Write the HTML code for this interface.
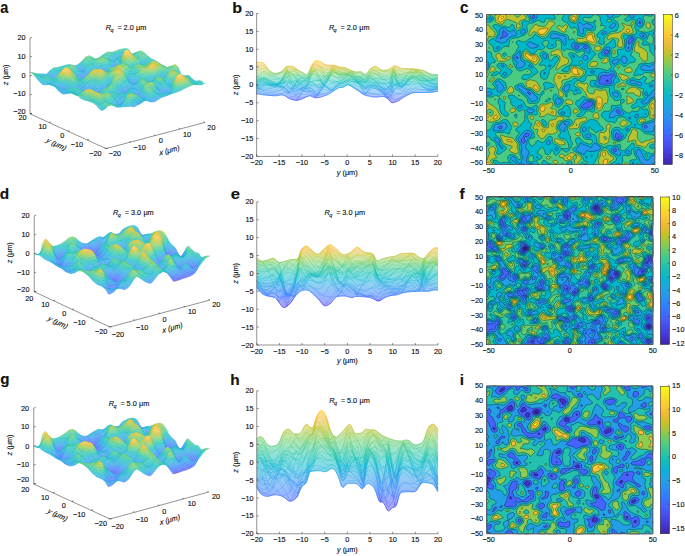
<!DOCTYPE html><html><head><meta charset="utf-8"><style>html,body{margin:0;padding:0;background:#fff;overflow:hidden}svg{display:block;font-family:"Liberation Sans",sans-serif}text{fill:#111;stroke:#111;stroke-width:.14px}</style></head><body><svg width="685" height="556" viewBox="0 0 685 556" font-family="Liberation Sans, sans-serif" fill="#000"><defs><linearGradient id="parv" x1="0" y1="0" x2="0" y2="1"><stop offset="0.0000" stop-color="#f9fb15"/><stop offset="0.0625" stop-color="#f5e327"/><stop offset="0.1250" stop-color="#feca33"/><stop offset="0.1875" stop-color="#f1ba37"/><stop offset="0.2500" stop-color="#c8c129"/><stop offset="0.3125" stop-color="#94ca4a"/><stop offset="0.3750" stop-color="#5ccc76"/><stop offset="0.4375" stop-color="#34c79c"/><stop offset="0.5000" stop-color="#12beb9"/><stop offset="0.5625" stop-color="#0cb3d3"/><stop offset="0.6250" stop-color="#21a3e3"/><stop offset="0.6875" stop-color="#2c90f0"/><stop offset="0.7500" stop-color="#347afd"/><stop offset="0.8125" stop-color="#4562fc"/><stop offset="0.8750" stop-color="#484cef"/><stop offset="0.9375" stop-color="#4536d5"/><stop offset="1.0000" stop-color="#3e26a8"/></linearGradient><linearGradient id="Af"><stop offset="0" stop-color="#7463c1"/><stop offset="0.0833" stop-color="#7a73e9"/><stop offset="0.167" stop-color="#7a89fb"/><stop offset="0.25" stop-color="#6d9ffd"/><stop offset="0.333" stop-color="#64b4f1"/><stop offset="0.417" stop-color="#58c5e4"/><stop offset="0.5" stop-color="#54d0cd"/><stop offset="0.583" stop-color="#73d8af"/><stop offset="0.667" stop-color="#a4da87"/><stop offset="0.75" stop-color="#d8d265"/><stop offset="0.833" stop-color="#fccf73"/><stop offset="0.917" stop-color="#fae566"/><stop offset="1" stop-color="#fbfc56"/></linearGradient><linearGradient id="As"><stop offset="0" stop-color="#3e26a8"/><stop offset="0.0833" stop-color="#463de0"/><stop offset="0.167" stop-color="#475bf9"/><stop offset="0.25" stop-color="#347afd"/><stop offset="0.333" stop-color="#2797eb"/><stop offset="0.417" stop-color="#17aeda"/><stop offset="0.5" stop-color="#12beb9"/><stop offset="0.583" stop-color="#3dc990"/><stop offset="0.667" stop-color="#81cc59"/><stop offset="0.75" stop-color="#c8c129"/><stop offset="0.833" stop-color="#fbbc3d"/><stop offset="0.917" stop-color="#f7db2b"/><stop offset="1" stop-color="#f9fb15"/></linearGradient><linearGradient id="Af79" href="#Af" gradientUnits="userSpaceOnUse" x1="320" y1="305" x2="292" y2="199"/><linearGradient id="As79" href="#As" gradientUnits="userSpaceOnUse" x1="320" y1="305" x2="292" y2="199"/><linearGradient id="Af78" href="#Af" gradientUnits="userSpaceOnUse" x1="324" y1="307" x2="296" y2="201"/><linearGradient id="As78" href="#As" gradientUnits="userSpaceOnUse" x1="324" y1="307" x2="296" y2="201"/><linearGradient id="Af77" href="#Af" gradientUnits="userSpaceOnUse" x1="328" y1="309" x2="299" y2="202"/><linearGradient id="As77" href="#As" gradientUnits="userSpaceOnUse" x1="328" y1="309" x2="299" y2="202"/><linearGradient id="Af76" href="#Af" gradientUnits="userSpaceOnUse" x1="331" y1="310" x2="303" y2="204"/><linearGradient id="As76" href="#As" gradientUnits="userSpaceOnUse" x1="331" y1="310" x2="303" y2="204"/><linearGradient id="Af75" href="#Af" gradientUnits="userSpaceOnUse" x1="335" y1="312" x2="307" y2="206"/><linearGradient id="As75" href="#As" gradientUnits="userSpaceOnUse" x1="335" y1="312" x2="307" y2="206"/><linearGradient id="Af74" href="#Af" gradientUnits="userSpaceOnUse" x1="339" y1="314" x2="311" y2="208"/><linearGradient id="As74" href="#As" gradientUnits="userSpaceOnUse" x1="339" y1="314" x2="311" y2="208"/><linearGradient id="Af73" href="#Af" gradientUnits="userSpaceOnUse" x1="343" y1="316" x2="315" y2="209"/><linearGradient id="As73" href="#As" gradientUnits="userSpaceOnUse" x1="343" y1="316" x2="315" y2="209"/><linearGradient id="Af72" href="#Af" gradientUnits="userSpaceOnUse" x1="346" y1="317" x2="318" y2="211"/><linearGradient id="As72" href="#As" gradientUnits="userSpaceOnUse" x1="346" y1="317" x2="318" y2="211"/><linearGradient id="Af71" href="#Af" gradientUnits="userSpaceOnUse" x1="350" y1="319" x2="322" y2="213"/><linearGradient id="As71" href="#As" gradientUnits="userSpaceOnUse" x1="350" y1="319" x2="322" y2="213"/><linearGradient id="Af70" href="#Af" gradientUnits="userSpaceOnUse" x1="354" y1="321" x2="326" y2="215"/><linearGradient id="As70" href="#As" gradientUnits="userSpaceOnUse" x1="354" y1="321" x2="326" y2="215"/><linearGradient id="Af69" href="#Af" gradientUnits="userSpaceOnUse" x1="358" y1="323" x2="330" y2="216"/><linearGradient id="As69" href="#As" gradientUnits="userSpaceOnUse" x1="358" y1="323" x2="330" y2="216"/><linearGradient id="Af68" href="#Af" gradientUnits="userSpaceOnUse" x1="362" y1="324" x2="334" y2="218"/><linearGradient id="As68" href="#As" gradientUnits="userSpaceOnUse" x1="362" y1="324" x2="334" y2="218"/><linearGradient id="Af67" href="#Af" gradientUnits="userSpaceOnUse" x1="366" y1="326" x2="337" y2="220"/><linearGradient id="As67" href="#As" gradientUnits="userSpaceOnUse" x1="366" y1="326" x2="337" y2="220"/><linearGradient id="Af66" href="#Af" gradientUnits="userSpaceOnUse" x1="369" y1="328" x2="341" y2="221"/><linearGradient id="As66" href="#As" gradientUnits="userSpaceOnUse" x1="369" y1="328" x2="341" y2="221"/><linearGradient id="Af65" href="#Af" gradientUnits="userSpaceOnUse" x1="373" y1="329" x2="345" y2="223"/><linearGradient id="As65" href="#As" gradientUnits="userSpaceOnUse" x1="373" y1="329" x2="345" y2="223"/><linearGradient id="Af64" href="#Af" gradientUnits="userSpaceOnUse" x1="377" y1="331" x2="349" y2="225"/><linearGradient id="As64" href="#As" gradientUnits="userSpaceOnUse" x1="377" y1="331" x2="349" y2="225"/><linearGradient id="Af63" href="#Af" gradientUnits="userSpaceOnUse" x1="381" y1="333" x2="353" y2="227"/><linearGradient id="As63" href="#As" gradientUnits="userSpaceOnUse" x1="381" y1="333" x2="353" y2="227"/><linearGradient id="Af62" href="#Af" gradientUnits="userSpaceOnUse" x1="384" y1="335" x2="356" y2="228"/><linearGradient id="As62" href="#As" gradientUnits="userSpaceOnUse" x1="384" y1="335" x2="356" y2="228"/><linearGradient id="Af61" href="#Af" gradientUnits="userSpaceOnUse" x1="388" y1="336" x2="360" y2="230"/><linearGradient id="As61" href="#As" gradientUnits="userSpaceOnUse" x1="388" y1="336" x2="360" y2="230"/><linearGradient id="Af60" href="#Af" gradientUnits="userSpaceOnUse" x1="392" y1="338" x2="364" y2="232"/><linearGradient id="As60" href="#As" gradientUnits="userSpaceOnUse" x1="392" y1="338" x2="364" y2="232"/><linearGradient id="Af59" href="#Af" gradientUnits="userSpaceOnUse" x1="396" y1="340" x2="368" y2="234"/><linearGradient id="As59" href="#As" gradientUnits="userSpaceOnUse" x1="396" y1="340" x2="368" y2="234"/><linearGradient id="Af58" href="#Af" gradientUnits="userSpaceOnUse" x1="400" y1="342" x2="372" y2="235"/><linearGradient id="As58" href="#As" gradientUnits="userSpaceOnUse" x1="400" y1="342" x2="372" y2="235"/><linearGradient id="Af57" href="#Af" gradientUnits="userSpaceOnUse" x1="404" y1="343" x2="375" y2="237"/><linearGradient id="As57" href="#As" gradientUnits="userSpaceOnUse" x1="404" y1="343" x2="375" y2="237"/><linearGradient id="Af56" href="#Af" gradientUnits="userSpaceOnUse" x1="407" y1="345" x2="379" y2="239"/><linearGradient id="As56" href="#As" gradientUnits="userSpaceOnUse" x1="407" y1="345" x2="379" y2="239"/><linearGradient id="Af55" href="#Af" gradientUnits="userSpaceOnUse" x1="411" y1="347" x2="383" y2="241"/><linearGradient id="As55" href="#As" gradientUnits="userSpaceOnUse" x1="411" y1="347" x2="383" y2="241"/><linearGradient id="Af54" href="#Af" gradientUnits="userSpaceOnUse" x1="415" y1="349" x2="387" y2="242"/><linearGradient id="As54" href="#As" gradientUnits="userSpaceOnUse" x1="415" y1="349" x2="387" y2="242"/><linearGradient id="Af53" href="#Af" gradientUnits="userSpaceOnUse" x1="419" y1="350" x2="391" y2="244"/><linearGradient id="As53" href="#As" gradientUnits="userSpaceOnUse" x1="419" y1="350" x2="391" y2="244"/><linearGradient id="Af52" href="#Af" gradientUnits="userSpaceOnUse" x1="422" y1="352" x2="394" y2="246"/><linearGradient id="As52" href="#As" gradientUnits="userSpaceOnUse" x1="422" y1="352" x2="394" y2="246"/><linearGradient id="Af51" href="#Af" gradientUnits="userSpaceOnUse" x1="426" y1="354" x2="398" y2="248"/><linearGradient id="As51" href="#As" gradientUnits="userSpaceOnUse" x1="426" y1="354" x2="398" y2="248"/><linearGradient id="Af50" href="#Af" gradientUnits="userSpaceOnUse" x1="430" y1="356" x2="402" y2="249"/><linearGradient id="As50" href="#As" gradientUnits="userSpaceOnUse" x1="430" y1="356" x2="402" y2="249"/><linearGradient id="Af49" href="#Af" gradientUnits="userSpaceOnUse" x1="434" y1="357" x2="406" y2="251"/><linearGradient id="As49" href="#As" gradientUnits="userSpaceOnUse" x1="434" y1="357" x2="406" y2="251"/><linearGradient id="Af48" href="#Af" gradientUnits="userSpaceOnUse" x1="438" y1="359" x2="410" y2="253"/><linearGradient id="As48" href="#As" gradientUnits="userSpaceOnUse" x1="438" y1="359" x2="410" y2="253"/><linearGradient id="Af47" href="#Af" gradientUnits="userSpaceOnUse" x1="442" y1="361" x2="413" y2="255"/><linearGradient id="As47" href="#As" gradientUnits="userSpaceOnUse" x1="442" y1="361" x2="413" y2="255"/><linearGradient id="Af46" href="#Af" gradientUnits="userSpaceOnUse" x1="445" y1="363" x2="417" y2="256"/><linearGradient id="As46" href="#As" gradientUnits="userSpaceOnUse" x1="445" y1="363" x2="417" y2="256"/><linearGradient id="Af45" href="#Af" gradientUnits="userSpaceOnUse" x1="449" y1="364" x2="421" y2="258"/><linearGradient id="As45" href="#As" gradientUnits="userSpaceOnUse" x1="449" y1="364" x2="421" y2="258"/><linearGradient id="Af44" href="#Af" gradientUnits="userSpaceOnUse" x1="453" y1="366" x2="425" y2="260"/><linearGradient id="As44" href="#As" gradientUnits="userSpaceOnUse" x1="453" y1="366" x2="425" y2="260"/><linearGradient id="Af43" href="#Af" gradientUnits="userSpaceOnUse" x1="457" y1="368" x2="429" y2="262"/><linearGradient id="As43" href="#As" gradientUnits="userSpaceOnUse" x1="457" y1="368" x2="429" y2="262"/><linearGradient id="Af42" href="#Af" gradientUnits="userSpaceOnUse" x1="460" y1="370" x2="432" y2="263"/><linearGradient id="As42" href="#As" gradientUnits="userSpaceOnUse" x1="460" y1="370" x2="432" y2="263"/><linearGradient id="Af41" href="#Af" gradientUnits="userSpaceOnUse" x1="464" y1="371" x2="436" y2="265"/><linearGradient id="As41" href="#As" gradientUnits="userSpaceOnUse" x1="464" y1="371" x2="436" y2="265"/><linearGradient id="Af40" href="#Af" gradientUnits="userSpaceOnUse" x1="468" y1="373" x2="440" y2="267"/><linearGradient id="As40" href="#As" gradientUnits="userSpaceOnUse" x1="468" y1="373" x2="440" y2="267"/><linearGradient id="Af39" href="#Af" gradientUnits="userSpaceOnUse" x1="472" y1="375" x2="444" y2="268"/><linearGradient id="As39" href="#As" gradientUnits="userSpaceOnUse" x1="472" y1="375" x2="444" y2="268"/><linearGradient id="Af38" href="#Af" gradientUnits="userSpaceOnUse" x1="476" y1="376" x2="448" y2="270"/><linearGradient id="As38" href="#As" gradientUnits="userSpaceOnUse" x1="476" y1="376" x2="448" y2="270"/><linearGradient id="Af37" href="#Af" gradientUnits="userSpaceOnUse" x1="480" y1="378" x2="451" y2="272"/><linearGradient id="As37" href="#As" gradientUnits="userSpaceOnUse" x1="480" y1="378" x2="451" y2="272"/><linearGradient id="Af36" href="#Af" gradientUnits="userSpaceOnUse" x1="483" y1="380" x2="455" y2="274"/><linearGradient id="As36" href="#As" gradientUnits="userSpaceOnUse" x1="483" y1="380" x2="455" y2="274"/><linearGradient id="Af35" href="#Af" gradientUnits="userSpaceOnUse" x1="487" y1="382" x2="459" y2="275"/><linearGradient id="As35" href="#As" gradientUnits="userSpaceOnUse" x1="487" y1="382" x2="459" y2="275"/><linearGradient id="Af34" href="#Af" gradientUnits="userSpaceOnUse" x1="491" y1="383" x2="463" y2="277"/><linearGradient id="As34" href="#As" gradientUnits="userSpaceOnUse" x1="491" y1="383" x2="463" y2="277"/><linearGradient id="Af33" href="#Af" gradientUnits="userSpaceOnUse" x1="495" y1="385" x2="467" y2="279"/><linearGradient id="As33" href="#As" gradientUnits="userSpaceOnUse" x1="495" y1="385" x2="467" y2="279"/><linearGradient id="Af32" href="#Af" gradientUnits="userSpaceOnUse" x1="498" y1="387" x2="470" y2="281"/><linearGradient id="As32" href="#As" gradientUnits="userSpaceOnUse" x1="498" y1="387" x2="470" y2="281"/><linearGradient id="Af31" href="#Af" gradientUnits="userSpaceOnUse" x1="502" y1="389" x2="474" y2="282"/><linearGradient id="As31" href="#As" gradientUnits="userSpaceOnUse" x1="502" y1="389" x2="474" y2="282"/><linearGradient id="Af30" href="#Af" gradientUnits="userSpaceOnUse" x1="506" y1="390" x2="478" y2="284"/><linearGradient id="As30" href="#As" gradientUnits="userSpaceOnUse" x1="506" y1="390" x2="478" y2="284"/><linearGradient id="Af29" href="#Af" gradientUnits="userSpaceOnUse" x1="510" y1="392" x2="482" y2="286"/><linearGradient id="As29" href="#As" gradientUnits="userSpaceOnUse" x1="510" y1="392" x2="482" y2="286"/><linearGradient id="Af28" href="#Af" gradientUnits="userSpaceOnUse" x1="514" y1="394" x2="486" y2="288"/><linearGradient id="As28" href="#As" gradientUnits="userSpaceOnUse" x1="514" y1="394" x2="486" y2="288"/><linearGradient id="Af27" href="#Af" gradientUnits="userSpaceOnUse" x1="518" y1="396" x2="489" y2="289"/><linearGradient id="As27" href="#As" gradientUnits="userSpaceOnUse" x1="518" y1="396" x2="489" y2="289"/><linearGradient id="Af26" href="#Af" gradientUnits="userSpaceOnUse" x1="521" y1="397" x2="493" y2="291"/><linearGradient id="As26" href="#As" gradientUnits="userSpaceOnUse" x1="521" y1="397" x2="493" y2="291"/><linearGradient id="Af25" href="#Af" gradientUnits="userSpaceOnUse" x1="525" y1="399" x2="497" y2="293"/><linearGradient id="As25" href="#As" gradientUnits="userSpaceOnUse" x1="525" y1="399" x2="497" y2="293"/><linearGradient id="Af24" href="#Af" gradientUnits="userSpaceOnUse" x1="529" y1="401" x2="501" y2="295"/><linearGradient id="As24" href="#As" gradientUnits="userSpaceOnUse" x1="529" y1="401" x2="501" y2="295"/><linearGradient id="Af23" href="#Af" gradientUnits="userSpaceOnUse" x1="533" y1="403" x2="505" y2="296"/><linearGradient id="As23" href="#As" gradientUnits="userSpaceOnUse" x1="533" y1="403" x2="505" y2="296"/><linearGradient id="Af22" href="#Af" gradientUnits="userSpaceOnUse" x1="536" y1="404" x2="508" y2="298"/><linearGradient id="As22" href="#As" gradientUnits="userSpaceOnUse" x1="536" y1="404" x2="508" y2="298"/><linearGradient id="Af21" href="#Af" gradientUnits="userSpaceOnUse" x1="540" y1="406" x2="512" y2="300"/><linearGradient id="As21" href="#As" gradientUnits="userSpaceOnUse" x1="540" y1="406" x2="512" y2="300"/><linearGradient id="Af20" href="#Af" gradientUnits="userSpaceOnUse" x1="544" y1="408" x2="516" y2="302"/><linearGradient id="As20" href="#As" gradientUnits="userSpaceOnUse" x1="544" y1="408" x2="516" y2="302"/><linearGradient id="Af19" href="#Af" gradientUnits="userSpaceOnUse" x1="548" y1="410" x2="520" y2="303"/><linearGradient id="As19" href="#As" gradientUnits="userSpaceOnUse" x1="548" y1="410" x2="520" y2="303"/><linearGradient id="Af18" href="#Af" gradientUnits="userSpaceOnUse" x1="552" y1="411" x2="524" y2="305"/><linearGradient id="As18" href="#As" gradientUnits="userSpaceOnUse" x1="552" y1="411" x2="524" y2="305"/><linearGradient id="Af17" href="#Af" gradientUnits="userSpaceOnUse" x1="556" y1="413" x2="527" y2="307"/><linearGradient id="As17" href="#As" gradientUnits="userSpaceOnUse" x1="556" y1="413" x2="527" y2="307"/><linearGradient id="Af16" href="#Af" gradientUnits="userSpaceOnUse" x1="559" y1="415" x2="531" y2="308"/><linearGradient id="As16" href="#As" gradientUnits="userSpaceOnUse" x1="559" y1="415" x2="531" y2="308"/><linearGradient id="Af15" href="#Af" gradientUnits="userSpaceOnUse" x1="563" y1="416" x2="535" y2="310"/><linearGradient id="As15" href="#As" gradientUnits="userSpaceOnUse" x1="563" y1="416" x2="535" y2="310"/><linearGradient id="Af14" href="#Af" gradientUnits="userSpaceOnUse" x1="567" y1="418" x2="539" y2="312"/><linearGradient id="As14" href="#As" gradientUnits="userSpaceOnUse" x1="567" y1="418" x2="539" y2="312"/><linearGradient id="Af13" href="#Af" gradientUnits="userSpaceOnUse" x1="571" y1="420" x2="543" y2="314"/><linearGradient id="As13" href="#As" gradientUnits="userSpaceOnUse" x1="571" y1="420" x2="543" y2="314"/><linearGradient id="Af12" href="#Af" gradientUnits="userSpaceOnUse" x1="574" y1="422" x2="546" y2="315"/><linearGradient id="As12" href="#As" gradientUnits="userSpaceOnUse" x1="574" y1="422" x2="546" y2="315"/><linearGradient id="Af11" href="#Af" gradientUnits="userSpaceOnUse" x1="578" y1="423" x2="550" y2="317"/><linearGradient id="As11" href="#As" gradientUnits="userSpaceOnUse" x1="578" y1="423" x2="550" y2="317"/><linearGradient id="Af10" href="#Af" gradientUnits="userSpaceOnUse" x1="582" y1="425" x2="554" y2="319"/><linearGradient id="As10" href="#As" gradientUnits="userSpaceOnUse" x1="582" y1="425" x2="554" y2="319"/><linearGradient id="Af9" href="#Af" gradientUnits="userSpaceOnUse" x1="586" y1="427" x2="558" y2="321"/><linearGradient id="As9" href="#As" gradientUnits="userSpaceOnUse" x1="586" y1="427" x2="558" y2="321"/><linearGradient id="Af8" href="#Af" gradientUnits="userSpaceOnUse" x1="590" y1="429" x2="562" y2="322"/><linearGradient id="As8" href="#As" gradientUnits="userSpaceOnUse" x1="590" y1="429" x2="562" y2="322"/><linearGradient id="Af7" href="#Af" gradientUnits="userSpaceOnUse" x1="594" y1="430" x2="565" y2="324"/><linearGradient id="As7" href="#As" gradientUnits="userSpaceOnUse" x1="594" y1="430" x2="565" y2="324"/><linearGradient id="Af6" href="#Af" gradientUnits="userSpaceOnUse" x1="597" y1="432" x2="569" y2="326"/><linearGradient id="As6" href="#As" gradientUnits="userSpaceOnUse" x1="597" y1="432" x2="569" y2="326"/><linearGradient id="Af5" href="#Af" gradientUnits="userSpaceOnUse" x1="601" y1="434" x2="573" y2="328"/><linearGradient id="As5" href="#As" gradientUnits="userSpaceOnUse" x1="601" y1="434" x2="573" y2="328"/><linearGradient id="Af4" href="#Af" gradientUnits="userSpaceOnUse" x1="605" y1="436" x2="577" y2="329"/><linearGradient id="As4" href="#As" gradientUnits="userSpaceOnUse" x1="605" y1="436" x2="577" y2="329"/><linearGradient id="Af3" href="#Af" gradientUnits="userSpaceOnUse" x1="609" y1="437" x2="581" y2="331"/><linearGradient id="As3" href="#As" gradientUnits="userSpaceOnUse" x1="609" y1="437" x2="581" y2="331"/><linearGradient id="Af2" href="#Af" gradientUnits="userSpaceOnUse" x1="612" y1="439" x2="584" y2="333"/><linearGradient id="As2" href="#As" gradientUnits="userSpaceOnUse" x1="612" y1="439" x2="584" y2="333"/><linearGradient id="Af1" href="#Af" gradientUnits="userSpaceOnUse" x1="616" y1="441" x2="588" y2="335"/><linearGradient id="As1" href="#As" gradientUnits="userSpaceOnUse" x1="616" y1="441" x2="588" y2="335"/><linearGradient id="Af0" href="#Af" gradientUnits="userSpaceOnUse" x1="620" y1="443" x2="592" y2="336"/><linearGradient id="As0" href="#As" gradientUnits="userSpaceOnUse" x1="620" y1="443" x2="592" y2="336"/><linearGradient id="Df"><stop offset="0" stop-color="#7463c1"/><stop offset="0.0833" stop-color="#7a73e9"/><stop offset="0.167" stop-color="#7a89fb"/><stop offset="0.25" stop-color="#6d9ffd"/><stop offset="0.333" stop-color="#64b4f1"/><stop offset="0.417" stop-color="#58c5e4"/><stop offset="0.5" stop-color="#54d0cd"/><stop offset="0.583" stop-color="#73d8af"/><stop offset="0.667" stop-color="#a4da87"/><stop offset="0.75" stop-color="#d8d265"/><stop offset="0.833" stop-color="#fccf73"/><stop offset="0.917" stop-color="#fae566"/><stop offset="1" stop-color="#fbfc56"/></linearGradient><linearGradient id="Ds"><stop offset="0" stop-color="#3e26a8"/><stop offset="0.0833" stop-color="#463de0"/><stop offset="0.167" stop-color="#475bf9"/><stop offset="0.25" stop-color="#347afd"/><stop offset="0.333" stop-color="#2797eb"/><stop offset="0.417" stop-color="#17aeda"/><stop offset="0.5" stop-color="#12beb9"/><stop offset="0.583" stop-color="#3dc990"/><stop offset="0.667" stop-color="#81cc59"/><stop offset="0.75" stop-color="#c8c129"/><stop offset="0.833" stop-color="#fbbc3d"/><stop offset="0.917" stop-color="#f7db2b"/><stop offset="1" stop-color="#f9fb15"/></linearGradient><linearGradient id="Df79" href="#Df" gradientUnits="userSpaceOnUse" x1="339" y1="1015" x2="308" y2="902"/><linearGradient id="Ds79" href="#Ds" gradientUnits="userSpaceOnUse" x1="339" y1="1015" x2="308" y2="902"/><linearGradient id="Df78" href="#Df" gradientUnits="userSpaceOnUse" x1="343" y1="1017" x2="312" y2="904"/><linearGradient id="Ds78" href="#Ds" gradientUnits="userSpaceOnUse" x1="343" y1="1017" x2="312" y2="904"/><linearGradient id="Df77" href="#Df" gradientUnits="userSpaceOnUse" x1="346" y1="1019" x2="316" y2="905"/><linearGradient id="Ds77" href="#Ds" gradientUnits="userSpaceOnUse" x1="346" y1="1019" x2="316" y2="905"/><linearGradient id="Df76" href="#Df" gradientUnits="userSpaceOnUse" x1="350" y1="1020" x2="320" y2="907"/><linearGradient id="Ds76" href="#Ds" gradientUnits="userSpaceOnUse" x1="350" y1="1020" x2="320" y2="907"/><linearGradient id="Df75" href="#Df" gradientUnits="userSpaceOnUse" x1="354" y1="1022" x2="323" y2="909"/><linearGradient id="Ds75" href="#Ds" gradientUnits="userSpaceOnUse" x1="354" y1="1022" x2="323" y2="909"/><linearGradient id="Df74" href="#Df" gradientUnits="userSpaceOnUse" x1="358" y1="1024" x2="327" y2="911"/><linearGradient id="Ds74" href="#Ds" gradientUnits="userSpaceOnUse" x1="358" y1="1024" x2="327" y2="911"/><linearGradient id="Df73" href="#Df" gradientUnits="userSpaceOnUse" x1="362" y1="1026" x2="331" y2="912"/><linearGradient id="Ds73" href="#Ds" gradientUnits="userSpaceOnUse" x1="362" y1="1026" x2="331" y2="912"/><linearGradient id="Df72" href="#Df" gradientUnits="userSpaceOnUse" x1="365" y1="1027" x2="335" y2="914"/><linearGradient id="Ds72" href="#Ds" gradientUnits="userSpaceOnUse" x1="365" y1="1027" x2="335" y2="914"/><linearGradient id="Df71" href="#Df" gradientUnits="userSpaceOnUse" x1="369" y1="1029" x2="339" y2="916"/><linearGradient id="Ds71" href="#Ds" gradientUnits="userSpaceOnUse" x1="369" y1="1029" x2="339" y2="916"/><linearGradient id="Df70" href="#Df" gradientUnits="userSpaceOnUse" x1="373" y1="1031" x2="342" y2="918"/><linearGradient id="Ds70" href="#Ds" gradientUnits="userSpaceOnUse" x1="373" y1="1031" x2="342" y2="918"/><linearGradient id="Df69" href="#Df" gradientUnits="userSpaceOnUse" x1="377" y1="1033" x2="346" y2="919"/><linearGradient id="Ds69" href="#Ds" gradientUnits="userSpaceOnUse" x1="377" y1="1033" x2="346" y2="919"/><linearGradient id="Df68" href="#Df" gradientUnits="userSpaceOnUse" x1="381" y1="1034" x2="350" y2="921"/><linearGradient id="Ds68" href="#Ds" gradientUnits="userSpaceOnUse" x1="381" y1="1034" x2="350" y2="921"/><linearGradient id="Df67" href="#Df" gradientUnits="userSpaceOnUse" x1="384" y1="1036" x2="354" y2="923"/><linearGradient id="Ds67" href="#Ds" gradientUnits="userSpaceOnUse" x1="384" y1="1036" x2="354" y2="923"/><linearGradient id="Df66" href="#Df" gradientUnits="userSpaceOnUse" x1="388" y1="1038" x2="358" y2="925"/><linearGradient id="Ds66" href="#Ds" gradientUnits="userSpaceOnUse" x1="388" y1="1038" x2="358" y2="925"/><linearGradient id="Df65" href="#Df" gradientUnits="userSpaceOnUse" x1="392" y1="1040" x2="361" y2="926"/><linearGradient id="Ds65" href="#Ds" gradientUnits="userSpaceOnUse" x1="392" y1="1040" x2="361" y2="926"/><linearGradient id="Df64" href="#Df" gradientUnits="userSpaceOnUse" x1="396" y1="1042" x2="365" y2="928"/><linearGradient id="Ds64" href="#Ds" gradientUnits="userSpaceOnUse" x1="396" y1="1042" x2="365" y2="928"/><linearGradient id="Df63" href="#Df" gradientUnits="userSpaceOnUse" x1="399" y1="1043" x2="369" y2="930"/><linearGradient id="Ds63" href="#Ds" gradientUnits="userSpaceOnUse" x1="399" y1="1043" x2="369" y2="930"/><linearGradient id="Df62" href="#Df" gradientUnits="userSpaceOnUse" x1="403" y1="1045" x2="373" y2="932"/><linearGradient id="Ds62" href="#Ds" gradientUnits="userSpaceOnUse" x1="403" y1="1045" x2="373" y2="932"/><linearGradient id="Df61" href="#Df" gradientUnits="userSpaceOnUse" x1="407" y1="1047" x2="376" y2="933"/><linearGradient id="Ds61" href="#Ds" gradientUnits="userSpaceOnUse" x1="407" y1="1047" x2="376" y2="933"/><linearGradient id="Df60" href="#Df" gradientUnits="userSpaceOnUse" x1="411" y1="1049" x2="380" y2="935"/><linearGradient id="Ds60" href="#Ds" gradientUnits="userSpaceOnUse" x1="411" y1="1049" x2="380" y2="935"/><linearGradient id="Df59" href="#Df" gradientUnits="userSpaceOnUse" x1="415" y1="1050" x2="384" y2="937"/><linearGradient id="Ds59" href="#Ds" gradientUnits="userSpaceOnUse" x1="415" y1="1050" x2="384" y2="937"/><linearGradient id="Df58" href="#Df" gradientUnits="userSpaceOnUse" x1="418" y1="1052" x2="388" y2="939"/><linearGradient id="Ds58" href="#Ds" gradientUnits="userSpaceOnUse" x1="418" y1="1052" x2="388" y2="939"/><linearGradient id="Df57" href="#Df" gradientUnits="userSpaceOnUse" x1="422" y1="1054" x2="392" y2="941"/><linearGradient id="Ds57" href="#Ds" gradientUnits="userSpaceOnUse" x1="422" y1="1054" x2="392" y2="941"/><linearGradient id="Df56" href="#Df" gradientUnits="userSpaceOnUse" x1="426" y1="1056" x2="395" y2="942"/><linearGradient id="Ds56" href="#Ds" gradientUnits="userSpaceOnUse" x1="426" y1="1056" x2="395" y2="942"/><linearGradient id="Df55" href="#Df" gradientUnits="userSpaceOnUse" x1="430" y1="1057" x2="399" y2="944"/><linearGradient id="Ds55" href="#Ds" gradientUnits="userSpaceOnUse" x1="430" y1="1057" x2="399" y2="944"/><linearGradient id="Df54" href="#Df" gradientUnits="userSpaceOnUse" x1="434" y1="1059" x2="403" y2="946"/><linearGradient id="Ds54" href="#Ds" gradientUnits="userSpaceOnUse" x1="434" y1="1059" x2="403" y2="946"/><linearGradient id="Df53" href="#Df" gradientUnits="userSpaceOnUse" x1="437" y1="1061" x2="407" y2="948"/><linearGradient id="Ds53" href="#Ds" gradientUnits="userSpaceOnUse" x1="437" y1="1061" x2="407" y2="948"/><linearGradient id="Df52" href="#Df" gradientUnits="userSpaceOnUse" x1="441" y1="1063" x2="411" y2="949"/><linearGradient id="Ds52" href="#Ds" gradientUnits="userSpaceOnUse" x1="441" y1="1063" x2="411" y2="949"/><linearGradient id="Df51" href="#Df" gradientUnits="userSpaceOnUse" x1="445" y1="1064" x2="414" y2="951"/><linearGradient id="Ds51" href="#Ds" gradientUnits="userSpaceOnUse" x1="445" y1="1064" x2="414" y2="951"/><linearGradient id="Df50" href="#Df" gradientUnits="userSpaceOnUse" x1="449" y1="1066" x2="418" y2="953"/><linearGradient id="Ds50" href="#Ds" gradientUnits="userSpaceOnUse" x1="449" y1="1066" x2="418" y2="953"/><linearGradient id="Df49" href="#Df" gradientUnits="userSpaceOnUse" x1="453" y1="1068" x2="422" y2="955"/><linearGradient id="Ds49" href="#Ds" gradientUnits="userSpaceOnUse" x1="453" y1="1068" x2="422" y2="955"/><linearGradient id="Df48" href="#Df" gradientUnits="userSpaceOnUse" x1="456" y1="1070" x2="426" y2="956"/><linearGradient id="Ds48" href="#Ds" gradientUnits="userSpaceOnUse" x1="456" y1="1070" x2="426" y2="956"/><linearGradient id="Df47" href="#Df" gradientUnits="userSpaceOnUse" x1="460" y1="1071" x2="429" y2="958"/><linearGradient id="Ds47" href="#Ds" gradientUnits="userSpaceOnUse" x1="460" y1="1071" x2="429" y2="958"/><linearGradient id="Df46" href="#Df" gradientUnits="userSpaceOnUse" x1="464" y1="1073" x2="433" y2="960"/><linearGradient id="Ds46" href="#Ds" gradientUnits="userSpaceOnUse" x1="464" y1="1073" x2="433" y2="960"/><linearGradient id="Df45" href="#Df" gradientUnits="userSpaceOnUse" x1="468" y1="1075" x2="437" y2="962"/><linearGradient id="Ds45" href="#Ds" gradientUnits="userSpaceOnUse" x1="468" y1="1075" x2="437" y2="962"/><linearGradient id="Df44" href="#Df" gradientUnits="userSpaceOnUse" x1="471" y1="1077" x2="441" y2="963"/><linearGradient id="Ds44" href="#Ds" gradientUnits="userSpaceOnUse" x1="471" y1="1077" x2="441" y2="963"/><linearGradient id="Df43" href="#Df" gradientUnits="userSpaceOnUse" x1="475" y1="1079" x2="445" y2="965"/><linearGradient id="Ds43" href="#Ds" gradientUnits="userSpaceOnUse" x1="475" y1="1079" x2="445" y2="965"/><linearGradient id="Df42" href="#Df" gradientUnits="userSpaceOnUse" x1="479" y1="1080" x2="448" y2="967"/><linearGradient id="Ds42" href="#Ds" gradientUnits="userSpaceOnUse" x1="479" y1="1080" x2="448" y2="967"/><linearGradient id="Df41" href="#Df" gradientUnits="userSpaceOnUse" x1="483" y1="1082" x2="452" y2="969"/><linearGradient id="Ds41" href="#Ds" gradientUnits="userSpaceOnUse" x1="483" y1="1082" x2="452" y2="969"/><linearGradient id="Df40" href="#Df" gradientUnits="userSpaceOnUse" x1="487" y1="1084" x2="456" y2="970"/><linearGradient id="Ds40" href="#Ds" gradientUnits="userSpaceOnUse" x1="487" y1="1084" x2="456" y2="970"/><linearGradient id="Df39" href="#Df" gradientUnits="userSpaceOnUse" x1="490" y1="1086" x2="460" y2="972"/><linearGradient id="Ds39" href="#Ds" gradientUnits="userSpaceOnUse" x1="490" y1="1086" x2="460" y2="972"/><linearGradient id="Df38" href="#Df" gradientUnits="userSpaceOnUse" x1="494" y1="1087" x2="464" y2="974"/><linearGradient id="Ds38" href="#Ds" gradientUnits="userSpaceOnUse" x1="494" y1="1087" x2="464" y2="974"/><linearGradient id="Df37" href="#Df" gradientUnits="userSpaceOnUse" x1="498" y1="1089" x2="467" y2="976"/><linearGradient id="Ds37" href="#Ds" gradientUnits="userSpaceOnUse" x1="498" y1="1089" x2="467" y2="976"/><linearGradient id="Df36" href="#Df" gradientUnits="userSpaceOnUse" x1="502" y1="1091" x2="471" y2="978"/><linearGradient id="Ds36" href="#Ds" gradientUnits="userSpaceOnUse" x1="502" y1="1091" x2="471" y2="978"/><linearGradient id="Df35" href="#Df" gradientUnits="userSpaceOnUse" x1="506" y1="1093" x2="475" y2="979"/><linearGradient id="Ds35" href="#Ds" gradientUnits="userSpaceOnUse" x1="506" y1="1093" x2="475" y2="979"/><linearGradient id="Df34" href="#Df" gradientUnits="userSpaceOnUse" x1="509" y1="1094" x2="479" y2="981"/><linearGradient id="Ds34" href="#Ds" gradientUnits="userSpaceOnUse" x1="509" y1="1094" x2="479" y2="981"/><linearGradient id="Df33" href="#Df" gradientUnits="userSpaceOnUse" x1="513" y1="1096" x2="483" y2="983"/><linearGradient id="Ds33" href="#Ds" gradientUnits="userSpaceOnUse" x1="513" y1="1096" x2="483" y2="983"/><linearGradient id="Df32" href="#Df" gradientUnits="userSpaceOnUse" x1="517" y1="1098" x2="486" y2="985"/><linearGradient id="Ds32" href="#Ds" gradientUnits="userSpaceOnUse" x1="517" y1="1098" x2="486" y2="985"/><linearGradient id="Df31" href="#Df" gradientUnits="userSpaceOnUse" x1="521" y1="1100" x2="490" y2="986"/><linearGradient id="Ds31" href="#Ds" gradientUnits="userSpaceOnUse" x1="521" y1="1100" x2="490" y2="986"/><linearGradient id="Df30" href="#Df" gradientUnits="userSpaceOnUse" x1="524" y1="1101" x2="494" y2="988"/><linearGradient id="Ds30" href="#Ds" gradientUnits="userSpaceOnUse" x1="524" y1="1101" x2="494" y2="988"/><linearGradient id="Df29" href="#Df" gradientUnits="userSpaceOnUse" x1="528" y1="1103" x2="498" y2="990"/><linearGradient id="Ds29" href="#Ds" gradientUnits="userSpaceOnUse" x1="528" y1="1103" x2="498" y2="990"/><linearGradient id="Df28" href="#Df" gradientUnits="userSpaceOnUse" x1="532" y1="1105" x2="501" y2="992"/><linearGradient id="Ds28" href="#Ds" gradientUnits="userSpaceOnUse" x1="532" y1="1105" x2="501" y2="992"/><linearGradient id="Df27" href="#Df" gradientUnits="userSpaceOnUse" x1="536" y1="1107" x2="505" y2="993"/><linearGradient id="Ds27" href="#Ds" gradientUnits="userSpaceOnUse" x1="536" y1="1107" x2="505" y2="993"/><linearGradient id="Df26" href="#Df" gradientUnits="userSpaceOnUse" x1="540" y1="1108" x2="509" y2="995"/><linearGradient id="Ds26" href="#Ds" gradientUnits="userSpaceOnUse" x1="540" y1="1108" x2="509" y2="995"/><linearGradient id="Df25" href="#Df" gradientUnits="userSpaceOnUse" x1="543" y1="1110" x2="513" y2="997"/><linearGradient id="Ds25" href="#Ds" gradientUnits="userSpaceOnUse" x1="543" y1="1110" x2="513" y2="997"/><linearGradient id="Df24" href="#Df" gradientUnits="userSpaceOnUse" x1="547" y1="1112" x2="517" y2="999"/><linearGradient id="Ds24" href="#Ds" gradientUnits="userSpaceOnUse" x1="547" y1="1112" x2="517" y2="999"/><linearGradient id="Df23" href="#Df" gradientUnits="userSpaceOnUse" x1="551" y1="1114" x2="520" y2="1000"/><linearGradient id="Ds23" href="#Ds" gradientUnits="userSpaceOnUse" x1="551" y1="1114" x2="520" y2="1000"/><linearGradient id="Df22" href="#Df" gradientUnits="userSpaceOnUse" x1="555" y1="1116" x2="524" y2="1002"/><linearGradient id="Ds22" href="#Ds" gradientUnits="userSpaceOnUse" x1="555" y1="1116" x2="524" y2="1002"/><linearGradient id="Df21" href="#Df" gradientUnits="userSpaceOnUse" x1="559" y1="1117" x2="528" y2="1004"/><linearGradient id="Ds21" href="#Ds" gradientUnits="userSpaceOnUse" x1="559" y1="1117" x2="528" y2="1004"/><linearGradient id="Df20" href="#Df" gradientUnits="userSpaceOnUse" x1="562" y1="1119" x2="532" y2="1006"/><linearGradient id="Ds20" href="#Ds" gradientUnits="userSpaceOnUse" x1="562" y1="1119" x2="532" y2="1006"/><linearGradient id="Df19" href="#Df" gradientUnits="userSpaceOnUse" x1="566" y1="1121" x2="536" y2="1007"/><linearGradient id="Ds19" href="#Ds" gradientUnits="userSpaceOnUse" x1="566" y1="1121" x2="536" y2="1007"/><linearGradient id="Df18" href="#Df" gradientUnits="userSpaceOnUse" x1="570" y1="1123" x2="539" y2="1009"/><linearGradient id="Ds18" href="#Ds" gradientUnits="userSpaceOnUse" x1="570" y1="1123" x2="539" y2="1009"/><linearGradient id="Df17" href="#Df" gradientUnits="userSpaceOnUse" x1="574" y1="1124" x2="543" y2="1011"/><linearGradient id="Ds17" href="#Ds" gradientUnits="userSpaceOnUse" x1="574" y1="1124" x2="543" y2="1011"/><linearGradient id="Df16" href="#Df" gradientUnits="userSpaceOnUse" x1="578" y1="1126" x2="547" y2="1013"/><linearGradient id="Ds16" href="#Ds" gradientUnits="userSpaceOnUse" x1="578" y1="1126" x2="547" y2="1013"/><linearGradient id="Df15" href="#Df" gradientUnits="userSpaceOnUse" x1="581" y1="1128" x2="551" y2="1015"/><linearGradient id="Ds15" href="#Ds" gradientUnits="userSpaceOnUse" x1="581" y1="1128" x2="551" y2="1015"/><linearGradient id="Df14" href="#Df" gradientUnits="userSpaceOnUse" x1="585" y1="1130" x2="554" y2="1016"/><linearGradient id="Ds14" href="#Ds" gradientUnits="userSpaceOnUse" x1="585" y1="1130" x2="554" y2="1016"/><linearGradient id="Df13" href="#Df" gradientUnits="userSpaceOnUse" x1="589" y1="1131" x2="558" y2="1018"/><linearGradient id="Ds13" href="#Ds" gradientUnits="userSpaceOnUse" x1="589" y1="1131" x2="558" y2="1018"/><linearGradient id="Df12" href="#Df" gradientUnits="userSpaceOnUse" x1="593" y1="1133" x2="562" y2="1020"/><linearGradient id="Ds12" href="#Ds" gradientUnits="userSpaceOnUse" x1="593" y1="1133" x2="562" y2="1020"/><linearGradient id="Df11" href="#Df" gradientUnits="userSpaceOnUse" x1="596" y1="1135" x2="566" y2="1022"/><linearGradient id="Ds11" href="#Ds" gradientUnits="userSpaceOnUse" x1="596" y1="1135" x2="566" y2="1022"/><linearGradient id="Df10" href="#Df" gradientUnits="userSpaceOnUse" x1="600" y1="1137" x2="570" y2="1023"/><linearGradient id="Ds10" href="#Ds" gradientUnits="userSpaceOnUse" x1="600" y1="1137" x2="570" y2="1023"/><linearGradient id="Df9" href="#Df" gradientUnits="userSpaceOnUse" x1="604" y1="1138" x2="573" y2="1025"/><linearGradient id="Ds9" href="#Ds" gradientUnits="userSpaceOnUse" x1="604" y1="1138" x2="573" y2="1025"/><linearGradient id="Df8" href="#Df" gradientUnits="userSpaceOnUse" x1="608" y1="1140" x2="577" y2="1027"/><linearGradient id="Ds8" href="#Ds" gradientUnits="userSpaceOnUse" x1="608" y1="1140" x2="577" y2="1027"/><linearGradient id="Df7" href="#Df" gradientUnits="userSpaceOnUse" x1="612" y1="1142" x2="581" y2="1029"/><linearGradient id="Ds7" href="#Ds" gradientUnits="userSpaceOnUse" x1="612" y1="1142" x2="581" y2="1029"/><linearGradient id="Df6" href="#Df" gradientUnits="userSpaceOnUse" x1="615" y1="1144" x2="585" y2="1030"/><linearGradient id="Ds6" href="#Ds" gradientUnits="userSpaceOnUse" x1="615" y1="1144" x2="585" y2="1030"/><linearGradient id="Df5" href="#Df" gradientUnits="userSpaceOnUse" x1="619" y1="1146" x2="589" y2="1032"/><linearGradient id="Ds5" href="#Ds" gradientUnits="userSpaceOnUse" x1="619" y1="1146" x2="589" y2="1032"/><linearGradient id="Df4" href="#Df" gradientUnits="userSpaceOnUse" x1="623" y1="1147" x2="592" y2="1034"/><linearGradient id="Ds4" href="#Ds" gradientUnits="userSpaceOnUse" x1="623" y1="1147" x2="592" y2="1034"/><linearGradient id="Df3" href="#Df" gradientUnits="userSpaceOnUse" x1="627" y1="1149" x2="596" y2="1036"/><linearGradient id="Ds3" href="#Ds" gradientUnits="userSpaceOnUse" x1="627" y1="1149" x2="596" y2="1036"/><linearGradient id="Df2" href="#Df" gradientUnits="userSpaceOnUse" x1="631" y1="1151" x2="600" y2="1037"/><linearGradient id="Ds2" href="#Ds" gradientUnits="userSpaceOnUse" x1="631" y1="1151" x2="600" y2="1037"/><linearGradient id="Df1" href="#Df" gradientUnits="userSpaceOnUse" x1="634" y1="1153" x2="604" y2="1039"/><linearGradient id="Ds1" href="#Ds" gradientUnits="userSpaceOnUse" x1="634" y1="1153" x2="604" y2="1039"/><linearGradient id="Df0" href="#Df" gradientUnits="userSpaceOnUse" x1="638" y1="1154" x2="608" y2="1041"/><linearGradient id="Ds0" href="#Ds" gradientUnits="userSpaceOnUse" x1="638" y1="1154" x2="608" y2="1041"/><linearGradient id="Gbs" gradientUnits="userSpaceOnUse" x1="0" y1="219" x2="0" y2="433"><stop offset="0" stop-color="#f9fb15"/><stop offset="0.0625" stop-color="#f5e327"/><stop offset="0.125" stop-color="#feca33"/><stop offset="0.1875" stop-color="#f1ba37"/><stop offset="0.25" stop-color="#c8c129"/><stop offset="0.3125" stop-color="#94ca4a"/><stop offset="0.375" stop-color="#5ccc76"/><stop offset="0.4375" stop-color="#34c79c"/><stop offset="0.5" stop-color="#12beb9"/><stop offset="0.5625" stop-color="#0cb3d3"/><stop offset="0.625" stop-color="#21a3e3"/><stop offset="0.6875" stop-color="#2c90f0"/><stop offset="0.75" stop-color="#347afd"/><stop offset="0.8125" stop-color="#4562fc"/><stop offset="0.875" stop-color="#484cef"/><stop offset="0.9375" stop-color="#4536d5"/><stop offset="1" stop-color="#3e26a8"/></linearGradient><linearGradient id="Gbf" gradientUnits="userSpaceOnUse" x1="0" y1="219" x2="0" y2="433"><stop offset="0" stop-color="#fdfda1"/><stop offset="0.0625" stop-color="#fbf4a9"/><stop offset="0.125" stop-color="#feeaae"/><stop offset="0.1875" stop-color="#f9e3af"/><stop offset="0.25" stop-color="#e9e6aa"/><stop offset="0.3125" stop-color="#d4eab7"/><stop offset="0.375" stop-color="#beebc8"/><stop offset="0.4375" stop-color="#aee9d7"/><stop offset="0.5" stop-color="#a0e5e3"/><stop offset="0.5625" stop-color="#9ee1ed"/><stop offset="0.625" stop-color="#a6daf4"/><stop offset="0.6875" stop-color="#aad3f9"/><stop offset="0.75" stop-color="#aecafe"/><stop offset="0.8125" stop-color="#b5c0fe"/><stop offset="0.875" stop-color="#b6b7f9"/><stop offset="0.9375" stop-color="#b5afee"/><stop offset="1" stop-color="#b2a8dc"/></linearGradient><linearGradient id="Ges" gradientUnits="userSpaceOnUse" x1="0" y1="937" x2="0" y2="1258"><stop offset="0" stop-color="#f9fb15"/><stop offset="0.0625" stop-color="#f5e327"/><stop offset="0.125" stop-color="#feca33"/><stop offset="0.1875" stop-color="#f1ba37"/><stop offset="0.25" stop-color="#c8c129"/><stop offset="0.3125" stop-color="#94ca4a"/><stop offset="0.375" stop-color="#5ccc76"/><stop offset="0.4375" stop-color="#34c79c"/><stop offset="0.5" stop-color="#12beb9"/><stop offset="0.5625" stop-color="#0cb3d3"/><stop offset="0.625" stop-color="#21a3e3"/><stop offset="0.6875" stop-color="#2c90f0"/><stop offset="0.75" stop-color="#347afd"/><stop offset="0.8125" stop-color="#4562fc"/><stop offset="0.875" stop-color="#484cef"/><stop offset="0.9375" stop-color="#4536d5"/><stop offset="1" stop-color="#3e26a8"/></linearGradient><linearGradient id="Gef" gradientUnits="userSpaceOnUse" x1="0" y1="937" x2="0" y2="1258"><stop offset="0" stop-color="#fcfd8a"/><stop offset="0.0625" stop-color="#faf193"/><stop offset="0.125" stop-color="#fee599"/><stop offset="0.1875" stop-color="#f8dc9b"/><stop offset="0.25" stop-color="#e4e094"/><stop offset="0.3125" stop-color="#c9e4a5"/><stop offset="0.375" stop-color="#ade6ba"/><stop offset="0.4375" stop-color="#99e3cd"/><stop offset="0.5" stop-color="#88dfdc"/><stop offset="0.5625" stop-color="#85d9e9"/><stop offset="0.625" stop-color="#90d1f1"/><stop offset="0.6875" stop-color="#95c7f7"/><stop offset="0.75" stop-color="#99bdfe"/><stop offset="0.8125" stop-color="#a2b1fe"/><stop offset="0.875" stop-color="#a3a5f7"/><stop offset="0.9375" stop-color="#a29bea"/><stop offset="1" stop-color="#9e93d4"/></linearGradient><linearGradient id="Ghs" gradientUnits="userSpaceOnUse" x1="0" y1="1579" x2="0" y2="2093"><stop offset="0" stop-color="#f9fb15"/><stop offset="0.0625" stop-color="#f5e327"/><stop offset="0.125" stop-color="#feca33"/><stop offset="0.1875" stop-color="#f1ba37"/><stop offset="0.25" stop-color="#c8c129"/><stop offset="0.3125" stop-color="#94ca4a"/><stop offset="0.375" stop-color="#5ccc76"/><stop offset="0.4375" stop-color="#34c79c"/><stop offset="0.5" stop-color="#12beb9"/><stop offset="0.5625" stop-color="#0cb3d3"/><stop offset="0.625" stop-color="#21a3e3"/><stop offset="0.6875" stop-color="#2c90f0"/><stop offset="0.75" stop-color="#347afd"/><stop offset="0.8125" stop-color="#4562fc"/><stop offset="0.875" stop-color="#484cef"/><stop offset="0.9375" stop-color="#4536d5"/><stop offset="1" stop-color="#3e26a8"/></linearGradient><linearGradient id="Ghf" gradientUnits="userSpaceOnUse" x1="0" y1="1579" x2="0" y2="2093"><stop offset="0" stop-color="#fcfd8a"/><stop offset="0.0625" stop-color="#faf193"/><stop offset="0.125" stop-color="#fee599"/><stop offset="0.1875" stop-color="#f8dc9b"/><stop offset="0.25" stop-color="#e4e094"/><stop offset="0.3125" stop-color="#c9e4a5"/><stop offset="0.375" stop-color="#ade6ba"/><stop offset="0.4375" stop-color="#99e3cd"/><stop offset="0.5" stop-color="#88dfdc"/><stop offset="0.5625" stop-color="#85d9e9"/><stop offset="0.625" stop-color="#90d1f1"/><stop offset="0.6875" stop-color="#95c7f7"/><stop offset="0.75" stop-color="#99bdfe"/><stop offset="0.8125" stop-color="#a2b1fe"/><stop offset="0.875" stop-color="#a3a5f7"/><stop offset="0.9375" stop-color="#a29bea"/><stop offset="1" stop-color="#9e93d4"/></linearGradient></defs><g transform="scale(0.25)" stroke-width="1.2" stroke-linejoin="round"><path fill="url(#Af79)" stroke="url(#As79)" d="M124 290l6 2 7 2 7 1 6 2 7 1 6 0 7 0 7 0 6 1 7-2 6-6 7-6 7-5 6-4 7-1 6-1 7-1 7-2 6-3 7-2 6-3 7-1 7-1 6 0 7 2 6 1 7 0 7-2 6-4 7-5 6-6 7-6 7-5 6-5 7-2 6 1 7 4 7 5 6 2 7-1 6-4 7-5 7-5 6-5 7-4 6-3 7-3 7-1 6 1 7 0 6-1 7-2 7-2 6-2 7-2 6-1 7 0 7 0 6 1 7 4-4-6-7-6-6 0-7 0-6 1-7 2-7 1-6 3-7 3-6 2-7 2-7 0-6-1-7 1-6 3-7 4-7 5-6 5-7 5-6 4-7 2-7-2-6-5-7-4-6-3-7 2-7 2-6 7-7 7-6 7-7 6-7 5-6 3-7 3-6-3-7-2-7-1-6 0-7 1-6 2-7 2-7 2-6 2-7 2-6 1-7 0-7 2-6 5-7 5-6 7-7 8-7-1-6-1-7 0-6 0-7 0-7-1-6-2-7-1-6-1-7 0z"/><path fill="url(#Af78)" stroke="url(#As78)" d="M128 292l6 3 7 1 6 2 7 2 7 1 6 0 7 0 6 0 7 0 7-3 6-4 7-6 6-4 7-3 7-2 6 0 7-1 6-2 7-3 7-4 6-3 7-1 6 0 7 1 7 0 6 1 7-1 6-3 7-5 7-6 6-6 7-6 6-4 7-3 7-1 6 1 7 3 6 2 7 0 7-2 6-4 7-4 6-4 7-3 7-3 6-2 7-2 6-1 7 2 7 1 6 1 7 0 6-2 7-2 7-1 6-1 7-1 6-1 7 0 7 3-4-6-7-4-6-1-7 0-7 0-6 1-7 2-6 2-7 2-7 2-6 1-7 0-6-1-7 1-7 3-6 3-7 4-6 5-7 5-7 5-6 4-7 1-6-2-7-5-7-4-6-1-7 2-6 5-7 5-7 6-6 6-7 5-6 4-7 2-7 0-6-1-7-2-6 0-7 1-7 1-6 3-7 2-6 3-7 2-7 1-6 1-7 1-6 4-7 5-7 6-6 6-7 2-6-1-7 0-7 0-6 0-7-1-6-2-7-1-7-2-6-2z"/><path fill="url(#Af77)" stroke="url(#As77)" d="M131 296l7 1 7 2 6 2 7 3 6 2 7-1 7-1 6 1 7 0 6-2 7-5 7-6 6-5 7-3 6-2 7 0 7 0 6-2 7-3 6-4 7-2 7-1 6 2 7 2 6 1 7-1 7-2 6-4 7-7 6-9 7-7 7-6 6-3 7-1 6 0 7 0 7 2 6 0 7-1 6-2 7-4 7-4 6-3 7-1 6-1 7-2 7-1 6 0 7 3 6 4 7 3 7 2 6-1 7-2 6-2 7-2 7-3 6-5 7-1 6 3-3-5-7-3-7 0-6 1-7 1-6 1-7 1-7 2-6 2-7 0-6-1-7-1-7-2-6 1-7 2-6 2-7 3-7 3-6 4-7 4-6 4-7 2-7 0-6-2-7-3-6-1-7 1-7 3-6 4-7 6-6 6-7 6-7 5-6 3-7 1-6-1-7 0-7-1-6 0-7 1-6 3-7 4-7 3-6 2-7 1-6 0-7 2-7 3-6 4-7 6-6 4-7 3-7 0-6 0-7 0-6 0-7-1-7-2-6-2-7-1-6-3z"/><path fill="url(#Af76)" stroke="url(#As76)" d="M135 299l7 1 6 1 7 3 7 4 6 2 7-1 6 0 7 0 7 1 6-2 7-5 6-6 7-6 7-4 6-3 7-1 6-1 7-1 7-3 6-2 7-2 6 2 7 4 7 4 6 3 7-1 6-3 7-7 7-10 6-12 7-9 6-5 7-2 7 0 6 0 7-1 6 0 7 0 7-1 6-2 7-3 6-4 7-2 7 0 6 1 7 0 6-1 7 1 7 3 6 5 7 5 6 4 7 0 7-2 6-4 7-4 6-5 7-10 7-1 6-1-4 1-6-3-7 1-6 5-7 3-7 2-6 2-7 2-6 1-7-2-7-3-6-4-7-3-6 0-7 1-7 2-6 1-7 1-6 3-7 4-7 4-6 2-7 1-6 0-7-2-7 0-6 0-7 1-6 3-7 6-7 7-6 9-7 7-6 4-7 2-7 1-6-1-7-2-6-2-7 1-7 2-6 4-7 3-6 2-7 0-7 0-6 2-7 3-6 5-7 6-7 5-6 2-7 0-6-1-7 1-7 1-6-2-7-3-6-2-7-2-7-1z"/><path fill="url(#Af75)" stroke="url(#As75)" d="M139 304l7 0 6 0 7 1 6 5 7 3 7 0 6 0 7 2 6 1 7-1 7-6 6-8 7-7 6-4 7-4 7-4 6-3 7-3 6-1 7-2 7 1 6 4 7 8 6 8 7 5 7 0 6-5 7-10 6-13 7-13 7-10 6-4 7 0 6 0 7-3 7-2 6-2 7 0 6 0 7-1 7-2 6-2 7-2 6 1 7 3 7 1 6 0 7-1 6 1 7 4 7 6 6 6 7 1 6-2 7-5 7-6 6-10 7-9 6-1 7-5-4 2-6 1-7 1-7 10-6 5-7 4-6 4-7 2-7 0-6-4-7-5-6-5-7-3-7-1-6 1-7 0-6-1-7 0-7 2-6 4-7 3-6 2-7 1-7 0-6 0-7 1-6 0-7 0-7 2-6 5-7 9-6 12-7 10-7 7-6 3-7 1-6-3-7-4-7-4-6-2-7 2-6 2-7 3-7 1-6 1-7 1-6 3-7 4-7 6-6 6-7 5-6 2-7-1-7 0-6 0-7 1-6-2-7-4-7-3-6-1-7-1z"/><path fill="url(#Af74)" stroke="url(#As74)" d="M143 308l6 0 7-2 7 1 6 3 7 3 6 2 7 1 7 4 6 2 7-2 6-7 7-9 7-6 6-5 7-6 6-6 7-6 7-4 6-2 7 0 6 2 7 6 7 10 6 11 7 8 6 1 7-6 7-12 6-15 7-13 6-9 7-3 7 1 6-1 7-4 6-6 7-3 7 0 6 1 7 1 6 0 7-2 7-1 6 2 7 4 6 2 7-2 7-3 6-1 7 2 6 5 7 6 7 3 6-2 7-5 6-8 7-10 7-8 6-1 7-7-4 2-7 5-6 1-7 9-6 10-7 6-7 5-6 2-7-1-6-6-7-6-7-4-6-1-7 1-6 0-7-1-7-3-6-1-7 2-6 2-7 2-7 1-6 0-7 0-6 2-7 2-7 3-6 0-7 0-6 4-7 10-7 13-6 13-7 10-6 5-7 0-7-5-6-8-7-8-6-4-7-1-7 2-6 1-7 3-6 3-7 4-7 4-6 4-7 7-6 8-7 6-7 1-6-1-7-2-6 0-7 0-7-3-6-5-7-1-6 0-7 0z"/><path fill="url(#Af73)" stroke="url(#As73)" d="M147 313l6-2 7-2 6-1 7 1 7 3 6 3 7 4 6 5 7 2 7-3 6-8 7-8 6-7 7-4 7-5 6-8 7-8 6-6 7-3 7-1 6 1 7 7 6 10 7 13 7 9 6 2 7-6 6-13 7-15 7-11 6-7 7-1 6 0 7-2 7-6 6-6 7-5 6 0 7 2 7 1 6 1 7-1 6 1 7 2 7 4 6 1 7-3 6-4 7-4 7 0 6 3 7 5 6 3 7-1 7-4 6-7 7-9 6-6 7-2 7-7-4 2-7 7-6 1-7 8-7 10-6 8-7 5-6 2-7-3-7-6-6-5-7-2-6 1-7 3-7 2-6-2-7-4-6-2-7 1-7 2-6 0-7-1-6-1-7 0-7 3-6 6-7 4-6 1-7-1-7 3-6 9-7 13-6 15-7 12-7 6-6-1-7-8-6-11-7-10-7-6-6-2-7 0-6 2-7 4-7 6-6 6-7 6-6 5-7 6-7 9-6 7-7 2-6-2-7-4-7-1-6-2-7-3-6-3-7-1-7 2-6 0z"/><path fill="url(#Af72)" stroke="url(#As72)" d="M150 318l7-3 7-4 6-3 7-1 6 3 7 5 7 7 6 6 7 2 6-4 7-9 7-9 6-5 7-3 6-4 7-7 7-9 6-8 7-6 6-3 7 0 7 5 6 11 7 12 6 10 7 3 7-7 6-13 7-14 6-9 7-4 7-1 6 0 7-2 6-7 7-8 7-5 6-1 7 2 6 2 7 2 7 0 6 1 7 3 6 3 7 0 7-4 6-5 7-5 6-2 7 2 7 4 6 3 7-1 6-3 7-6 7-7 6-5 7-2 6-6-3 1-7 7-7 2-6 6-7 9-6 7-7 4-7 1-6-3-7-5-6-3-7 0-7 4-6 4-7 3-6-1-7-4-7-2-6-1-7 1-6-1-7-1-7-2-6 0-7 5-6 6-7 6-7 2-6 0-7 1-6 7-7 11-7 15-6 13-7 6-6-2-7-9-7-13-6-10-7-7-6-1-7 1-7 3-6 6-7 8-6 8-7 5-7 4-6 7-7 8-6 8-7 3-7-2-6-5-7-4-6-3-7-3-7-1-6 1-7 2-6 2z"/><path fill="url(#Af71)" stroke="url(#As71)" d="M154 322l7-3 6-6 7-5 7-3 6 2 7 7 6 9 7 7 7 2 6-5 7-10 6-8 7-4 7 0 6-2 7-5 6-9 7-9 7-9 6-6 7-2 6 3 7 9 7 11 6 9 7 2 6-6 7-12 7-11 6-7 7-3 6 0 7 0 7-3 6-7 7-8 6-6 7-2 7 2 6 2 7 2 6 1 7 2 7 3 6 2 7-1 6-5 7-6 7-5 6-2 7 0 6 3 7 3 7-1 6-3 7-5 6-6 7-3 7-2 6-5-4 1-6 6-7 2-6 5-7 7-7 6-6 3-7 1-6-3-7-4-7-2-6 2-7 5-6 5-7 4-7 0-6-3-7-3-6-1-7 0-7-2-6-2-7-2-6 1-7 5-7 8-6 7-7 2-6 0-7 1-7 4-6 9-7 14-6 13-7 7-7-3-6-10-7-12-6-11-7-5-7 0-6 3-7 6-6 8-7 9-7 7-6 4-7 3-6 5-7 9-7 9-6 4-7-2-6-6-7-7-7-5-6-3-7 1-6 3-7 4-7 3z"/><path fill="url(#Af70)" stroke="url(#As70)" d="M158 327l7-5 6-7 7-7 6-5 7 2 7 8 6 10 7 8 6 1 7-5 7-10 6-8 7-2 6 2 7 2 7-3 6-7 7-11 6-10 7-9 7-4 6 1 7 6 6 9 7 7 7 1 6-6 7-9 6-9 7-5 7-2 6 1 7-1 6-3 7-6 7-9 6-7 7-3 6 1 7 2 7 3 6 3 7 3 6 2 7 1 7-3 6-5 7-6 6-5 7-3 7-1 6 2 7 2 6 0 7-4 7-4 6-4 7-3 6-2 7-5-4 2-6 5-7 2-7 3-6 6-7 5-6 3-7 1-7-3-6-3-7 0-6 2-7 5-7 6-6 5-7 1-6-2-7-3-7-2-6-1-7-2-6-2-7-2-7 2-6 6-7 8-6 7-7 3-7 0-6 0-7 3-6 7-7 11-7 12-6 6-7-2-6-9-7-11-7-9-6-3-7 2-6 6-7 9-7 9-6 9-7 5-6 2-7 0-7 4-6 8-7 10-6 5-7-2-7-7-6-9-7-7-6-2-7 3-7 5-6 6-7 3z"/><path fill="url(#Af69)" stroke="url(#As69)" d="M162 331l6-6 7-7 7-8 6-5 7 0 6 7 7 10 7 7 6 1 7-5 6-9 7-7 7-1 6 5 7 4 6 1 7-5 7-10 6-11 7-10 6-6 7-1 7 3 6 5 7 5 6 0 7-4 7-8 6-6 7-3 6-1 7 0 7 0 6-3 7-6 6-9 7-9 7-5 6 0 7 2 6 4 7 5 7 4 6 3 7-1 6-4 7-7 7-7 6-5 7-3 6-1 7 1 7 2 6 0 7-3 6-6 7-3 7-2 6-3 7-5-4 1-7 5-6 2-7 3-6 4-7 4-7 4-6 0-7-2-6-2-7 1-7 3-6 5-7 6-6 5-7 3-7-1-6-2-7-3-6-3-7-3-7-2-6-1-7 3-6 7-7 9-7 6-6 3-7 1-6-1-7 2-7 5-6 9-7 9-6 6-7-1-7-7-6-9-7-6-6-1-7 4-7 9-6 10-7 11-6 7-7 3-7-2-6-2-7 2-6 8-7 10-7 5-6-1-7-8-6-10-7-8-7-2-6 5-7 7-6 7-7 5z"/><path fill="url(#Af68)" stroke="url(#As68)" d="M166 335l6-7 7-7 6-7 7-5 7-1 6 5 7 8 6 6 7 0 7-6 6-8 7-6 6 1 7 6 7 7 6 4 7-3 6-7 7-10 7-10 6-6 7-3 6 0 7 2 7 2 6-1 7-4 6-5 7-4 7-2 6 0 7 1 6 0 7-3 7-7 6-9 7-10 6-7 7-3 7 3 6 6 7 7 6 5 7 3 7-2 6-7 7-9 6-9 7-6 7-3 6 0 7 2 6 2 7 1 7-3 6-6 7-5 6-3 7-3 7-5-4 1-7 5-6 3-7 2-7 3-6 6-7 3-6 0-7-2-7-1-6 1-7 3-6 5-7 7-7 7-6 4-7 1-6-3-7-4-7-5-6-4-7-2-6 0-7 5-7 9-6 9-7 6-6 3-7 0-7 0-6 1-7 3-6 6-7 8-7 4-6 0-7-5-6-5-7-3-7 1-6 6-7 10-6 11-7 10-7 5-6-1-7-4-6-5-7 1-7 7-6 9-7 5-6-1-7-7-7-10-6-7-7 0-6 5-7 8-7 7-6 6z"/><path fill="url(#Af67)" stroke="url(#As67)" d="M169 337l7-6 7-6 6-5 7-5 6-3 7 2 7 5 6 4 7-1 6-5 7-8 7-5 6 1 7 7 6 9 7 6 7 1 6-4 7-6 6-8 7-6 7-4 6-2 7-2 6-1 7-2 7-3 6-3 7-3 6-1 7 1 7 1 6 0 7-2 6-6 7-10 7-12 6-9 7-4 6 2 7 8 7 9 6 6 7 2 6-5 7-10 7-12 6-10 7-7 6-3 7 1 7 4 6 5 7 1 6-3 7-6 7-7 6-4 7-4 6-6-3 1-7 5-7 3-6 3-7 5-6 6-7 3-7-1-6-2-7-2-6 0-7 3-7 6-6 9-7 9-6 7-7 2-7-3-6-5-7-7-6-6-7-3-7 3-6 7-7 10-6 9-7 7-7 3-6 0-7-1-6 0-7 2-7 4-6 5-7 4-6 1-7-2-7-2-6 0-7 3-6 6-7 10-7 10-6 7-7 3-6-4-7-7-7-6-6-1-7 6-6 8-7 6-7 0-6-6-7-8-6-5-7 1-7 5-6 7-7 7-6 7z"/><path fill="url(#Af66)" stroke="url(#As66)" d="M173 339l7-6 6-5 7-2 7-5 6-5 7-2 6 2 7 1 7-1 6-6 7-7 6-3 7 1 7 8 6 9 7 8 6 5 7 1 7-3 6-4 7-5 6-5 7-5 7-5 6-4 7-2 6-3 7-3 7-2 6 0 7 2 6 2 7 1 7-1 6-6 7-10 6-12 7-11 7-6 6 2 7 8 6 10 7 7 7-1 6-8 7-14 6-15 7-12 7-7 6-1 7 3 6 6 7 7 7 3 6-2 7-8 6-9 7-6 7-3 6-6-4-1-6 6-7 4-6 4-7 7-7 6-6 3-7-1-6-5-7-4-7-1-6 3-7 7-6 10-7 12-7 10-6 5-7-2-6-6-7-9-7-8-6-2-7 4-6 9-7 12-7 10-6 6-7 2-6 0-7-1-7-1-6 1-7 3-6 3-7 3-7 2-6 1-7 2-6 2-7 4-7 6-6 8-7 6-6 4-7-1-7-6-6-9-7-7-6-1-7 5-7 8-6 5-7 1-6-4-7-5-7-2-6 3-7 5-6 5-7 6-7 6z"/><path fill="url(#Af65)" stroke="url(#As65)" d="M177 340l7-6 6-2 7-1 6-5 7-7 7-5 6-2 7-1 6-3 7-5 7-6 6-3 7 2 6 7 7 10 7 9 6 8 7 6 6 3 7-1 7-3 6-6 7-8 6-8 7-6 7-4 6-2 7-3 6-2 7 0 7 3 6 3 7 3 6 0 7-5 7-9 6-12 7-12 6-7 7 0 7 8 6 9 7 6 6-4 7-12 7-17 6-18 7-13 6-7 7 1 7 6 6 9 7 9 6 4 7-2 7-8 6-11 7-6 6-2 7-4-4-4-6 6-7 3-7 6-6 9-7 8-6 2-7-3-7-7-6-6-7-3-6 1-7 7-7 12-6 15-7 14-6 8-7 1-7-7-6-10-7-8-6-2-7 6-7 11-6 12-7 10-6 6-7 1-7-1-6-2-7-2-6 0-7 2-7 3-6 3-7 2-6 4-7 5-7 5-6 5-7 5-6 4-7 3-7-1-6-5-7-8-6-9-7-8-7-1-6 3-7 7-6 6-7 1-7-1-6-2-7 2-6 5-7 5-7 2-6 5-7 6z"/><path fill="url(#Af64)" stroke="url(#As64)" d="M181 339l6-4 7-1 7 1 6-5 7-9 6-9 7-5 7-4 6-3 7-5 6-5 7-2 7 3 6 6 7 10 6 10 7 12 7 10 6 7 7 3 6-3 7-7 7-10 6-10 7-8 6-4 7-3 7-2 6-2 7 0 6 3 7 5 7 4 6 1 7-3 6-8 7-11 7-12 6-9 7-2 6 5 7 8 7 4 6-7 7-15 6-21 7-19 7-13 6-5 7 4 6 8 7 11 7 9 6 5 7-2 6-9 7-10 7-6 6-1 7-3-4-3-7 4-6 2-7 6-6 11-7 8-7 2-6-4-7-9-6-9-7-6-7-1-6 7-7 13-6 18-7 17-7 12-6 4-7-6-6-9-7-8-7 0-6 7-7 12-6 12-7 9-7 5-6 0-7-3-6-3-7-3-7 0-6 2-7 3-6 2-7 4-7 6-6 8-7 8-6 6-7 3-7 1-6-3-7-6-6-8-7-9-7-10-6-7-7-2-6 3-7 6-7 5-6 3-7 1-6 2-7 5-7 7-6 5-7 1-6 2-7 6z"/><path fill="url(#Af63)" stroke="url(#As63)" d="M185 339l6-4 7 1 6 1 7-4 7-11 6-11 7-8 6-7 7-5 7-5 6-3 7-1 6 4 7 6 7 9 6 12 7 13 6 14 7 10 7 4 6-2 7-7 6-11 7-11 7-9 6-5 7-2 6-2 7-1 7 0 6 3 7 4 6 4 7 1 7-2 6-6 7-10 6-11 7-10 7-4 6 2 7 6 6 0 7-8 7-18 6-21 7-20 6-11 7-1 7 5 6 10 7 10 6 9 7 4 7-2 6-8 7-9 6-4 7-1 7-2-4-3-7 3-6 1-7 6-7 10-6 9-7 2-6-5-7-9-7-11-6-8-7-4-6 5-7 13-7 19-6 21-7 15-6 7-7-4-7-8-6-5-7 2-6 9-7 12-7 11-6 8-7 3-6-1-7-4-7-5-6-3-7 0-6 2-7 2-7 3-6 4-7 8-6 10-7 10-7 7-6 3-7-3-6-7-7-10-7-12-6-10-7-10-6-6-7-3-7 2-6 5-7 5-6 3-7 4-7 5-6 9-7 9-6 5-7-1-7 1-6 4z"/><path fill="url(#Af62)" stroke="url(#As62)" d="M188 338l7-2 7 1 6 2 7-3 6-11 7-13 7-12 6-10 7-7 6-4 7-2 7 0 6 5 7 6 6 9 7 12 7 15 6 15 7 12 6 5 7-2 7-7 6-11 7-10 6-9 7-4 7-2 6-2 7-1 6 0 7 2 7 3 6 2 7 0 6-2 7-5 7-8 6-10 7-10 6-6 7 0 7 2 6-1 7-10 6-18 7-21 7-17 6-9 7 1 6 8 7 9 7 9 6 7 7 4 6-3 7-7 7-7 6-2 7 0 6-2-3-3-7 2-7 1-6 4-7 9-6 8-7 2-7-4-6-9-7-10-6-10-7-5-7 1-6 11-7 20-6 21-7 18-7 8-6 0-7-6-6-2-7 4-7 10-6 11-7 10-6 6-7 2-7-1-6-4-7-4-6-3-7 0-7 1-6 2-7 2-6 5-7 9-7 11-6 11-7 7-6 2-7-4-7-10-6-14-7-13-6-12-7-9-7-6-6-4-7 1-6 3-7 5-7 5-6 7-7 8-6 11-7 11-7 4-6-1-7-1-6 4z"/><path fill="url(#Af61)" stroke="url(#As61)" d="M192 337l7-1 6 2 7 3 7-2 6-10 7-14 6-15 7-13 7-9 6-4 7-1 6 2 7 5 7 7 6 8 7 12 6 15 7 15 7 12 6 5 7-2 6-7 7-9 7-9 6-7 7-3 6-1 7-1 7-1 6-1 7 0 6 0 7-1 7-3 6-3 7-4 6-5 7-8 7-10 6-8 7-2 6 0 7-2 7-9 6-17 7-18 6-15 7-7 7 4 6 8 7 8 6 6 7 6 7 2 6-3 7-5 6-5 7-1 7 1 6-1-4-4-6 2-7 0-6 2-7 7-7 7-6 3-7-4-6-7-7-9-7-9-6-8-7-1-6 9-7 17-7 21-6 18-7 10-6 1-7-2-7 0-6 6-7 10-6 10-7 8-7 5-6 2-7 0-6-2-7-3-7-2-6 0-7 1-6 2-7 2-7 4-6 9-7 10-6 11-7 7-7 2-6-5-7-12-6-15-7-15-7-12-6-9-7-6-6-5-7 0-7 2-6 4-7 7-6 10-7 12-7 13-6 11-7 3-6-2-7-1-7 2z"/><path fill="url(#Af60)" stroke="url(#As60)" d="M196 338l7-1 6 2 7 4 6 0 7-8 7-15 6-17 7-16 6-11 7-5 7 1 6 4 7 5 6 7 7 7 7 11 6 14 7 15 6 11 7 4 7-2 6-7 7-7 6-6 7-5 7-2 6 0 7 0 6-1 7-2 7-3 6-3 7-5 6-5 7-5 7-3 6-3 7-6 6-9 7-8 7-4 6-2 7-2 6-8 7-13 7-16 6-13 7-4 6 4 7 7 7 6 6 5 7 4 6 2 7-2 7-4 6-2 7-1 6 0 7 0-4-4-6 1-7-1-7 1-6 5-7 5-6 3-7-2-7-6-6-6-7-8-6-8-7-4-7 7-6 15-7 18-6 17-7 9-7 2-6 0-7 2-6 8-7 10-7 8-6 5-7 4-6 3-7 3-7 1-6 0-7 0-6 1-7 1-7 1-6 1-7 3-6 7-7 9-7 9-6 7-7 2-6-5-7-12-7-15-6-15-7-12-6-8-7-7-7-5-6-2-7 1-6 4-7 9-7 13-6 15-7 14-6 10-7 2-7-3-6-2-7 1z"/><path fill="url(#Af59)" stroke="url(#As59)" d="M200 339l6-1 7 3 7 4 6 2 7-6 6-14 7-18 7-18 6-13 7-5 6 2 7 5 7 6 6 5 7 7 6 9 7 12 7 13 6 10 7 3 6-4 7-6 7-6 6-4 7-2 6 0 7 2 7 1 6-1 7-4 6-6 7-6 7-8 6-8 7-6 6-2 7 0 7-4 6-7 7-9 6-5 7-3 7-2 6-5 7-10 6-12 7-10 7-5 6 3 7 5 6 4 7 5 7 4 6 3 7 0 6-3 7-3 7-1 6-1 7-1-4-3-7 0-6 0-7 1-6 2-7 4-7 2-6-2-7-4-6-5-7-6-7-7-6-4-7 4-6 13-7 16-7 13-6 8-7 2-6 2-7 4-7 8-6 9-7 6-6 3-7 3-7 5-6 5-7 5-6 3-7 3-7 2-6 1-7 0-6 0-7 2-7 5-6 6-7 7-6 7-7 2-7-4-6-11-7-15-6-14-7-11-7-7-6-7-7-5-6-4-7-1-7 5-6 11-7 16-6 17-7 15-7 8-6 0-7-4-6-2-7 1z"/><path fill="url(#Af58)" stroke="url(#As58)" d="M204 340l6 0 7 2 6 5 7 5 7-4 6-13 7-19 6-19 7-14 7-5 6 2 7 7 6 5 7 5 7 4 6 8 7 10 6 11 7 8 7 1 6-5 7-7 6-6 7-1 7 0 6 3 7 4 6 2 7-1 7-6 6-9 7-9 6-9 7-10 7-6 6-1 7 2 6-1 7-5 7-9 6-7 7-3 6-2 7-3 7-6 6-8 7-8 6-5 7 0 7 2 6 4 7 4 6 5 7 5 7 2 6-2 7-4 6-4 7-2 7-1-4-4-7 1-6 1-7 1-7 3-6 3-7 0-6-3-7-4-7-5-6-4-7-5-6-3-7 5-7 10-6 12-7 10-6 5-7 2-7 3-6 5-7 9-6 7-7 4-7 0-6 2-7 6-6 8-7 8-7 6-6 6-7 4-6 1-7-1-7-2-6 0-7 2-6 4-7 6-7 6-6 4-7-3-6-10-7-13-7-12-6-9-7-7-6-5-7-6-7-5-6-2-7 5-6 13-7 18-7 18-6 14-7 6-6-2-7-4-7-3-6 1z"/><path fill="url(#Af57)" stroke="url(#As57)" d="M207 341l7 0 7 3 6 6 7 6 6-1 7-12 7-18 6-20 7-15 6-5 7 3 7 7 6 5 7 3 6 3 7 5 7 9 6 9 7 5 6-1 7-7 7-9 6-5 7 0 6 3 7 5 7 6 6 3 7-2 6-7 7-10 7-10 6-11 7-10 6-5 7 1 7 3 6 1 7-4 6-9 7-8 7-4 6-1 7 0 6-3 7-5 7-6 6-5 7-3 6 0 7 3 7 5 6 6 7 7 6 3 7-1 7-7 6-7 7-4 6-2-3-2-7 1-7 2-6 4-7 4-6 2-7-2-7-5-6-5-7-4-6-4-7-2-7 0-6 5-7 8-6 8-7 6-7 3-6 2-7 3-6 7-7 9-7 5-6 1-7-2-6 1-7 6-7 10-6 9-7 9-6 9-7 6-7 1-6-2-7-4-6-3-7 0-7 1-6 6-7 7-6 5-7-1-7-8-6-11-7-10-6-8-7-4-7-5-6-5-7-7-6-2-7 5-7 14-6 19-7 19-6 13-7 4-7-5-6-5-7-2-6 0z"/><path fill="url(#Af56)" stroke="url(#As56)" d="M211 343l7 0 6 3 7 7 7 7 6 1 7-11 6-17 7-20 7-15 6-6 7 3 6 7 7 6 7 2 6 1 7 3 6 6 7 7 7 3 6-4 7-9 6-10 7-5 7 0 6 6 7 8 6 7 7 4 7-3 6-8 7-10 6-11 7-11 7-9 6-4 7 2 6 5 7 3 7-4 6-9 7-9 6-4 7 0 7 1 6 0 7-2 6-4 7-6 7-4 6-1 7 2 6 5 7 7 7 7 6 5 7-1 6-9 7-10 7-6 6-3-4-2-6 2-7 4-6 7-7 7-7 1-6-3-7-7-6-6-7-5-7-3-6 0-7 3-6 5-7 6-7 5-6 3-7 0-6 1-7 4-7 8-6 9-7 4-6-1-7-3-7-1-6 5-7 10-6 11-7 10-7 10-6 7-7 2-6-3-7-6-7-5-6-3-7 0-6 5-7 9-7 7-6 1-7-5-6-9-7-9-7-5-6-3-7-3-6-5-7-7-7-3-6 5-7 15-6 20-7 18-7 12-6 1-7-6-6-6-7-3-7 0z"/><path fill="url(#Af55)" stroke="url(#As55)" d="M215 345l7 1 6 3 7 7 6 8 7 1 7-10 6-16 7-19 6-15 7-6 7 2 6 7 7 5 6 2 7 0 7 1 6 3 7 4 6 1 7-6 7-10 6-10 7-5 6 1 7 6 7 10 6 8 7 4 6-3 7-8 7-10 6-10 7-9 6-8 7-4 7 2 6 6 7 4 6-4 7-9 7-8 6-5 7 1 6 2 7 2 7 0 6-3 7-4 6-4 7-3 7 1 6 4 7 6 6 8 7 5 7 0 6-10 7-12 6-8 7-4-4-1-6 3-7 6-7 10-6 9-7 1-6-5-7-7-7-7-6-5-7-2-6 1-7 4-7 6-6 4-7 2-6 0-7-1-7 0-6 4-7 9-6 9-7 4-7-3-6-5-7-2-6 4-7 9-7 11-6 11-7 10-6 8-7 3-7-4-6-7-7-8-6-6-7 0-7 5-6 10-7 9-6 4-7-3-7-7-6-6-7-3-6-1-7-2-7-6-6-7-7-3-6 6-7 15-7 20-6 17-7 11-6-1-7-7-7-7-6-3-7 0z"/><path fill="url(#Af54)" stroke="url(#As54)" d="M219 347l6 1 7 3 7 7 6 9 7 1 6-10 7-15 7-18 6-14 7-7 6 2 7 6 7 5 6 2 7-1 6-1 7 0 7 1 6-2 7-6 6-10 7-10 7-5 6 1 7 7 6 10 7 9 7 4 6-3 7-7 6-9 7-8 7-8 6-8 7-3 6 2 7 6 7 3 6-3 7-9 6-8 7-3 7 1 6 3 7 3 6 1 7-1 7-3 6-4 7-3 6-1 7 2 7 5 6 6 7 6 6 0 7-9 7-13 6-8 7-4-4-2-7 4-6 8-7 12-6 10-7 0-7-5-6-8-7-6-6-4-7-1-7 3-6 4-7 4-6 3-7 0-7-2-6-2-7-1-6 5-7 8-7 9-6 4-7-4-6-6-7-2-7 4-6 8-7 9-6 10-7 10-7 8-6 3-7-4-6-8-7-10-7-6-6-1-7 5-6 10-7 10-7 6-6-1-7-4-6-3-7-1-7 0-6-2-7-5-6-7-7-2-7 6-6 15-7 19-6 16-7 10-7-1-6-8-7-7-6-3-7-1z"/><path fill="url(#Af53)" stroke="url(#As53)" d="M223 350l6 1 7 2 6 7 7 9 7 1 6-10 7-15 6-16 7-14 7-6 6 0 7 6 6 5 7 1 7-2 6-2 7-3 6-2 7-4 7-7 6-9 7-8 6-3 7 1 7 6 6 9 7 8 6 4 7-3 7-6 6-6 7-6 6-7 7-7 7-4 6 2 7 4 6 3 7-3 7-8 6-7 7-2 6 2 7 4 7 3 6 2 7 0 6-2 7-4 7-3 6-3 7 0 6 2 7 5 7 5 6 1 7-7 6-11 7-8 7-4-4-2-7 4-6 8-7 13-7 9-6 0-7-6-6-6-7-5-7-2-6 1-7 3-6 4-7 3-7 1-6-1-7-3-6-3-7-1-7 3-6 8-7 9-6 3-7-3-7-6-6-2-7 3-6 8-7 8-7 8-6 9-7 7-6 3-7-4-7-9-6-10-7-7-6-1-7 5-7 10-6 10-7 6-6 2-7-1-7 0-6 1-7 1-6-2-7-5-7-6-6-2-7 7-6 14-7 18-7 15-6 10-7-1-6-9-7-7-7-3-6-1z"/><path fill="url(#Af52)" stroke="url(#As52)" d="M226 354l7-1 7 2 6 7 7 8 6 1 7-9 7-14 6-15 7-12 6-7 7 0 7 4 6 4 7 0 6-2 7-5 7-4 6-5 7-5 6-7 7-7 7-6 6-2 7 0 6 5 7 7 7 7 6 4 7-2 6-5 7-4 7-4 6-5 7-7 6-5 7 0 7 4 6 2 7-3 6-7 7-5 7-1 6 3 7 4 6 3 7 3 7 0 6-1 7-3 6-4 7-4 7-3 6 0 7 2 6 4 7 2 7-5 6-8 7-6 6-4-3-2-7 4-7 8-6 11-7 7-6-1-7-5-7-5-6-2-7 0-6 3-7 3-7 4-6 2-7 0-6-2-7-3-7-4-6-2-7 2-6 7-7 8-7 3-6-3-7-4-6-2-7 4-7 7-6 7-7 6-6 6-7 6-7 3-6-4-7-8-6-9-7-6-7-1-6 3-7 8-6 9-7 7-7 4-6 2-7 3-6 2-7 2-7-1-6-5-7-6-6 0-7 6-7 14-6 16-7 15-6 10-7-1-7-9-6-7-7-2-6-1z"/><path fill="url(#Af51)" stroke="url(#As51)" d="M230 359l7-2 6 0 7 6 7 7 6 2 7-8 6-11 7-13 7-12 6-7 7-1 6 3 7 2 7-1 6-4 7-6 6-6 7-5 7-6 6-7 7-5 6-4 7-2 7 0 6 2 7 5 6 6 7 4 7-1 6-3 7-3 6-2 7-5 7-7 6-6 7-2 6 3 7 2 7-2 6-5 7-3 6 0 7 4 7 3 6 2 7 2 6 1 7-1 7-2 6-3 7-5 6-5 7-3 7 0 6 3 7 2 6-2 7-5 7-4 6-3-4-3-6 4-7 6-6 8-7 5-7-2-6-4-7-2-6 0-7 3-7 4-6 4-7 3-6 1-7 0-7-3-6-3-7-4-6-3-7 1-7 5-6 7-7 3-6-2-7-4-7 0-6 5-7 7-6 5-7 4-7 4-6 5-7 2-6-4-7-7-7-7-6-5-7 0-6 2-7 6-7 7-6 7-7 5-6 5-7 4-7 5-6 2-7 0-6-4-7-4-7 0-6 7-7 12-6 15-7 14-7 9-6-1-7-8-6-7-7-2-7 1z"/><path fill="url(#Af50)" stroke="url(#As50)" d="M234 364l7-4 6-1 7 4 6 7 7 2 7-5 6-8 7-11 6-10 7-8 7-2 6 1 7 1 6-3 7-6 7-7 6-6 7-6 6-6 7-6 7-5 6-3 7-2 6-1 7 0 7 3 6 6 7 4 6 0 7-2 7-2 6-2 7-5 6-7 7-7 7-3 6 2 7 3 6-1 7-2 7-2 6 2 7 3 6 1 7 1 7 0 6 1 7 0 6-1 7-2 7-4 6-6 7-5 6-2 7 1 7 2 6 0 7-2 6-3 7-2-4-2-6 3-7 4-7 5-6 2-7-2-6-3-7 0-7 3-6 5-7 5-6 3-7 2-7 1-6-1-7-2-6-2-7-3-7-4-6 0-7 3-6 5-7 2-7-2-6-3-7 2-6 6-7 7-7 5-6 2-7 3-6 3-7 1-7-4-6-6-7-5-6-2-7 0-7 2-6 4-7 5-6 7-7 6-7 5-6 6-7 6-6 4-7 1-7-2-6-3-7 1-6 7-7 12-7 13-6 11-7 8-6-2-7-7-7-6-6 0-7 2z"/><path fill="url(#Af49)" stroke="url(#As49)" d="M238 368l6-6 7-2 7 2 6 5 7 4 6-1 7-5 7-7 6-9 7-7 6-4 7-1 7-1 6-5 7-7 6-8 7-6 7-5 6-6 7-6 6-5 7-3 7-3 6-3 7-1 6 3 7 6 7 4 6 1 7-2 6-2 7-3 7-5 6-8 7-7 6-3 7 2 7 3 6 2 7 0 6 1 7 1 7 1 6-1 7-2 6-2 7 0 7 1 6 2 7 0 6-4 7-5 7-6 6-4 7 0 6 3 7 1 7-1 6-2 7-2-4-2-7 2-6 3-7 2-6 0-7-2-7-1-6 2-7 5-6 6-7 4-7 2-6 1-7 0-6-1-7 0-7-1-6-1-7-3-6-2-7 2-7 2-6 1-7-3-6-2-7 3-7 7-6 7-7 5-6 2-7 2-7 2-6 0-7-4-6-6-7-3-7 0-6 1-7 2-6 3-7 5-7 6-6 6-7 6-6 6-7 7-7 6-6 3-7-1-6-1-7 2-7 8-6 10-7 11-6 8-7 5-7-2-6-7-7-4-6 1-7 4z"/><path fill="url(#Af48)" stroke="url(#As48)" d="M242 370l6-5 7-4 6-1 7 3 7 5 6 2 7 0 6-3 7-7 7-7 6-5 7-2 6-3 7-7 7-8 6-7 7-6 6-5 7-5 7-7 6-6 7-5 6-4 7-3 7-1 6 3 7 6 6 4 7 1 7-3 6-3 7-3 6-6 7-7 7-6 6-2 7 2 6 4 7 3 7 2 6 2 7 1 6-1 7-4 7-6 6-3 7-1 6 3 7 3 7 1 6-2 7-5 6-6 7-4 7 0 6 3 7 2 6 0 7-2 7-2-4-3-7 2-6 2-7 1-7-1-6-3-7 0-6 4-7 6-7 5-6 4-7 0-6-2-7-1-7 0-6 2-7 2-6 1-7-1-7-1-6-1-7 0-6-2-7-3-7-2-6 3-7 7-6 8-7 5-7 3-6 2-7 2-6-1-7-4-7-6-6-3-7 1-6 3-7 3-7 3-6 5-7 6-6 6-7 5-7 6-6 8-7 7-6 5-7 1-7 1-6 4-7 7-6 9-7 7-7 5-6 1-7-4-6-5-7-2-7 2-6 6z"/><path fill="url(#Af47)" stroke="url(#As47)" d="M245 373l7-6 7-5 6-4 7 1 6 4 7 6 7 5 6 0 7-5 6-7 7-4 7-3 6-4 7-7 6-8 7-7 7-6 6-5 7-6 6-8 7-8 7-6 6-4 7-4 6 0 7 5 7 5 6 4 7-1 6-5 7-4 7-4 6-4 7-6 6-5 7-1 7 3 6 5 7 4 6 3 7 2 7 1 6-3 7-8 6-8 7-5 7 0 6 3 7 4 6 2 7-2 7-5 6-6 7-3 6 1 7 4 7 3 6-1 7-3 6-2-3-2-7 2-7 2-6 0-7-2-6-3-7 0-7 4-6 6-7 5-6 2-7-1-7-3-6-3-7 1-6 3-7 6-7 4-6 1-7-1-6-2-7-2-7-3-6-4-7-2-6 2-7 6-7 7-6 6-7 3-6 3-7 3-7-1-6-4-7-6-6-3-7 1-7 3-6 4-7 5-6 6-7 7-7 5-6 5-7 6-6 7-7 8-7 7-6 3-7 2-6 5-7 7-7 7-6 3-7 0-6-2-7-5-7-3-6 1-7 4-6 5z"/><path fill="url(#Af46)" stroke="url(#As46)" d="M249 375l7-6 6-6 7-6 7-3 6 4 7 9 6 8 7 3 7-2 6-6 7-4 6-3 7-4 7-6 6-8 7-7 6-6 7-6 7-7 6-10 7-9 6-7 7-4 7-2 6 2 7 5 6 5 7 1 7-4 6-6 7-6 6-4 7-2 7-3 6-3 7 1 6 3 7 4 7 4 6 3 7 2 6 0 7-4 7-9 6-10 7-6 6-1 7 4 7 4 6 1 7-3 6-6 7-5 7-1 6 3 7 6 6 3 7-2 7-3 6-2-4-3-6 2-7 3-6 1-7-3-7-4-6-1-7 3-6 6-7 5-7 2-6-2-7-4-6-3-7 0-7 5-6 8-7 8-6 3-7-1-7-2-6-3-7-4-6-5-7-3-7 1-6 5-7 6-6 4-7 4-7 4-6 5-7 1-6-4-7-5-7-5-6 0-7 4-6 4-7 6-7 8-6 8-7 6-6 5-7 6-7 7-6 8-7 7-6 4-7 3-7 4-6 7-7 5-6 0-7-5-7-6-6-4-7-1-6 4-7 5-7 6z"/><path fill="url(#Af45)" stroke="url(#As45)" d="M253 377l7-6 6-6 7-7 6-6 7 2 7 9 6 11 7 6 6-1 7-4 7-3 6-2 7-3 6-5 7-8 7-8 6-7 7-6 6-9 7-10 7-10 6-7 7-3 6 1 7 4 7 6 6 3 7-2 6-7 7-10 7-7 6-3 7 0 6 0 7 1 7 2 6 3 7 3 6 2 7 2 7 2 6-1 7-4 6-10 7-11 7-6 6-1 7 3 6 3 7 0 7-5 6-7 7-4 6 0 7 5 7 7 6 3 7-1 6-3 7-2-4-2-6 2-7 3-7 2-6-3-7-6-6-3-7 1-7 5-6 6-7 3-6-1-7-4-7-4-6 1-7 6-6 10-7 9-7 4-6 0-7-2-6-3-7-4-7-4-6-3-7-1-6 3-7 3-7 2-6 4-7 6-6 6-7 4-7-1-6-5-7-5-6-2-7 2-7 4-6 7-7 9-6 10-7 7-7 6-6 6-7 7-6 8-7 6-7 4-6 3-7 4-6 6-7 2-7-3-6-8-7-9-6-4-7 3-7 6-6 6-7 6z"/><path fill="url(#Af44)" stroke="url(#As44)" d="M257 376l6-4 7-4 7-8 6-9 7 0 6 9 7 12 7 7 6 1 7-2 6-2 7-1 7-2 6-4 7-8 6-8 7-8 7-8 6-9 7-10 6-10 7-5 7-1 6 3 7 7 6 5 7 1 7-6 6-11 7-12 6-8 7-2 7 2 6 3 7 3 6 4 7 3 7 2 6 0 7 0 6 1 7-1 7-5 6-9 7-11 6-7 7-1 7 3 6 1 7-2 6-6 7-7 7-5 6 1 7 6 6 7 7 5 7-1 6-2 7-1-4-2-7 2-6 3-7 1-6-3-7-7-7-5-6 0-7 4-6 7-7 5-7 0-6-3-7-3-6 1-7 6-7 11-6 10-7 4-6 1-7-2-7-2-6-2-7-3-6-3-7-2-7-1-6 0-7 0-6 3-7 7-7 10-6 7-7 2-6-3-7-6-7-4-6-1-7 3-6 7-7 10-7 10-6 9-7 6-6 7-7 8-7 8-6 5-7 3-6 2-7 3-7 4-6 1-7-6-6-11-7-9-7-2-6 6-7 7-6 6-7 6z"/><path fill="url(#Af43)" stroke="url(#As43)" d="M261 376l6-4 7-3 6-7 7-9 7-2 6 7 7 10 6 8 7 3 7 0 6-1 7-1 6-2 7-4 7-8 6-8 7-8 6-8 7-8 7-9 6-7 7-4 6 1 7 6 7 7 6 4 7-2 6-10 7-14 7-14 6-9 7-1 6 4 7 6 7 5 6 5 7 3 6 0 7-1 7-2 6-1 7-1 6-5 7-9 7-10 6-7 7-1 6 1 7 0 7-3 6-7 7-7 6-4 7 1 7 6 6 7 7 5 6 1 7 0 7-1-4-2-7 1-6 2-7 1-7-5-6-7-7-6-6-1-7 5-7 7-6 6-7 2-6-1-7-3-7 1-6 7-7 11-6 9-7 5-7 1-6-1-7 0-6 0-7-2-7-3-6-4-7-3-6-3-7-2-7 2-6 8-7 12-6 11-7 6-7-1-6-5-7-7-6-3-7 1-7 5-6 10-7 10-6 9-7 8-7 8-6 8-7 8-6 4-7 2-7 1-6 2-7 2-6-1-7-7-7-12-6-9-7 0-6 9-7 8-7 4-6 4z"/><path fill="url(#Af42)" stroke="url(#As42)" d="M264 375l7-4 7-1 6-5 7-9 6-4 7 4 7 8 6 8 7 4 6 1 7 0 7-1 6-2 7-5 6-7 7-7 7-7 6-6 7-7 6-6 7-6 7-2 6 3 7 6 6 6 7 2 7-5 6-13 7-16 6-15 7-9 7-1 6 5 7 9 6 7 7 6 7 3 6-1 7-4 6-4 7-2 7-2 6-5 7-8 6-9 7-6 7-2 6 0 7-1 6-3 7-7 7-6 6-4 7 1 6 4 7 7 7 6 6 3 7 0 6 0-3-2-7 1-7 0-6-1-7-5-6-7-7-6-7-1-6 4-7 7-6 7-7 3-7 0-6-1-7 1-6 7-7 10-7 9-6 5-7 1-6 1-7 2-7 1-6 0-7-3-6-5-7-5-7-6-6-4-7 1-6 9-7 14-7 14-6 10-7 2-6-4-7-7-7-6-6-1-7 4-6 7-7 9-7 8-6 8-7 8-6 8-7 8-7 4-6 2-7 1-6 1-7 0-7-3-6-8-7-10-6-7-7 2-7 9-6 7-7 3-6 4z"/><path fill="url(#Af41)" stroke="url(#As41)" d="M268 374l7-3 6-1 7-4 7-7 6-6 7 2 6 6 7 7 7 4 6 2 7 0 6-2 7-3 7-4 6-6 7-5 6-5 7-4 7-4 6-4 7-3 6-1 7 2 7 4 6 3 7-2 6-8 7-13 7-15 6-14 7-9 6-1 7 6 7 9 6 10 7 6 6 2 7-1 7-5 6-6 7-4 6-4 7-4 7-7 6-7 7-6 6-2 7-1 7-2 6-3 7-5 6-5 7-3 7 0 6 3 7 6 6 6 7 4 7 1 6 0-4-2-6 0-7 0-6-3-7-6-7-7-6-4-7-1-6 4-7 6-7 7-6 3-7 1-6 0-7 2-7 6-6 9-7 8-6 5-7 2-7 2-6 4-7 4-6 1-7-3-7-6-6-7-7-9-6-5-7 1-7 9-6 15-7 16-6 13-7 5-7-2-6-6-7-6-6-3-7 2-7 6-6 6-7 7-6 6-7 7-7 7-6 7-7 5-6 2-7 1-7 0-6-1-7-4-6-8-7-8-7-4-6 4-7 9-6 5-7 1-7 4z"/><path fill="url(#Af40)" stroke="url(#As40)" d="M272 373l7-3 6 0 7-2 6-6 7-6 7-1 6 3 7 6 6 4 7 2 7 0 6-3 7-3 6-4 7-3 7-3 6-3 7-1 6-1 7-2 7-2 6-2 7 0 6 1 7-1 7-6 6-9 7-13 6-13 7-11 7-7 6-1 7 5 6 10 7 10 7 7 6 2 7-2 6-6 7-7 7-6 6-5 7-5 6-6 7-6 7-4 6-3 7-2 6-1 7-2 7-4 6-4 7-3 6-1 7 4 7 5 6 6 7 4 6 1 7 0-4-2-6 0-7-1-7-4-6-6-7-6-6-3-7 0-7 3-6 5-7 5-6 3-7 2-7 1-6 2-7 6-6 7-7 7-7 4-6 4-7 4-6 6-7 5-7 1-6-2-7-6-6-10-7-9-7-6-6 1-7 9-6 14-7 15-7 13-6 8-7 2-6-3-7-4-7-2-6 1-7 3-6 4-7 4-7 4-6 5-7 5-6 6-7 4-7 3-6 2-7 0-6-2-7-4-7-7-6-6-7-2-6 6-7 7-7 4-6 1-7 3z"/><path fill="url(#Af39)" stroke="url(#As39)" d="M276 373l6-3 7 1 7-1 6-5 7-5 6-3 7 1 7 4 6 4 7 2 6-1 7-2 7-4 6-3 7-1 6-1 7 0 7 1 6 0 7-1 6-3 7-4 7-3 6-4 7-5 6-8 7-10 7-9 6-9 7-8 6-5 7-1 7 6 6 9 7 11 6 6 7 2 7-3 6-6 7-8 6-7 7-7 7-6 6-5 7-5 6-4 7-3 7-3 6-2 7 0 6-2 7-3 7-4 6 0 7 4 6 5 7 6 7 3 6 1 7-3-4 1-7 0-6-1-7-4-6-6-7-5-7-4-6 1-7 3-6 4-7 4-7 2-6 1-7 2-6 3-7 4-7 6-6 6-7 5-6 5-7 6-7 7-6 6-7 2-6-2-7-7-7-10-6-10-7-5-6 1-7 7-7 11-6 13-7 13-6 9-7 6-7 1-6-1-7 0-6 2-7 2-7 2-6 1-7 1-6 3-7 3-7 3-6 4-7 3-6 3-7 0-7-2-6-4-7-6-6-3-7 1-7 6-6 6-7 2-6 0-7 3z"/><path fill="url(#Af38)" stroke="url(#As38)" d="M280 372l6-1 7 1 6 0 7-3 7-4 6-4 7 0 6 1 7 3 7 2 6-1 7-2 6-3 7-2 7 0 6 2 7 1 6 2 7 1 7-2 6-5 7-7 6-6 7-7 7-9 6-9 7-9 6-6 7-4 7-4 6-3 7 0 6 5 7 9 7 10 6 6 7 1 6-3 7-7 7-8 6-9 7-8 6-7 7-5 7-4 6-3 7-5 6-4 7-1 7 0 6 0 7-3 6-2 7 0 7 4 6 5 7 5 6 3 7-1 7-5-4 2-7 3-6-1-7-3-7-6-6-5-7-4-6 0-7 4-7 3-6 2-7 0-6 2-7 3-7 3-6 4-7 5-6 5-7 6-7 7-6 7-7 8-6 6-7 3-7-2-6-6-7-11-6-9-7-6-7 1-6 5-7 8-6 9-7 9-7 10-6 8-7 5-6 4-7 3-7 4-6 3-7 1-6 0-7-1-7 0-6 1-7 1-6 3-7 4-7 2-6 1-7-2-6-4-7-4-7-1-6 3-7 5-6 5-7 1-7-1-6 3z"/><path fill="url(#Af37)" stroke="url(#As37)" d="M283 372l7 0 7 2 6 1 7-1 6-3 7-4 7-2 6 0 7 1 6 2 7 0 7-1 6-2 7-1 6 1 7 2 7 2 6 1 7-1 6-3 7-8 7-9 6-9 7-8 6-10 7-9 7-7 6-3 7 0 6 0 7-1 7 1 6 4 7 7 6 9 7 6 7 1 6-4 7-6 6-9 7-10 7-10 6-7 7-5 6-4 7-4 7-6 6-5 7-2 6 1 7 2 7-2 6-1 7 0 6 4 7 5 7 5 6 2 7-1 6-7-3 1-7 5-7 1-6-3-7-5-6-5-7-4-7 0-6 2-7 3-6 0-7 0-7 1-6 4-7 5-6 3-7 4-7 5-6 7-7 8-6 9-7 8-7 7-6 3-7-1-6-6-7-10-7-9-6-5-7 0-6 3-7 4-7 4-6 6-7 9-6 9-7 9-7 7-6 6-7 7-6 5-7 2-7-1-6-2-7-1-6-2-7 0-7 2-6 3-7 2-6 1-7-2-7-3-6-1-7 0-6 4-7 4-7 3-6 0-7-1-6 1z"/><path fill="url(#Af36)" stroke="url(#As36)" d="M287 373l7 1 6 3 7 1 7 0 6-2 7-3 6-4 7-1 7 0 6 1 7 1 6 0 7 0 7 1 6 1 7 1 6 1 7 0 7-3 6-6 7-9 6-11 7-10 7-9 6-8 7-8 6-5 7-1 7 3 6 3 7 1 6 0 7 3 7 7 6 8 7 4 6 1 7-4 7-6 6-9 7-10 6-11 7-8 7-5 6-4 7-5 6-7 7-7 7-2 6 2 7 3 6 0 7-1 7 1 6 4 7 3 6 4 7 2 7-2 6-8-4 2-6 7-7 1-6-2-7-5-7-5-6-4-7 0-6 1-7 2-7-2-6-1-7 2-6 5-7 6-7 4-6 4-7 5-6 7-7 10-7 10-6 9-7 6-6 4-7-1-7-6-6-9-7-7-6-4-7-1-7 1-6 0-7 0-6 3-7 7-7 9-6 10-7 8-6 9-7 9-7 8-6 3-7 1-6-1-7-2-7-2-6-1-7 1-6 2-7 1-7 0-6-2-7-1-6 0-7 2-7 4-6 3-7 1-6-1-7-2-7 0z"/><path fill="url(#Af35)" stroke="url(#As35)" d="M291 375l7 1 6 2 7 2 6 1 7-1 7-3 6-4 7-2 6-1 7 1 7 2 6 1 7 1 6 1 7 1 7 1 6-1 7-3 6-4 7-8 7-10 6-11 7-9 6-8 7-6 7-6 6-3 7 0 6 4 7 3 7 2 6 1 7 2 6 6 7 6 7 4 6-1 7-4 6-6 7-8 7-10 6-11 7-8 6-6 7-4 7-6 6-8 7-7 6-2 7 3 7 5 6 2 7 0 6 0 7 1 7 2 6 3 7 1 6-2 7-8-4 1-6 8-7 2-7-2-6-4-7-3-6-4-7-1-7 1-6 0-7-3-6-2-7 2-7 7-6 7-7 5-6 4-7 5-7 8-6 11-7 10-6 9-7 6-7 4-6-1-7-4-6-8-7-7-7-3-6 0-7-1-6-3-7-3-7 1-6 5-7 8-6 8-7 9-7 10-6 11-7 9-6 6-7 3-7 0-6-1-7-1-6-1-7-1-7 0-6 0-7-1-6-1-7 0-7 1-6 4-7 3-6 2-7 0-7-1-6-3-7-1z"/><path fill="url(#Af34)" stroke="url(#As34)" d="M295 377l6 0 7 2 7 1 6 2 7 1 6-2 7-4 7-3 6-1 7 1 6 1 7 1 7 2 6 2 7 1 6-1 7-3 7-5 6-6 7-8 6-10 7-10 7-8 6-5 7-4 6-3 7-2 7 0 6 3 7 3 6 2 7 1 7 1 6 5 7 5 6 3 7-2 7-4 6-6 7-7 6-10 7-9 7-8 6-5 7-5 6-7 7-9 7-7 6-1 7 4 6 7 7 4 7-1 6-1 7-1 6-1 7 2 7 0 6-2 7-9-4 2-7 8-6 2-7-1-6-3-7-2-7-1-6 0-7 0-6-2-7-5-7-3-6 2-7 7-6 8-7 6-7 4-6 6-7 8-6 11-7 10-7 8-6 6-7 4-6 1-7-4-7-6-6-6-7-2-6-1-7-2-7-3-6-4-7 0-6 3-7 6-7 6-6 8-7 9-6 11-7 10-7 8-6 4-7 3-6 1-7-1-7-1-6-1-7-1-6-1-7-2-7-1-6 1-7 2-6 4-7 3-7 1-6-1-7-2-6-2-7-1z"/><path fill="url(#Af33)" stroke="url(#As33)" d="M299 378l6 1 7 0 6 0 7 2 7 3 6 0 7-2 6-3 7-1 7 0 6 0 7 0 6 1 7 1 7 0 6-2 7-4 6-6 7-7 7-8 6-9 7-7 6-6 7-3 7-1 6-1 7-1 6 0 7 1 7 2 6 1 7 0 6 1 7 3 7 4 6 2 7-3 6-5 7-5 7-6 6-7 7-8 6-6 7-5 7-5 6-7 7-8 6-6 7 0 7 5 6 7 7 5 6-1 7-4 7-5 6-4 7 0 6 0 7-3 7-8-4 1-7 9-6 2-7 0-7-2-6 1-7 1-6 1-7 1-7-4-6-7-7-4-6 1-7 7-7 9-6 7-7 5-6 5-7 8-7 9-6 10-7 7-6 6-7 4-7 2-6-3-7-5-6-5-7-1-7-1-6-2-7-3-6-3-7 0-7 2-6 3-7 4-6 5-7 8-7 10-6 10-7 8-6 6-7 5-7 3-6 1-7-1-6-2-7-2-7-1-6-1-7-1-6 1-7 3-7 4-6 2-7-1-6-2-7-1-7-2-6 0z"/><path fill="url(#Af32)" stroke="url(#As32)" d="M302 380l7-1 7-1 6-1 7 1 6 5 7 4 7 0 6-1 7-1 6-2 7-2 7-3 6-1 7 0 6 0 7-3 7-5 6-7 7-7 6-7 7-6 7-5 6-3 7-1 6 1 7 0 7 1 6-1 7-1 6 0 7 1 7-1 6 1 7 2 6 2 7-1 7-3 6-6 7-4 6-4 7-5 7-5 6-4 7-4 6-5 7-6 7-7 6-4 7 1 6 6 7 7 7 3 6-2 7-7 6-8 7-7 7-1 6-1 7-4 6-9-3 2-7 8-7 3-6 0-7 0-6 4-7 5-7 4-6 1-7-5-6-7-7-5-7 0-6 6-7 8-6 7-7 5-7 5-6 6-7 8-6 7-7 6-7 5-6 5-7 3-6-2-7-4-7-3-6-1-7 0-6-1-7-2-7-1-6 0-7 1-6 1-7 1-7 3-6 6-7 7-6 9-7 8-7 7-6 6-7 4-6 2-7 0-7-1-6-1-7 0-6 0-7 0-7 1-6 3-7 2-6 0-7-3-7-2-6 0-7 0-6-1z"/><path fill="url(#Af31)" stroke="url(#As31)" d="M306 381l7-1 6-3 7-4 7 1 6 7 7 8 6 3 7 1 7-1 6-2 7-5 6-6 7-5 7-3 6-1 7-2 6-5 7-7 7-7 6-5 7-3 6-2 7-1 7 1 6 2 7 2 6 1 7-1 7-2 6-2 7-1 6 0 7-1 7 0 6 0 7-2 6-5 7-5 7-4 6-1 7-2 6-2 7-2 7-3 6-5 7-4 6-4 7-1 7 2 6 4 7 5 6 1 7-4 7-9 6-11 7-9 6-3 7-1 7-4 6-10-4 0-6 9-7 4-6 1-7 1-7 7-6 8-7 7-6 2-7-3-7-7-6-6-7-1-6 4-7 7-7 6-6 5-7 4-6 4-7 5-7 5-6 4-7 4-6 6-7 3-7 1-6-2-7-2-6-1-7 1-7-1-6 0-7 1-6 1-7-1-7 0-6-1-7 1-6 3-7 5-7 6-6 7-7 7-6 7-7 5-7 3-6 0-7 0-6 1-7 3-7 2-6 2-7 1-6 1-7 0-7-4-6-5-7-1-6 1-7 1-7 1z"/><path fill="url(#Af30)" stroke="url(#As30)" d="M310 383l7-2 6-6 7-6 6 1 7 9 7 10 6 7 7 3 6 0 7-3 7-8 6-9 7-9 6-4 7-2 7-2 6-5 7-7 6-6 7-3 7 0 6 1 7 1 6 2 7 4 7 3 6 2 7-2 6-4 7-3 7-2 6-1 7-2 6-2 7-2 7-4 6-6 7-5 6-2 7 1 7 1 6 1 7-1 6-2 7-4 7-3 6 0 7 1 6 3 7 2 7 2 6-1 7-7 6-11 7-12 7-10 6-4 7-1 6-5 7-8-4-3-6 10-7 4-7 1-6 3-7 9-6 11-7 9-7 4-6-1-7-5-6-4-7-2-7 1-6 4-7 4-6 5-7 3-7 2-6 2-7 2-6 1-7 4-7 5-6 5-7 2-6 0-7 0-7 1-6 0-7 1-6 2-7 2-7 1-6-1-7-2-6-2-7-1-7 1-6 2-7 3-6 5-7 7-7 7-6 5-7 2-6 1-7 3-7 5-6 6-7 5-6 2-7 1-7-1-6-3-7-8-6-7-7-1-7 4-6 3-7 1z"/><path fill="url(#Af29)" stroke="url(#As29)" d="M314 385l6-3 7-8 7-8 6-1 7 10 6 12 7 9 7 6 6 1 7-3 6-9 7-12 7-11 6-7 7-3 6-2 7-4 7-5 6-5 7-1 6 2 7 3 7 2 6 4 7 4 6 4 7 1 7-2 6-5 7-4 6-2 7-2 7-3 6-4 7-5 6-6 7-6 7-4 6 0 7 2 6 3 7 3 7 0 6-2 7-3 6-1 7 3 7 4 6 2 7 0 6-2 7-4 7-8 6-12 7-11 6-10 7-4 7-2 6-3 7-7-4-5-7 8-6 5-7 1-6 4-7 10-7 12-6 11-7 7-6 1-7-2-7-2-6-3-7-1-6 0-7 3-7 4-6 2-7 1-6-1-7-1-7-1-6 2-7 5-6 6-7 4-7 2-6 2-7 2-6 1-7 2-7 3-6 4-7 2-6-2-7-3-7-4-6-2-7-1-6-1-7 0-7 3-6 6-7 7-6 5-7 2-7 2-6 4-7 9-6 9-7 8-7 3-6 0-7-3-6-7-7-10-7-9-6-1-7 6-6 6-7 2z"/><path fill="url(#Af28)" stroke="url(#As28)" d="M318 388l6-4 7-10 6-10 7-3 7 9 6 14 7 11 6 7 7 3 7-3 6-9 7-13 6-13 7-8 7-4 6-2 7-3 6-4 7-2 7 0 6 3 7 4 6 4 7 4 7 4 6 3 7 1 6-3 7-6 7-4 6-3 7-2 6-4 7-6 7-8 6-7 7-5 6-3 7 1 7 3 6 5 7 3 6 0 7-2 7-2 6 1 7 5 6 5 7 2 7-3 6-5 7-7 6-9 7-10 7-10 6-8 7-4 6-2 7-2 7-7-4-4-7 7-6 3-7 2-7 4-6 10-7 11-6 12-7 8-7 4-6 2-7 0-6-2-7-4-7-3-6 1-7 3-6 2-7 0-7-3-6-3-7-2-6 0-7 4-7 6-6 6-7 5-6 4-7 3-7 2-6 2-7 4-6 5-7 2-7-1-6-4-7-4-6-4-7-2-7-3-6-2-7 1-6 5-7 5-7 4-6 2-7 3-6 7-7 11-7 12-6 9-7 3-6-1-7-6-7-9-6-12-7-10-6 1-7 8-7 8-6 3z"/><path fill="url(#Af27)" stroke="url(#As27)" d="M321 392l7-6 7-11 6-12 7-5 6 7 7 14 7 13 6 10 7 5 6-2 7-10 7-13 6-13 7-9 6-4 7-2 7-2 6-2 7 0 6 2 7 4 7 4 6 3 7 3 6 3 7 2 7-2 6-4 7-6 6-4 7-2 7-2 6-5 7-7 6-10 7-8 7-4 6-1 7 2 6 4 7 4 7 1 6 0 7-3 6-2 7 2 7 6 6 6 7 1 6-4 7-8 7-8 6-8 7-8 6-8 7-5 7-4 6-1 7-1 6-3-3-9-7 7-7 2-6 2-7 4-6 8-7 10-7 10-6 9-7 7-6 5-7 3-7-2-6-5-7-5-6-1-7 2-7 2-6 0-7-3-6-5-7-3-7-1-6 3-7 5-6 7-7 8-7 6-6 4-7 2-6 3-7 4-7 6-6 3-7-1-6-3-7-4-7-4-6-4-7-4-6-3-7 0-7 2-6 4-7 3-6 2-7 4-7 8-6 13-7 13-6 9-7 3-7-3-6-7-7-11-6-14-7-9-7 3-6 10-7 10-6 4z"/><path fill="url(#Af26)" stroke="url(#As26)" d="M325 395l7-7 6-11 7-13 7-7 6 5 7 13 6 15 7 12 7 7 6-2 7-9 6-13 7-12 7-9 6-4 7-2 6-1 7 0 7 2 6 4 7 4 6 2 7 2 7 2 6 1 7-1 6-4 7-5 7-6 6-4 7 0 6-1 7-5 7-9 6-11 7-8 6-4 7 1 7 4 6 4 7 2 6 0 7-3 7-4 6-2 7 3 6 6 7 5 7 0 6-5 7-9 6-8 7-7 7-6 6-4 7-3 6-2 7 0 7 1 6-1-4-9-6 3-7 1-6 1-7 4-7 5-6 8-7 8-6 8-7 8-7 8-6 4-7-1-6-6-7-6-7-2-6 2-7 3-6 0-7-1-7-4-6-4-7-2-6 1-7 4-7 8-6 10-7 7-6 5-7 2-7 2-6 4-7 6-6 4-7 2-7-2-6-3-7-3-6-3-7-4-7-4-6-2-7 0-6 2-7 2-7 2-6 4-7 9-6 13-7 13-7 10-6 2-7-5-6-10-7-13-7-14-6-7-7 5-6 12-7 11-7 6z"/><path fill="url(#Af25)" stroke="url(#As25)" d="M329 397l7-7 6-11 7-13 6-9 7 2 7 14 6 17 7 14 6 8 7-1 7-8 6-13 7-12 6-9 7-4 7-2 6 0 7 3 6 4 7 5 7 3 6 2 7 0 6-1 7-1 7-4 6-6 7-7 6-6 7-2 7 1 6 0 7-5 6-9 7-12 7-8 6-2 7 3 6 4 7 4 7 0 6-3 7-5 6-5 7-2 7 2 6 5 7 4 6 0 7-7 7-9 6-8 7-4 6-3 7-1 7 0 6 0 7 1 6 1 7 3-4-10-6 1-7-1-7 0-6 2-7 3-6 4-7 6-7 7-6 8-7 9-6 5-7 0-7-5-6-6-7-3-6 2-7 4-7 3-6 0-7-2-6-4-7-4-7-1-6 4-7 8-6 11-7 9-7 5-6 1-7 0-6 4-7 6-7 5-6 4-7 1-6-1-7-2-7-2-6-2-7-4-6-4-7-2-7 0-6 1-7 2-6 4-7 9-7 12-6 13-7 9-6 2-7-7-7-12-6-15-7-13-6-5-7 7-7 13-6 11-7 7z"/><path fill="url(#Af24)" stroke="url(#As24)" d="M333 398l6-5 7-10 7-13 6-11 7 0 6 13 7 19 7 16 6 8 7 0 6-8 7-12 7-12 6-9 7-5 6-2 7 2 7 4 6 6 7 6 6 3 7 0 7-2 6-2 7-3 6-6 7-8 7-8 6-5 7-1 6 2 7 1 7-5 6-10 7-12 6-8 7-1 7 5 6 6 7 2 6-2 7-5 7-7 6-6 7-3 6 1 7 4 7 4 6-2 7-8 6-9 7-6 7-3 6 0 7 2 6 2 7 2 7 2 6 1 7 1-4-3-7-3-6-1-7-1-6 0-7 0-7 1-6 3-7 4-6 8-7 9-7 7-6 0-7-4-6-5-7-2-7 2-6 5-7 5-6 3-7 0-7-4-6-4-7-3-6 2-7 8-7 12-6 9-7 5-6 0-7-1-7 2-6 6-7 7-6 6-7 4-7 1-6 1-7 0-6-2-7-3-7-5-6-4-7-3-6 0-7 2-7 4-6 9-7 12-6 13-7 8-7 1-6-8-7-14-6-17-7-14-7-2-6 9-7 13-6 11-7 7z"/><path fill="url(#Af23)" stroke="url(#As23)" d="M337 400l6-5 7-8 6-12 7-13 7-2 6 13 7 18 6 17 7 9 7 0 6-7 7-12 6-12 7-9 7-6 6-1 7 2 6 5 7 7 7 6 6 3 7-1 6-2 7-3 7-5 6-7 7-8 6-8 7-4 7 0 6 2 7 0 6-5 7-10 7-12 6-7 7 1 6 6 7 6 7 2 6-4 7-7 6-9 7-7 7-3 6 1 7 4 6 2 7-4 7-8 6-9 7-6 6-1 7 2 7 3 6 4 7 4 6 3 7 0 7-1-4-1-7-1-6-1-7-2-7-2-6-2-7-2-6 0-7 3-7 6-6 9-7 8-6 2-7-4-7-4-6-1-7 3-6 6-7 7-7 5-6 2-7-2-6-6-7-5-7 1-6 8-7 12-6 10-7 5-7-1-6-2-7 1-6 5-7 8-7 8-6 6-7 3-6 2-7 2-7 0-6-3-7-6-6-6-7-4-7-2-6 2-7 5-6 9-7 12-7 12-6 8-7 0-6-8-7-16-7-19-6-13-7 0-6 11-7 13-7 10-6 5z"/><path fill="url(#Af22)" stroke="url(#As22)" d="M340 401l7-4 7-6 6-11 7-13 6-4 7 10 7 18 6 16 7 9 6 0 7-6 7-10 6-11 7-11 6-6 7-2 7 2 6 6 7 7 6 6 7 2 7 0 6-2 7-4 6-5 7-7 7-7 6-6 7-2 6-1 7 1 7-1 6-6 7-10 6-11 7-6 7 2 6 7 7 6 6 2 7-6 7-9 6-10 7-8 6-2 7 2 7 3 6 1 7-4 6-10 7-9 7-6 6 0 7 2 6 4 7 5 7 6 6 3 7 0 6-2-3-1-7 1-7 0-6-3-7-4-6-4-7-3-7-2-6 1-7 6-6 9-7 8-7 4-6-2-7-4-6-1-7 3-7 7-6 9-7 7-6 4-7-2-7-6-6-6-7-1-6 7-7 12-7 10-6 5-7 0-6-2-7 0-7 4-6 8-7 8-6 7-7 5-7 3-6 2-7 1-6-3-7-6-7-7-6-5-7-2-6 1-7 6-7 9-6 12-7 12-6 7-7 0-7-9-6-17-7-18-6-13-7 2-7 13-6 12-7 8-6 5z"/><path fill="url(#Af21)" stroke="url(#As21)" d="M344 402l7-2 6-5 7-10 7-13 6-6 7 8 6 15 7 14 7 7 6 1 7-4 6-8 7-10 7-10 6-7 7-2 6 2 7 4 7 6 6 5 7 3 6 0 7-2 7-4 6-4 7-5 6-5 7-2 7-2 6-1 7-2 6-4 7-7 7-9 6-10 7-4 6 2 7 7 7 7 6 1 7-6 6-11 7-11 7-7 6-1 7 3 6 4 7 0 7-5 6-10 7-10 6-6 7-1 7 2 6 4 7 5 6 7 7 3 7 0 6-3-4 0-6 2-7 0-6-3-7-6-7-5-6-4-7-2-6 0-7 6-7 9-6 10-7 4-6-1-7-3-7-2-6 2-7 8-6 10-7 9-7 6-6-2-7-6-6-7-7-2-7 6-6 11-7 10-6 6-7 1-7-1-6 1-7 2-6 6-7 7-7 7-6 5-7 4-6 2-7 0-7-2-6-6-7-7-6-6-7-2-7 2-6 6-7 11-6 11-7 10-7 6-6 0-7-9-6-16-7-18-7-10-6 4-7 13-6 11-7 6-7 4z"/><path fill="url(#Af20)" stroke="url(#As20)" d="M348 403l7-2 6-3 7-9 6-14 7-7 7 6 6 12 7 10 6 5 7 2 7-2 6-4 7-8 6-9 7-6 7-3 6 1 7 3 6 3 7 4 7 3 6 0 7-2 6-3 7-4 7-3 6 0 7 0 6 0 7-2 7-5 6-7 7-8 6-9 7-7 7-4 6 2 7 8 6 7 7 1 7-7 6-11 7-12 6-6 7-1 7 5 6 5 7 1 6-6 7-10 7-10 6-7 7-2 6 1 7 3 7 4 6 7 7 4 6-1 7-3-4 0-6 3-7 0-7-3-6-7-7-5-6-4-7-2-7 1-6 6-7 10-6 10-7 5-7 0-6-4-7-3-6 1-7 7-7 11-6 11-7 6-6-1-7-7-7-7-6-2-7 4-6 10-7 9-7 7-6 4-7 2-6 1-7 2-7 2-6 5-7 5-6 4-7 4-7 2-6 0-7-3-6-5-7-6-7-4-6-2-7 2-6 7-7 10-7 10-6 8-7 4-6-1-7-7-7-14-6-15-7-8-6 6-7 13-7 10-6 5-7 2z"/><path fill="url(#Af19)" stroke="url(#As19)" d="M352 404l6-1 7-3 7-9 6-14 7-7 6 4 7 7 7 7 6 3 7 1 6 1 7-1 7-4 6-6 7-4 6-3 7 0 7 0 6 1 7 2 6 2 7-1 7-2 6-4 7-3 6 0 7 3 7 4 6 2 7-4 6-8 7-9 7-9 6-8 7-6 6-3 7 2 7 8 6 7 7 2 6-6 7-11 7-12 6-7 7 1 6 6 7 6 7 2 6-5 7-10 6-11 7-7 7-3 6-1 7 1 6 4 7 7 7 3 6-2 7-4-4 1-7 3-6 1-7-4-6-7-7-4-7-3-6-1-7 2-6 7-7 10-7 10-6 6-7-1-6-5-7-5-7 1-6 6-7 12-6 11-7 7-7-1-6-7-7-8-6-2-7 4-7 7-6 9-7 8-6 7-7 5-7 2-6 0-7 0-6 0-7 3-7 4-6 3-7 2-6 0-7-3-7-4-6-3-7-3-6-1-7 3-7 6-6 9-7 8-6 4-7 2-7-2-6-5-7-10-6-12-7-6-7 7-6 14-7 9-6 3-7 2z"/><path fill="url(#Af18)" stroke="url(#As18)" d="M356 405l6-1 7-2 6-10 7-13 7-8 6 2 7 5 6 3 7 1 7 0 6 2 7 3 6 1 7-3 7-2 6-2 7-2 6-2 7-1 7-1 6 1 7-1 6-4 7-4 7-2 6 3 7 6 6 6 7 2 7-5 6-10 7-12 6-9 7-7 7-4 6-3 7 2 6 7 7 9 7 4 6-5 7-11 6-12 7-6 7 1 6 6 7 7 6 2 7-4 7-9 6-10 7-8 6-5 7-3 7 0 6 4 7 6 6 2 7-3 7-4-4 0-7 4-6 2-7-3-7-7-6-4-7-1-6 1-7 3-7 7-6 11-7 10-6 5-7-2-7-6-6-6-7-1-6 7-7 12-7 11-6 6-7-2-6-7-7-8-7-2-6 3-7 6-6 8-7 9-7 9-6 8-7 4-6-2-7-4-7-3-6 0-7 3-6 4-7 2-7 1-6-2-7-2-6-1-7 0-7 0-6 3-7 4-6 6-7 4-7 1-6-1-7-1-6-3-7-7-7-7-6-4-7 7-6 14-7 9-7 3-6 1z"/><path fill="url(#Af17)" stroke="url(#As17)" d="M359 406l7 0 7-3 6-10 7-12 6-7 7 1 7 2 6 1 7-2 6-1 7 3 7 6 6 3 7 2 6-1 7 0 7-3 6-4 7-4 6-2 7-1 7-2 6-4 7-3 6-1 7 4 7 7 6 6 7 2 6-6 7-12 7-13 6-9 7-6 6-4 7-2 7 2 6 7 7 10 6 6 7-3 7-10 6-11 7-7 6 1 7 7 7 6 6 3 7-4 6-8 7-9 7-8 6-7 7-4 6-1 7 3 7 4 6 2 7-3 6-6-3 1-7 4-7 3-6-2-7-6-6-4-7 0-7 3-6 5-7 8-6 10-7 9-7 4-6-2-7-7-6-6-7-1-7 6-6 12-7 11-6 5-7-4-7-9-6-7-7-2-6 3-7 4-7 7-6 9-7 12-6 10-7 5-7-2-6-6-7-6-6-3-7 2-7 4-6 4-7 1-6-1-7 1-7 1-6 2-7 2-6 2-7 2-7 3-6-1-7-3-6-2-7 0-7-1-6-3-7-5-6-2-7 8-7 13-6 10-7 2-6 1z"/><path fill="url(#Af16)" stroke="url(#As16)" d="M363 407l7 0 6-3 7-9 7-11 6-7 7 1 6 2 7-1 7-3 6-3 7 3 6 6 7 6 7 4 6 2 7 0 6-3 7-6 7-5 6-3 7-2 6-2 7-4 7-3 6 1 7 4 6 7 7 5 7-1 6-8 7-12 6-13 7-9 7-5 6-4 7-2 6 2 7 8 7 11 6 7 7-1 6-8 7-11 7-6 6 0 7 6 6 6 7 3 7-3 6-6 7-9 6-9 7-7 7-5 6-2 7 1 6 3 7 1 7-2 6-4-4-3-6 6-7 3-6-2-7-4-7-3-6 1-7 4-6 7-7 8-7 9-6 8-7 4-6-3-7-6-7-7-6-1-7 7-6 11-7 10-7 3-6-6-7-10-6-7-7-2-7 2-6 4-7 6-6 9-7 13-7 12-6 6-7-2-6-6-7-7-7-4-6 1-7 3-6 4-7 2-7 1-6 2-7 4-6 4-7 3-7 0-6 1-7-2-6-3-7-6-7-3-6 1-7 2-6-1-7-2-7-1-6 7-7 12-6 10-7 3-7 0z"/><path fill="url(#Af15)" stroke="url(#As15)" d="M367 409l7 0 6-3 7-8 6-10 7-5 7 1 6 1 7-1 6-3 7-4 7 1 6 6 7 7 6 5 7 3 7 0 6-4 7-6 6-5 7-3 7-1 6-2 7-3 6-1 7 2 7 4 6 4 7 2 6-5 7-10 7-12 6-12 7-7 6-6 7-4 7-1 6 3 7 8 6 11 7 8 7 0 6-7 7-10 6-7 7 0 7 4 6 6 7 3 6-2 7-5 7-8 6-8 7-8 6-6 7-3 7-1 6 3 7 1 6-1 7-1-4-5-6 4-7 2-7-1-6-3-7-1-6 2-7 5-7 7-6 9-7 9-6 6-7 3-7-3-6-6-7-6-6 0-7 6-7 11-6 8-7 1-6-7-7-11-7-8-6-2-7 2-6 4-7 5-7 9-6 13-7 12-6 8-7 1-7-5-6-7-7-4-6-1-7 3-7 4-6 2-7 2-6 3-7 5-7 6-6 3-7 0-6-2-7-4-7-6-6-6-7-3-6 3-7 3-7 1-6-2-7-1-6 7-7 11-7 9-6 3-7 0z"/><path fill="url(#Af14)" stroke="url(#As14)" d="M371 410l6 1 7-2 7-7 6-8 7-5 6 1 7 2 7 0 6-4 7-4 6 0 7 4 7 7 6 5 7 3 6 0 7-4 7-6 6-5 7-1 6-1 7-1 7 0 6 1 7 2 6 3 7 1 7-3 6-8 7-12 6-13 7-9 7-6 6-5 7-4 6-1 7 4 7 8 6 10 7 7 6 1 7-6 7-9 6-6 7-2 6 2 7 4 7 3 6-1 7-5 6-6 7-7 7-7 6-6 7-4 6-2 7 2 7 1 6 1 7 0-4-4-7 1-6 1-7-1-6-3-7 1-7 3-6 6-7 8-6 8-7 8-7 5-6 2-7-3-6-6-7-4-7 0-6 7-7 10-6 7-7 0-7-8-6-11-7-8-6-3-7 1-7 4-6 6-7 7-6 12-7 12-7 10-6 5-7-2-6-4-7-4-7-2-6 1-7 3-6 2-7 1-7 3-6 5-7 6-6 4-7 0-7-3-6-5-7-7-6-6-7-1-7 4-6 3-7 1-6-1-7-1-7 5-6 10-7 8-6 3-7 0z"/><path fill="url(#Af13)" stroke="url(#As13)" d="M375 413l6 0 7-2 6-5 7-7 7-4 6 1 7 3 6 1 7-3 7-4 6-1 7 3 6 5 7 5 7 2 6-1 7-5 6-5 7-4 7-1 6 1 7 1 6 2 7 3 7 3 6 1 7-2 6-7 7-12 7-15 6-11 7-7 6-4 7-3 7-3 6 0 7 4 6 8 7 8 7 5 6 0 7-5 6-7 7-7 7-4 6-1 7 3 6 1 7-1 7-4 6-5 7-6 6-5 7-5 7-3 6-2 7 1 6 1 7 2 7 1-4-4-7 0-6-1-7-1-7-2-6 2-7 4-6 6-7 7-7 7-6 6-7 5-6 1-7-3-7-4-6-2-7 2-6 6-7 9-7 6-6-1-7-7-6-10-7-8-7-4-6 1-7 4-6 5-7 6-7 9-6 13-7 12-6 8-7 3-7-1-6-3-7-2-6-1-7 0-7 1-6 1-7 1-6 5-7 6-7 4-6 0-7-3-6-5-7-7-7-4-6 0-7 4-6 4-7 0-7-2-6-1-7 5-6 8-7 7-7 2-6-1z"/><path fill="url(#Af12)" stroke="url(#As12)" d="M378 416l7-1 7-1 6-4 7-7 6-3 7 1 7 4 6 2 7-2 6-3 7-1 7 2 6 3 7 4 6 1 7-2 7-6 6-5 7-3 6 0 7 2 7 3 6 4 7 5 6 3 7-1 7-5 6-10 7-15 6-16 7-11 7-5 6-1 7 0 6-1 7 1 7 4 6 6 7 6 6 2 7 0 7-3 6-7 7-8 6-6 7-4 7-1 6-1 7-2 6-3 7-4 7-4 6-3 7-2 6-1 7-2 7 1 6 2 7 1 6 0-3-2-7-1-7-2-6-1-7-1-6 2-7 3-7 5-6 5-7 6-6 5-7 4-7 1-6-1-7-3-6 1-7 4-7 7-6 7-7 5-6 0-7-5-7-8-6-8-7-4-6 0-7 3-7 3-6 4-7 7-6 11-7 15-7 12-6 7-7 2-6-1-7-3-7-3-6-2-7-1-6-1-7 1-7 4-6 5-7 5-6 1-7-2-7-5-6-5-7-3-6 1-7 4-7 3-6-1-7-3-6-1-7 4-7 7-6 5-7 2-6 0z"/><path fill="url(#Af11)" stroke="url(#As11)" d="M382 418l7 0 6-1 7-4 7-6 6-3 7 1 6 4 7 2 7 0 6-2 7-1 6 2 7 2 7 2 6 0 7-4 6-6 7-5 7-3 6 0 7 1 6 4 7 6 7 7 6 3 7-2 6-6 7-12 7-16 6-17 7-10 6-3 7 1 7 3 6 1 7 3 6 4 7 5 7 2 6 1 7-1 6-2 7-5 7-9 6-10 7-8 6-5 7-3 7-3 6-3 7-3 6-2 7 0 7 1 6 1 7 0 6 1 7 1 7 1 6 0-4-3-6 0-7-1-6-2-7-1-7 2-6 1-7 2-6 3-7 4-7 4-6 3-7 2-6 1-7 1-7 4-6 6-7 8-6 7-7 3-7 0-6-2-7-6-6-6-7-4-7-1-6 1-7 0-6 1-7 5-7 11-6 16-7 15-6 10-7 5-7 1-6-3-7-5-6-4-7-3-7-2-6 0-7 3-6 5-7 6-7 2-6-1-7-4-6-3-7-2-7 1-6 3-7 2-6-2-7-4-7-1-6 3-7 7-6 4-7 1-7 1z"/><path fill="url(#Af10)" stroke="url(#As10)" d="M386 422l7-1 6-2 7-4 6-5 7-3 7 1 6 3 7 3 6 1 7 0 7-1 6 1 7 2 6 1 7-2 7-6 6-6 7-6 6-4 7-1 7 1 6 5 7 7 6 7 7 4 7-1 6-7 7-12 6-16 7-17 7-10 6-2 7 4 6 4 7 5 7 4 6 4 7 3 6 0 7-1 7-1 6-1 7-5 6-10 7-13 7-12 6-8 7-6 6-4 7-2 7-2 6 0 7 2 6 3 7 4 7 3 6 2 7 0 6 0 7-1-4-2-6 0-7-1-7-1-6-1-7 0-6-1-7-1-7 0-6 2-7 3-6 3-7 3-7 3-6 5-7 8-6 10-7 9-7 5-6 2-7 1-6-1-7-2-7-5-6-4-7-3-6-1-7-3-7-1-6 3-7 10-6 17-7 16-7 12-6 6-7 2-6-3-7-7-7-6-6-4-7-1-6 0-7 3-7 5-6 6-7 4-6 0-7-2-7-2-6-2-7 1-6 2-7 0-7-2-6-4-7-1-6 3-7 6-7 4-6 1-7 0z"/><path fill="url(#Af9)" stroke="url(#As9)" d="M390 427l6-3 7-4 7-4 6-4 7-3 6 1 7 2 7 3 6 2 7 1 6 0 7 1 7 0 6-1 7-3 6-7 7-8 7-6 6-4 7-2 6 0 7 4 7 8 6 8 7 5 6 0 7-6 7-10 6-16 7-16 6-10 7-2 7 5 6 7 7 6 6 5 7 4 7 2 6-1 7-3 6-1 7-1 7-5 6-11 7-15 6-15 7-12 7-7 6-3 7-1 6 0 7 0 7 3 6 5 7 6 6 5 7 2 7 0 6-2 7-1-4-1-7 1-6 0-7 0-6-2-7-3-7-4-6-3-7-2-6 0-7 2-7 2-6 4-7 6-6 8-7 12-7 13-6 10-7 5-6 1-7 1-7 1-6 0-7-3-6-4-7-4-7-5-6-4-7-4-6 2-7 10-7 17-6 16-7 12-6 7-7 1-7-4-6-7-7-7-6-5-7-1-7 1-6 4-7 6-6 6-7 6-7 2-6-1-7-2-6-1-7 1-7 0-6-1-7-3-6-3-7-1-7 3-6 5-7 4-6 2-7 1z"/><path fill="url(#Af8)" stroke="url(#As8)" d="M394 431l6-4 7-5 6-5 7-4 7-3 6 1 7 2 6 3 7 3 7 1 6 0 7 0 6 0 7-3 7-6 6-9 7-8 6-6 7-4 7-2 6 0 7 3 6 7 7 9 7 6 6 1 7-3 6-10 7-14 7-14 6-10 7-1 6 5 7 7 7 7 6 6 7 3 6 1 7-2 7-2 6-2 7-2 6-6 7-12 7-17 6-17 7-14 6-7 7-2 7 2 6 1 7 2 6 3 7 6 7 7 6 5 7 3 6-1 7-3 7-3-4 1-7 1-6 2-7 0-7-2-6-5-7-6-6-5-7-3-7 0-6 0-7 1-6 3-7 7-7 12-6 15-7 15-6 11-7 5-7 1-6 1-7 3-6 1-7-2-7-4-6-5-7-6-6-7-7-5-7 2-6 10-7 16-6 16-7 10-7 6-6 0-7-5-6-8-7-8-7-4-6 0-7 2-6 4-7 6-7 8-6 7-7 3-6 1-7 0-7-1-6 0-7-1-6-2-7-3-7-2-6-1-7 3-6 4-7 4-7 4-6 3z"/><path fill="url(#Af7)" stroke="url(#As7)" d="M397 436l7-7 7-6 6-5 7-4 6-3 7 1 7 2 6 4 7 3 6 2 7-1 7-1 6-3 7-5 6-8 7-10 7-9 6-5 7-3 6-1 7 0 7 3 6 7 7 7 6 7 7 3 7-2 6-9 7-12 6-12 7-7 7-1 6 3 7 6 6 7 7 5 7 3 6 1 7-1 6-3 7-3 7-4 6-7 7-13 6-17 7-18 7-14 6-7 7 0 6 4 7 4 7 3 6 3 7 5 6 7 7 6 7 2 6-2 7-4 6-4-3 1-7 3-7 3-6 1-7-3-6-5-7-7-7-6-6-3-7-2-6-1-7-2-7 2-6 7-7 14-6 17-7 17-7 12-6 6-7 2-6 2-7 2-7 2-6-1-7-3-6-6-7-7-7-7-6-5-7 1-6 10-7 14-7 14-6 10-7 3-6-1-7-6-7-9-6-7-7-3-6 0-7 2-7 4-6 6-7 8-6 9-7 6-7 3-6 0-7 0-6 0-7-1-7-3-6-3-7-2-6-1-7 3-7 4-6 5-7 5-6 4z"/><path fill="url(#Af6)" stroke="url(#As6)" d="M401 439l7-8 6-7 7-5 7-4 6-2 7 1 6 2 7 5 7 3 6 1 7-1 6-3 7-5 7-8 6-10 7-11 6-7 7-4 7 0 6 1 7 1 6 2 7 5 7 6 6 5 7 3 6-1 7-7 7-9 6-9 7-4 6-1 7 2 7 3 6 3 7 4 6 3 7 1 7 0 6-2 7-4 6-6 7-9 7-14 6-16 7-16 6-13 7-6 7 1 6 6 7 5 6 4 7 3 7 5 6 6 7 5 6 1 7-3 7-4 6-5-4 1-6 4-7 4-6 2-7-2-7-6-6-7-7-5-6-3-7-3-7-4-6-4-7 0-6 7-7 14-7 18-6 17-7 13-6 7-7 4-7 3-6 3-7 1-6-1-7-3-7-5-6-7-7-6-6-3-7 1-7 7-6 12-7 12-6 9-7 2-7-3-6-7-7-7-6-7-7-3-7 0-6 1-7 3-6 5-7 9-7 10-6 8-7 5-6 3-7 1-7 1-6-2-7-3-6-4-7-2-7-1-6 3-7 4-6 5-7 6-7 7z"/><path fill="url(#Af5)" stroke="url(#As5)" d="M405 441l7-9 6-7 7-5 6-4 7-1 7 1 6 3 7 4 6 3 7 1 7-3 6-4 7-6 6-9 7-10 7-9 6-5 7-1 6 1 7 2 7 2 6 2 7 2 6 2 7 4 7 2 6-2 7-5 6-6 7-5 7-2 6-1 7-1 6 0 7 0 7 1 6 2 7 2 6 1 7-1 7-4 6-7 7-10 6-12 7-13 7-13 6-10 7-6 6 1 7 4 7 6 6 3 7 4 6 4 7 4 7 4 6 0 7-3 6-5 7-4-4-1-6 5-7 4-7 3-6-1-7-5-6-6-7-5-7-3-6-4-7-5-6-6-7-1-7 6-6 13-7 16-6 16-7 14-7 9-6 6-7 4-6 2-7 0-7-1-6-3-7-4-6-3-7-3-7-2-6 1-7 4-6 9-7 9-7 7-6 1-7-3-6-5-7-6-7-5-6-2-7-1-6-1-7 0-7 4-6 7-7 11-6 10-7 8-7 5-6 3-7 1-6-1-7-3-7-5-6-2-7-1-6 2-7 4-7 5-6 7-7 8z"/><path fill="url(#Af4)" stroke="url(#As4)" d="M409 442l6-10 7-7 7-5 6-2 7-1 6 2 7 3 7 3 6 2 7 0 6-3 7-4 7-7 6-8 7-8 6-6 7-3 7 1 6 2 7 3 6 1 7 0 7 0 6 0 7 1 6 1 7-2 7-3 6-4 7-2 6-2 7-1 7-3 6-4 7-2 6-1 7 1 7 3 6 2 7-1 6-4 7-8 7-9 6-10 7-9 6-8 7-8 7-5 6-1 7 2 6 4 7 3 7 3 6 3 7 3 6 2 7 0 7-3 6-5 7-4-4-1-7 4-6 5-7 3-6 0-7-4-7-4-6-4-7-4-6-3-7-6-7-4-6-1-7 6-6 10-7 13-7 13-6 12-7 10-6 7-7 4-7 1-6-1-7-2-6-2-7-1-7 0-6 0-7 1-6 1-7 2-7 5-6 6-7 5-6 2-7-2-7-4-6-2-7-2-6-2-7-2-7-2-6-1-7 1-6 5-7 9-7 10-6 9-7 6-6 4-7 3-7-1-6-3-7-4-6-3-7-1-7 1-6 4-7 5-6 7-7 9z"/><path fill="url(#Af3)" stroke="url(#As3)" d="M413 440l6-9 7-7 6-3 7-2 7-1 6 2 7 3 6 2 7 2 7-1 6-2 7-4 6-5 7-6 7-5 6-3 7-1 6 1 7 2 7 1 6 0 7-1 6-2 7-2 7 0 6 0 7-1 6-2 7-3 7-2 6-1 7-3 6-4 7-4 7-4 6-2 7 0 6 2 7 2 7-1 6-4 7-6 6-7 7-7 7-6 6-5 7-6 6-4 7-2 7 0 6 1 7 1 6 2 7 1 7 1 6 2 7-1 6-2 7-4 7-4-4-2-7 4-6 5-7 3-7 0-6-2-7-3-6-3-7-3-7-3-6-4-7-2-6 1-7 5-7 8-6 8-7 9-6 10-7 9-7 8-6 4-7 1-6-2-7-3-7-1-6 1-7 2-6 4-7 3-7 1-6 2-7 2-6 4-7 3-7 2-6-1-7-1-6 0-7 0-7 0-6-1-7-3-6-2-7-1-7 3-6 6-7 8-6 8-7 7-7 4-6 3-7 0-6-2-7-3-7-3-6-2-7 1-6 2-7 5-7 7-6 10z"/><path fill="url(#Af2)" stroke="url(#As2)" d="M416 438l7-9 7-5 6-4 7-1 6 0 7 2 7 2 6 2 7 1 6-1 7-1 7-2 6-3 7-3 6-3 7-1 7 0 6 0 7 0 6-1 7-2 7-2 6-3 7-2 6-1 7 0 7 0 6-1 7-2 6-1 7-3 7-3 6-5 7-4 6-4 7-2 7-1 6 0 7 0 6-1 7-3 7-4 6-5 7-4 6-4 7-4 7-3 6-4 7-3 6-2 7-1 7 0 6-1 7 0 6 0 7 0 7 0 6-1 7-3 6 0-3-6-7 4-7 4-6 2-7 1-6-2-7-1-7-1-6-2-7-1-6-1-7 0-7 2-6 4-7 6-6 5-7 6-7 7-6 7-7 6-6 4-7 1-7-2-6-2-7 0-6 2-7 4-7 4-6 4-7 3-6 1-7 2-7 3-6 2-7 1-6 0-7 0-7 2-6 2-7 1-6 0-7-1-7-2-6-1-7 1-6 3-7 5-7 6-6 5-7 4-6 2-7 1-7-2-6-2-7-3-6-2-7 1-7 2-6 3-7 7-6 9z"/><path fill="url(#Af1)" stroke="url(#As1)" d="M420 436l7-9 6-5 7-3 7-1 6 1 7 2 6 2 7 2 7 0 6 1 7-1 6 0 7-2 7-1 6-1 7 0 6 0 7-2 7-2 6-2 7-3 6-4 7-4 7-3 6 0 7 1 6 2 7 0 7-1 6-2 7-3 6-4 7-4 7-4 6-3 7-2 6-2 7-2 7-2 6-2 7-2 6-3 7-2 7-3 6-3 7-3 6-4 7-3 7-3 6-3 7-2 6-2 7-2 7-2 6 0 7 0 6 1 7-1 7-2 6 0-4-2-6 0-7 3-6 1-7 0-7 0-6 0-7 0-6 1-7 0-7 1-6 2-7 3-6 4-7 3-7 4-6 4-7 4-6 5-7 4-7 3-6 1-7 0-6 0-7 1-7 2-6 4-7 4-6 5-7 3-7 3-6 1-7 2-6 1-7 0-7 0-6 1-7 2-6 3-7 2-7 2-6 1-7 0-6 0-7 0-7 1-6 3-7 3-6 3-7 2-7 1-6 1-7-1-6-2-7-2-7-2-6 0-7 1-6 4-7 5-7 9z"/><path fill="url(#Af0)" stroke="url(#As0)" d="M424 432l7-7 6-3 7-1 6 0 7 3 7 4 6 1 7 0 6 0 7-1 7 0 6-1 7 0 6-1 7 0 7 1 6 1 7-3 6-4 7-4 7-3 6-4 7-4 6-4 7 2 7 2 6 2 7 0 6 0 7-2 7-5 6-4 7-4 6-3 7-3 7-3 6-2 7-2 6-2 7-3 7-2 6-2 7-2 6-3 7-3 7-3 6-4 7-3 6-3 7-3 7-3 6-2 7-3 6-1 7 1 7 1 6 0 7 0 6-5 7-1-4 0-6 0-7 2-7 1-6-1-7 0-6 0-7 2-7 2-6 2-7 2-6 3-7 3-7 3-6 4-7 3-6 3-7 3-7 2-6 3-7 2-6 2-7 2-7 2-6 2-7 2-6 3-7 4-7 4-6 4-7 3-6 2-7 1-7 0-6-2-7-1-6 0-7 3-7 4-6 4-7 3-6 2-7 2-7 2-6 0-7 0-6 1-7 1-7 2-6 0-7 1-6-1-7 0-7-2-6-2-7-2-6-1-7 1-7 3-6 5-7 9z"/></g><g id="sd"><g transform="scale(0.25)" stroke-width="1.2" stroke-linejoin="round"><path fill="url(#Df79)" stroke="url(#Ds79)" d="M141 1016l6 2 7 0 7-5 6-12 7-17 7-12 6-3 7 3 7 7 6 5 7 4 7 0 6-1 7-3 7-3 6-3 7-3 7-4 6-4 7-5 7-4 6-3 7 0 7 2 6 3 7 5 7 5 6 3 7 3 7 1 6 0 7-2 7-5 6-4 7-4 7-4 6-3 7-2 7-2 6 0 7 0 7-2 6-4 7-3 7-3 6-1 7 1 7 2 6-1 7-2 7-5 6-7 7-6 7-4 6-4 7-2 7-3 6 0 7-1 7-2-4-2-7 0-6 1-7 1-7 3-6 3-7 3-7 5-6 7-7 9-7 2-6 0-7-1-7-3-6-3-7 2-7 4-6 6-7 6-7 2-6-2-7-1-7 3-6 2-7 5-7 4-6 5-7 4-7 4-6 2-7-1-7-1-6-4-7-4-7-6-6-7-7-3-7-3-6 2-7 2-7 5-6 6-7 5-7 5-6 4-7 3-7 3-6 2-7 1-7 0-6-5-7-7-7-11-6-6-7 4-7 15-6 29-7 12-7 3-6-1-7-1z"/><path fill="url(#Df78)" stroke="url(#Ds78)" d="M145 1017l6 1 7-2 7-7 6-11 7-11 7-7 6-3 7 1 7 6 6 6 7 6 7 1 6-2 7-4 7-4 6-3 7-2 7-3 6-4 7-5 7-4 6-1 7 0 7 3 6 3 7 4 7 4 6 2 7 0 7-2 6-4 7-5 7-4 6-2 7-1 7-1 6-2 7-3 7-2 6-3 7-2 7-4 6-5 7-3 7-1 6 0 7 1 7 1 6-1 7-2 7-4 6-5 7-5 7-5 6-3 7-3 7-1 6 0 7 0 7-4-4-2-7 2-7 1-6 0-7 3-7 2-6 4-7 4-7 6-6 7-7 5-7 2-6 1-7-2-7-1-6 1-7 3-7 3-6 4-7 2-7 0-6 0-7 2-7 2-6 3-7 4-7 4-6 4-7 5-7 2-6 0-7-1-7-3-6-3-7-5-7-5-6-3-7-2-7 0-6 3-7 4-7 5-6 4-7 4-7 3-6 3-7 3-7 3-6 1-7 0-7-4-6-5-7-7-7-3-6 3-7 12-7 17-6 12-7 5-7 0-6-2z"/><path fill="url(#Df77)" stroke="url(#Ds77)" d="M148 1018l7 0 7-5 6-10 7-9 7-8 6-5 7-2 7 2 6 8 7 11 7 10 6 2 7-4 7-8 6-7 7-4 7-2 6-2 7-3 7-5 6-3 7 0 7 2 6 3 7 5 7 4 6 4 7 2 7-2 6-6 7-9 7-9 6-5 7 0 7 2 6 1 7-2 7-3 6-4 7-4 7-5 6-6 7-6 7-3 6 1 7 3 7 2 6 2 7 0 7-2 6-3 7-4 7-5 6-5 7-5 7-3 6-1 7 1 7-1 6-5-3-2-7 4-7 0-6 0-7 1-7 3-6 3-7 5-7 5-6 5-7 4-7 2-6 1-7-1-7-1-6 0-7 1-7 3-6 5-7 4-7 2-6 3-7 2-7 3-6 2-7 1-7 1-6 2-7 4-7 5-6 4-7 2-7 0-6-2-7-4-7-4-6-3-7-3-7 0-6 1-7 4-7 5-6 4-7 3-7 2-6 3-7 4-7 4-6 2-7-1-7-6-6-6-7-6-7-1-6 3-7 7-7 11-6 11-7 7-7 2-6-1z"/><path fill="url(#Df76)" stroke="url(#Ds76)" d="M152 1019l7-2 6-9 7-12 7-10 6-6 7-1 7 0 6 5 7 13 7 17 6 14 7 4 7-8 6-14 7-11 7-6 6-4 7-2 7-3 6-4 7-2 7 1 6 4 7 5 7 6 6 6 7 6 7 3 6-2 7-10 7-14 6-13 7-6 7 2 6 4 7 1 7-3 6-5 7-6 7-5 6-7 7-6 7-6 6-2 7 3 7 5 6 5 7 3 7 1 6 0 7-2 7-4 6-5 7-6 7-7 6-5 7-2 7 2 6-1 7-6-4-4-6 5-7 1-7-1-6 1-7 3-7 5-6 5-7 5-7 4-6 3-7 2-7 0-6-2-7-2-7-3-6-1-7 3-7 6-6 6-7 5-7 4-6 4-7 3-7 2-6-1-7-2-7 0-6 5-7 9-7 9-6 6-7 2-7-2-6-4-7-4-7-5-6-3-7-2-7 0-6 3-7 5-7 3-6 2-7 2-7 4-6 7-7 8-7 4-6-2-7-10-7-11-6-8-7-2-7 2-6 5-7 8-7 9-6 10-7 5-7 0z"/><path fill="url(#Df75)" stroke="url(#Ds75)" d="M156 1020l7-3 6-12 7-16 7-11 6-4 7 2 7 4 6 10 7 18 7 23 6 18 7 3 7-12 6-18 7-17 7-11 6-7 7-4 7-4 6-3 7 0 7 3 6 6 7 6 7 7 6 8 7 9 7 7 6-1 7-10 7-17 6-14 7-7 7 1 6 3 7-1 7-5 6-7 7-6 7-7 6-7 7-6 7-4 6 0 7 4 7 6 6 7 7 6 7 2 6 0 7-2 7-3 6-5 7-6 7-8 6-7 7-3 7-1 6-1 7-3-4-8-7 6-6 1-7-2-7 2-6 5-7 7-7 6-6 5-7 4-7 2-6 0-7-1-7-3-6-5-7-5-7-3-6 2-7 6-7 6-6 7-7 5-7 6-6 5-7 3-7-1-6-4-7-2-7 6-6 13-7 14-7 10-6 2-7-3-7-6-6-6-7-6-7-5-6-4-7-1-7 2-6 4-7 3-7 2-6 4-7 6-7 11-6 14-7 8-7-4-6-14-7-17-7-13-6-5-7 0-7 1-6 6-7 10-7 12-6 9-7 2z"/><path fill="url(#Df74)" stroke="url(#Ds74)" d="M160 1022l6-4 7-13 7-18 6-12 7-3 7 5 6 8 7 14 7 21 6 25 7 18 7 2 6-14 7-22 7-21 6-15 7-10 7-7 6-4 7-2 7 3 6 6 7 7 7 6 6 5 7 9 7 11 6 10 7 3 7-8 6-16 7-14 7-6 6 0 7 1 7-4 6-9 7-8 7-7 6-7 7-8 7-5 6-2 7 1 7 5 6 6 7 8 7 7 6 3 7-1 7-2 6-3 7-3 7-5 6-6 7-8 7-6 6-3 7-2 7 0-4-8-7 3-6 1-7 1-7 3-6 7-7 8-7 6-6 5-7 3-7 2-6 0-7-2-7-6-6-7-7-6-7-4-6 0-7 4-7 6-6 7-7 7-7 6-6 7-7 5-7 1-6-3-7-1-7 7-6 14-7 17-7 10-6 1-7-7-7-9-6-8-7-7-7-6-6-6-7-3-7 0-6 3-7 4-7 4-6 7-7 11-7 17-6 18-7 12-7-3-6-18-7-23-7-18-6-10-7-4-7-2-6 4-7 11-7 16-6 12-7 3z"/><path fill="url(#Df73)" stroke="url(#Ds73)" d="M164 1025l6-5 7-12 7-17 6-13 7-2 7 8 6 11 7 15 7 21 6 21 7 15 7 0 6-15 7-22 7-22 6-16 7-12 7-7 6-4 7-1 7 5 6 8 7 7 7 4 6 4 7 7 7 12 6 12 7 5 7-5 6-12 7-11 7-5 6 0 7-2 7-7 6-11 7-11 7-8 6-8 7-7 7-4 6 0 7 1 7 4 6 5 7 8 7 6 6 2 7-2 7-3 6-3 7 0 7-1 6-3 7-7 7-9 6-5 7-1 7 1-4-6-7 0-7 2-6 3-7 6-7 8-6 6-7 5-7 3-6 3-7 2-7 1-6-3-7-7-7-8-6-6-7-5-7-1-6 2-7 5-7 8-6 7-7 7-7 8-6 9-7 4-7-1-6 0-7 6-7 14-6 16-7 8-7-3-6-10-7-11-7-9-6-5-7-6-7-7-6-6-7-3-7 2-6 4-7 7-7 10-6 15-7 21-7 22-6 14-7-2-7-18-6-25-7-21-7-14-6-8-7-5-7 3-6 12-7 18-7 13-6 4z"/><path fill="url(#Df72)" stroke="url(#Ds72)" d="M167 1028l7-5 7-11 6-16 7-13 7 0 6 10 7 13 7 15 6 18 7 17 7 10 6-3 7-15 7-21 6-20 7-16 7-11 6-7 7-3 7 2 6 7 7 9 7 6 6 3 7 1 7 5 6 10 7 12 7 7 6-2 7-8 7-8 6-3 7 0 7-4 6-11 7-13 7-13 6-10 7-9 7-7 6-2 7 0 7 2 6 3 7 4 7 6 6 5 7 1 7-4 6-4 7-2 7 3 6 4 7 1 7-5 6-11 7-7 7-1 6 1-3-4-7-1-7 1-6 5-7 9-7 7-6 3-7 1-7 0-6 3-7 3-7 2-6-2-7-6-7-8-6-5-7-4-7-1-6 0-7 4-7 7-6 8-7 8-7 11-6 11-7 7-7 2-6 0-7 5-7 11-6 12-7 5-7-5-6-12-7-12-7-7-6-4-7-4-7-7-6-8-7-5-7 1-6 4-7 7-7 12-6 16-7 22-7 22-6 15-7 0-7-15-6-21-7-21-7-15-6-11-7-8-7 2-6 13-7 17-7 12-6 5z"/><path fill="url(#Df71)" stroke="url(#Ds71)" d="M171 1031l7-4 6-11 7-15 7-11 6 1 7 11 7 14 6 13 7 13 7 12 6 5 7-4 7-15 6-19 7-18 7-13 6-8 7-4 7 0 6 3 7 8 7 10 6 6 7 1 7-1 6 2 7 6 7 10 6 6 7 0 7-5 6-4 7-1 7-1 6-6 7-13 7-16 6-15 7-11 7-9 6-6 7-1 7 2 6 1 7 2 7 2 6 4 7 3 7-1 6-5 7-6 7 0 6 6 7 9 7 5 6-3 7-12 7-8 6 0 7 1-4-3-6-1-7 1-7 7-6 11-7 5-7-1-6-4-7-3-7 2-6 4-7 4-7-1-6-5-7-6-7-4-6-3-7-2-7 0-6 2-7 7-7 9-6 10-7 13-7 13-6 11-7 4-7 0-6 3-7 8-7 8-6 2-7-7-7-12-6-10-7-5-7-1-6-3-7-6-7-9-6-7-7-2-7 3-6 7-7 11-7 16-6 20-7 21-7 15-6 3-7-10-7-17-6-18-7-15-7-13-6-10-7 0-7 13-6 16-7 11-7 5z"/><path fill="url(#Df70)" stroke="url(#Ds70)" d="M175 1034l7-4 6-10 7-13 7-9 6 3 7 11 7 12 6 10 7 9 7 6 6 1 7-6 7-13 6-16 7-15 7-9 6-5 7 0 7 3 6 5 7 9 7 8 6 5 7 1 7-3 6-1 7 3 7 5 6 5 7 0 7-2 6-1 7-1 7-2 6-8 7-14 7-18 6-16 7-13 7-8 6-3 7 1 7 2 6 1 7 0 7 0 6 2 7 0 7-3 6-7 7-5 7 1 6 8 7 13 7 9 6 0 7-11 7-8 6-1 7-1-4 0-7-1-6 0-7 8-7 12-6 3-7-5-7-9-6-6-7 0-7 6-6 5-7 1-7-3-6-4-7-2-7-2-6-1-7-2-7 1-6 6-7 9-7 11-6 15-7 16-7 13-6 6-7 1-7 1-6 4-7 5-7 0-6-6-7-10-7-6-6-2-7 1-7-1-6-6-7-10-7-8-6-3-7 0-7 4-6 8-7 13-7 18-6 19-7 15-7 4-6-5-7-12-7-13-6-13-7-14-7-11-6-1-7 11-7 15-6 11-7 4z"/><path fill="url(#Df69)" stroke="url(#Ds69)" d="M179 1036l6-4 7-8 7-11 6-6 7 4 7 10 6 9 7 6 7 4 6 1 7-2 7-6 6-11 7-13 7-10 6-6 7-1 7 3 6 6 7 7 7 8 6 7 7 4 7 0 6-3 7-3 7-2 6 1 7 1 7 0 6-1 7-1 7 0 6-4 7-9 7-15 6-19 7-16 7-12 6-6 7 0 7 3 6 2 7 0 7-2 6-1 7-2 7-2 6-5 7-6 7-5 6 2 7 11 7 15 6 12 7 1 7-10 6-7 7-1 7-4-4 2-7 1-6 1-7 8-7 11-6 0-7-9-7-13-6-8-7-1-7 5-6 7-7 3-7 0-6-2-7 0-7 0-6-1-7-2-7-1-6 3-7 8-7 13-6 16-7 18-7 14-6 8-7 2-7 1-6 1-7 2-7 0-6-5-7-5-7-3-6 1-7 3-7-1-6-5-7-8-7-9-6-5-7-3-7 0-6 5-7 9-7 15-6 16-7 13-7 6-6-1-7-6-7-9-6-10-7-12-7-11-6-3-7 9-7 13-6 10-7 4z"/><path fill="url(#Df68)" stroke="url(#Ds68)" d="M182 1038l7-4 7-6 6-8 7-3 7 5 6 8 7 5 7 2 6-2 7-2 7-4 6-6 7-8 7-9 6-6 7-3 7 1 6 6 7 8 7 8 6 7 7 5 7 3 6 0 7-3 7-4 6-5 7-4 7-3 6-1 7-1 7-1 6-2 7-6 7-10 6-15 7-17 7-16 6-9 7-3 7 2 6 3 7 2 7-1 6-3 7-3 7-4 6-5 7-5 7-5 6-3 7 3 7 11 6 16 7 12 7 3 6-8 7-6 7-1 6-6-3 2-7 4-7 1-6 7-7 10-7-1-6-12-7-15-7-11-6-2-7 5-7 6-6 5-7 2-7 2-6 1-7 2-7 0-6-2-7-3-7 0-6 6-7 12-7 16-6 19-7 15-7 9-6 4-7 0-7 1-6 1-7 0-7-1-6-1-7 2-7 3-6 3-7 0-7-4-6-7-7-8-7-7-6-6-7-3-7 1-6 6-7 10-7 13-6 11-7 6-7 2-6-1-7-4-7-6-6-9-7-10-7-4-6 6-7 11-7 8-6 4z"/><path fill="url(#Df67)" stroke="url(#Ds67)" d="M186 1040l7-3 7-4 6-4 7 0 7 5 6 5 7 1 7-4 6-5 7-5 7-5 6-4 7-5 7-6 6-4 7-1 7 3 6 7 7 10 7 8 6 6 7 2 7 1 6 1 7-2 7-4 6-7 7-7 7-7 6-4 7-3 7-2 6-4 7-6 7-10 6-13 7-15 7-13 6-7 7 0 7 3 6 3 7 1 7-2 6-3 7-5 7-6 6-6 7-6 7-3 6-1 7 5 7 11 6 14 7 11 7 2 6-5 7-5 7-1 6-6-4 1-6 6-7 1-7 6-6 8-7-3-7-12-6-16-7-11-7-3-6 3-7 5-7 5-6 5-7 4-7 3-6 3-7 1-7-2-6-3-7-2-7 3-6 9-7 16-7 17-6 15-7 10-7 6-6 2-7 1-7 1-6 1-7 3-7 4-6 5-7 4-7 3-6 0-7-3-7-5-6-7-7-8-7-8-6-6-7-1-7 3-6 6-7 9-7 8-6 6-7 4-7 2-6 2-7-2-7-5-6-8-7-5-7 3-6 8-7 6-7 4z"/><path fill="url(#Df66)" stroke="url(#Ds66)" d="M190 1042l7-3 6-1 7 0 7 3 6 5 7 1 7-3 6-8 7-9 7-7 6-4 7-3 7-3 6-2 7-2 7-1 6 4 7 8 7 10 6 8 7 4 7 1 6 0 7 0 7 0 6-4 7-7 7-10 6-9 7-8 7-5 6-4 7-5 7-6 6-8 7-11 7-12 6-10 7-5 7 1 6 3 7 2 7 0 6-2 7-3 7-6 6-7 7-8 7-5 6-2 7 3 7 6 6 10 7 12 7 8 6 1 7-4 7-3 6-1 7-5-4 0-6 6-7 1-7 5-6 5-7-2-7-11-6-14-7-11-7-5-6 1-7 3-7 6-6 6-7 6-7 5-6 3-7 2-7-1-6-3-7-3-7 0-6 7-7 13-7 15-6 13-7 10-7 6-6 4-7 2-7 3-6 4-7 7-7 7-6 7-7 4-7 2-6-1-7-1-7-2-6-6-7-8-7-10-6-7-7-3-7 1-6 4-7 6-7 5-6 4-7 5-7 5-6 5-7 4-7-1-6-5-7-5-7 0-6 4-7 4-7 3z"/><path fill="url(#Df65)" stroke="url(#Ds65)" d="M194 1044l6-3 7 1 7 4 6 5 7 5 7-2 6-7 7-11 7-11 6-8 7-4 7-1 6-1 7-1 7-2 6 0 7 4 7 7 6 10 7 7 7 4 6 0 7-1 7 1 6 1 7-3 7-7 6-10 7-12 7-11 6-8 7-6 7-4 6-4 7-6 7-7 6-9 7-8 7-4 6 1 7 2 7 1 6 0 7-3 7-3 6-6 7-9 7-9 6-6 7 1 7 5 6 9 7 10 7 9 6 5 7-2 7-4 6-2 7-1 7-4-4 0-7 5-6 1-7 3-7 4-6-1-7-8-7-12-6-10-7-6-7-3-6 2-7 5-7 8-6 7-7 6-7 3-6 2-7 0-7-2-6-3-7-1-7 5-6 10-7 12-7 11-6 8-7 6-7 5-6 4-7 5-7 8-6 9-7 10-7 7-6 4-7 0-7 0-6 0-7-1-7-4-6-8-7-10-7-8-6-4-7 1-7 2-6 2-7 3-7 3-6 4-7 7-7 9-6 8-7 3-7-1-6-5-7-3-7 0-6 1-7 3z"/><path fill="url(#Df64)" stroke="url(#Ds64)" d="M198 1045l6-1 7 2 7 5 6 7 7 5 7-4 6-10 7-14 7-12 6-8 7-3 7 0 6 0 7-1 7-2 6 0 7 3 7 7 6 9 7 7 7 4 6 0 7 0 7 0 6 1 7-1 7-7 6-10 7-13 7-13 6-11 7-6 7-3 6-2 7-2 7-4 6-7 7-5 7-4 6 0 7 1 7 0 6-1 7-3 7-4 6-8 7-10 7-10 6-5 7 2 7 8 6 12 7 11 7 7 6 2 7-4 7-7 6-3 7-1 7-3-4 0-7 4-7 1-6 2-7 4-7 2-6-5-7-9-7-10-6-9-7-5-7-1-6 6-7 9-7 9-6 6-7 3-7 3-6 0-7-1-7-2-6-1-7 4-7 8-6 9-7 7-7 6-6 4-7 4-7 6-6 8-7 11-7 12-6 10-7 7-7 3-6-1-7-1-7 1-6 0-7-4-7-7-6-10-7-7-7-4-6 0-7 2-7 1-6 1-7 1-7 4-6 8-7 11-7 11-6 7-7 2-7-5-6-5-7-4-7-1-6 3z"/><path fill="url(#Df63)" stroke="url(#Ds63)" d="M201 1048l7-2 7 3 6 6 7 7 7 4 6-5 7-11 7-15 6-12 7-8 7-2 6-1 7 1 7-2 6-2 7-2 7 3 6 6 7 8 7 8 6 6 7 1 7 0 6 1 7 0 7-2 6-6 7-10 7-13 6-13 7-12 7-6 6-2 7 1 7 1 6-1 7-4 7-5 6-3 7-1 7 1 6-1 7-3 7-5 6-6 7-9 7-11 6-10 7-5 7 3 6 11 7 14 7 13 6 8 7 0 7-7 6-10 7-6 7-2 6-3-3 0-7 3-7 1-6 3-7 7-7 4-6-2-7-7-7-11-6-12-7-8-7-2-6 5-7 10-7 10-6 8-7 4-7 3-6 1-7 0-7-1-6 0-7 4-7 5-6 7-7 4-7 2-6 2-7 3-7 6-6 11-7 13-7 13-6 10-7 7-7 1-6-1-7 0-7 0-6 0-7-4-7-7-6-9-7-7-7-3-6 0-7 2-7 1-6 0-7 0-7 3-6 8-7 12-7 14-6 10-7 4-7-5-6-7-7-5-7-2-6 1z"/><path fill="url(#Df62)" stroke="url(#Ds62)" d="M205 1050l7-2 7 3 6 5 7 7 7 4 6-5 7-11 7-15 6-12 7-7 7-3 6 0 7-1 7-2 6-4 7-2 7 2 6 5 7 9 7 9 6 6 7 4 7 1 6 1 7-1 7-4 6-7 7-9 7-11 6-13 7-11 7-7 6 0 7 3 7 4 6 2 7-3 7-3 6-3 7-1 7-1 6-1 7-5 7-7 6-9 7-10 7-11 6-11 7-5 7 4 6 13 7 17 7 16 6 9 7 1 7-9 6-16 7-11 7-4 6-3-4 1-6 3-7 2-7 6-6 10-7 7-7 0-6-8-7-13-7-14-6-11-7-3-7 5-6 10-7 11-7 9-6 6-7 5-7 3-6 1-7-1-7 1-6 3-7 5-7 4-6 1-7-1-7-1-6 2-7 6-7 12-6 13-7 13-7 10-6 6-7 2-7 0-6-1-7 0-7-1-6-6-7-8-7-8-6-6-7-3-7 2-6 2-7 2-7-1-6 1-7 2-7 8-6 12-7 15-7 11-6 5-7-4-7-7-6-6-7-3-7 2z"/><path fill="url(#Df61)" stroke="url(#Ds61)" d="M209 1052l7-1 6 2 7 5 7 6 6 4 7-4 7-11 6-14 7-12 7-7 6-3 7-1 7-2 6-4 7-5 7-2 6 1 7 6 7 9 6 10 7 8 7 5 6 2 7 0 7-2 6-5 7-8 7-8 6-10 7-12 7-11 6-6 7 0 7 5 6 5 7 4 7-1 6-3 7-2 7 0 6 0 7-3 7-7 6-10 7-12 7-11 6-11 7-9 7-5 6 5 7 14 7 19 6 18 7 12 7 2 6-11 7-21 7-17 6-6 7-4-4 2-6 3-7 4-7 11-6 16-7 9-7-1-6-9-7-16-7-17-6-13-7-4-7 5-6 11-7 11-7 10-6 9-7 7-7 5-6 1-7 1-7 1-6 3-7 3-7 3-6-2-7-4-7-3-6 0-7 7-7 11-6 13-7 11-7 9-6 7-7 4-7 1-6-1-7-1-7-4-6-6-7-9-7-9-6-5-7-2-7 2-6 4-7 2-7 1-6 0-7 3-7 7-6 12-7 15-7 11-6 5-7-4-7-7-6-5-7-3-7 2z"/><path fill="url(#Df60)" stroke="url(#Ds60)" d="M213 1055l6-1 7 2 7 4 6 5 7 4 7-4 6-10 7-13 7-11 6-7 7-4 7-2 6-4 7-4 7-5 6-3 7 3 7 6 6 9 7 9 7 9 6 6 7 3 7 0 6-4 7-6 7-8 6-8 7-9 7-10 6-11 7-7 7-1 6 6 7 6 7 5 6 1 7-1 7-1 6 1 7 0 7-4 6-9 7-13 7-14 6-12 7-10 7-8 6-4 7 4 7 15 6 21 7 21 7 14 6 3 7-12 7-26 6-22 7-8 7-5-4 2-7 4-6 6-7 17-7 21-6 11-7-2-7-12-6-18-7-19-7-14-6-5-7 5-7 9-6 11-7 11-7 12-6 10-7 7-7 3-6 0-7 0-7 2-6 3-7 1-7-4-6-5-7-5-7 0-6 6-7 11-7 12-6 10-7 8-7 8-6 5-7 2-7 0-6-2-7-5-7-8-6-10-7-9-7-6-6-1-7 2-7 5-6 4-7 2-7 1-6 3-7 7-7 12-6 14-7 11-7 4-6-4-7-6-7-5-6-2-7 1z"/><path fill="url(#Df59)" stroke="url(#Ds59)" d="M217 1057l6 0 7 2 7 3 6 5 7 4 7-3 6-9 7-12 7-12 6-7 7-5 7-3 6-4 7-6 7-4 6-1 7 3 7 8 6 8 7 9 7 8 6 5 7 3 7-1 6-4 7-7 7-8 6-7 7-8 7-11 6-11 7-8 7-1 6 5 7 7 7 5 6 3 7 1 7 1 6 1 7 1 7-4 6-11 7-14 7-15 6-12 7-11 7-8 6-5 7 5 7 16 6 22 7 22 7 15 6 3 7-13 7-29 6-24 7-10 7-5-4 2-7 5-7 8-6 22-7 26-7 12-6-3-7-14-7-21-6-21-7-15-7-4-6 4-7 8-7 10-6 12-7 14-7 13-6 9-7 4-7 0-6-1-7 1-7 1-6-1-7-5-7-6-6-6-7 1-7 7-6 11-7 10-7 9-6 8-7 8-7 6-6 4-7 0-7-3-6-6-7-9-7-9-6-9-7-6-7-3-6 3-7 5-7 4-6 4-7 2-7 4-6 7-7 11-7 13-6 10-7 4-7-4-6-5-7-4-7-2-6 1z"/><path fill="url(#Df58)" stroke="url(#Ds58)" d="M220 1060l7-1 7 3 6 4 7 5 7 4 6-3 7-9 7-13 6-11 7-8 7-5 6-3 7-5 7-6 6-3 7 0 7 6 6 8 7 8 7 7 6 6 7 4 7 2 6-2 7-4 7-7 6-7 7-7 7-9 6-10 7-12 7-8 6-2 7 5 7 7 6 6 7 3 7 2 6 3 7 3 7 0 6-4 7-10 7-15 6-14 7-13 7-11 6-9 7-6 7 5 6 15 7 22 7 22 6 14 7 1 7-13 6-29 7-23 7-10 6-6-3 2-7 5-7 10-6 24-7 29-7 13-6-3-7-15-7-22-6-22-7-16-7-5-6 5-7 8-7 11-6 12-7 15-7 14-6 11-7 4-7-1-6-1-7-1-7-1-6-3-7-5-7-7-6-5-7 1-7 8-6 11-7 11-7 8-6 7-7 8-7 7-6 4-7 1-7-3-6-5-7-8-7-9-6-8-7-8-7-3-6 1-7 4-7 6-6 4-7 3-7 5-6 7-7 12-7 12-6 9-7 3-7-4-6-5-7-3-7-2-6 0z"/><path fill="url(#Df57)" stroke="url(#Ds57)" d="M224 1062l7-1 6 3 7 5 7 6 6 3 7-4 7-9 6-13 7-11 7-8 6-5 7-3 7-5 6-5 7-2 7 3 6 8 7 8 7 7 6 4 7 4 7 2 6 0 7-3 7-4 6-6 7-7 7-7 6-9 7-11 7-12 6-7 7-1 7 6 6 6 7 5 7 3 6 3 7 3 7 4 6 2 7-3 7-9 6-13 7-14 7-12 6-12 7-11 7-7 6 3 7 14 7 20 6 19 7 10 7-1 6-14 7-24 7-20 6-8 7-6-4 1-6 6-7 10-7 23-6 29-7 13-7-1-6-14-7-22-7-22-6-15-7-5-7 6-6 9-7 11-7 13-6 14-7 15-7 10-6 4-7 0-7-3-6-3-7-2-7-3-6-6-7-7-7-5-6 2-7 8-7 12-6 10-7 9-7 7-6 7-7 7-7 4-6 2-7-2-7-4-6-6-7-7-7-8-6-8-7-6-7 0-6 3-7 6-7 5-6 3-7 5-7 8-6 11-7 13-7 9-6 3-7-4-7-5-6-4-7-3-7 1z"/><path fill="url(#Df56)" stroke="url(#Ds56)" d="M228 1064l7-1 6 3 7 5 7 8 6 3 7-5 7-11 6-14 7-12 7-8 6-4 7-3 7-4 6-3 7 0 7 5 6 10 7 8 7 5 6 2 7 1 7-1 6-2 7-3 7-4 6-5 7-7 7-7 6-10 7-12 7-10 6-6 7 2 7 6 6 7 7 4 7 1 6 2 7 4 7 5 6 4 7-2 7-7 6-12 7-12 7-12 6-12 7-12 7-9 6 1 7 11 7 17 6 15 7 6 7-6 6-14 7-18 7-13 6-7 7-6-4 1-7 6-6 8-7 20-7 24-6 14-7 1-7-10-6-19-7-20-7-14-6-3-7 7-7 11-6 12-7 12-7 14-6 13-7 9-7 3-6-2-7-4-7-3-6-3-7-3-7-5-6-6-7-6-7 1-6 7-7 12-7 11-6 9-7 7-7 7-6 6-7 4-7 3-6 0-7-2-7-4-6-4-7-7-7-8-6-8-7-3-7 2-6 5-7 5-7 3-6 5-7 8-7 11-6 13-7 9-7 4-6-3-7-6-7-5-6-3-7 1z"/><path fill="url(#Df55)" stroke="url(#Ds55)" d="M232 1066l6-1 7 2 7 6 6 8 7 4 7-7 6-12 7-15 7-13 6-9 7-4 7-3 6-2 7-2 7 3 6 9 7 11 7 9 6 3 7-1 7-4 6-3 7-4 7-3 6-3 7-4 7-6 6-9 7-11 7-12 6-8 7-2 7 5 6 8 7 6 7 2 6 0 7 0 7 3 6 6 7 5 7 1 6-6 7-10 7-11 6-11 7-11 7-13 6-9 7-2 7 8 6 13 7 9 7 0 6-9 7-14 7-11 6-6 7-5 7-7-4 1-7 6-6 7-7 13-7 18-6 14-7 6-7-6-6-15-7-17-7-11-6-1-7 9-7 12-6 12-7 12-7 12-6 12-7 7-7 2-6-4-7-5-7-4-6-2-7-1-7-4-6-7-7-6-7-2-6 6-7 10-7 12-6 10-7 7-7 7-6 5-7 4-7 3-6 2-7 1-7-1-6-2-7-5-7-8-6-10-7-5-7 0-6 3-7 4-7 3-6 4-7 8-7 12-6 14-7 11-7 5-6-3-7-8-7-5-6-3-7 1z"/><path fill="url(#Df54)" stroke="url(#Ds54)" d="M235 1068l7-2 7 1 6 6 7 10 7 4 6-7 7-13 7-17 6-14 7-10 7-6 6-3 7-2 7 1 6 7 7 11 7 14 6 9 7 1 7-5 6-7 7-5 7-4 6-3 7-2 7-3 6-6 7-10 7-13 6-11 7-6 7 2 6 8 7 10 7 6 6 0 7-3 7-2 6 1 7 6 7 7 6 2 7-4 7-9 6-10 7-9 7-10 6-11 7-9 7-3 6 3 7 8 7 4 6-4 7-12 7-13 6-5 7 0 7-4 6-10-3 2-7 7-7 5-6 6-7 11-7 14-6 9-7 0-7-9-6-13-7-8-7 2-6 9-7 13-7 11-6 11-7 11-7 10-6 6-7-1-7-5-6-6-7-3-7 0-6 0-7-2-7-6-6-8-7-5-7 2-6 8-7 12-7 11-6 9-7 6-7 4-6 3-7 3-7 4-6 3-7 4-7 1-6-3-7-9-7-11-6-9-7-3-7 2-6 2-7 3-7 4-6 9-7 13-7 15-6 12-7 7-7-4-6-8-7-6-7-2-6 1z"/><path fill="url(#Df53)" stroke="url(#Ds53)" d="M239 1070l7-2 7 0 6 5 7 10 7 5 6-5 7-13 7-17 6-17 7-13 7-9 6-4 7-2 7 3 6 10 7 15 7 15 6 9 7 0 7-7 6-9 7-7 7-3 6-2 7 0 7-2 6-7 7-12 7-14 6-11 7-4 7 5 6 11 7 12 7 6 6-2 7-6 7-5 6 0 7 5 7 7 6 4 7-4 7-9 6-9 7-7 7-7 6-8 7-7 7-5 6 0 7 3 7-1 6-7 7-13 7-11 6-1 7 4 7-4 6-11-4 0-6 10-7 4-7 0-6 5-7 13-7 12-6 4-7-4-7-8-6-3-7 3-7 9-6 11-7 10-7 9-6 10-7 9-7 4-6-2-7-7-7-6-6-1-7 2-7 3-6 0-7-6-7-10-6-8-7-2-7 6-6 11-7 13-7 10-6 6-7 3-7 2-6 3-7 4-7 5-6 7-7 5-7-1-6-9-7-14-7-11-6-7-7-1-7 2-6 3-7 6-7 10-6 14-7 17-7 13-6 7-7-4-7-10-6-6-7-1-7 2z"/><path fill="url(#Df52)" stroke="url(#Ds52)" d="M243 1072l7-3 6-1 7 4 7 9 6 8 7-4 7-11 6-16 7-18 7-17 6-12 7-8 7-2 6 4 7 11 7 17 6 18 7 10 7-1 6-8 7-9 7-7 6-3 7 0 7 0 6-2 7-7 7-13 6-15 7-12 7-2 6 7 7 14 7 13 6 5 7-3 7-8 6-9 7-2 7 4 6 7 7 4 7-4 6-9 7-8 7-4 6-4 7-4 7-5 6-5 7-3 7-2 6-5 7-9 7-12 6-10 7 3 7 5 6-4 7-11-4-1-6 11-7 4-7-4-6 1-7 11-7 13-6 7-7 1-7-3-6 0-7 5-7 7-6 8-7 7-7 7-6 9-7 9-7 4-6-4-7-7-7-5-6 0-7 5-7 6-6 2-7-6-7-12-6-11-7-5-7 4-6 11-7 14-7 12-6 7-7 2-7 0-6 2-7 3-7 7-6 9-7 7-7 0-6-9-7-15-7-15-6-10-7-3-7 2-6 4-7 9-7 13-6 17-7 17-7 13-6 5-7-5-7-10-6-5-7 0-7 2z"/><path fill="url(#Df51)" stroke="url(#Ds51)" d="M247 1074l7-3 6-3 7 2 7 8 6 8 7 1 7-8 6-15 7-18 7-19 6-16 7-10 7-4 6 3 7 10 7 17 6 18 7 12 7 1 6-7 7-8 7-6 6-1 7 0 7 0 6-3 7-8 7-14 6-16 7-12 7-2 6 8 7 16 7 14 6 6 7-4 7-12 6-12 7-5 7 3 6 7 7 3 7-3 6-8 7-7 7-3 6 0 7 0 7-3 6-4 7-6 7-5 6-8 7-11 7-11 6-7 7 5 7 6 6-4 7-12-4-1-7 11-6 4-7-5-7-3-6 10-7 12-7 9-6 5-7 2-7 3-6 5-7 5-7 4-6 4-7 4-7 8-6 9-7 4-7-4-6-7-7-4-7 2-6 9-7 8-7 3-6-5-7-13-7-14-6-7-7 2-7 12-6 15-7 13-7 7-6 2-7 0-7 0-6 3-7 7-7 9-6 8-7 1-7-10-6-18-7-17-7-11-6-4-7 2-7 8-6 12-7 17-7 18-6 16-7 11-7 4-6-8-7-9-7-4-6 1-7 3z"/><path fill="url(#Df50)" stroke="url(#Ds50)" d="M251 1077l6-4 7-5 7-1 6 6 7 9 7 3 6-3 7-12 7-18 6-20 7-17 7-12 6-7 7 1 7 8 6 15 7 18 7 13 6 3 7-4 7-6 6-4 7-2 7 1 6-1 7-3 7-9 6-14 7-17 7-12 6-3 7 8 7 17 6 16 7 6 7-5 6-15 7-15 7-8 6 1 7 7 7 4 6-2 7-7 7-6 6-1 7 2 7 3 6-1 7-4 7-8 6-8 7-10 7-11 6-10 7-5 7 7 6 6 7-4 7-11-4-2-7 12-6 4-7-6-7-5-6 7-7 11-7 11-6 8-7 5-7 6-6 4-7 3-7 0-6 0-7 3-7 7-6 8-7 3-7-3-6-7-7-3-7 5-6 12-7 12-7 4-6-6-7-14-7-16-6-8-7 2-7 12-6 16-7 14-7 8-6 3-7 0-7 0-6 1-7 6-7 8-6 7-7-1-7-12-6-18-7-17-7-10-6-3-7 4-7 10-6 16-7 19-7 18-6 15-7 8-7-1-6-8-7-8-7-2-6 3-7 3z"/><path fill="url(#Df49)" stroke="url(#Ds49)" d="M254 1080l7-5 7-6 6-4 7 2 7 8 6 5 7 0 7-9 6-15 7-19 7-16 6-13 7-8 7-3 6 3 7 12 7 17 6 14 7 7 7-1 6-5 7-3 7-1 6-1 7-1 7-3 6-9 7-14 7-17 6-13 7-4 7 8 6 17 7 17 7 8 6-7 7-16 7-18 6-10 7-1 7 5 6 5 7 0 7-4 6-4 7 0 7 3 6 3 7 0 7-5 6-9 7-11 7-10 6-10 7-8 7-3 6 7 7 8 7-3 6-12-3-2-7 11-7 4-6-6-7-7-7 5-6 10-7 11-7 10-6 8-7 8-7 4-6 1-7-3-7-2-6 1-7 6-7 7-6 2-7-4-7-7-6-1-7 8-7 15-6 15-7 5-7-6-6-16-7-17-7-8-6 3-7 12-7 17-6 14-7 9-7 3-6 1-7-1-7 2-6 4-7 6-7 4-6-3-7-13-7-18-6-15-7-8-7-1-6 7-7 12-7 17-6 20-7 18-7 12-6 3-7-3-7-9-6-6-7 1-7 5-6 4z"/><path fill="url(#Df48)" stroke="url(#Ds48)" d="M258 1083l7-5 7-8 6-6 7-2 7 5 6 6 7 2 7-6 6-12 7-16 7-14 6-12 7-9 7-6 6-1 7 8 7 14 6 16 7 9 7 2 6-3 7-4 7-2 6-1 7-1 7-3 6-8 7-14 7-16 6-14 7-5 7 7 6 17 7 18 7 7 6-6 7-17 7-19 6-12 7-4 7 4 6 5 7 3 7-1 6-2 7 0 7 3 6 3 7-1 7-7 6-10 7-12 7-10 6-8 7-5 7-1 6 8 7 7 7-2 6-9-4-5-6 12-7 3-7-8-6-7-7 3-7 8-6 10-7 10-7 11-6 9-7 5-7 0-6-3-7-3-7 0-6 4-7 4-7 0-6-5-7-5-7 1-6 10-7 18-7 16-6 7-7-8-7-17-6-17-7-8-7 4-6 13-7 17-7 14-6 9-7 3-7 1-6 1-7 1-7 3-6 5-7 1-7-7-6-14-7-17-7-12-6-3-7 3-7 8-6 13-7 16-7 19-6 15-7 9-7 0-6-5-7-8-7-2-6 4-7 6-7 5z"/><path fill="url(#Df47)" stroke="url(#Ds47)" d="M262 1086l7-6 6-7 7-8 7-5 6 0 7 5 7 3 6-3 7-9 7-12 6-11 7-10 7-9 6-9 7-4 7 4 6 13 7 15 7 11 6 4 7-3 7-4 6-3 7-1 7-1 6-3 7-7 7-13 6-16 7-14 7-5 6 6 7 15 7 16 6 9 7-5 7-15 6-19 7-14 7-6 6 1 7 4 7 4 6 3 7 1 7 1 6 2 7 1 7-4 6-8 7-12 7-11 6-9 7-5 7-3 6 1 7 8 7 8 6-1 7-7-4-6-6 9-7 2-7-7-6-8-7 1-7 5-6 8-7 10-7 12-6 10-7 7-7 1-6-3-7-3-7 0-6 2-7 1-7-3-6-5-7-4-7 4-6 12-7 19-7 17-6 6-7-7-7-18-6-17-7-7-7 5-6 14-7 16-7 14-6 8-7 3-7 1-6 1-7 2-7 4-6 3-7-2-7-9-6-16-7-14-7-8-6 1-7 6-7 9-6 12-7 14-7 16-6 12-7 6-7-2-6-6-7-5-7 2-6 6-7 8-7 5z"/><path fill="url(#Df46)" stroke="url(#Ds46)" d="M266 1088l6-5 7-7 7-9 6-8 7-4 7 2 6 3 7 0 7-5 6-8 7-8 7-8 6-9 7-10 7-7 6 2 7 11 7 15 6 12 7 5 7-3 6-5 7-4 7-1 6 0 7-2 7-7 6-12 7-16 7-14 6-6 7 4 7 13 6 15 7 9 7-2 6-13 7-17 7-15 6-9 7-3 7 2 6 6 7 5 7 4 6 2 7 1 7-2 6-6 7-10 7-12 6-10 7-7 7-2 6 1 7 2 7 7 6 7 7 1 7-6-4-6-7 7-6 1-7-8-7-8-6-1-7 3-7 5-6 9-7 11-7 12-6 8-7 4-7-1-6-2-7-1-7-1-6-3-7-4-7-4-6-1-7 6-7 14-6 19-7 15-7 5-6-9-7-16-7-15-6-6-7 5-7 14-6 16-7 13-7 7-6 3-7 1-7 1-6 3-7 4-7 3-6-4-7-11-7-15-6-13-7-4-7 4-6 9-7 9-7 10-6 11-7 12-7 9-6 3-7-3-7-5-6 0-7 5-7 8-6 7-7 6z"/><path fill="url(#Df45)" stroke="url(#Ds45)" d="M270 1090l6-5 7-6 7-8 6-10 7-9 7-1 6 3 7 2 7-1 6-3 7-5 7-7 6-9 7-10 7-7 6 1 7 10 7 14 6 11 7 4 7-3 6-6 7-3 7-1 6 1 7-1 7-7 6-13 7-16 7-13 6-7 7 2 7 9 6 12 7 10 7 2 6-9 7-15 7-16 6-12 7-7 7 0 6 5 7 7 7 6 6 3 7 0 7-4 6-7 7-11 7-12 6-9 7-4 7 2 6 5 7 3 7 5 6 6 7 0 7-4-4-7-7 6-7-1-6-7-7-7-7-2-6-1-7 2-7 7-6 10-7 12-7 10-6 6-7 2-7-1-6-2-7-4-7-5-6-6-7-2-7 3-6 9-7 15-7 17-6 13-7 2-7-9-6-15-7-13-7-4-6 6-7 14-7 16-6 12-7 7-7 2-6 0-7 1-7 4-6 5-7 3-7-5-6-12-7-15-7-11-6-2-7 7-7 10-6 9-7 8-7 8-6 8-7 5-7 0-6-3-7-2-7 4-6 8-7 9-7 7-6 5z"/><path fill="url(#Df44)" stroke="url(#Ds44)" d="M273 1091l7-5 7-4 6-7 7-12 7-11 6-4 7 3 7 5 6 3 7 0 7-3 6-6 7-9 7-9 6-5 7 1 7 8 6 11 7 10 7 3 6-4 7-5 7-2 6 1 7 2 7-2 6-8 7-14 7-16 6-13 7-7 7-1 6 5 7 10 7 10 6 5 7-5 7-13 6-15 7-15 7-9 6-3 7 3 7 7 6 8 7 4 7-1 6-5 7-9 7-11 6-11 7-7 7-1 6 7 7 8 7 5 6 2 7 2 7 0 6-3-3-7-7 4-7 0-6-6-7-5-7-3-6-5-7-2-7 4-6 9-7 12-7 11-6 7-7 4-7 0-6-3-7-6-7-7-6-5-7 0-7 7-6 12-7 16-7 15-6 9-7-2-7-10-6-12-7-9-7-2-6 7-7 13-7 16-6 13-7 7-7 1-6-1-7 1-7 3-6 6-7 3-7-4-6-11-7-14-7-10-6-1-7 7-7 10-6 9-7 7-7 5-6 3-7 1-7-2-6-3-7 1-7 9-6 10-7 8-7 6-6 5z"/><path fill="url(#Df43)" stroke="url(#Ds43)" d="M277 1093l7-6 6-4 7-6 7-11 6-12 7-5 7 3 6 7 7 6 7 3 6-2 7-5 7-8 6-8 7-3 7 1 6 7 7 9 7 6 6 1 7-4 7-4 6 0 7 3 7 3 6-3 7-10 7-15 6-16 7-13 7-7 6-3 7 2 7 7 6 10 7 7 7-2 6-11 7-15 7-15 6-11 7-5 7 1 6 6 7 7 7 4 6-1 7-6 7-9 6-11 7-10 7-5 6 3 7 11 7 12 6 7 7 0 7-3 6-2 7-1-4-8-6 3-7 0-7-2-6-2-7-5-7-8-6-7-7 1-7 7-6 11-7 11-7 9-6 5-7 1-7-4-6-8-7-7-7-3-6 3-7 9-7 15-6 15-7 13-7 5-6-5-7-10-7-10-6-5-7 1-7 7-6 13-7 16-7 14-6 8-7 2-7-2-6-1-7 2-7 5-6 4-7-3-7-10-6-11-7-8-7-1-6 5-7 9-7 9-6 6-7 3-7 0-6-3-7-5-7-3-6 4-7 11-7 12-6 7-7 4-7 5z"/><path fill="url(#Df42)" stroke="url(#Ds42)" d="M281 1094l7-7 6-5 7-4 7-9 6-11 7-4 7 3 6 8 7 7 7 4 6-1 7-5 7-7 6-5 7-2 7 3 6 5 7 6 7 3 6-2 7-4 7-3 6 3 7 5 7 3 6-3 7-11 7-16 6-17 7-12 7-7 6-4 7-1 7 4 6 9 7 8 7 0 6-9 7-15 7-14 6-11 7-6 7-1 6 3 7 5 7 3 6-2 7-6 7-9 6-10 7-8 7-3 6 6 7 15 7 16 6 9 7-3 7-8 6-4 7-1-4-5-7 1-6 2-7 3-7 0-6-7-7-12-7-11-6-3-7 5-7 10-6 11-7 9-7 6-6 1-7-4-7-7-6-6-7-1-7 5-6 11-7 15-7 15-6 11-7 2-7-7-6-10-7-7-7-2-6 3-7 7-7 13-6 16-7 15-7 10-6 3-7-3-7-3-6 0-7 4-7 4-6-1-7-6-7-9-6-7-7-1-7 3-6 8-7 8-7 5-6 2-7-3-7-6-6-7-7-3-7 5-6 12-7 11-7 6-6 4-7 6z"/><path fill="url(#Df41)" stroke="url(#Ds41)" d="M285 1095l6-8 7-7 7-3 6-6 7-7 7-2 6 4 7 7 7 6 6 3 7-1 7-4 6-5 7-4 7 0 6 3 7 4 7 3 6 0 7-5 7-5 6-1 7 4 7 7 6 4 7-4 7-11 6-16 7-15 7-12 6-6 7-4 7-3 6 1 7 6 7 7 6 1 7-7 7-13 6-12 7-9 7-6 6-3 7 0 7 2 6 0 7-3 7-6 6-9 7-9 7-7 6-1 7 9 7 18 6 19 7 11 7-5 6-11 7-6 7-2-4-4-7 1-6 4-7 8-7 3-6-9-7-16-7-15-6-6-7 3-7 8-6 10-7 9-7 6-6 2-7-3-7-5-6-3-7 1-7 6-6 11-7 14-7 15-6 9-7 0-7-8-6-9-7-4-7 1-6 4-7 7-7 12-6 17-7 16-7 11-6 3-7-3-7-5-6-3-7 3-7 4-6 2-7-3-7-6-6-5-7-3-7 2-6 5-7 7-7 5-6 1-7-4-7-7-6-8-7-3-7 4-6 11-7 9-7 4-6 5-7 7z"/><path fill="url(#Df40)" stroke="url(#Ds40)" d="M288 1094l7-8 7-8 6-3 7-2 7-3 6 1 7 5 7 6 6 3 7 1 7-2 6-3 7-4 7-2 6 1 7 3 7 3 6 0 7-3 7-6 6-6 7-1 7 4 6 8 7 4 7-3 6-11 7-13 7-13 6-10 7-6 7-4 6-4 7-1 7 2 6 5 7 1 7-6 6-10 7-9 7-7 6-5 7-5 7-2 6-2 7-1 7-5 6-6 7-9 7-8 6-7 7 1 7 12 6 20 7 20 7 12 6-6 7-13 7-7 6-2-3-4-7 2-7 6-6 11-7 5-7-11-6-19-7-18-7-9-6 1-7 7-7 9-6 9-7 6-7 3-6 0-7-2-7 0-6 3-7 6-7 9-6 12-7 13-7 7-6-1-7-7-7-6-6-1-7 3-7 4-6 6-7 12-7 15-6 16-7 11-7 4-6-4-7-7-7-4-6 1-7 5-7 5-6 0-7-3-7-4-6-3-7 0-7 4-6 5-7 4-7 1-6-3-7-6-7-7-6-4-7 2-7 7-6 6-7 3-7 7-6 8z"/><path fill="url(#Df39)" stroke="url(#Ds39)" d="M292 1093l7-8 7-7 6-3 7 0 7 1 6 3 7 5 7 4 6 0 7-1 7-3 6-3 7-3 7-1 6 0 7 3 7 2 6 0 7-5 7-8 6-8 7-2 7 5 6 7 7 4 7-2 6-8 7-10 7-10 6-8 7-5 7-4 6-5 7-5 7-1 6 3 7 1 7-4 6-7 7-6 7-4 6-5 7-5 7-5 6-3 7-4 7-5 6-7 7-8 7-9 6-5 7 3 7 14 6 21 7 20 7 10 6-6 7-13 7-7 6-3-4-3-6 2-7 7-7 13-6 6-7-12-7-20-6-20-7-12-7-1-6 7-7 8-7 9-6 6-7 5-7 1-6 2-7 2-7 5-6 5-7 7-7 9-6 10-7 6-7-1-6-5-7-2-7 1-6 4-7 4-7 6-6 10-7 13-7 13-6 11-7 3-7-4-6-8-7-4-7 1-6 6-7 6-7 3-6 0-7-3-7-3-6-1-7 2-7 4-6 3-7 2-7-1-6-3-7-6-7-5-6-1-7 3-7 2-6 3-7 8-7 8z"/><path fill="url(#Df38)" stroke="url(#Ds38)" d="M296 1092l7-8 6-7 7-1 7 1 6 4 7 5 7 4 6 1 7-3 7-3 6-2 7-2 7-3 6-3 7 0 7 1 6 3 7-1 7-6 6-9 7-9 7-3 6 4 7 6 7 4 6-1 7-5 7-6 6-7 7-6 7-6 6-5 7-6 7-7 6-3 7 0 7 1 6-2 7-4 7-3 6-2 7-4 7-5 6-6 7-4 7-4 6-5 7-8 7-8 6-9 7-3 7 6 6 16 7 21 7 18 6 8 7-7 7-13 6-7 7-2-4-4-6 3-7 7-7 13-6 6-7-10-7-20-6-21-7-14-7-3-6 5-7 9-7 8-6 7-7 5-7 4-6 3-7 5-7 5-6 5-7 4-7 6-6 7-7 4-7-1-6-3-7 1-7 5-6 5-7 4-7 5-6 8-7 10-7 10-6 8-7 2-7-4-6-7-7-5-7 2-6 8-7 8-7 5-6 0-7-2-7-3-6 0-7 1-7 3-6 3-7 3-7 1-6 0-7-4-7-5-6-3-7-1-7 0-6 3-7 7-7 8z"/><path fill="url(#Df37)" stroke="url(#Ds37)" d="M300 1090l7-7 6-5 7-1 7 3 6 4 7 5 7 3 6-2 7-5 7-4 6-1 7-2 7-3 6-4 7-2 7 2 6 3 7 0 7-7 6-10 7-10 7-4 6 2 7 5 7 4 6 1 7-2 7-4 6-4 7-7 7-6 6-8 7-8 7-7 6-3 7 0 7 1 6 0 7-2 7-2 6-2 7-4 7-4 6-5 7-2 7-3 6-5 7-7 7-9 6-7 7-2 7 9 6 18 7 21 7 14 6 5 7-9 7-11 6-7 7-2-4-4-7 2-6 7-7 13-7 7-6-8-7-18-7-21-6-16-7-6-7 3-6 9-7 8-7 8-6 5-7 4-7 4-6 6-7 5-7 4-6 2-7 3-7 4-6 2-7-1-7 0-6 3-7 7-7 6-6 5-7 6-7 6-6 7-7 6-7 5-6 1-7-4-7-6-6-4-7 3-7 9-6 9-7 6-7 1-6-3-7-1-7 0-6 3-7 3-7 2-6 2-7 3-7 3-6-1-7-4-7-5-6-4-7-1-7 1-6 7-7 8z"/><path fill="url(#Df36)" stroke="url(#Ds36)" d="M304 1089l6-8 7-3 7 1 6 3 7 5 7 4 6 1 7-5 7-7 6-4 7 0 7-1 6-4 7-5 7-3 6 2 7 4 7 1 6-7 7-11 7-10 6-5 7 1 7 3 6 4 7 2 7 0 6-1 7-4 7-7 6-10 7-10 7-8 6-6 7-2 7 1 6 2 7 0 7-2 6-2 7-3 7-3 6-4 7-1 7-1 6 0 7-4 7-6 6-8 7-7 7 1 6 12 7 19 7 19 6 12 7 1 7-11 6-11 7-5 7-3-4-4-7 2-6 7-7 11-7 9-6-5-7-14-7-21-6-18-7-9-7 2-6 7-7 9-7 7-6 5-7 3-7 2-6 5-7 4-7 4-6 2-7 2-7 2-6 0-7-1-7 0-6 3-7 7-7 8-6 8-7 6-7 7-6 4-7 4-7 2-6-1-7-4-7-5-6-2-7 4-7 10-6 10-7 7-7 0-6-3-7-2-7 2-6 4-7 3-7 2-6 1-7 4-7 5-6 2-7-3-7-5-6-4-7-3-7 1-6 5-7 7z"/><path fill="url(#Df35)" stroke="url(#Ds35)" d="M307 1086l7-6 7-2 6 2 7 5 7 5 6 3 7-2 7-8 6-8 7-3 7 0 6-1 7-5 7-5 6-2 7 3 7 4 6 1 7-6 7-10 6-10 7-5 7-1 6 3 7 3 7 3 6 2 7 0 7-5 6-10 7-14 7-12 6-10 7-3 7 1 6 4 7 3 7-1 6-3 7-5 7-4 6-3 7-1 7 2 6 4 7 2 7-2 6-6 7-8 7-5 6 3 7 14 7 19 6 17 7 8 7-2 6-12 7-10 7-4 6 0-3-8-7 3-7 5-6 11-7 11-7-1-6-12-7-19-7-19-6-12-7-1-7 7-6 8-7 6-7 4-6 0-7 1-7 1-6 4-7 3-7 3-6 2-7 2-7 0-6-2-7-1-7 2-6 6-7 8-7 10-6 10-7 7-7 4-6 1-7 0-7-2-6-4-7-3-7-1-6 5-7 10-7 11-6 7-7-1-7-4-6-2-7 3-7 5-6 4-7 1-7 0-6 4-7 7-7 5-6-1-7-4-7-5-6-3-7-1-7 3-6 8z"/><path fill="url(#Df34)" stroke="url(#Ds34)" d="M311 1083l7-4 7 0 6 2 7 6 7 6 6 2 7-5 7-9 6-8 7-4 7 0 6-1 7-5 7-5 6-1 7 3 7 5 6 1 7-5 7-9 6-9 7-5 7-2 6 1 7 4 7 5 6 3 7-1 7-6 6-14 7-17 7-15 6-9 7-1 7 4 6 6 7 4 7-2 6-6 7-8 7-5 6-2 7 3 7 6 6 8 7 5 7-1 6-6 7-7 7-5 6 5 7 15 7 19 6 14 7 5 7-5 6-13 7-10 7-2 6 2-4-7-6 0-7 4-7 10-6 12-7 2-7-8-6-17-7-19-7-14-6-3-7 5-7 8-6 6-7 2-7-2-6-4-7-2-7 1-6 3-7 4-7 5-6 3-7 1-7-3-6-4-7-1-7 3-6 10-7 12-7 14-6 10-7 5-7 0-6-2-7-3-7-3-6-3-7 1-7 5-6 10-7 10-7 6-6-1-7-4-7-3-6 2-7 5-7 5-6 1-7 0-7 3-6 8-7 8-7 2-6-3-7-5-7-5-6-2-7 2-7 6z"/><path fill="url(#Df33)" stroke="url(#Ds33)" d="M315 1081l7-2 6 0 7 4 7 7 6 7 7 0 7-5 6-10 7-8 7-3 6-1 7-2 7-4 6-5 7-1 7 2 6 4 7 2 7-4 6-7 7-7 7-6 6-3 7 1 7 5 6 7 7 4 7-1 6-9 7-16 7-19 6-17 7-9 7 1 6 6 7 8 7 3 6-4 7-9 7-10 6-6 7 0 7 6 6 11 7 11 7 7 6 0 7-6 7-8 6-3 7 7 7 14 6 17 7 10 7 2 6-7 7-13 7-9 6 1 7 4-4-8-6-2-7 2-7 10-6 13-7 5-7-5-6-14-7-19-7-15-6-5-7 5-7 7-6 6-7 1-7-5-6-8-7-6-7-3-6 2-7 5-7 8-6 6-7 2-7-4-6-6-7-4-7 1-6 9-7 15-7 17-6 14-7 6-7 1-6-3-7-5-7-4-6-1-7 2-7 5-6 9-7 9-7 5-6-1-7-5-7-3-6 1-7 5-7 5-6 1-7 0-7 4-6 8-7 9-7 5-6-2-7-6-7-6-6-2-7 0-7 4z"/><path fill="url(#Df32)" stroke="url(#Ds32)" d="M319 1081l6-1 7 0 7 5 6 8 7 8 7-1 6-6 7-9 7-7 6-2 7-1 7-2 6-4 7-4 7-3 6 0 7 2 7 1 6-2 7-4 7-6 6-5 7-4 7 1 6 6 7 8 7 5 6-1 7-9 7-17 6-21 7-17 7-9 6 1 7 8 7 7 6 2 7-6 7-11 6-11 7-6 7 1 6 10 7 13 7 14 6 9 7 0 7-6 6-8 7-2 7 7 6 14 7 13 7 7 6-2 7-9 7-12 6-7 7 3 7 3-4-4-7-4-6-1-7 9-7 13-6 7-7-2-7-10-6-17-7-14-7-7-6 3-7 8-7 6-6 0-7-7-7-11-6-11-7-6-7 0-6 6-7 10-7 9-6 4-7-3-7-8-6-6-7-1-7 9-6 17-7 19-7 16-6 9-7 1-7-4-6-7-7-5-7-1-6 3-7 6-7 7-6 7-7 4-7-2-6-4-7-2-7 1-6 5-7 4-7 2-6 1-7 3-7 8-6 10-7 5-7 0-6-7-7-7-7-4-6 0-7 2z"/><path fill="url(#Df31)" stroke="url(#Ds31)" d="M323 1083l6-1 7 0 7 4 6 10 7 7 7-1 6-7 7-8 7-4 6 0 7 1 7 0 6-4 7-5 7-4 6-3 7-2 7 0 6-1 7-2 7-5 6-6 7-4 7 1 6 7 7 10 7 6 6-1 7-9 7-15 6-19 7-17 7-9 6 0 7 7 7 6 6 0 7-7 7-12 6-12 7-5 7 3 6 11 7 14 7 15 6 9 7 1 7-5 6-7 7-1 7 6 6 12 7 9 7 3 6-5 7-10 7-11 6-4 7 4 7 3-4-4-7-3-7-3-6 7-7 12-7 9-6 2-7-7-7-13-6-14-7-7-7 2-6 8-7 6-7 0-6-9-7-14-7-13-6-10-7-1-7 6-6 11-7 11-7 6-6-2-7-7-7-8-6-1-7 9-7 17-6 21-7 17-7 9-6 1-7-5-7-8-6-6-7-1-7 4-6 5-7 6-7 4-6 2-7-1-7-2-6 0-7 3-7 4-6 4-7 2-7 1-6 2-7 7-7 9-6 6-7 1-7-8-6-8-7-5-7 0-6 1z"/><path fill="url(#Df30)" stroke="url(#Ds30)" d="M326 1084l7-1 7 0 6 5 7 9 7 7 6-2 7-7 7-7 6-1 7 3 7 5 6 2 7-3 7-5 6-7 7-7 7-5 6-2 7 0 7-2 6-4 7-7 7-5 6 1 7 8 7 11 6 7 7 0 7-7 6-13 7-16 7-15 6-11 7-1 7 5 6 5 7-1 7-8 6-12 7-10 7-4 6 3 7 10 7 14 6 15 7 9 7 2 6-5 7-5 7-1 6 5 7 9 7 5 6-1 7-7 7-10 6-8 7-2 7 5 6-2-3 1-7-3-7-4-6 4-7 11-7 10-6 5-7-3-7-9-6-12-7-6-7 1-6 7-7 5-7-1-6-9-7-15-7-14-6-11-7-3-7 5-6 12-7 12-7 7-6 0-7-6-7-7-6 0-7 9-7 17-6 19-7 15-7 9-6 1-7-6-7-10-6-7-7-1-7 4-6 6-7 5-7 2-6 1-7 0-7 2-6 3-7 4-7 5-6 4-7 0-7-1-6 0-7 4-7 8-6 7-7 1-7-7-6-10-7-4-7 0-6 1z"/><path fill="url(#Df29)" stroke="url(#Ds29)" d="M330 1086l7-1 6-2 7 4 7 9 6 6 7-3 7-7 6-6 7 1 7 8 6 9 7 6 7 0 6-5 7-8 7-11 6-8 7-4 7-2 6-2 7-6 7-8 6-6 7 1 7 8 6 11 7 7 7 2 6-5 7-9 7-13 6-15 7-11 7-3 6 3 7 5 7-2 6-7 7-10 7-8 6-2 7 4 7 8 6 11 7 12 7 9 6 3 7-3 7-5 6-2 7 3 7 5 6 1 7-5 7-7 6-8 7-4 7 1 6 4 7-10-4 6-6 2-7-5-7 2-6 8-7 10-7 7-6 1-7-5-7-9-6-5-7 1-7 5-6 5-7-2-7-9-6-15-7-14-7-10-6-3-7 4-7 10-6 12-7 8-7 1-6-5-7-5-7 1-6 11-7 15-7 16-6 13-7 7-7 0-6-7-7-11-7-8-6-1-7 5-7 7-6 4-7 2-7 0-6 2-7 5-7 7-6 7-7 5-7 3-6-2-7-5-7-3-6 1-7 7-7 7-6 2-7-7-7-9-6-5-7 0-7 1z"/><path fill="url(#Df28)" stroke="url(#Ds28)" d="M334 1088l7-1 6-3 7 2 7 8 6 4 7-3 7-8 6-5 7 3 7 12 6 15 7 10 7 3 6-4 7-10 7-13 6-11 7-6 7-4 6-4 7-8 7-10 6-7 7 1 7 8 6 10 7 8 7 3 6-2 7-7 7-12 6-14 7-12 7-4 6 2 7 5 7-1 6-6 7-6 7-4 6 1 7 4 7 5 6 7 7 9 7 7 6 3 7-3 7-4 6-3 7 0 7 1 6-3 7-6 7-7 6-4 7 1 7 3 6 1 7-17-4 7-7 10-6-4-7-1-7 4-6 8-7 7-7 5-6-1-7-5-7-3-6 2-7 5-7 3-6-3-7-9-7-12-6-11-7-8-7-4-6 2-7 8-7 10-6 7-7 2-7-5-6-3-7 3-7 11-6 15-7 13-7 9-6 5-7-2-7-7-6-11-7-8-7-1-6 6-7 8-7 6-6 2-7 2-7 4-6 8-7 11-7 8-6 5-7 0-7-6-6-9-7-8-7-1-6 6-7 7-7 3-6-6-7-9-7-4-6 2-7 1z"/><path fill="url(#Df27)" stroke="url(#Ds27)" d="M338 1091l6-2 7-5 7 1 6 5 7 3 7-3 6-8 7-5 7 5 6 15 7 19 7 14 6 6 7-3 7-10 6-13 7-12 7-8 6-7 7-7 7-11 6-12 7-7 7 1 6 8 7 9 7 8 6 4 7-1 7-6 6-12 7-15 7-13 6-5 7 3 7 6 6 1 7-3 7-2 6 1 7 4 7 4 6 3 7 2 7 3 6 5 7 1 7-2 6-4 7-4 7-3 6-3 7-5 7-6 6-4 7 0 7 5 6 3 7-3 7-21-4 7-7 17-6-1-7-3-7-1-6 4-7 7-7 6-6 3-7-1-7 0-6 3-7 4-7 3-6-3-7-7-7-9-6-7-7-5-7-4-6-1-7 4-7 6-6 6-7 1-7-5-6-2-7 4-7 12-6 14-7 12-7 7-6 2-7-3-7-8-6-10-7-8-7-1-6 7-7 10-7 8-6 4-7 4-7 6-6 11-7 13-7 10-6 4-7-3-7-10-6-15-7-12-7-3-6 5-7 8-7 3-6-4-7-8-7-2-6 3-7 1z"/><path fill="url(#Df26)" stroke="url(#Ds26)" d="M342 1094l6-3 7-5 7-2 6 2 7 3 7-4 6-7 7-4 7 5 6 17 7 21 7 18 6 8 7-2 7-10 6-12 7-12 7-9 6-9 7-11 7-14 6-12 7-6 7 1 6 7 7 10 7 7 6 5 7-1 7-8 6-13 7-17 7-14 6-5 7 5 7 7 6 4 7 1 7 2 6 5 7 7 7 4 6 0 7-2 7-2 6 0 7 0 7-3 6-4 7-5 7-4 6-5 7-6 7-5 6 0 7 4 7 6 6 1 7-7 7-22-4 6-7 21-7 3-6-3-7-5-7 0-6 4-7 6-7 5-6 3-7 3-7 4-6 4-7 2-7-1-6-5-7-3-7-2-6-3-7-4-7-4-6-1-7 2-7 3-6-1-7-6-7-3-6 5-7 13-7 15-6 12-7 6-7 1-6-4-7-8-7-9-6-8-7-1-7 7-6 12-7 11-7 7-6 7-7 8-7 12-6 13-7 10-7 3-6-6-7-14-7-19-6-15-7-5-7 5-6 8-7 3-7-3-6-5-7-1-7 5-6 2z"/><path fill="url(#Df25)" stroke="url(#Ds25)" d="M345 1097l7-3 7-6 6-4 7 0 7 2 6-2 7-7 7-4 6 5 7 17 7 22 6 19 7 8 7-1 6-8 7-10 7-11 6-10 7-11 7-13 6-15 7-13 7-5 6 3 7 7 7 9 6 8 7 4 7-2 6-10 7-17 7-19 6-14 7-3 7 6 6 10 7 6 7 4 6 5 7 8 7 8 6 4 7-2 7-6 6-7 7-4 7-2 6-3 7-4 7-4 6-5 7-5 7-5 6-2 7 3 7 6 6 5 7-3 7-11 6-22-3 6-7 22-7 7-6-1-7-6-7-4-6 0-7 5-7 6-6 5-7 4-7 5-6 4-7 3-7 0-6 0-7 2-7 2-6 0-7-4-7-7-6-5-7-2-7-1-6-4-7-7-7-5-6 5-7 14-7 17-6 13-7 8-7 1-6-5-7-7-7-10-6-7-7-1-7 6-6 12-7 14-7 11-6 9-7 9-7 12-6 12-7 10-7 2-6-8-7-18-7-21-6-17-7-5-7 4-6 7-7 4-7-3-6-2-7 2-7 5-6 3z"/><path fill="url(#Df24)" stroke="url(#Ds24)" d="M349 1099l7-1 6-7 7-6 7-2 6 2 7-1 7-5 6-4 7 5 7 15 6 21 7 18 7 9 6 0 7-7 7-9 6-10 7-10 7-12 6-15 7-15 7-11 6-4 7 3 7 8 6 9 7 7 7 5 6-3 7-13 7-20 6-21 7-13 7-2 6 8 7 11 7 9 6 6 7 7 7 9 6 8 7 3 7-4 6-9 7-10 7-7 6-5 7-2 7-3 6-4 7-4 7-5 6-3 7 1 7 6 6 6 7 1 7-7 6-14 7-21-4 6-6 22-7 11-7 3-6-5-7-6-7-3-6 2-7 5-7 5-6 5-7 4-7 4-6 3-7 2-7 4-6 7-7 6-7 2-6-4-7-8-7-8-6-5-7-4-7-6-6-10-7-6-7 3-6 14-7 19-7 17-6 10-7 2-7-4-6-8-7-9-7-7-6-3-7 5-7 13-6 15-7 13-7 11-6 10-7 11-7 10-6 8-7 1-7-8-6-19-7-22-7-17-6-5-7 4-7 7-6 2-7-2-7 0-6 4-7 6-7 3z"/><path fill="url(#Df23)" stroke="url(#Ds23)" d="M353 1102l7-1 6-7 7-8 7-2 6 2 7 1 7-4 6-3 7 4 7 12 6 18 7 17 7 9 6 0 7-5 7-9 6-9 7-10 7-13 6-14 7-14 7-10 6-3 7 3 7 8 6 9 7 8 7 4 6-3 7-15 7-22 6-22 7-12 7 0 6 9 7 13 7 10 6 7 7 6 7 7 6 6 7 1 7-5 6-9 7-11 7-8 6-5 7-3 7-1 6-3 7-4 7-3 6-1 7 3 7 6 6 5 7-3 7-11 6-14 7-19-4 3-7 21-6 14-7 7-7-1-6-6-7-6-7-1-6 3-7 5-7 4-6 4-7 3-7 2-6 5-7 7-7 10-6 9-7 4-7-3-6-8-7-9-7-7-6-6-7-9-7-11-6-8-7 2-7 13-6 21-7 20-7 13-6 3-7-5-7-7-6-9-7-8-7-3-6 4-7 11-7 15-6 15-7 12-7 10-6 10-7 9-7 7-6 0-7-9-7-18-6-21-7-15-7-5-6 4-7 5-7 1-6-2-7 2-7 6-6 7-7 1z"/><path fill="url(#Df22)" stroke="url(#Ds22)" d="M357 1107l6-2 7-8 7-9 6-3 7 2 7 3 6-1 7-2 7 2 6 9 7 16 7 15 6 10 7 0 7-6 6-8 7-9 7-10 6-12 7-13 7-13 6-9 7-4 7 3 6 7 7 9 7 8 6 6 7-4 7-16 6-23 7-21 7-12 6 2 7 12 7 13 6 10 7 6 7 4 6 3 7 3 7 0 6-5 7-9 7-9 6-8 7-4 7-2 6-2 7-2 7-4 6-1 7 1 7 5 6 5 7 1 7-6 6-12 7-12 7-14-4-3-7 19-6 14-7 11-7 3-6-5-7-6-7-3-6 1-7 3-7 4-6 3-7 1-7 3-6 5-7 8-7 11-6 9-7 5-7-1-6-6-7-7-7-6-6-7-7-10-7-13-6-9-7 0-7 12-6 22-7 22-7 15-6 3-7-4-7-8-6-9-7-8-7-3-6 3-7 10-7 14-6 14-7 13-7 10-6 9-7 9-7 5-6 0-7-9-7-17-6-18-7-12-7-4-6 3-7 4-7-1-6-2-7 2-7 8-6 7-7 1z"/><path fill="url(#Df21)" stroke="url(#Ds21)" d="M360 1111l7-3 7-9 6-11 7-3 7 4 6 5 7 0 7-1 6 1 7 8 7 13 6 15 7 8 7 1 6-6 7-9 7-9 6-10 7-11 7-12 6-11 7-9 7-4 6 1 7 5 7 9 6 9 7 6 7-4 6-15 7-23 7-20 6-10 7 3 7 13 6 14 7 10 7 4 6 0 7 0 7-1 6-3 7-5 7-7 6-6 7-5 7-2 6-2 7-2 7-3 6-3 7-1 7 3 6 5 7 3 7-2 6-8 7-11 7-10 6-9-3-4-7 14-7 12-6 12-7 6-7-1-6-5-7-5-7-1-6 1-7 4-7 2-6 2-7 2-7 4-6 8-7 9-7 9-6 5-7 0-7-3-6-3-7-4-7-6-6-10-7-13-7-12-6-2-7 12-7 21-6 23-7 16-7 4-6-6-7-8-7-9-6-7-7-3-7 4-6 9-7 13-7 13-6 12-7 10-7 9-6 8-7 6-7 0-6-10-7-15-7-16-6-9-7-2-7 2-6 1-7-3-7-2-6 3-7 9-7 8-6 2z"/><path fill="url(#Df20)" stroke="url(#Ds20)" d="M364 1115l7-4 7-11 6-12 7-5 7 6 6 7 7 3 7 0 6 0 7 7 7 12 6 13 7 8 7 0 6-6 7-8 7-8 6-10 7-10 7-11 6-10 7-9 7-6 6-1 7 5 7 8 6 9 7 5 7-3 6-14 7-21 7-19 6-9 7 4 7 13 6 15 7 9 7 2 6-2 7-5 7-4 6-5 7-6 7-6 6-3 7 0 7 0 6 0 7-3 7-5 6-4 7 0 7 4 6 4 7 0 7-4 6-9 7-9 7-6 6-7-4-3-6 9-7 10-7 11-6 8-7 2-7-3-6-5-7-3-7 1-6 3-7 3-7 2-6 2-7 2-7 5-6 6-7 7-7 5-6 3-7 1-7 0-6 0-7-4-7-10-6-14-7-13-7-3-6 10-7 20-7 23-6 15-7 4-7-6-6-9-7-9-7-5-6-1-7 4-7 9-6 11-7 12-7 11-6 10-7 9-7 9-6 6-7-1-7-8-6-15-7-13-7-8-6-1-7 1-7 0-6-5-7-4-7 3-6 11-7 9-7 3z"/><path fill="url(#Df19)" stroke="url(#Ds19)" d="M368 1120l7-6 6-14 7-14 7-5 6 6 7 10 7 5 6 1 7 1 7 6 6 11 7 12 7 8 6-1 7-6 7-7 6-7 7-8 7-9 6-11 7-10 7-9 6-6 7-2 7 3 6 7 7 7 7 5 6-3 7-13 7-19 6-18 7-9 7 4 6 13 7 15 7 10 6 1 7-4 7-7 6-8 7-8 7-7 6-5 7-1 7 4 6 4 7 1 7-3 6-6 7-4 7 0 6 3 7 2 7-2 6-6 7-9 7-6 6-3 7-5-4-4-6 7-7 6-7 9-6 9-7 4-7 0-6-4-7-4-7 0-6 4-7 5-7 3-6 0-7 0-7 0-6 3-7 6-7 6-6 5-7 4-7 5-6 2-7-2-7-9-6-15-7-13-7-4-6 9-7 19-7 21-6 14-7 3-7-5-6-9-7-8-7-5-6 1-7 6-7 9-6 10-7 11-7 10-6 10-7 8-7 8-6 6-7 0-7-8-6-13-7-12-7-7-6 0-7 0-7-3-6-7-7-6-7 5-6 12-7 11-7 4z"/><path fill="url(#Df18)" stroke="url(#Ds18)" d="M372 1124l6-8 7-16 7-16 6-6 7 8 7 12 6 7 7 2 7 1 6 6 7 10 7 11 6 6 7 0 7-5 6-6 7-5 7-6 6-10 7-10 7-11 6-9 7-6 7-1 6 2 7 4 7 6 6 3 7-3 7-10 6-17 7-17 7-9 6 2 7 12 7 15 6 10 7 2 7-5 6-8 7-10 7-11 6-10 7-5 7 2 6 7 7 7 7 3 6-3 7-7 7-4 6-1 7 1 7 1 6-4 7-7 7-8 6-4 7-1 7-3-4-4-7 5-6 3-7 6-7 9-6 6-7 2-7-2-6-3-7 0-7 4-6 6-7 3-7-1-6-4-7-4-7 1-6 5-7 7-7 8-6 8-7 7-7 4-6-1-7-10-7-15-6-13-7-4-7 9-6 18-7 19-7 13-6 3-7-5-7-7-6-7-7-3-7 2-6 6-7 9-7 10-6 11-7 9-7 8-6 7-7 7-7 6-6 1-7-8-7-12-6-11-7-6-7-1-6-1-7-5-7-10-6-6-7 5-7 14-6 14-7 6z"/><path fill="url(#Df17)" stroke="url(#Ds17)" d="M376 1127l6-8 7-18 7-17 6-6 7 8 7 13 6 8 7 3 7 2 6 5 7 9 7 9 6 5 7 0 7-3 6-4 7-3 7-6 6-9 7-11 7-11 6-8 7-5 7 0 6 1 7 2 7 2 6 1 7-2 7-8 6-14 7-16 7-10 6 1 7 11 7 15 6 11 7 2 7-4 6-9 7-12 7-14 6-11 7-6 7 3 6 9 7 10 7 5 6-2 7-5 7-6 6-2 7-1 7-1 6-4 7-8 7-7 6-2 7-1 7-2-4-4-7 3-7 1-6 4-7 8-7 7-6 4-7-1-7-1-6 1-7 4-7 7-6 3-7-3-7-7-6-7-7-2-7 5-6 10-7 11-7 10-6 8-7 5-7-2-6-10-7-15-7-12-6-2-7 9-7 17-6 17-7 10-7 3-6-3-7-6-7-4-6-2-7 1-7 6-6 9-7 11-7 10-6 10-7 6-7 5-6 6-7 5-7 0-6-6-7-11-7-10-6-6-7-1-7-2-6-7-7-12-7-8-6 6-7 16-7 16-6 8z"/><path fill="url(#Df16)" stroke="url(#Ds16)" d="M379 1130l7-9 7-18 6-17 7-6 7 9 6 14 7 8 7 3 6 1 7 4 7 7 6 8 7 5 7 0 6-2 7-2 7-3 6-5 7-9 7-12 6-11 7-7 7-2 6 0 7 1 7 0 6-2 7-1 7-1 6-6 7-12 7-14 6-11 7 0 7 11 6 15 7 11 7 4 6-4 7-9 7-14 6-15 7-13 7-6 6 3 7 10 7 12 6 7 7 0 7-4 6-5 7-4 7-3 6-2 7-5 7-7 6-6 7-4 7-1 6-1-3-4-7 2-7 1-6 2-7 7-7 8-6 4-7 1-7 1-6 2-7 6-7 5-6 2-7-5-7-10-6-9-7-3-7 6-6 11-7 14-7 12-6 9-7 4-7-2-6-11-7-15-7-11-6-1-7 10-7 16-6 14-7 8-7 2-6-1-7-2-7-2-6-1-7 0-7 5-6 8-7 11-7 11-6 9-7 6-7 3-6 4-7 3-7 0-6-5-7-9-7-9-6-5-7-2-7-3-6-8-7-13-7-8-6 6-7 17-7 18-6 8z"/><path fill="url(#Df15)" stroke="url(#Ds15)" d="M383 1133l7-8 7-17 6-16 7-4 7 9 6 13 7 8 7 1 6-1 7 3 7 5 6 6 7 4 7 1 6 0 7-2 7-3 6-5 7-10 7-11 6-11 7-6 7-1 6 2 7 0 7-2 6-4 7-3 7-2 6-4 7-10 7-12 6-9 7 0 7 11 6 15 7 11 7 4 6-3 7-10 7-13 6-15 7-14 7-6 6 2 7 10 7 13 6 9 7 3 7-2 6-6 7-6 7-4 6-3 7-4 7-6 6-7 7-5 7-4 6-3-4-1-6 1-7 1-7 4-6 6-7 7-7 5-6 2-7 3-7 4-6 5-7 4-7 0-6-7-7-12-7-10-6-3-7 6-7 13-6 15-7 14-7 9-6 4-7-4-7-11-6-15-7-11-7 0-6 11-7 14-7 12-6 6-7 1-7 1-6 2-7 0-7-1-6 0-7 2-7 7-6 11-7 12-7 9-6 5-7 3-7 2-6 2-7 0-7-5-6-8-7-7-7-4-6-1-7-3-7-8-6-14-7-9-7 6-6 17-7 18-7 9z"/><path fill="url(#Df14)" stroke="url(#Ds14)" d="M387 1137l7-9 6-15 7-13 7-2 6 10 7 12 7 5 6 0 7-2 7 1 6 3 7 3 7 3 6 1 7 1 7-1 6-4 7-6 7-10 6-11 7-9 7-6 6 0 7 2 7 1 6-3 7-6 7-5 6-3 7-3 7-8 6-10 7-8 7 3 6 11 7 15 7 11 6 3 7-3 7-9 6-13 7-14 7-12 6-7 7 2 7 10 6 12 7 10 7 6 6-1 7-5 7-7 6-6 7-3 7-3 6-5 7-7 7-9 6-7 7-6-4 0-6 3-7 4-7 5-6 7-7 6-7 4-6 3-7 4-7 6-6 6-7 2-7-3-6-9-7-13-7-10-6-2-7 6-7 14-6 15-7 13-7 10-6 3-7-4-7-11-6-15-7-11-7 0-6 9-7 12-7 10-6 4-7 2-7 3-6 4-7 2-7 0-6-2-7 1-7 6-6 11-7 11-7 10-6 5-7 3-7 2-6 0-7-1-7-4-6-6-7-5-7-3-6 1-7-1-7-8-6-13-7-9-7 4-6 16-7 17-7 8z"/><path fill="url(#Df13)" stroke="url(#Ds13)" d="M391 1139l6-8 7-11 7-9 6 1 7 10 7 9 6 3 7-2 7-4 6-1 7 1 7 0 6 1 7 1 7 1 6-1 7-4 7-8 6-9 7-10 7-8 6-5 7-1 7 3 6 1 7-3 7-6 6-6 7-3 7-4 6-7 7-9 7-5 6 5 7 12 7 15 6 9 7 2 7-4 6-9 7-10 7-11 6-10 7-5 7 1 6 8 7 11 7 11 6 7 7 1 7-6 6-7 7-7 7-3 6-2 7-3 7-8 6-12 7-11 7-8-4-1-7 6-6 7-7 9-7 7-6 5-7 3-7 3-6 6-7 7-7 5-6 1-7-6-7-10-6-12-7-10-7-2-6 7-7 12-7 14-6 13-7 9-7 3-6-3-7-11-7-15-6-11-7-3-7 8-6 10-7 8-7 3-6 3-7 5-7 6-6 3-7-1-7-2-6 0-7 6-7 9-6 11-7 10-7 6-6 4-7 1-7-1-6-1-7-3-7-3-6-3-7-1-7 2-6 0-7-5-7-12-6-10-7 2-7 13-6 15-7 9z"/><path fill="url(#Df12)" stroke="url(#Ds12)" d="M395 1140l6-5 7-8 7-5 6 3 7 10 7 7 6 0 7-4 7-4 6-3 7-2 7-3 6-1 7 1 7 1 6-2 7-5 7-8 6-9 7-8 7-7 6-5 7 0 7 2 6 3 7-2 7-6 6-6 7-4 7-4 6-7 7-8 7-3 6 6 7 13 7 14 6 7 7-1 7-5 6-8 7-7 7-7 6-6 7-3 7 1 6 5 7 9 7 10 6 8 7 2 7-4 6-8 7-7 7-2 6-1 7-2 7-9 6-15 7-15 7-10-4-1-7 8-7 11-6 12-7 8-7 3-6 2-7 3-7 7-6 7-7 6-7-1-6-7-7-11-7-11-6-8-7-1-7 5-6 10-7 11-7 10-6 9-7 4-7-2-6-9-7-15-7-12-6-5-7 5-7 9-6 7-7 4-7 3-6 6-7 6-7 3-6-1-7-3-7 1-6 5-7 8-7 10-6 9-7 8-7 4-6 1-7-1-7-1-6-1-7 0-7-1-6 1-7 4-7 2-6-3-7-9-7-10-6-1-7 9-7 11-6 8z"/><path fill="url(#Df11)" stroke="url(#Ds11)" d="M398 1141l7-3 7-4 6-1 7 4 7 9 6 4 7-1 7-5 6-5 7-4 7-4 6-5 7-4 7-1 6 0 7-3 7-6 6-8 7-8 7-6 6-4 7-4 7-1 6 2 7 4 7 1 6-4 7-5 7-5 6-5 7-8 7-8 6-2 7 6 7 14 6 12 7 5 7-4 6-8 7-8 7-5 6-2 7-1 7 1 6 1 7 3 7 6 6 8 7 7 7 4 6-2 7-7 7-5 6-3 7 0 7-1 6-11 7-17 7-17 6-9-3-5-7 10-7 15-6 15-7 9-7 2-6 1-7 2-7 7-6 8-7 4-7-2-6-8-7-10-7-9-6-5-7-1-7 3-6 6-7 7-7 7-6 8-7 5-7 1-6-7-7-14-7-13-6-6-7 3-7 8-6 7-7 4-7 4-6 6-7 6-7 2-6-3-7-2-7 0-6 5-7 7-7 8-6 9-7 8-7 5-6 2-7-1-7-1-6 1-7 3-7 2-6 3-7 4-7 4-6 0-7-7-7-10-6-3-7 5-7 8-6 5z"/><path fill="url(#Df10)" stroke="url(#Ds10)" d="M402 1143l7-2 6-1 7 2 7 6 6 7 7 2 7-2 6-6 7-6 7-5 6-6 7-6 7-6 6-4 7-2 7-4 6-7 7-7 7-6 6-3 7-3 7-3 6-1 7 2 7 5 6 4 7-1 7-3 6-6 7-7 7-9 6-8 7-2 7 7 6 12 7 10 7 2 6-7 7-11 7-9 6-3 7 3 7 5 6 4 7 3 7 1 6 1 7 5 7 6 6 6 7 1 7-3 6-4 7-2 7 0 6-2 7-13 7-19 6-17 7-7-4-6-6 9-7 17-7 17-6 11-7 1-7 0-6 3-7 5-7 7-6 2-7-4-7-7-6-8-7-6-7-3-6-1-7-1-7 1-6 2-7 5-7 8-6 8-7 4-7-5-6-12-7-14-7-6-6 2-7 8-7 8-6 5-7 5-7 5-6 4-7-1-7-4-6-2-7 1-7 4-6 4-7 6-7 8-6 8-7 6-7 3-6 0-7 1-7 4-6 5-7 4-7 4-6 5-7 5-7 1-6-4-7-9-7-4-6 1-7 4-7 3z"/><path fill="url(#Df9)" stroke="url(#Ds9)" d="M406 1144l7 0 6 2 7 3 7 6 6 6 7 1 7-4 6-7 7-7 7-6 6-6 7-7 7-7 6-5 7-5 7-6 6-7 7-6 7-3 6 0 7-1 7-2 6-2 7 1 7 7 6 6 7 2 7-2 6-6 7-9 7-10 6-8 7-2 7 7 6 10 7 8 7-1 6-10 7-15 7-11 6-2 7 7 7 10 6 9 7 4 7-1 6-2 7 0 7 5 6 8 7 5 7 1 6-1 7-2 7-2 6-3 7-15 7-19 6-16 7-5-4-5-7 7-6 17-7 19-7 13-6 2-7 0-7 2-6 4-7 3-7-1-6-6-7-6-7-5-6-1-7-1-7-3-6-4-7-5-7-3-6 3-7 9-7 11-6 7-7-2-7-10-6-12-7-7-7 2-6 8-7 9-7 7-6 6-7 3-7 1-6-4-7-5-7-2-6 1-7 3-7 3-6 3-7 6-7 7-6 7-7 4-7 2-6 4-7 6-7 6-6 6-7 5-7 6-6 6-7 2-7-2-6-7-7-6-7-2-6 1-7 2z"/><path fill="url(#Df8)" stroke="url(#Ds8)" d="M410 1146l6 1 7 3 7 3 6 6 7 6 7 0 6-5 7-8 7-9 6-7 7-5 7-6 6-7 7-7 7-8 6-8 7-7 7-4 6 0 7 3 7 1 6-2 7-3 7 1 6 6 7 8 7 4 6-2 7-6 7-10 6-11 7-7 7-1 6 6 7 9 7 6 6-4 7-12 7-17 6-12 7-2 7 8 6 14 7 11 7 6 6-2 7-6 7-3 6 3 7 9 7 9 6 6 7 1 7-1 6-4 7-7 7-15 6-19 7-14 7-5-4-1-7 5-6 16-7 19-7 15-6 3-7 2-7 2-6 1-7-1-7-5-6-8-7-5-7 0-6 2-7 1-7-4-6-9-7-10-7-7-6 2-7 11-7 15-6 10-7 1-7-8-6-10-7-7-7 2-6 8-7 10-7 9-6 6-7 2-7-2-6-6-7-7-7-1-6 2-7 2-7 1-6 0-7 3-7 6-6 7-7 6-7 5-6 5-7 7-7 7-6 6-7 6-7 7-6 7-7 4-7-1-6-6-7-6-7-3-6-2-7 0z"/><path fill="url(#Df7)" stroke="url(#Ds7)" d="M413 1149l7 1 7 3 6 3 7 5 7 5 6 0 7-7 7-10 6-10 7-7 7-4 6-4 7-6 7-7 6-9 7-10 7-8 6-3 7 3 7 5 6 3 7-2 7-3 6-1 7 5 7 7 6 4 7-1 7-6 6-11 7-11 7-6 6 0 7 7 7 8 6 4 7-4 7-12 6-17 7-13 7-2 6 8 7 14 7 12 6 5 7-3 7-7 6-7 7 1 7 10 6 12 7 10 7 4 6-2 7-7 7-9 6-16 7-16 7-13 6-6-3 2-7 5-7 14-6 19-7 15-7 7-6 4-7 1-7-1-6-6-7-9-7-9-6-3-7 3-7 6-6 2-7-6-7-11-6-14-7-8-7 2-6 12-7 17-7 12-6 4-7-6-7-9-6-6-7 1-7 7-6 11-7 10-7 6-6 2-7-4-7-8-6-6-7-1-7 3-6 2-7-1-7-3-6 0-7 4-7 7-6 8-7 8-7 7-6 7-7 6-7 5-6 7-7 9-7 8-6 5-7 0-7-6-6-6-7-3-7-3-6-1z"/><path fill="url(#Df6)" stroke="url(#Ds6)" d="M417 1152l7 1 7 2 6 1 7 5 7 4 6-1 7-8 7-11 6-10 7-7 7-4 6-1 7-3 7-7 6-9 7-11 7-8 6-3 7 3 7 7 6 4 7-1 7-3 6-2 7 2 7 5 6 3 7-1 7-7 6-10 7-10 7-5 6 2 7 7 7 7 6 3 7-2 7-10 6-14 7-11 7-2 6 5 7 11 7 9 6 4 7-4 7-8 6-9 7-1 7 9 6 14 7 13 7 5 6-3 7-9 7-13 6-15 7-12 7-10 6-7-4 2-6 6-7 13-7 16-6 16-7 9-7 7-6 2-7-4-7-10-6-12-7-10-7-1-6 7-7 7-7 3-6-5-7-12-7-14-6-8-7 2-7 13-6 17-7 12-7 4-6-4-7-8-7-7-6 0-7 6-7 11-6 11-7 6-7 1-6-4-7-7-7-5-6 1-7 3-7 2-6-3-7-5-7-3-6 3-7 8-7 10-6 9-7 7-7 6-6 4-7 4-7 7-6 10-7 10-7 7-6 0-7-5-7-5-6-3-7-3-7-1z"/><path fill="url(#Df5)" stroke="url(#Ds5)" d="M421 1156l7 1 6-1 7 0 7 3 6 2 7-2 7-7 6-10 7-10 7-6 6-2 7 0 7-1 6-5 7-9 7-11 6-8 7-3 7 2 6 6 7 4 7 1 6-3 7-2 7 0 6 1 7 1 7-2 6-5 7-8 7-9 6-3 7 2 7 5 6 6 7 4 7 1 6-4 7-8 7-8 6-3 7 2 7 4 6 5 7 1 7-4 6-7 7-8 7-3 6 6 7 11 7 11 6 4 7-4 7-10 6-13 7-13 7-9 6-7 7-6-4 1-6 7-7 10-7 12-6 15-7 13-7 9-6 3-7-5-7-13-6-14-7-9-7 1-6 9-7 8-7 4-6-4-7-9-7-11-6-5-7 2-7 11-6 14-7 10-7 2-6-3-7-7-7-7-6-2-7 5-7 10-6 10-7 7-7 1-6-3-7-5-7-2-6 2-7 3-7 1-6-4-7-7-7-3-6 3-7 8-7 11-6 9-7 7-7 3-6 1-7 4-7 7-6 10-7 11-7 8-6 1-7-4-7-5-6-1-7-2-7-1z"/><path fill="url(#Df4)" stroke="url(#Ds4)" d="M425 1162l7-2 6-2 7-3 7 1 6 1 7-2 7-5 6-8 7-8 7-5 6-2 7 0 7-1 6-4 7-8 7-9 6-8 7-4 7 1 6 4 7 5 7 1 6-1 7-2 7-2 6-2 7 0 7-2 6-3 7-7 7-7 6-4 7 1 7 4 6 4 7 5 7 5 6 1 7-2 7-4 6-3 7-2 7 0 6-1 7 0 7-4 6-6 7-6 7-3 6 2 7 6 7 6 6 2 7-6 7-10 6-12 7-10 7-6 6-5 7-5-4 0-7 6-6 7-7 9-7 13-6 13-7 10-7 4-6-4-7-11-7-11-6-6-7 3-7 8-6 7-7 4-7-1-6-5-7-4-7-2-6 3-7 8-7 8-6 4-7-1-7-4-6-6-7-5-7-2-6 3-7 9-7 8-6 5-7 2-7-1-6-1-7 0-7 2-6 3-7-1-7-4-6-6-7-2-7 3-6 8-7 11-7 9-6 5-7 1-7 0-6 2-7 6-7 10-6 10-7 7-7 2-6-2-7-3-7 0-6 1-7-1z"/><path fill="url(#Df3)" stroke="url(#Ds3)" d="M429 1168l6-4 7-5 7-4 6 0 7 0 7-2 6-3 7-5 7-6 6-4 7-3 7-1 6-3 7-4 7-7 6-8 7-7 7-3 6 1 7 4 7 3 6 2 7 1 7-2 6-2 7-2 7-3 6-2 7-3 7-5 6-6 7-4 7-1 6 2 7 3 7 6 6 7 7 5 7 1 6-1 7-3 7-4 6-2 7-3 7-1 6-3 7-4 7-5 6-4 7-1 7 1 6 0 7-2 7-6 6-10 7-10 7-8 6-5 7-4 7-5-4 1-7 5-6 5-7 6-7 10-6 12-7 10-7 6-6-2-7-6-7-6-6-2-7 3-7 6-6 6-7 4-7 0-6 1-7 0-7 2-6 3-7 4-7 2-6-1-7-5-7-5-6-4-7-4-7-1-6 4-7 7-7 7-6 3-7 2-7 0-6 2-7 2-7 2-6 1-7-1-7-5-6-4-7-1-7 4-6 8-7 9-7 8-6 4-7 1-7 0-6 2-7 5-7 8-6 8-7 5-7 2-6-1-7-1-7 3-6 2-7 2z"/><path fill="url(#Df2)" stroke="url(#Ds2)" d="M432 1174l7-7 7-6 6-4 7-3 7-1 6-1 7-1 7-2 6-3 7-4 7-3 6-4 7-5 7-6 6-7 7-8 7-4 6-1 7 3 7 3 6 4 7 2 7 1 6 0 7-2 7-4 6-3 7-4 7-4 6-5 7-6 7-4 6-1 7 1 7 3 6 6 7 8 7 7 6 3 7 0 7-2 6-4 7-3 7-2 6-2 7-3 7-2 6-4 7-4 7-4 6-3 7-5 7-5 6-8 7-8 7-9 6-7 7-5 7-5 6-3-3 0-7 5-7 4-6 5-7 8-7 10-6 10-7 6-7 2-6 0-7-1-7 1-6 4-7 5-7 4-6 3-7 1-7 3-6 2-7 4-7 3-6 1-7-1-7-5-6-7-7-6-7-3-6-2-7 1-7 4-6 6-7 5-7 3-6 2-7 3-7 2-6 2-7 2-7-1-6-2-7-3-7-4-6-1-7 3-7 7-6 8-7 7-7 4-6 3-7 1-7 3-6 4-7 6-7 5-6 3-7 2-7 0-6 0-7 4-7 5-6 4z"/><path fill="url(#Df1)" stroke="url(#Ds1)" d="M436 1177l7-7 7-5 6-5 7-5 7-3 6-1 7 1 7 1 6-1 7-3 7-5 6-6 7-8 7-8 6-9 7-7 7-2 6 3 7 5 7 5 6 4 7 3 7 1 6 1 7-3 7-5 6-6 7-6 7-6 6-6 7-5 7-3 6-1 7 2 7 4 6 7 7 9 7 8 6 3 7 0 7-2 6-3 7-2 7-3 6-2 7-2 7-2 6-3 7-4 7-5 6-5 7-8 7-8 6-9 7-8 7-8 6-7 7-7 7-4 6-2-4 0-6 3-7 5-7 5-6 7-7 9-7 8-6 8-7 5-7 5-6 3-7 4-7 4-6 4-7 2-7 3-6 2-7 2-7 3-6 4-7 2-7 0-6-3-7-7-7-8-6-6-7-3-7-1-6 1-7 4-7 6-6 5-7 4-7 4-6 3-7 4-7 2-6 0-7-1-7-2-6-4-7-3-7-3-6 1-7 4-7 8-6 7-7 6-7 5-6 4-7 3-7 4-6 3-7 2-7 1-6 1-7 1-7 3-6 4-7 6-7 7z"/><path fill="url(#Df0)" stroke="url(#Ds0)" d="M440 1176l7-3 6-4 7-7 7-6 6-2 7 0 7 2 6 2 7 1 7-5 6-4 7-8 7-10 6-11 7-8 7-8 6 4 7 4 7 5 6 4 7 5 7 3 6 2 7 2 7-3 6-7 7-9 7-8 6-9 7-4 7-5 6-2 7 2 7 2 6 7 7 10 7 9 6 8 7 0 7-2 6-2 7-2 7-3 6-2 7-2 7-2 6-3 7-2 7-4 6-4 7-5 7-11 6-11 7-9 7-9 6-9 7-6 7-8 6-4 7-1-4 0-6 2-7 4-7 7-6 7-7 8-7 8-6 9-7 8-7 8-6 5-7 5-7 4-6 3-7 2-7 2-6 2-7 3-7 2-6 3-7 2-7 0-6-3-7-8-7-9-6-7-7-4-7-2-6 1-7 3-7 5-6 6-7 6-7 6-6 6-7 5-7 3-6-1-7-1-7-3-6-4-7-5-7-5-6-3-7 2-7 7-6 9-7 8-7 8-6 6-7 5-7 3-6 1-7-1-7-1-6 1-7 3-7 5-6 5-7 5-7 7z"/></g></g><use href="#sd" transform="translate(-0.4,192.5)"/><g transform="scale(0.25)"><path fill="url(#Gbf)" d="M1026 249l6 0 6 0 7 1 6 1 6 4 6 8 6 9 6 7 6 6 6 4 6 3 6 2 6 0 6-1 6-2 6-3 6-5 6-7 6-6 6-4 6-1 6 0 6 0 7 1 6 3 6 6 6 5 6 3 6 3 6 3 6 3 6 4 6 3 6-3 6-13 6-15 6-11 6-9 6-5 6-1 6 2 6 2 6 3 6 4 6 4 7 3 6 1 6 0 6 0 6 0 6 0 6 1 6 2 6 3 6 2 6 0 6 0 6 1 6 2 6 3 6 3 6 2 6 3 6 2 6 2 6 1 7 0 6-2 6 1 6 4 6 5 6 2 6-3 6-10 6-9 6-4 6-3 6-3 6 0 6 4 6 4 6 4 6 3 6 0 6 0 6-1 6-1 7-4 6-4 6-4 6-3 6 0 6 2 6 3 6 3 6 2 6 1 6 0 6 0 6 0 6 0 6 0 6 0 6 1 6 0 6 1 6 1 6 1 6 1 7 2 6 2 6 3 6 3 6 3 6 3 6 2 6 1 6 0 6 0 6 0 0 66-6 1-6 1-6 1-6 1-6 0-6 1-6 0-6 0-6 0-6 0-7 0-6 0-6 0-6 0-6 0-6 1-6 1-6 2-6 3-6 3-6 3-6 3-6 4-6 4-6 5-6 4-6 2-6 3-6 1-6 2-6-1-6-7-7-6-6-6-6-3-6-2-6 0-6 0-6 1-6 1-6 0-6 0-6 0-6-2-6-1-6-1-6-1-6-2-6-2-6-4-6-4-6-5-6-4-7-4-6-4-6-4-6-4-6-3-6-3-6 0-6 3-6 4-6 2-6 1-6 0-6 2-6 4-6 3-6 4-6 4-6 4-6 4-6 3-6 3-7 2-6 2-6 2-6 2-6 1-6 1-6 0-6-1-6-3-6-3-6-1-6 2-6 2-6 3-6 3-6 3-6 2-6 2-6 1-6 0-6-1-6-1-7-2-6-2-6-3-6-4-6-4-6-3-6-1-6 0-6 1-6 1-6 1-6 0-6 0-6-1-6 0-6-1-6 0-6-1-6 0-6-1-6-1-7-1-6-1-6-1z"/><path fill="none" stroke="url(#Gbs)" stroke-width="1.2" d="M1026 317l6-7 6-8 7-7 6-6 6-3 6 2 6 5 6 3 6 3 6 4 6 2 6 3 6 1 6 1 6 2 6 3 6 2 6 3 6 4 6 7 6 13 6 7 6 4 7 0 6-2 6-3 6-1 6-6 6-6 6-5 6-3 6-2 6-2 6-5 6-11 6-10 6-5 6 0 6 3 6 9 6 9 6 8 6 8 6 6 6 6 7 4 6 2 6 1 6-1 6-1 6-4 6-4 6-4 6-3 6-1 6 0 6 0 6-1 6-1 6 0 6 3 6 4 6 5 6 5 6 5 6 4 7 5 6 4 6 5 6 4 6 5 6-2 6-6 6-7 6-5 6-3 6-2 6-1 6 2 6 3 6 3 6 4 6 4 6 5 6 6 6 9 6 3 7 1 6-2 6-15 6-14 6-9 6-6 6-6 6-6 6-6 6-8 6-8 6-9 6-8 6-7 6-6 6-5 6-2 6 0 6 1 6 1 6 8 6 8 7 7 6 8 6 7 6 7 6 5 6 4 6 2 6 2 6 0 6 0 6-1M1026 326l6-6 6-8 7-7 6-6 6-3 6 1 6 3 6 3 6 3 6 3 6 2 6 2 6 2 6 1 6 2 6 3 6 3 6 2 6 4 6 5 6 10 6 5 6 0 7-2 6-4 6-4 6-2 6-5 6-5 6-3 6-3 6-1 6-1 6-5 6-11 6-11 6-5 6-1 6 4 6 9 6 10 6 9 6 9 6 8 6 8 7 5 6 4 6 3 6 1 6 2 6-4 6-4 6-4 6-3 6-2 6 0 6 0 6-2 6-3 6-1 6 1 6 3 6 4 6 5 6 4 6 4 7 5 6 4 6 4 6 5 6 4 6-3 6-7 6-8 6-7 6-4 6-3 6-2 6 1 6 3 6 4 6 4 6 4 6 4 6 6 6 8 6 2 7 0 6-4 6-15 6-14 6-6 6-5 6-4 6-4 6-6 6-7 6-7 6-7 6-7 6-7 6-5 6-3 6-2 6 1 6 2 6 2 6 7 6 8 7 8 6 7 6 7 6 6 6 5 6 3 6 2 6 1 6 0 6-1 6-1M1026 339l6-4 6-6 7-5 6-5 6-3 6 0 6 2 6 2 6 2 6 2 6 2 6 1 6 1 6 0 6 1 6 1 6 1 6-1 6 0 6-1 6 5 6 1 6-2 7-5 6-4 6-4 6 0 6-2 6-2 6-1 6-1 6 0 6 0 6-4 6-12 6-12 6-6 6-2 6 3 6 10 6 10 6 11 6 11 6 9 6 9 7 7 6 6 6 4 6 4 6 3 6-2 6-4 6-3 6-4 6-2 6 0 6-1 6-2 6-4 6-3 6 0 6 3 6 3 6 4 6 4 6 4 7 4 6 4 6 5 6 4 6 3 6-3 6-7 6-10 6-8 6-6 6-4 6-3 6 0 6 3 6 3 6 4 6 4 6 5 6 5 6 7 6 2 7-1 6-4 6-15 6-11 6-3 6-2 6-2 6-4 6-4 6-5 6-6 6-6 6-6 6-5 6-4 6-2 6-1 6 2 6 2 6 3 6 7 6 7 7 7 6 6 6 6 6 5 6 3 6 3 6 1 6 1 6 0 6-1 6-1M1026 346l6 0 6-4 7-3 6-4 6-2 6 0 6 1 6 2 6 1 6 1 6 1 6 0 6 0 6-1 6-2 6-2 6-3 6-6 6-7 6-9 6 0 6-2 6-3 7-5 6-4 6 0 6 4 6 4 6 2 6 2 6 3 6 2 6 1 6-3 6-12 6-11 6-5 6-2 6 2 6 9 6 10 6 11 6 9 6 9 6 9 7 7 6 5 6 4 6 4 6 4 6-2 6-3 6-3 6-3 6-2 6 0 6-1 6-3 6-4 6-3 6 0 6 2 6 3 6 3 6 4 6 3 7 4 6 4 6 4 6 4 6 4 6-3 6-9 6-9 6-10 6-6 6-5 6-4 6-1 6 2 6 4 6 4 6 4 6 4 6 5 6 7 6 2 7 0 6-3 6-12 6-7 6 0 6 0 6-1 6-2 6-3 6-5 6-5 6-5 6-5 6-4 6-3 6-2 6 0 6 2 6 3 6 3 6 6 6 6 7 6 6 5 6 5 6 3 6 3 6 2 6 1 6 0 6 0 6 0 6-1M1026 340l6 2 6-2 7-1 6-2 6-1 6 1 6 2 6 2 6 1 6 1 6 0 6 0 6-1 6-3 6-4 6-4 6-7 6-11 6-13 6-17 6-1 6-3 6-2 7-3 6 0 6 3 6 10 6 9 6 8 6 6 6 5 6 4 6 3 6-2 6-9 6-8 6-3 6 0 6 3 6 8 6 7 6 7 6 7 6 6 6 6 7 5 6 3 6 2 6 2 6 1 6-2 6-4 6-3 6-3 6-2 6 0 6-1 6-3 6-5 6-3 6-1 6 1 6 2 6 3 6 3 6 3 7 3 6 3 6 3 6 3 6 3 6-2 6-8 6-10 6-9 6-6 6-5 6-4 6 0 6 3 6 4 6 5 6 4 6 4 6 5 6 7 6 3 7 1 6-1 6-8 6-4 6 4 6 3 6 0 6-1 6-3 6-5 6-4 6-5 6-5 6-4 6-4 6-2 6 0 6 2 6 2 6 3 6 5 6 6 7 5 6 4 6 4 6 4 6 2 6 2 6 1 6 0 6 0 6 0 6-1M1026 322l6 3 6 0 7 1 6-1 6 1 6 3 6 4 6 3 6 2 6 2 6 1 6-1 6-1 6-4 6-5 6-5 6-10 6-13 6-17 6-19 6-1 6 0 6 0 7 1 6 3 6 8 6 15 6 13 6 10 6 8 6 7 6 5 6 3 6 0 6-5 6-4 6 1 6 3 6 5 6 6 6 3 6 3 6 3 6 3 6 3 7 1 6 1 6-1 6-1 6-1 6-5 6-6 6-4 6-4 6-2 6-2 6-2 6-4 6-5 6-3 6-2 6-1 6-1 6 2 6 3 6 2 7 1 6 0 6 1 6 2 6 2 6-2 6-4 6-10 6-9 6-5 6-3 6-3 6 1 6 4 6 6 6 5 6 5 6 4 6 4 6 6 6 3 7 1 6-1 6-6 6 2 6 8 6 6 6 3 6 1 6-3 6-3 6-5 6-5 6-6 6-5 6-4 6-3 6-2 6 1 6 1 6 2 6 5 6 4 7 5 6 4 6 4 6 3 6 3 6 2 6 2 6 0 6 1 6-1 6 0M1026 306l6 3 6 2 7 1 6 1 6 2 6 5 6 5 6 4 6 3 6 3 6 1 6 0 6-1 6-3 6-5 6-5 6-9 6-13 6-16 6-17 6 1 6 2 6 2 7 4 6 5 6 10 6 16 6 13 6 10 6 8 6 7 6 5 6 4 6 1 6-2 6 0 6 5 6 6 6 7 6 4 6 0 6 0 6 0 6 0 6 0 7-1 6-2 6-2 6-3 6-3 6-8 6-7 6-6 6-5 6-3 6-2 6-3 6-5 6-5 6-5 6-3 6-3 6-2 6 1 6 1 6 0 7-1 6-2 6-1 6 0 6 1 6-1 6-3 6-10 6-8 6-4 6-2 6-2 6 1 6 5 6 6 6 6 6 4 6 3 6 3 6 3 6 1 7 0 6-3 6-5 6 7 6 15 6 12 6 7 6 2 6 0 6-3 6-5 6-6 6-6 6-6 6-6 6-4 6-3 6-1 6 0 6 0 6 3 6 4 7 4 6 4 6 4 6 3 6 4 6 3 6 2 6 1 6 1 6 1 6 0M1026 303l6 3 6 1 7 1 6 1 6 2 6 5 6 6 6 4 6 3 6 3 6 2 6 1 6 0 6-2 6-3 6-4 6-6 6-9 6-11 6-12 6 3 6 3 6 2 7 2 6 4 6 8 6 12 6 9 6 7 6 6 6 6 6 5 6 3 6 2 6 0 6 2 6 7 6 8 6 10 6 4 6-1 6-1 6-2 6-2 6-2 7-2 6-3 6-3 6-4 6-4 6-9 6-7 6-7 6-5 6-3 6-2 6-2 6-5 6-5 6-5 6-3 6-3 6-3 6 0 6 0 6 0 7-2 6-3 6-3 6 0 6-1 6-1 6-3 6-10 6-9 6-4 6-3 6-3 6 0 6 5 6 5 6 5 6 4 6 1 6 1 6 1 6-1 7-3 6-4 6-5 6 11 6 22 6 16 6 10 6 5 6 1 6-2 6-5 6-6 6-7 6-7 6-8 6-6 6-4 6-2 6-3 6-2 6 3 6 3 7 3 6 3 6 4 6 4 6 4 6 4 6 2 6 2 6 2 6 1 6 2M1026 311l6 3 6 0 7 0 6-1 6 1 6 4 6 4 6 5 6 3 6 3 6 2 6 2 6 1 6 0 6-1 6 0 6-2 6-3 6-4 6-4 6 3 6 1 6-1 7-2 6-2 6 1 6 4 6 3 6 3 6 3 6 4 6 4 6 4 6 1 6 0 6 1 6 7 6 9 6 10 6 5 6 0 6-1 6-2 6-2 6-2 7-2 6-4 6-4 6-4 6-4 6-7 6-6 6-4 6-3 6-2 6-1 6-1 6-2 6-5 6-3 6-2 6-2 6-2 6 1 6 0 6-1 7-1 6-4 6-2 6-1 6 0 6-2 6-4 6-11 6-10 6-6 6-4 6-4 6-1 6 3 6 4 6 4 6 3 6 0 6 0 6-1 6-1 7-4 6-4 6-4 6 14 6 25 6 18 6 12 6 5 6 1 6-3 6-5 6-7 6-9 6-8 6-9 6-7 6-5 6-4 6-3 6-4 6 2 6 2 7 2 6 3 6 3 6 4 6 5 6 3 6 3 6 2 6 2 6 2 6 2M1026 322l6 1 6-2 7-3 6-2 6-1 6 3 6 4 6 3 6 4 6 3 6 3 6 3 6 3 6 2 6 2 6 3 6 2 6 3 6 2 6 2 6 3 6-3 6-6 7-7 6-8 6-7 6-3 6-3 6-2 6 1 6 2 6 3 6 3 6 1 6-3 6-2 6 3 6 6 6 8 6 5 6 2 6 0 6 0 6-1 6-2 7-2 6-3 6-3 6-4 6-3 6-3 6-1 6-1 6 0 6 1 6 2 6 1 6-1 6-2 6-2 6-1 6 0 6 0 6 1 6 0 6 0 7-1 6-2 6-2 6 0 6 0 6-2 6-6 6-10 6-10 6-6 6-5 6-5 6-1 6 2 6 3 6 3 6 2 6 1 6-1 6 0 6-1 7-3 6-3 6-3 6 15 6 23 6 18 6 11 6 5 6 0 6-3 6-6 6-8 6-9 6-9 6-9 6-8 6-6 6-4 6-4 6-4 6 1 6 1 7 2 6 2 6 3 6 3 6 3 6 3 6 2 6 2 6 1 6 1 6 2M1026 328l6-2 6-4 7-5 6-4 6-2 6 2 6 4 6 4 6 3 6 4 6 4 6 4 6 3 6 4 6 4 6 5 6 5 6 5 6 5 6 5 6 2 6-5 6-8 7-10 6-12 6-11 6-7 6-6 6-4 6-2 6 1 6 2 6 2 6-1 6-8 6-7 6-2 6-1 6 2 6 4 6 3 6 1 6 1 6 1 6 0 7 0 6-1 6-3 6-2 6-2 6 4 6 4 6 4 6 4 6 4 6 3 6 3 6 1 6-1 6-1 6 1 6 0 6 1 6 1 6 1 6 1 7-1 6-1 6-1 6 0 6 1 6-1 6-5 6-10 6-9 6-5 6-5 6-4 6-2 6 2 6 3 6 3 6 2 6 0 6 0 6 0 6-2 7-3 6-3 6-4 6 13 6 22 6 16 6 11 6 5 6 0 6-2 6-5 6-8 6-8 6-8 6-9 6-8 6-5 6-4 6-4 6-3 6 1 6 1 7 1 6 1 6 1 6 2 6 2 6 2 6 0 6 1 6 0 6 0 6 0M1026 334l6-3 6-7 7-6 6-6 6-3 6 1 6 4 6 3 6 3 6 4 6 4 6 4 6 3 6 4 6 4 6 5 6 5 6 5 6 6 6 5 6 3 6-2 6-7 7-9 6-11 6-10 6-6 6-8 6-5 6-4 6-1 6 0 6 0 6-4 6-12 6-13 6-9 6-7 6-5 6 2 6 2 6 2 6 3 6 2 6 3 7 1 6 1 6-1 6-1 6 0 6 9 6 8 6 8 6 6 6 6 6 5 6 3 6 2 6 0 6 0 6 1 6 1 6 1 6 3 6 2 6 1 7 1 6-1 6 1 6 1 6 2 6-1 6-4 6-9 6-8 6-4 6-4 6-4 6-2 6 2 6 3 6 2 6 1 6 0 6-1 6 0 6-3 7-6 6-7 6-8 6 9 6 20 6 16 6 11 6 7 6 2 6-1 6-2 6-6 6-5 6-6 6-7 6-6 6-4 6-2 6-2 6-3 6 1 6 1 7 0 6 0 6 0 6 1 6 0 6 0 6-1 6-1 6-1 6-1 6-1M1026 348l6-4 6-8 7-7 6-7 6-4 6 0 6 2 6 2 6 2 6 2 6 3 6 3 6 2 6 2 6 3 6 3 6 3 6 4 6 5 6 6 6 7 6 2 6-2 7-4 6-5 6-7 6-4 6-8 6-7 6-6 6-4 6-3 6-3 6-7 6-15 6-16 6-14 6-11 6-10 6-1 6 2 6 2 6 3 6 4 6 4 7 3 6 1 6 0 6 0 6 0 6 11 6 10 6 9 6 7 6 6 6 5 6 3 6 2 6 0 6 1 6 2 6 1 6 3 6 4 6 3 6 3 7 2 6 2 6 2 6 3 6 4 6 0 6-5 6-8 6-7 6-4 6-4 6-3 6-2 6 1 6 2 6 2 6 1 6-1 6 0 6-1 6-5 7-8 6-11 6-14 6 2 6 17 6 15 6 11 6 7 6 3 6 1 6 0 6-2 6-3 6-4 6-3 6-4 6-2 6 0 6-1 6-1 6 2 6 1 7 0 6 0 6-1 6 0 6-1 6-1 6-2 6-1 6-3 6-2 6-2M1026 366l6-3 6-7 7-7 6-6 6-5 6-2 6 0 6 0 6 0 6 1 6 1 6 0 6 1 6 0 6 0 6 2 6 1 6 3 6 4 6 7 6 10 6 6 6 3 7 2 6 0 6-2 6-2 6-9 6-9 6-7 6-7 6-6 6-6 6-9 6-16 6-18 6-14 6-13 6-11 6-2 6 1 6 3 6 3 6 4 6 4 7 3 6 2 6 0 6-1 6-1 6 10 6 8 6 7 6 6 6 5 6 4 6 2 6 1 6 1 6 1 6 2 6 2 6 3 6 5 6 5 6 5 7 4 6 3 6 4 6 5 6 6 6 1 6-4 6-6 6-6 6-3 6-3 6-3 6-1 6 1 6 2 6 2 6 1 6 0 6 0 6 1 6-4 7-9 6-12 6-19 6-6 6 10 6 9 6 8 6 6 6 3 6 0 6 1 6-2 6-1 6-1 6-2 6-1 6 0 6 1 6 1 6 1 6 2 6 2 7 1 6 1 6-1 6 0 6-1 6-1 6-2 6-2 6-3 6-3 6-2M1026 375l6 1 6-4 7-3 6-5 6-5 6-2 6-1 6-1 6-1 6-1 6-1 6-1 6-1 6-1 6-1 6-1 6 0 6 1 6 4 6 6 6 11 6 8 6 6 7 5 6 3 6 1 6 0 6-9 6-10 6-9 6-8 6-8 6-8 6-9 6-16 6-17 6-14 6-12 6-9 6-2 6 1 6 3 6 4 6 4 6 5 7 3 6 1 6 0 6-1 6-1 6 5 6 5 6 5 6 4 6 3 6 1 6 0 6 0 6 0 6 0 6 1 6 1 6 3 6 6 6 5 6 6 7 4 6 4 6 5 6 7 6 7 6 2 6-2 6-4 6-4 6-1 6-1 6-1 6 1 6 2 6 3 6 3 6 2 6 2 6 3 6 3 6-3 7-6 6-13 6-22 6-13 6 0 6 2 6 3 6 2 6 0 6-1 6 0 6-2 6-1 6-1 6-1 6 0 6 1 6 3 6 2 6 1 6 4 6 3 7 3 6 1 6 1 6 1 6 0 6-1 6-1 6-2 6-2 6-3 6-2M1026 369l6 7 6 1 7 1 6-1 6-2 6-2 6-1 6 0 6-2 6-1 6-1 6-1 6-2 6-2 6-2 6-1 6-1 6 1 6 4 6 6 6 10 6 6 6 6 7 4 6 4 6 1 6 0 6-9 6-11 6-9 6-9 6-8 6-8 6-9 6-15 6-16 6-13 6-10 6-8 6-1 6 2 6 4 6 5 6 5 6 5 7 5 6 2 6 1 6 0 6-1 6 3 6 2 6 1 6 1 6 0 6 0 6-2 6-2 6-3 6-2 6-1 6-1 6 1 6 4 6 5 6 5 7 3 6 3 6 5 6 7 6 7 6 4 6 0 6-3 6-1 6 1 6 2 6 2 6 3 6 5 6 4 6 4 6 4 6 3 6 4 6 5 6-2 7-7 6-13 6-26 6-20 6-6 6-3 6-1 6 0 6-1 6-2 6-2 6-2 6-1 6 0 6-1 6 1 6 1 6 3 6 2 6 1 6 5 6 5 7 3 6 3 6 2 6 2 6 2 6 1 6-1 6-1 6-1 6-2 6-2M1026 354l6 11 6 6 7 5 6 3 6 1 6 0 6 1 6 0 6 0 6-1 6 0 6-1 6-1 6-1 6-2 6-1 6 0 6 2 6 3 6 7 6 6 6 3 6 2 7 2 6 1 6 0 6-2 6-9 6-10 6-9 6-9 6-7 6-8 6-9 6-14 6-15 6-12 6-10 6-7 6 1 6 3 6 5 6 6 6 6 6 7 7 6 6 5 6 3 6 2 6 2 6 2 6 0 6-1 6-1 6-2 6-2 6-3 6-5 6-6 6-4 6-4 6-3 6-2 6 3 6 3 6 2 7 2 6 1 6 3 6 5 6 6 6 6 6 2 6-3 6 0 6 3 6 5 6 4 6 5 6 7 6 6 6 5 6 4 6 3 6 4 6 4 6-3 7-10 6-17 6-31 6-23 6-7 6-2 6 0 6 0 6 0 6-1 6-1 6-1 6-1 6 0 6 0 6 1 6 1 6 3 6 1 6 1 6 5 6 5 7 4 6 4 6 3 6 4 6 3 6 2 6 1 6 0 6-1 6-1 6-1M1026 340l6 13 6 8 7 7 6 5 6 2 6 3 6 2 6 1 6 1 6 0 6 1 6 0 6 0 6-1 6-1 6-1 6 0 6 1 6 3 6 4 6 2 6-1 6-1 7-2 6-2 6-3 6-3 6-8 6-8 6-8 6-6 6-6 6-6 6-8 6-15 6-15 6-12 6-10 6-7 6 2 6 4 6 7 6 7 6 8 6 8 7 8 6 5 6 5 6 4 6 4 6 3 6 0 6-1 6-1 6-2 6-2 6-4 6-7 6-7 6-6 6-5 6-5 6-5 6 1 6 2 6 1 7 0 6-1 6 1 6 4 6 5 6 6 6 3 6-2 6 0 6 4 6 6 6 5 6 7 6 7 6 7 6 6 6 4 6 2 6 3 6 2 6-6 7-13 6-21 6-34 6-22 6-2 6 2 6 3 6 3 6 2 6 1 6 0 6 0 6 0 6 0 6 0 6 0 6 1 6 2 6 1 6 0 6 4 6 4 7 5 6 3 6 5 6 4 6 4 6 3 6 2 6 1 6 0 6-1 6 0M1026 334l6 12 6 7 7 7 6 5 6 3 6 3 6 3 6 2 6 1 6 0 6 1 6 0 6 0 6-1 6-2 6-1 6-2 6-2 6-1 6-2 6-1 6-4 6-4 7-6 6-5 6-4 6-2 6-5 6-5 6-4 6-3 6-3 6-3 6-6 6-16 6-16 6-12 6-10 6-6 6 3 6 6 6 8 6 8 6 8 6 8 7 8 6 5 6 5 6 4 6 3 6 4 6 3 6 1 6 0 6-1 6-2 6-4 6-6 6-7 6-6 6-5 6-6 6-4 6 0 6 2 6 1 7 0 6-2 6 1 6 4 6 5 6 6 6 3 6-2 6 0 6 5 6 5 6 6 6 6 6 8 6 7 6 5 6 4 6 2 6 2 6 0 6-6 7-13 6-21 6-31 6-18 6 1 6 6 6 6 6 5 6 4 6 2 6 1 6 0 6 0 6-1 6 0 6-1 6-1 6 1 6 0 6-1 6 3 6 4 7 3 6 4 6 4 6 4 6 5 6 3 6 2 6 1 6 0 6 0 6 0M1026 337l6 10 6 6 7 5 6 3 6 2 6 2 6 2 6 2 6 0 6 1 6 0 6-1 6-1 6-2 6-3 6-3 6-4 6-6 6-7 6-8 6-3 6-6 6-6 7-7 6-7 6-4 6 0 6 0 6-1 6 0 6 0 6 1 6 1 6-5 6-15 6-15 6-11 6-9 6-4 6 4 6 7 6 8 6 7 6 8 6 6 7 6 6 3 6 2 6 2 6 0 6 6 6 4 6 2 6 2 6 1 6-1 6-3 6-4 6-6 6-4 6-4 6-4 6-3 6 2 6 3 6 3 7 1 6 0 6 2 6 5 6 6 6 6 6 3 6-2 6 0 6 4 6 5 6 5 6 5 6 7 6 6 6 4 6 3 6 3 6 1 6 2 6-5 7-10 6-16 6-26 6-13 6 3 6 6 6 6 6 5 6 4 6 2 6 1 6 0 6 0 6-1 6-2 6-2 6-1 6 0 6-1 6-1 6 2 6 2 7 3 6 3 6 4 6 3 6 4 6 2 6 2 6 1 6 0 6 0 6-1M1026 347l6 6 6 3 7 2 6 1 6 0 6 1 6 1 6 1 6 0 6-1 6 0 6-1 6-2 6-3 6-4 6-4 6-6 6-9 6-10 6-14 6-3 6-5 6-6 7-7 6-7 6-3 6 3 6 3 6 3 6 3 6 3 6 4 6 3 6-3 6-12 6-13 6-8 6-5 6-2 6 6 6 7 6 6 6 5 6 5 6 4 7 2 6 0 6-1 6-2 6-3 6 4 6 4 6 3 6 3 6 2 6-1 6-1 6-3 6-3 6-2 6-1 6-2 6-1 6 5 6 5 6 4 7 4 6 2 6 5 6 7 6 7 6 6 6 2 6-2 6 0 6 2 6 3 6 3 6 4 6 5 6 4 6 4 6 3 6 2 6 2 6 4 6-2 7-7 6-11 6-21 6-11 6 2 6 4 6 6 6 4 6 3 6 2 6 2 6 1 6-1 6 0 6-2 6-2 6-2 6 0 6-1 6 0 6 1 6 2 7 2 6 2 6 2 6 3 6 2 6 2 6 0 6 1 6 0 6-1 6-1M1026 353l6 3 6-1 7-1 6-1 6-2 6 0 6 1 6 0 6 0 6 0 6-1 6-1 6-2 6-4 6-4 6-4 6-7 6-9 6-12 6-15 6-1 6-3 6-4 7-5 6-5 6 0 6 5 6 5 6 5 6 5 6 4 6 5 6 4 6-1 6-9 6-9 6-3 6-2 6 2 6 5 6 5 6 3 6 3 6 1 6 1 7-1 6-3 6-4 6-5 6-6 6 2 6 2 6 3 6 2 6 2 6 1 6-1 6-1 6-1 6 0 6 0 6 0 6 2 6 6 6 7 6 6 7 5 6 4 6 7 6 8 6 8 6 5 6 0 6-3 6-1 6 1 6 1 6 2 6 3 6 3 6 4 6 3 6 2 6 3 6 4 6 5 6-1 7-4 6-8 6-17 6-11 6-1 6 3 6 4 6 4 6 3 6 2 6 3 6 1 6 1 6 0 6-1 6-2 6 0 6 0 6 0 6 1 6 1 6 1 7 1 6 1 6 1 6 1 6 0 6 1 6 0 6 0 6-1 6-1 6-1M1026 350l6 0 6-3 7-3 6-3 6-2 6 0 6 1 6 1 6 1 6 0 6 0 6-1 6-2 6-4 6-4 6-4 6-7 6-9 6-12 6-13 6 2 6 0 6 0 7-2 6-1 6 3 6 7 6 7 6 5 6 5 6 5 6 5 6 3 6 0 6-6 6-5 6-1 6 1 6 3 6 4 6 1 6 1 6-1 6-2 6-2 7-3 6-5 6-6 6-7 6-7 6-1 6 1 6 2 6 2 6 2 6 1 6 0 6 0 6 0 6 0 6 2 6 2 6 3 6 6 6 7 6 6 7 5 6 5 6 6 6 8 6 7 6 4 6-2 6-3 6-2 6 0 6 1 6 2 6 2 6 4 6 4 6 3 6 4 6 3 6 5 6 7 6 2 7-2 6-4 6-14 6-12 6-2 6 1 6 2 6 2 6 3 6 2 6 3 6 1 6 1 6 1 6-1 6-1 6 0 6 0 6 1 6 1 6 0 6 0 7 0 6 0 6 0 6 0 6 0 6-1 6 0 6-1 6-1 6-1 6-1M1026 342l6-2 6-4 7-3 6-3 6-1 6 1 6 3 6 2 6 1 6 1 6 1 6-1 6-2 6-4 6-3 6-5 6-7 6-10 6-11 6-12 6 4 6 3 6 3 7 2 6 3 6 6 6 10 6 8 6 5 6 5 6 5 6 4 6 2 6 0 6-4 6-3 6 1 6 3 6 2 6 1 6-2 6-3 6-3 6-4 6-5 7-5 6-6 6-8 6-8 6-9 6-1 6 0 6 1 6 3 6 2 6 2 6 0 6 1 6 0 6 1 6 2 6 2 6 3 6 7 6 6 6 5 7 4 6 4 6 4 6 6 6 6 6 2 6-1 6-5 6-2 6 0 6 1 6 3 6 3 6 5 6 5 6 5 6 5 6 5 6 7 6 10 6 4 7 2 6 1 6-9 6-10 6-4 6-1 6 0 6 1 6 0 6 1 6 2 6-1 6 0 6 0 6-3 6-2 6-1 6-1 6 0 6 0 6 0 6-1 7-1 6 0 6-1 6 0 6-1 6 0 6 0 6-1 6 0 6-1 6-1M1026 330l6-2 6-2 7-2 6-1 6 0 6 4 6 4 6 3 6 2 6 2 6 1 6 0 6-2 6-3 6-5 6-5 6-8 6-10 6-12 6-12 6 4 6 4 6 4 7 4 6 6 6 9 6 13 6 9 6 7 6 5 6 5 6 3 6 2 6 1 6-3 6-1 6 2 6 3 6 3 6-1 6-6 6-5 6-7 6-6 6-6 7-7 6-9 6-9 6-11 6-10 6-2 6 0 6 2 6 3 6 3 6 2 6 1 6 2 6 1 6 1 6 2 6 3 6 2 6 6 6 5 6 5 7 3 6 2 6 2 6 5 6 4 6 2 6-2 6-5 6-4 6 1 6 2 6 2 6 4 6 7 6 6 6 6 6 7 6 6 6 8 6 12 6 8 7 6 6 7 6-3 6-5 6-4 6-3 6-2 6-2 6-2 6-2 6-1 6-3 6-3 6-3 6-5 6-5 6-3 6-2 6-1 6-1 6-1 6 0 7-1 6 0 6 0 6 1 6 0 6 0 6 0 6 0 6 0 6 0 6-1M1026 319l6 0 6-1 7 0 6 1 6 2 6 4 6 6 6 4 6 3 6 2 6 2 6 0 6-2 6-3 6-4 6-5 6-8 6-11 6-12 6-14 6 4 6 4 6 4 7 5 6 7 6 10 6 14 6 10 6 8 6 6 6 5 6 4 6 2 6 1 6-1 6 1 6 4 6 4 6 4 6-2 6-7 6-8 6-8 6-8 6-9 7-9 6-10 6-12 6-12 6-12 6-4 6 0 6 1 6 3 6 3 6 2 6 2 6 1 6 2 6 2 6 2 6 2 6 3 6 6 6 5 6 4 7 2 6 1 6 2 6 4 6 3 6 2 6-2 6-6 6-5 6 0 6 1 6 2 6 4 6 7 6 7 6 7 6 7 6 7 6 8 6 13 6 9 7 9 6 11 6 2 6-2 6-1 6-3 6-2 6-4 6-5 6-4 6-4 6-5 6-6 6-6 6-7 6-6 6-4 6-2 6-2 6-1 6 0 6 1 7 1 6 1 6 2 6 1 6 1 6 1 6 1 6 0 6-1 6 0 6-1M1026 318l6 1 6 0 7 0 6 1 6 2 6 4 6 5 6 4 6 3 6 3 6 2 6 0 6-1 6-2 6-3 6-5 6-6 6-9 6-11 6-11 6 3 6 3 6 3 7 4 6 7 6 9 6 13 6 9 6 7 6 6 6 4 6 4 6 2 6 1 6 0 6 2 6 5 6 6 6 6 6-2 6-7 6-8 6-9 6-9 6-10 7-10 6-12 6-13 6-14 6-14 6-5 6-2 6 0 6 3 6 2 6 1 6 1 6 1 6 2 6 2 6 3 6 2 6 2 6 6 6 6 6 5 7 2 6 1 6 2 6 4 6 3 6 1 6-2 6-7 6-6 6-2 6 0 6 1 6 3 6 6 6 8 6 7 6 6 6 7 6 8 6 11 6 9 7 9 6 10 6 3 6 2 6 2 6 0 6-2 6-4 6-5 6-6 6-5 6-8 6-7 6-6 6-8 6-5 6-4 6-1 6-1 6 1 6 2 6 3 7 3 6 3 6 3 6 3 6 1 6 1 6 0 6 0 6-1 6-1 6-1M1026 333l6 1 6-2 7-1 6-1 6 0 6 2 6 3 6 3 6 2 6 2 6 2 6 1 6-1 6-1 6-1 6-2 6-4 6-5 6-5 6-6 6 3 6 2 6 2 7 2 6 4 6 5 6 9 6 5 6 4 6 3 6 3 6 2 6 1 6 0 6-1 6 1 6 4 6 5 6 5 6 0 6-6 6-7 6-8 6-8 6-9 7-10 6-11 6-13 6-14 6-15 6-6 6-2 6 0 6 2 6 1 6 0 6 0 6 1 6 2 6 2 6 3 6 2 6 2 6 8 6 6 6 6 7 3 6 1 6 2 6 3 6 3 6 1 6-3 6-9 6-7 6-3 6-2 6-1 6 2 6 6 6 7 6 7 6 6 6 6 6 6 6 9 6 7 7 6 6 7 6 1 6 5 6 6 6 3 6 0 6-2 6-5 6-6 6-6 6-7 6-7 6-6 6-7 6-4 6-2 6 1 6 2 6 2 6 6 6 5 7 6 6 4 6 4 6 3 6 2 6 0 6 0 6-2 6-1 6-3 6-2M1026 356l6 0 6-4 7-4 6-4 6-3 6 0 6 1 6 1 6 1 6 1 6 1 6 1 6 0 6 0 6 0 6 0 6 0 6-1 6 0 6 1 6 5 6 2 6 0 7 0 6 0 6 1 6 4 6-1 6-2 6 0 6 0 6 0 6-1 6-2 6-4 6-3 6 0 6 2 6 3 6 0 6-4 6-4 6-5 6-6 6-6 7-8 6-10 6-11 6-13 6-14 6-4 6-2 6 1 6 2 6 2 6 0 6 0 6 1 6 2 6 3 6 3 6 2 6 4 6 8 6 7 6 6 7 3 6 2 6 1 6 3 6 2 6-1 6-4 6-11 6-9 6-4 6-3 6-2 6 2 6 6 6 7 6 6 6 6 6 5 6 4 6 6 6 4 7 3 6 2 6-3 6 4 6 11 6 7 6 3 6-1 6-3 6-5 6-5 6-7 6-7 6-5 6-5 6-3 6 0 6 3 6 4 6 5 6 7 6 8 7 7 6 6 6 4 6 3 6 2 6 0 6-1 6-2 6-3 6-3 6-3M1026 370l6-2 6-7 7-5 6-7 6-4 6-3 6 0 6 1 6 0 6 0 6 1 6 1 6 0 6 0 6 1 6 1 6 2 6 1 6 4 6 4 6 7 6 3 6 0 7 0 6-2 6-2 6 1 6-5 6-5 6-3 6-2 6-2 6-2 6-3 6-8 6-7 6-2 6-2 6 0 6 0 6-2 6-2 6-3 6-3 6-4 7-6 6-8 6-9 6-11 6-13 6-2 6 1 6 2 6 3 6 3 6 1 6 0 6 2 6 3 6 3 6 3 6 4 6 4 6 8 6 7 6 5 7 3 6 1 6 1 6 1 6 1 6-2 6-5 6-11 6-10 6-4 6-3 6-2 6 2 6 6 6 7 6 6 6 5 6 4 6 3 6 3 6 1 7-2 6-4 6-9 6 4 6 12 6 10 6 5 6 2 6-1 6-4 6-5 6-6 6-6 6-5 6-4 6-2 6 1 6 4 6 4 6 6 6 9 6 9 7 8 6 7 6 5 6 4 6 2 6 0 6-1 6-2 6-2 6-3 6-3M1026 362l6-5 6-8 7-7 6-6 6-5 6-2 6 1 6 1 6 0 6 1 6 1 6 1 6 0 6-1 6 1 6 0 6 1 6 1 6 2 6 4 6 10 6 5 6 3 7 1 6 0 6 0 6 1 6-4 6-4 6-4 6-2 6-1 6-2 6-3 6-8 6-7 6-4 6-2 6 0 6 0 6-2 6-3 6-2 6-3 6-4 7-4 6-7 6-8 6-10 6-11 6-1 6 2 6 2 6 4 6 3 6 1 6 1 6 2 6 3 6 3 6 4 6 3 6 4 6 7 6 7 6 4 7 3 6 0 6 0 6 1 6 0 6-1 6-5 6-10 6-9 6-3 6-1 6 0 6 3 6 6 6 6 6 6 6 4 6 2 6 1 6 2 6-3 7-7 6-10 6-15 6-1 6 12 6 11 6 7 6 3 6 0 6-2 6-5 6-5 6-5 6-5 6-4 6-2 6 1 6 4 6 4 6 5 6 10 6 9 7 8 6 8 6 6 6 5 6 2 6 2 6 0 6-1 6-1 6-2 6-2M1026 335l6-5 6-8 7-6 6-6 6-3 6 1 6 2 6 3 6 1 6 2 6 1 6 1 6-1 6-2 6-1 6-1 6-2 6-3 6-3 6 1 6 12 6 10 6 7 7 6 6 4 6 4 6 6 6 0 6-1 6 0 6-1 6 0 6 0 6-2 6-6 6-4 6-1 6 0 6 1 6-1 6-4 6-4 6-4 6-5 6-4 7-5 6-7 6-8 6-9 6-9 6-1 6 0 6 2 6 3 6 2 6 2 6 1 6 1 6 2 6 2 6 3 6 3 6 4 6 6 6 6 6 4 7 2 6 1 6 1 6 2 6 2 6 0 6-3 6-7 6-5 6-1 6 1 6 1 6 4 6 5 6 5 6 4 6 2 6 1 6 0 6-1 6-5 7-11 6-16 6-23 6-7 6 9 6 10 6 7 6 5 6 1 6-2 6-3 6-4 6-5 6-4 6-4 6-2 6 0 6 3 6 3 6 4 6 9 6 9 7 8 6 8 6 6 6 6 6 4 6 3 6 2 6 1 6 0 6 0 6 0M1026 306l6-4 6-6 7-5 6-4 6-1 6 3 6 5 6 4 6 3 6 2 6 1 6 1 6-2 6-3 6-3 6-2 6-5 6-6 6-6 6-3 6 15 6 14 6 12 7 10 6 9 6 10 6 10 6 4 6 2 6 2 6 1 6 1 6 0 6-1 6-2 6-1 6 2 6 2 6 2 6-2 6-7 6-7 6-6 6-6 6-6 7-6 6-8 6-8 6-8 6-9 6-2 6-1 6 1 6 2 6 2 6 1 6 1 6 0 6 1 6 2 6 2 6 3 6 3 6 6 6 6 6 4 7 4 6 2 6 4 6 5 6 6 6 2 6-1 6-3 6-1 6 1 6 2 6 2 6 3 6 3 6 2 6 2 6 0 6 0 6-1 6-1 6-8 7-13 6-20 6-28 6-13 6 4 6 7 6 6 6 5 6 2 6-1 6-2 6-3 6-4 6-3 6-3 6-2 6-1 6 2 6 2 6 2 6 7 6 7 7 8 6 6 6 7 6 6 6 5 6 4 6 3 6 2 6 2 6 1 6 2M1026 283l6-2 6-3 7-3 6-2 6 1 6 5 6 6 6 5 6 4 6 2 6 2 6 1 6-2 6-3 6-3 6-3 6-5 6-7 6-6 6-2 6 18 6 17 6 15 7 13 6 13 6 12 6 13 6 5 6 2 6 1 6 1 6 0 6 0 6-1 6-1 6 1 6 3 6 4 6 2 6-4 6-10 6-9 6-9 6-8 6-8 7-7 6-8 6-9 6-10 6-9 6-3 6 0 6 0 6 2 6 2 6 1 6 1 6 1 6 0 6 2 6 2 6 3 6 3 6 7 6 6 6 6 7 6 6 5 6 7 6 9 6 10 6 5 6 1 6 0 6 1 6 2 6 2 6 1 6 2 6 0 6 0 6 0 6-1 6-1 6 0 6 0 6-7 7-12 6-18 6-29 6-18 6-1 6 4 6 3 6 3 6 2 6-1 6-1 6-2 6-3 6-3 6-3 6-2 6-2 6 1 6 0 6 1 6 5 6 5 7 5 6 5 6 5 6 5 6 5 6 4 6 3 6 2 6 2 6 2 6 1M1026 264l6 0 6-1 7-1 6 0 6 3 6 7 6 7 6 6 6 4 6 4 6 3 6 0 6-1 6-2 6-2 6-2 6-3 6-5 6-3 6 1 6 21 6 18 6 17 7 14 6 15 6 12 6 12 6 3 6 0 6-1 6-1 6-1 6-2 6-2 6-1 6 1 6 3 6 3 6 1 6-6 6-11 6-11 6-10 6-10 6-9 7-9 6-9 6-11 6-10 6-11 6-3 6 0 6 2 6 2 6 3 6 1 6 0 6 1 6 2 6 2 6 2 6 3 6 5 6 8 6 8 6 7 7 7 6 8 6 9 6 12 6 12 6 6 6 2 6 1 6 1 6 1 6 2 6 0 6 0 6 0 6-1 6-1 6 0 6 0 6 2 6 3 6-3 7-8 6-12 6-23 6-17 6-5 6 0 6 0 6 1 6 0 6-1 6-2 6-2 6-3 6-3 6-4 6-2 6-2 6-1 6 0 6-1 6 2 6 3 7 2 6 3 6 2 6 3 6 3 6 2 6 2 6 1 6 1 6 1 6 0M1026 249l6 0 6 0 7 1 6 1 6 4 6 8 6 9 6 7 6 6 6 4 6 3 6 2 6 0 6-1 6-1 6 0 6-2 6-3 6 0 6 4 6 22 6 19 6 16 7 15 6 14 6 12 6 10 6 1 6-2 6-2 6-3 6-3 6-3 6-2 6-2 6-1 6 2 6 1 6-1 6-7 6-12 6-11 6-11 6-10 6-9 7-9 6-11 6-11 6-12 6-13 6-2 6 1 6 3 6 3 6 3 6 1 6 0 6 2 6 2 6 2 6 3 6 3 6 4 6 9 6 9 6 8 7 8 6 8 6 10 6 11 6 12 6 7 6 1 6-1 6 0 6 0 6 0 6 0 6 0 6 0 6 0 6 1 6 1 6 2 6 4 6 6 6 1 7-2 6-5 6-15 6-13 6-4 6-2 6-1 6-1 6-1 6-2 6-1 6-3 6-3 6-3 6-4 6-3 6-2 6-1 6-1 6-1 6 0 6 1 7 0 6 0 6 0 6 0 6 1 6 0 6-1 6 0 6-1 6-1 6-2"/><path fill="none" stroke="url(#Gbs)" stroke-width="2.4" d="M1026 249l6 0 6 0 7 1 6 1 6 4 6 8 6 9 6 7 6 6 6 4 6 3 6 2 6 0 6-1 6-2 6-3 6-5 6-7 6-6 6-4 6-1 6 0 6 0 7 1 6 3 6 6 6 5 6 3 6 3 6 3 6 3 6 4 6 3 6-3 6-13 6-15 6-11 6-9 6-5 6-1 6 2 6 2 6 3 6 4 6 4 7 3 6 1 6 0 6 0 6 0 6 0 6 1 6 2 6 3 6 2 6 0 6 0 6 1 6 2 6 3 6 3 6 2 6 3 6 2 6 2 6 1 7 0 6-2 6 1 6 4 6 5 6 2 6-3 6-10 6-9 6-4 6-3 6-3 6 0 6 4 6 4 6 4 6 3 6 0 6 0 6-1 6-1 7-4 6-4 6-4 6-3 6 0 6 2 6 3 6 3 6 2 6 1 6 0 6 0 6 0 6 0 6 0 6 0 6 1 6 0 6 1 6 1 6 1 6 1 7 2 6 2 6 3 6 3 6 3 6 3 6 2 6 1 6 0 6 0 6 0M1026 375l6 1 6 1 7 1 6 1 6 1 6 0 6 1 6 0 6 1 6 0 6 1 6 0 6 0 6-1 6-1 6-1 6 0 6 1 6 3 6 4 6 4 6 3 6 2 7 2 6 1 6 1 6 0 6-1 6-2 6-2 6-3 6-3 6-3 6-2 6-2 6 1 6 3 6 3 6 1 6 0 6-1 6-1 6-2 6-2 6-2 7-2 6-3 6-3 6-4 6-4 6-4 6-4 6-3 6-4 6-2 6 0 6-1 6-2 6-4 6-3 6 0 6 3 6 3 6 4 6 4 6 4 7 4 6 4 6 5 6 4 6 4 6 2 6 2 6 1 6 1 6 1 6 2 6 0 6 0 6 0 6-1 6-1 6 0 6 0 6 2 6 3 6 6 7 6 6 7 6 1 6-2 6-1 6-3 6-2 6-4 6-5 6-4 6-4 6-3 6-3 6-3 6-3 6-2 6-1 6-1 6 0 6 0 6 0 6 0 7 0 6 0 6 0 6 0 6 0 6-1 6 0 6-1 6-1 6-1 6-1"/></g><g transform="scale(0.25)"><path fill="url(#Gef)" d="M1027 1031l6 5 6 5 6 3 6 1 6-1 6-2 6-2 6-2 6-2 6-2 6-1 7 3 6 6 6 5 6 2 6 0 6-1 6-2 6-1 6-2 6-2 6-2 6-1 6 0 6 0 6 0 6-2 6-11 6-18 6-11 6-7 6-4 6-1 6 3 6 5 6 6 7 6 6 6 6 5 6 2 6-1 6-5 6-7 6-6 6-6 6-5 6-5 6-3 6 0 6 3 6 5 6 5 6 5 6 6 6 7 6 5 6 4 6 0 6-1 7-2 6-3 6-3 6-5 6-6 6-5 6-4 6-1 6 4 6 6 6 6 6 3 6 2 6 1 6 0 6 1 6 1 6 4 6 10 6 11 6 6 6-2 6-3 6-3 6-2 7-2 6-1 6-2 6-1 6-1 6 0 6-1 6-2 6-3 6-3 6-2 6-1 6-1 6 0 6-1 6 0 6 0 6 0 6 0 6 1 6 3 6 5 6 5 7 4 6 3 6 1 6-4 6-6 6-8 6-7 6-6 6-5 6-5 6-3 6 0 6 2 0 167-6 0-6 0-6 0-6 2-6 1-6 2-6 0-6 0-6 0-6 0-6 0-6 0-7 0-6 0-6 1-6 0-6 0-6 1-6 1-6 0-6 1-6 1-6 1-6 2-6 2-6 2-6 2-6 1-6 1-6 0-6 1-6 1-6 2-6 2-6 3-7 3-6 5-6 4-6 2-6 0-6-3-6-3-6-3-6-3-6-2-6-1-6-1-6 0-6-1-6 0-6-1-6 0-6 0-6 0-6 0-6 3-6 2-6-1-6-2-6-2-7-1-6-1-6 0-6 0-6 1-6 0-6 2-6 4-6 7-6 8-6 7-6 4-6 3-6 3-6 0-6-3-6-7-6-8-6-7-6-6-6-6-6-6-6-6-7-5-6-5-6-3-6-1-6 0-6 1-6 1-6 3-6 4-6 6-6 6-6 8-6 9-6 9-6 7-6 6-6 5-6 4-6 1-6-2-6-7-6-8-6-8-6-9-6-6-7-2-6-1-6-1-6-1-6-1-6-2-6-3-6-3-6-5-6-6-6-7-6-7z"/><path fill="none" stroke="url(#Ges)" stroke-width="1.2" d="M1027 1144l6 4 6 5 6 3 6 2 6 1 6 0 6 0 6-5 6-5 6-5 6-5 7-3 6-1 6-1 6-7 6-3 6 1 6 3 6 3 6 5 6 1 6 3 6 4 6 4 6 5 6-3 6-3 6-3 6 1 6 7 6 4 6-4 6-4 6-2 6 0 6 2 7 3 6 2 6 2 6 1 6-1 6-2 6-3 6-9 6-14 6-18 6-22 6-13 6-5 6-2 6 1 6 3 6 5 6 9 6 5 6 5 6 6 6 4 6 2 7-2 6 5 6 4 6 2 6-2 6-2 6-2 6-7 6-8 6-5 6-5 6-6 6-7 6-9 6-11 6-11 6-12 6-11 6 9 6 11 6 6 6-2 6-3 6-3 6-2 7-2 6-1 6-2 6-1 6-1 6 0 6 5 6 6 6 3 6 0 6 1 6 0 6-2 6-3 6-5 6-4 6-5 6 0 6 2 6 3 6 6 6 7 6 9 7 10 6 8 6 8 6 23 6 16 6 5 6 0 6-2 6-5 6-5 6-6 6-5 6-5M1027 1136l6 3 6 3 6 1 6 0 6 0 6 0 6 0 6-3 6-4 6-4 6-3 7-2 6 0 6 1 6-4 6 0 6 5 6 5 6 7 6 8 6 3 6 4 6 5 6 4 6 3 6-6 6-7 6-8 6-5 6 0 6-1 6-9 6-6 6-4 6-1 6 2 7 1 6 2 6 2 6 1 6-1 6-1 6-4 6-7 6-11 6-12 6-16 6-7 6 1 6 2 6 2 6 3 6 4 6 6 6 2 6 1 6 1 6-1 6-5 7-8 6 0 6 0 6-1 6-3 6-3 6-2 6-5 6-3 6 0 6 0 6-2 6-4 6-5 6-7 6-7 6-7 6-6 6 12 6 14 6 7 6 0 6-2 6-3 6-2 7-3 6-2 6-2 6-2 6-2 6-1 6 4 6 4 6 2 6-1 6-2 6-1 6-4 6-5 6-6 6-7 6-6 6-2 6 0 6 1 6 3 6 5 6 5 7 4 6 3 6 1 6 26 6 29 6 11 6 4 6 1 6-2 6-4 6-4 6-4 6-4M1027 1126l6 2 6 3 6 1 6 0 6 0 6 1 6 2 6-1 6-1 6-1 6-1 7 1 6 4 6 4 6 0 6 2 6 6 6 8 6 8 6 10 6 2 6 3 6 4 6 3 6 1 6-9 6-11 6-11 6-11 6-5 6-7 6-12 6-9 6-6 6-2 6 0 7 1 6 1 6 2 6 0 6-2 6-2 6-4 6-6 6-9 6-9 6-11 6-3 6 6 6 4 6 3 6 2 6 3 6 3 6-1 6-3 6-4 6-7 6-11 7-15 6-3 6-3 6-3 6-5 6-5 6-3 6-2 6 2 6 4 6 5 6 2 6 0 6-1 6-2 6-2 6-3 6-1 6 17 6 18 6 9 6 2 6-2 6-2 6-4 7-3 6-4 6-4 6-3 6-4 6-3 6 3 6 3 6 1 6 0 6-1 6-1 6-3 6-5 6-5 6-6 6-6 6-2 6 1 6 1 6 4 6 5 6 6 7 6 6 5 6 4 6 27 6 25 6 11 6 3 6 1 6-2 6-3 6-3 6-3 6-3M1027 1121l6 3 6 3 6 3 6 2 6 3 6 4 6 4 6 2 6 1 6 1 6 1 7 3 6 5 6 8 6 1 6-1 6 3 6 4 6 5 6 6 6-3 6 0 6 2 6 1 6 0 6-10 6-11 6-13 6-12 6-5 6-7 6-11 6-9 6-6 6-2 6 0 7 1 6 2 6 1 6 1 6-1 6-2 6-3 6-4 6-6 6-6 6-9 6 0 6 6 6 3 6 2 6 0 6-1 6 1 6-5 6-6 6-7 6-11 6-15 7-19 6-4 6-4 6-5 6-6 6-5 6-4 6-1 6 4 6 7 6 7 6 4 6 3 6 1 6 1 6 0 6 1 6 3 6 21 6 20 6 13 6 3 6-1 6-2 6-4 7-5 6-5 6-5 6-5 6-5 6-6 6 2 6 3 6 1 6 1 6 1 6 1 6 0 6-1 6-3 6-3 6-3 6 0 6 2 6 3 6 6 6 8 6 9 7 12 6 11 6 15 6 23 6 11 6 3 6 0 6-1 6-3 6-3 6-3 6-2 6-3M1027 1120l6 6 6 6 6 5 6 6 6 6 6 6 6 8 6 2 6 3 6 2 6 1 7 3 6 6 6 8 6 0 6-7 6-3 6-3 6-2 6 0 6-7 6-4 6-1 6-1 6-1 6-9 6-9 6-12 6-8 6-2 6-2 6-8 6-7 6-4 6-1 6 1 7 2 6 2 6 2 6 2 6 0 6 0 6 0 6-2 6-3 6-4 6-6 6-1 6 3 6 1 6-2 6-4 6-3 6-2 6-8 6-7 6-8 6-11 6-15 7-18 6-3 6-3 6-3 6-5 6-6 6-4 6-1 6 2 6 6 6 6 6 3 6 2 6 1 6 0 6 1 6 1 6 4 6 23 6 21 6 14 6 5 6 1 6-1 6-3 7-5 6-4 6-6 6-5 6-6 6-6 6 1 6 2 6 2 6 1 6 3 6 4 6 2 6 1 6 0 6-1 6-2 6 1 6 3 6 4 6 7 6 9 6 11 7 16 6 14 6 23 6 19 6 0 6-1 6-2 6-3 6-3 6-3 6-2 6-2 6-1M1027 1122l6 8 6 9 6 8 6 8 6 8 6 8 6 8 6 3 6 3 6 1 6 2 7 2 6 6 6 8 6-1 6-10 6-7 6-6 6-5 6-4 6-11 6-6 6-3 6-1 6-1 6-7 6-7 6-9 6-5 6 2 6-1 6-7 6-6 6-4 6-2 6 1 7 1 6 1 6 3 6 1 6 0 6 1 6 0 6-1 6-2 6-4 6-7 6-2 6 2 6-1 6-4 6-4 6-4 6-3 6-7 6-6 6-6 6-8 6-11 7-13 6 1 6 1 6 0 6-3 6-4 6-3 6-3 6-1 6 2 6 2 6 0 6-1 6-2 6-2 6-2 6 0 6 2 6 22 6 22 6 14 6 6 6 3 6 0 6-2 7-2 6-4 6-4 6-4 6-5 6-6 6 1 6 2 6 0 6 1 6 3 6 4 6 2 6 0 6-1 6-2 6-2 6 0 6 1 6 3 6 4 6 8 6 9 7 14 6 14 6 22 6 22 6 3 6 0 6 0 6-2 6-1 6-2 6 0 6 0 6-1M1027 1123l6 9 6 10 6 9 6 9 6 8 6 8 6 7 6 2 6 1 6 1 6 1 7 2 6 6 6 9 6 0 6-8 6-5 6-4 6-3 6-2 6-10 6-6 6-1 6-1 6 1 6-7 6-6 6-7 6-4 6 1 6-3 6-10 6-9 6-8 6-4 6-2 7-2 6 0 6 0 6-1 6-2 6-3 6-3 6-5 6-7 6-7 6-10 6-2 6 4 6 2 6 0 6-1 6-1 6 1 6-2 6-2 6-2 6-3 6-4 7-6 6 6 6 6 6 4 6 0 6-2 6-1 6-5 6-5 6-1 6-2 6-3 6-4 6-5 6-5 6-4 6-3 6 1 6 19 6 21 6 14 6 7 6 3 6 1 6-1 7-1 6-2 6-3 6-3 6-4 6-5 6 0 6 1 6-1 6 0 6 0 6 2 6 0 6-3 6-4 6-5 6-6 6-3 6-1 6-1 6 2 6 4 6 6 7 10 6 10 6 16 6 27 6 15 6 7 6 4 6 1 6 1 6 1 6 0 6 2 6 1M1027 1125l6 10 6 9 6 8 6 8 6 6 6 6 6 5 6 0 6-1 6-1 6 0 7 1 6 4 6 8 6 2 6-4 6-1 6 1 6 2 6 3 6-6 6-2 6 0 6 2 6 3 6-7 6-6 6-6 6-4 6-3 6-7 6-14 6-14 6-10 6-7 6-5 7-4 6-3 6-3 6-3 6-6 6-8 6-9 6-12 6-13 6-13 6-15 6-2 6 7 6 7 6 7 6 5 6 5 6 7 6 4 6 4 6 4 6 3 6 2 7 0 6 10 6 9 6 7 6 2 6 0 6 0 6-6 6-7 6-4 6-4 6-5 6-5 6-5 6-6 6-5 6-3 6 1 6 17 6 19 6 13 6 7 6 3 6 1 6 0 7-2 6-1 6-3 6-2 6-3 6-4 6 0 6-1 6-2 6-2 6-1 6-1 6-3 6-7 6-7 6-9 6-9 6-6 6-5 6-3 6 0 6 2 6 4 7 6 6 6 6 11 6 32 6 25 6 11 6 6 6 4 6 1 6 2 6 1 6 2 6 2M1027 1132l6 9 6 8 6 7 6 5 6 5 6 3 6 2 6-2 6-3 6-4 6-2 7-2 6 2 6 5 6-2 6-3 6 2 6 2 6 5 6 6 6-2 6 1 6 3 6 4 6 4 6-6 6-6 6-6 6-5 6-4 6-7 6-15 6-13 6-10 6-8 6-5 7-4 6-3 6-4 6-4 6-8 6-10 6-13 6-16 6-18 6-17 6-19 6-4 6 10 6 10 6 11 6 10 6 9 6 11 6 9 6 8 6 7 6 6 6 4 7 2 6 11 6 9 6 6 6 2 6 0 6 0 6-7 6-7 6-4 6-4 6-4 6-5 6-5 6-4 6-4 6-2 6 2 6 17 6 19 6 13 6 7 6 3 6 1 6 0 7-1 6-1 6-2 6-1 6-1 6-3 6 1 6-1 6-2 6-2 6-3 6-2 6-6 6-10 6-10 6-11 6-12 6-8 6-6 6-4 6-1 6 2 6 4 7 6 6 7 6 9 6 30 6 25 6 10 6 5 6 2 6 1 6 0 6 0 6 1 6 0M1027 1143l6 7 6 8 6 6 6 5 6 3 6 2 6 1 6-5 6-5 6-5 6-6 7-4 6-2 6-1 6-9 6-6 6-1 6 0 6 1 6 3 6 0 6 2 6 4 6 4 6 4 6-3 6-5 6-8 6-4 6 1 6-2 6-10 6-9 6-7 6-4 6-2 7-2 6-1 6-2 6-3 6-6 6-8 6-11 6-15 6-16 6-17 6-19 6-4 6 9 6 10 6 9 6 10 6 10 6 10 6 9 6 7 6 7 6 4 6 3 7-1 6 8 6 6 6 3 6 0 6-3 6-2 6-7 6-7 6-3 6-2 6-3 6-4 6-4 6-3 6-3 6 0 6 3 6 19 6 20 6 14 6 8 6 4 6 2 6 1 7 0 6 1 6 0 6 2 6 1 6 0 6 3 6 2 6-1 6-2 6-2 6-2 6-7 6-12 6-12 6-12 6-13 6-9 6-6 6-4 6 0 6 3 6 6 7 8 6 8 6 10 6 22 6 14 6 5 6 0 6-1 6-3 6-3 6-3 6-2 6-1M1027 1151l6 7 6 7 6 6 6 5 6 3 6 1 6 1 6-5 6-6 6-7 6-7 7-6 6-5 6-6 6-15 6-11 6-8 6-6 6-5 6-4 6-1 6 2 6 2 6 3 6 3 6 0 6-3 6-9 6-2 6 8 6 6 6-2 6-3 6-1 6 0 6 1 7 2 6 1 6 2 6 0 6-3 6-4 6-6 6-9 6-11 6-11 6-15 6-3 6 6 6 6 6 6 6 6 6 7 6 8 6 4 6 4 6 4 6 1 6-1 7-5 6 4 6 1 6 0 6-4 6-6 6-4 6-8 6-6 6-2 6-2 6-2 6-3 6-3 6-3 6-2 6 0 6 4 6 21 6 22 6 16 6 9 6 6 6 4 6 3 7 2 6 3 6 3 6 4 6 4 6 3 6 6 6 3 6 1 6 0 6-1 6-2 6-7 6-12 6-12 6-13 6-13 6-10 6-6 6-4 6 0 6 3 6 6 7 8 6 5 6 5 6 10 6 5 6-1 6-4 6-5 6-6 6-5 6-5 6-4 6-2M1027 1151l6 7 6 7 6 6 6 4 6 3 6 1 6 1 6-5 6-6 6-7 6-7 7-7 6-6 6-9 6-18 6-15 6-12 6-10 6-10 6-10 6-3 6 0 6 1 6 1 6 3 6 1 6 0 6-9 6 0 6 15 6 12 6 4 6 3 6 2 6 3 6 4 7 4 6 3 6 3 6 2 6 0 6-1 6-2 6-5 6-7 6-8 6-11 6-2 6 5 6 4 6 3 6 3 6 4 6 6 6 0 6 1 6 1 6-1 6-4 7-8 6 0 6-1 6-3 6-5 6-7 6-5 6-8 6-6 6-2 6 0 6-2 6-3 6-3 6-3 6-1 6 0 6 5 6 22 6 24 6 17 6 12 6 7 6 6 6 4 7 4 6 5 6 4 6 6 6 7 6 4 6 6 6 3 6 1 6 0 6-1 6-1 6-7 6-12 6-13 6-13 6-12 6-10 6-7 6-4 6-1 6 0 6 2 7 3 6-5 6-9 6 0 6 6 6-1 6-5 6-5 6-6 6-6 6-6 6-4 6-1M1027 1143l6 7 6 8 6 5 6 4 6 2 6 1 6 1 6-5 6-6 6-7 6-7 7-7 6-6 6-9 6-19 6-14 6-12 6-11 6-11 6-12 6-4 6-2 6-1 6 0 6 1 6 3 6 0 6-10 6 3 6 18 6 16 6 8 6 5 6 5 6 4 6 5 7 4 6 4 6 3 6 1 6-1 6-2 6-3 6-6 6-8 6-10 6-12 6-3 6 5 6 4 6 3 6 3 6 4 6 5 6 1 6 1 6 0 6-2 6-6 7-8 6 0 6 0 6-3 6-4 6-6 6-4 6-6 6-4 6 0 6 0 6-1 6-2 6-2 6-2 6-1 6 1 6 5 6 23 6 24 6 18 6 12 6 9 6 7 6 5 7 4 6 5 6 6 6 6 6 7 6 3 6 5 6 2 6-1 6-2 6-2 6-2 6-8 6-12 6-12 6-12 6-11 6-10 6-7 6-5 6-3 6-2 6-3 7-4 6-14 6-24 6-6 6 14 6 2 6-2 6-4 6-4 6-5 6-5 6-2 6 1M1027 1134l6 8 6 7 6 5 6 3 6 2 6 0 6 0 6-5 6-6 6-6 6-6 7-6 6-5 6-8 6-17 6-11 6-8 6-9 6-9 6-11 6-4 6-3 6-3 6-2 6-2 6 0 6-2 6-11 6 1 6 19 6 17 6 10 6 7 6 5 6 6 6 5 7 4 6 3 6 2 6 0 6-3 6-5 6-8 6-11 6-14 6-16 6-19 6-6 6 5 6 5 6 5 6 6 6 5 6 6 6 3 6 3 6 1 6-2 6-5 7-7 6 4 6 3 6 2 6 0 6-2 6 0 6-2 6-1 6 1 6 1 6 0 6-1 6-2 6-2 6-2 6 1 6 5 6 22 6 23 6 17 6 12 6 8 6 6 6 4 7 5 6 4 6 5 6 6 6 6 6 2 6 3 6 1 6-3 6-3 6-3 6-3 6-8 6-10 6-11 6-10 6-10 6-8 6-6 6-4 6-3 6-2 6-3 7-6 6-16 6-27 6-8 6 14 6 3 6-1 6-3 6-4 6-5 6-4 6-1 6 2M1027 1127l6 7 6 7 6 4 6 2 6 1 6 0 6 0 6-5 6-5 6-6 6-5 7-4 6-3 6-4 6-11 6-5 6-3 6-3 6-5 6-7 6-5 6-5 6-5 6-6 6-6 6-6 6-7 6-16 6-3 6 15 6 16 6 10 6 8 6 6 6 7 6 7 7 4 6 4 6 2 6 0 6-4 6-7 6-11 6-16 6-20 6-22 6-25 6-10 6 2 6 5 6 6 6 7 6 6 6 6 6 6 6 4 6 3 6-1 6-3 7-4 6 10 6 9 6 8 6 5 6 4 6 5 6 1 6 1 6 2 6 1 6-1 6-2 6-3 6-4 6-4 6-1 6 2 6 18 6 20 6 15 6 10 6 6 6 4 6 4 7 3 6 4 6 4 6 4 6 4 6 2 6 2 6 0 6-2 6-3 6-3 6-2 6-6 6-8 6-8 6-7 6-7 6-4 6-2 6-1 6 1 6 2 6 2 7 2 6-9 6-17 6-9 6 1 6-4 6-5 6-6 6-7 6-6 6-5 6-2 6 1M1027 1121l6 5 6 5 6 3 6 0 6 0 6-1 6-1 6-4 6-5 6-4 6-3 7-1 6 1 6 2 6-3 6 3 6 4 6 4 6 1 6-1 6-7 6-7 6-9 6-10 6-11 6-13 6-15 6-22 6-10 6 10 6 13 6 9 6 8 6 8 6 8 6 8 7 7 6 5 6 4 6 0 6-3 6-6 6-11 6-16 6-21 6-24 6-28 6-14 6 0 6 3 6 5 6 5 6 5 6 6 6 7 6 5 6 4 6 0 6-1 7-1 6 15 6 13 6 13 6 10 6 8 6 9 6 2 6 1 6 1 6 0 6-3 6-4 6-6 6-7 6-7 6-6 6-3 6 14 6 17 6 12 6 6 6 3 6 3 6 1 7 2 6 2 6 2 6 3 6 2 6 0 6 2 6 1 6-1 6-3 6-1 6 0 6-3 6-5 6-5 6-3 6-3 6 0 6 2 6 5 6 7 6 8 6 10 7 11 6 2 6-1 6-12 6-15 6-12 6-11 6-11 6-9 6-9 6-7 6-5 6-1M1027 1113l6 4 6 2 6 0 6-3 6-2 6-3 6-1 6-4 6-4 6-3 6-1 7 2 6 5 6 7 6 4 6 11 6 12 6 11 6 8 6 5 6-7 6-9 6-10 6-14 6-16 6-20 6-21 6-29 6-17 6 4 6 9 6 7 6 7 6 9 6 9 6 9 7 9 6 7 6 6 6 3 6-1 6-4 6-7 6-13 6-18 6-21 6-26 6-13 6-1 6 2 6 3 6 4 6 4 6 5 6 6 6 5 6 3 6 1 6 0 7 0 6 15 6 15 6 14 6 11 6 10 6 10 6 2 6 1 6-1 6-1 6-4 6-7 6-8 6-10 6-10 6-10 6-7 6 10 6 13 6 8 6 2 6 0 6 0 6 0 7-1 6 0 6-1 6 0 6-1 6-3 6 1 6 1 6-1 6-2 6-1 6 0 6-1 6-2 6-2 6-1 6 0 6 3 6 6 6 8 6 11 6 12 6 14 7 16 6 7 6 5 6-7 6-16 6-13 6-13 6-11 6-11 6-10 6-8 6-6 6-2M1027 1106l6 1 6-1 6-3 6-5 6-6 6-5 6-3 6-4 6-4 6-2 6 0 7 3 6 7 6 8 6 7 6 18 6 19 6 18 6 14 6 10 6-4 6-7 6-10 6-15 6-18 6-25 6-26 6-34 6-24 6-3 6 4 6 4 6 6 6 8 6 10 6 10 7 10 6 9 6 7 6 6 6 1 6 0 6-4 6-8 6-10 6-14 6-18 6-6 6 2 6 3 6 4 6 4 6 4 6 6 6 4 6 3 6 3 6 1 6-1 7-1 6 11 6 11 6 11 6 9 6 8 6 10 6 2 6 0 6-1 6-2 6-3 6-6 6-8 6-11 6-11 6-11 6-10 6 7 6 8 6 5 6-2 6-4 6-3 6-4 7-3 6-4 6-4 6-5 6-5 6-6 6 0 6-1 6-2 6-3 6-2 6 0 6-1 6-1 6-1 6 0 6 0 6 5 6 7 6 8 6 11 6 12 6 12 7 13 6 5 6 0 6 1 6 0 6-6 6-8 6-8 6-8 6-8 6-7 6-5 6-2M1027 1097l6-1 6-2 6-6 6-8 6-8 6-6 6-5 6-4 6-5 6-3 6-1 7 3 6 6 6 7 6 7 6 23 6 25 6 23 6 20 6 17 6 0 6-3 6-8 6-14 6-18 6-27 6-29 6-39 6-31 6-9 6-1 6 1 6 3 6 7 6 9 6 10 7 10 6 10 6 8 6 7 6 3 6 2 6 0 6-1 6-2 6-3 6-6 6 4 6 11 6 9 6 7 6 5 6 7 6 7 6 2 6 1 6 1 6 0 6-1 7-5 6 4 6 6 6 5 6 5 6 6 6 9 6 0 6 0 6 0 6-1 6-2 6-3 6-5 6-8 6-9 6-9 6-8 6 2 6 5 6 0 6-5 6-7 6-8 6-8 7-8 6-7 6-7 6-8 6-8 6-9 6-2 6-2 6-3 6-3 6-2 6-1 6-1 6 0 6-1 6 0 6 0 6 4 6 7 6 7 6 9 6 9 6 9 7 6 6-1 6-10 6 5 6 13 6 2 6-3 6-4 6-6 6-5 6-6 6-2 6-1M1027 1085l6-2 6-3 6-7 6-8 6-9 6-6 6-5 6-4 6-4 6-3 6-1 7 3 6 6 6 5 6 7 6 26 6 28 6 26 6 24 6 20 6 4 6-1 6-6 6-12 6-18 6-28 6-31 6-42 6-34 6-14 6-5 6-3 6 1 6 5 6 7 6 9 7 9 6 9 6 9 6 6 6 4 6 2 6 2 6 3 6 4 6 7 6 6 6 16 6 20 6 16 6 12 6 9 6 9 6 11 6-1 6 0 6 0 6 0 6-3 7-6 6-3 6-1 6 1 6 1 6 3 6 8 6-1 6 0 6 1 6 1 6 1 6 1 6-1 6-4 6-5 6-5 6-4 6 1 6 1 6-3 6-6 6-11 6-11 6-11 7-10 6-10 6-9 6-9 6-9 6-10 6-3 6-3 6-2 6-3 6-1 6 1 6 1 6 0 6 1 6 0 6 1 6 4 6 6 6 6 6 7 6 7 6 6 7 3 6-7 6-17 6-3 6 10 6 1 6-3 6-4 6-5 6-4 6-4 6-2 6 0M1027 1070l6-1 6-2 6-6 6-7 6-7 6-5 6-2 6-2 6-2 6-1 6 1 7 4 6 7 6 7 6 8 6 26 6 27 6 25 6 23 6 19 6 3 6-2 6-5 6-13 6-17 6-29 6-31 6-42 6-35 6-15 6-7 6-4 6-1 6 3 6 5 6 7 7 8 6 7 6 7 6 5 6 2 6 1 6 0 6 3 6 6 6 9 6 12 6 23 6 27 6 22 6 16 6 13 6 12 6 12 6 1 6-1 6 0 6 0 6-3 7-8 6-5 6-3 6-2 6 0 6 2 6 8 6 0 6 0 6 2 6 2 6 3 6 4 6 2 6-1 6 0 6-1 6 0 6 1 6 1 6-2 6-6 6-10 6-12 6-11 7-11 6-9 6-9 6-8 6-8 6-9 6-4 6-3 6-3 6-2 6 0 6 3 6 3 6 1 6 2 6 2 6 2 6 5 6 5 6 6 6 6 6 7 6 4 7 3 6-10 6-21 6-18 6-5 6-6 6-7 6-6 6-5 6-5 6-3 6-1 6 1M1027 1055l6 1 6 0 6-4 6-4 6-4 6-1 6 2 6 1 6 1 6 2 6 3 7 6 6 9 6 10 6 10 6 22 6 23 6 21 6 18 6 15 6-1 6-5 6-8 6-13 6-18 6-28 6-30 6-40 6-33 6-13 6-6 6-4 6-2 6 2 6 5 6 6 7 6 6 6 6 5 6 2 6 0 6-3 6-3 6-2 6 3 6 6 6 9 6 23 6 29 6 25 6 19 6 15 6 14 6 14 6 2 6 1 6 1 6 0 6-2 7-7 6-3 6-2 6 1 6 1 6 3 6 9 6 1 6 1 6 2 6 3 6 4 6 4 6 3 6 1 6 1 6 2 6 3 6 3 6 3 6 0 6-2 6-7 6-10 6-9 7-9 6-7 6-7 6-5 6-6 6-8 6-4 6-4 6-5 6-2 6 0 6 4 6 2 6 2 6 2 6 3 6 2 6 5 6 4 6 5 6 6 6 5 6 3 7 1 6-14 6-24 6-31 6-14 6-11 6-9 6-6 6-6 6-5 6-3 6 0 6 3M1027 1043l6 4 6 1 6-1 6-2 6-1 6 2 6 4 6 4 6 3 6 3 6 5 7 7 6 11 6 11 6 10 6 20 6 20 6 17 6 14 6 11 6-4 6-8 6-10 6-14 6-18 6-27 6-28 6-39 6-31 6-10 6-4 6-2 6 0 6 2 6 5 6 5 7 6 6 5 6 4 6 1 6-3 6-5 6-7 6-6 6-4 6 0 6 2 6 19 6 28 6 25 6 20 6 17 6 15 6 14 6 5 6 4 6 2 6 2 6-1 7-5 6 1 6 2 6 4 6 4 6 6 6 11 6 2 6 1 6 2 6 3 6 2 6 3 6 2 6 0 6 0 6 2 6 4 6 5 6 6 6 3 6 0 6-4 6-6 6-6 7-6 6-4 6-4 6-4 6-3 6-7 6-4 6-6 6-6 6-3 6-1 6 4 6 1 6 0 6 2 6 2 6 2 6 2 6 3 6 4 6 3 6 2 6 0 7-3 6-20 6-32 6-36 6-13 6-10 6-8 6-6 6-4 6-4 6-2 6 1 6 4M1027 1041l6 4 6 3 6-1 6-1 6 0 6 2 6 4 6 4 6 3 6 3 6 5 7 7 6 10 6 11 6 10 6 19 6 20 6 18 6 14 6 11 6-5 6-8 6-10 6-15 6-19 6-26 6-28 6-38 6-29 6-9 6-2 6-1 6 1 6 4 6 6 6 6 7 6 6 5 6 4 6 1 6-3 6-7 6-9 6-10 6-9 6-5 6-5 6 14 6 25 6 24 6 21 6 18 6 17 6 16 6 7 6 6 6 4 6 3 6 1 7-2 6 3 6 5 6 6 6 6 6 8 6 12 6 3 6 1 6 1 6 1 6 1 6 2 6 0 6-2 6-1 6 1 6 3 6 5 6 7 6 4 6 2 6-2 6-4 6-5 7-3 6-3 6-2 6-2 6-2 6-5 6-4 6-5 6-6 6-4 6 0 6 3 6 1 6-1 6 0 6 1 6 0 6 1 6 1 6 0 6 1 6 0 6-4 7-8 6-26 6-43 6-38 6-7 6-8 6-7 6-5 6-4 6-4 6-2 6 2 6 4M1027 1052l6 4 6 3 6-1 6-2 6-1 6 0 6 3 6 1 6 1 6 1 6 3 7 6 6 10 6 11 6 10 6 21 6 22 6 20 6 17 6 14 6-3 6-7 6-9 6-15 6-18 6-28 6-29 6-37 6-30 6-8 6-2 6-1 6 2 6 5 6 7 6 7 7 7 6 6 6 5 6 1 6-3 6-7 6-10 6-12 6-12 6-10 6-9 6 9 6 23 6 23 6 21 6 19 6 18 6 18 6 9 6 7 6 6 6 4 6 2 7-2 6 3 6 5 6 7 6 6 6 8 6 13 6 2 6 0 6 0 6 1 6 0 6 1 6-1 6-3 6-2 6 0 6 1 6 6 6 6 6 4 6 2 6-2 6-4 6-4 7-3 6-3 6-1 6-1 6-1 6-4 6-3 6-3 6-5 6-2 6 1 6 4 6 1 6-1 6-1 6-1 6 0 6-1 6-1 6 0 6 0 6-2 6-6 7-10 6-29 6-47 6-41 6-6 6-8 6-7 6-6 6-5 6-5 6-3 6 1 6 4M1027 1076l6 4 6 3 6-1 6-2 6-2 6-2 6 0 6-1 6-2 6 0 6 1 7 5 6 9 6 11 6 11 6 21 6 23 6 22 6 19 6 16 6-3 6-6 6-8 6-13 6-18 6-28 6-28 6-36 6-28 6-10 6-3 6-2 6 2 6 4 6 7 6 8 7 8 6 6 6 5 6 2 6-2 6-6 6-9 6-12 6-14 6-12 6-12 6 5 6 19 6 20 6 20 6 18 6 17 6 19 6 9 6 7 6 5 6 4 6 2 7-3 6 2 6 3 6 5 6 6 6 6 6 12 6 1 6 0 6 0 6 1 6 0 6 0 6-1 6-3 6-3 6-1 6 1 6 5 6 6 6 4 6 2 6-3 6-4 6-5 7-3 6-3 6-1 6-1 6 0 6-3 6-1 6-1 6-3 6 0 6 1 6 5 6 0 6-2 6-1 6-2 6-1 6-1 6 0 6 1 6 1 6 0 6-2 7-6 6-25 6-41 6-40 6-11 6-11 6-10 6-7 6-7 6-7 6-5 6-1 6 2M1027 1104l6 5 6 4 6 0 6 0 6-2 6-2 6 0 6-3 6-3 6-1 6 1 7 4 6 9 6 12 6 12 6 16 6 19 6 18 6 16 6 15 6-4 6-6 6-7 6-12 6-14 6-25 6-26 6-29 6-24 6-9 6-3 6-4 6 0 6 3 6 6 6 7 7 7 6 6 6 6 6 2 6 0 6-4 6-6 6-11 6-13 6-13 6-14 6 1 6 13 6 14 6 15 6 14 6 14 6 15 6 6 6 5 6 3 6 2 6-1 7-5 6 0 6 2 6 3 6 3 6 5 6 9 6 2 6 0 6 1 6 1 6 1 6 0 6-1 6-3 6-3 6-1 6 1 6 7 6 8 6 4 6 2 6-3 6-4 6-4 7-4 6-2 6-1 6-1 6 1 6-2 6 1 6 0 6-1 6-1 6 1 6 3 6-2 6-3 6-4 6-3 6-2 6 0 6 1 6 3 6 5 6 5 6 5 7 3 6-11 6-22 6-32 6-19 6-15 6-12 6-10 6-9 6-8 6-6 6-3 6 1M1027 1126l6 6 6 6 6 4 6 2 6 2 6 0 6 2 6-3 6-2 6-1 6 1 7 3 6 9 6 12 6 10 6 8 6 10 6 10 6 10 6 10 6-8 6-6 6-6 6-7 6-9 6-20 6-18 6-21 6-15 6-4 6-3 6-5 6-2 6 1 6 4 6 6 7 7 6 5 6 6 6 4 6 1 6 0 6-2 6-6 6-10 6-12 6-14 6-5 6 4 6 6 6 6 6 6 6 8 6 10 6 1 6 0 6-1 6-2 6-6 7-10 6-2 6-1 6 0 6 1 6 3 6 6 6 1 6 2 6 3 6 2 6 2 6 1 6 0 6-2 6-1 6 0 6 2 6 10 6 12 6 7 6 3 6-1 6-2 6-4 7-2 6-2 6 0 6 1 6 1 6-1 6 2 6 0 6-2 6-3 6-1 6-1 6-5 6-7 6-6 6-6 6-4 6 0 6 2 6 5 6 8 6 10 6 11 7 13 6 2 6 0 6-17 6-21 6-16 6-13 6-10 6-9 6-8 6-6 6-3 6-1M1027 1140l6 8 6 8 6 7 6 5 6 4 6 3 6 3 6-2 6-3 6-1 6 0 7 1 6 6 6 10 6 4 6-2 6 1 6 2 6 2 6 4 6-9 6-5 6-3 6-3 6-2 6-11 6-10 6-9 6-5 6 2 6 2 6-4 6-3 6 0 6 3 6 5 7 5 6 6 6 5 6 5 6 5 6 4 6 3 6-1 6-5 6-9 6-12 6-9 6-3 6-4 6-2 6-2 6 1 6 3 6-6 6-5 6-6 6-8 6-12 7-16 6-6 6-5 6-3 6-2 6-1 6 3 6 1 6 3 6 5 6 5 6 3 6 2 6 1 6-1 6 1 6 1 6 4 6 16 6 15 6 11 6 6 6 1 6-1 6-1 7-1 6-1 6 1 6 0 6 2 6-2 6 1 6-2 6-4 6-5 6-5 6-4 6-8 6-9 6-9 6-7 6-5 6-1 6 3 6 5 6 8 6 12 6 13 7 17 6 10 6 12 6-3 6-15 6-12 6-10 6-8 6-7 6-6 6-5 6-3 6-1M1027 1144l6 9 6 9 6 7 6 6 6 4 6 3 6 2 6-3 6-4 6-4 6-3 7-2 6 1 6 2 6-6 6-9 6-5 6-4 6-4 6-2 6-5 6-2 6 1 6 2 6 4 6-2 6-1 6-2 6 5 6 11 6 9 6-1 6 0 6 1 6 3 6 5 7 5 6 6 6 6 6 6 6 6 6 7 6 8 6 5 6 0 6-5 6-8 6-7 6-7 6-8 6-9 6-6 6-4 6-2 6-11 6-10 6-11 6-12 6-17 7-21 6-11 6-8 6-7 6-6 6-4 6 0 6 0 6 3 6 6 6 6 6 4 6 2 6 1 6 0 6 1 6 1 6 5 6 18 6 18 6 13 6 7 6 3 6 0 6 0 7-1 6-1 6-1 6 0 6-1 6-4 6-1 6-4 6-6 6-7 6-7 6-5 6-8 6-8 6-6 6-6 6-4 6 1 6 4 6 5 6 9 6 10 6 12 7 14 6 8 6 8 6 4 6-5 6-6 6-6 6-5 6-5 6-5 6-3 6-2 6-1M1027 1135l6 7 6 8 6 5 6 3 6 2 6 1 6 0 6-5 6-6 6-6 6-7 7-6 6-5 6-7 6-15 6-10 6-6 6-5 6-5 6-4 6 1 6 3 6 4 6 5 6 7 6 4 6 4 6 0 6 10 6 18 6 14 6 5 6 3 6 3 6 5 6 6 7 5 6 6 6 6 6 6 6 7 6 8 6 9 6 7 6 3 6 0 6-3 6-3 6-4 6-7 6-8 6-7 6-4 6-2 6-13 6-12 6-12 6-14 6-18 7-22 6-14 6-11 6-8 6-8 6-6 6-1 6-1 6 2 6 4 6 5 6 3 6 1 6-1 6-1 6-1 6-1 6 3 6 17 6 18 6 12 6 6 6 2 6 0 6-1 7-2 6-2 6-3 6-3 6-4 6-7 6-3 6-4 6-6 6-7 6-5 6-3 6-4 6-3 6-2 6-1 6 0 6 4 6 5 6 7 6 8 6 8 6 8 7 8 6 0 6-5 6 1 6 3 6-1 6-4 6-3 6-4 6-4 6-2 6-2 6 1M1027 1110l6 6 6 5 6 2 6 1 6-1 6-1 6-2 6-4 6-7 6-6 6-7 7-7 6-6 6-11 6-19 6-4 6-1 6-2 6-1 6-2 6 5 6 6 6 6 6 5 6 6 6 4 6 3 6-3 6 7 6 19 6 16 6 7 6 4 6 4 6 6 6 5 7 6 6 5 6 5 6 4 6 5 6 5 6 6 6 4 6 2 6 1 6-1 6 2 6 2 6 0 6-2 6-3 6-1 6 2 6-11 6-10 6-9 6-11 6-15 7-19 6-11 6-9 6-7 6-7 6-5 6 0 6-3 6 0 6 2 6 2 6 1 6-2 6-2 6-4 6-4 6-4 6 0 6 14 6 16 6 10 6 3 6 1 6-1 6-3 7-3 6-3 6-4 6-4 6-6 6-7 6-3 6-3 6-4 6-4 6-2 6 0 6 1 6 1 6 2 6 2 6 2 6 6 6 6 6 6 6 6 6 6 6 3 7 1 6-9 6-18 6-6 6 8 6 1 6-2 6-2 6-3 6-3 6-2 6 0 6 1M1027 1079l6 5 6 3 6 0 6-1 6-1 6 0 6 1 6-2 6-3 6-4 6-3 7-3 6-3 6-6 6-13 6 3 6 6 6 4 6 3 6 2 6 5 6 4 6 4 6 2 6 2 6-1 6-2 6-9 6 1 6 14 6 12 6 5 6 3 6 3 6 3 6 5 7 4 6 3 6 3 6 2 6 0 6 0 6 0 6-2 6-3 6-3 6-3 6 4 6 9 6 7 6 5 6 4 6 4 6 6 6-4 6-4 6-4 6-5 6-8 7-12 6-5 6-3 6-2 6-3 6-2 6 2 6-4 6-3 6-1 6-2 6-2 6-4 6-5 6-7 6-6 6-6 6-4 6 12 6 14 6 8 6 3 6 0 6-1 6-2 7-2 6-2 6-3 6-2 6-4 6-5 6-1 6-1 6-3 6-2 6 0 6 2 6 2 6 1 6 1 6 2 6 1 6 3 6 4 6 4 6 3 6 2 6 0 7-4 6-17 6-27 6-11 6 12 6 3 6-1 6 0 6-2 6-1 6-1 6 2 6 3M1027 1054l6 4 6 4 6 0 6 0 6 1 6 3 6 5 6 3 6 3 6 2 6 2 7 4 6 5 6 4 6-1 6 7 6 9 6 7 6 6 6 3 6-2 6-2 6-3 6-3 6-4 6-8 6-9 6-13 6-5 6 7 6 8 6 1 6 1 6 1 6 3 6 3 7 2 6 3 6 1 6 0 6-3 6-4 6-5 6-8 6-8 6-7 6-7 6 4 6 13 6 11 6 10 6 9 6 9 6 10 6 2 6 2 6 2 6 2 6 0 7-4 6 3 6 3 6 3 6 1 6 1 6 4 6-6 6-6 6-6 6-5 6-6 6-7 6-7 6-10 6-8 6-8 6-4 6 11 6 13 6 9 6 4 6 1 6 1 6 1 7 0 6 1 6 1 6 0 6 1 6-2 6 1 6-1 6-2 6-3 6-1 6 2 6-1 6-3 6-2 6-1 6-2 6 0 6 1 6 1 6 2 6 0 6-3 7-7 6-19 6-32 6-14 6 12 6 3 6 1 6 0 6 0 6 0 6 1 6 4 6 6M1027 1039l6 4 6 5 6 1 6 3 6 5 6 8 6 10 6 8 6 8 6 8 6 9 7 10 6 14 6 15 6 11 6 9 6 8 6 6 6 2 6 0 6-13 6-12 6-11 6-11 6-10 6-15 6-14 6-19 6-9 6 5 6 6 6 0 6 1 6 1 6 3 6 3 7 3 6 3 6 2 6 0 6-3 6-4 6-6 6-8 6-8 6-8 6-8 6 5 6 13 6 12 6 12 6 10 6 11 6 12 6 6 6 5 6 6 6 6 6 6 7 2 6 5 6 6 6 5 6 2 6 1 6 4 6-9 6-11 6-9 6-8 6-9 6-9 6-9 6-11 6-9 6-7 6-4 6 11 6 15 6 10 6 7 6 5 6 3 6 3 7 3 6 4 6 4 6 4 6 4 6 0 6 1 6-2 6-4 6-4 6-3 6-1 6-5 6-5 6-5 6-4 6-3 6-1 6 0 6 0 6 1 6 1 6-2 7-6 6-19 6-31 6-19 6 5 6 0 6-1 6-1 6 0 6 0 6 2 6 5 6 7M1027 1031l6 5 6 5 6 3 6 5 6 8 6 12 6 14 6 13 6 12 6 13 6 13 7 16 6 19 6 25 6 19 6 8 6 7 6 2 6-1 6-5 6-23 6-21 6-18 6-18 6-17 6-21 6-18 6-24 6-13 6 4 6 6 6 2 6 2 6 3 6 5 6 4 7 5 6 4 6 4 6 1 6 0 6-2 6-2 6-3 6-4 6-3 6-2 6 8 6 14 6 13 6 11 6 10 6 11 6 13 6 5 6 5 6 6 6 7 6 7 7 1 6 2 6 2 6 1 6-2 6-3 6 0 6-13 6-14 6-11 6-10 6-10 6-9 6-10 6-10 6-8 6-5 6-1 6 14 6 17 6 13 6 10 6 7 6 6 6 4 7 5 6 5 6 6 6 5 6 4 6 0 6 0 6-4 6-7 6-7 6-5 6-4 6-6 6-7 6-6 6-4 6-2 6 0 6 2 6 2 6 4 6 4 6 2 7-1 6-15 6-26 6-24 6-7 6-6 6-5 6-4 6-2 6-2 6 1 6 4 6 6"/><path fill="none" stroke="url(#Ges)" stroke-width="2.4" d="M1027 1031l6 5 6 5 6 3 6 1 6-1 6-2 6-2 6-2 6-2 6-2 6-1 7 3 6 6 6 5 6 2 6 0 6-1 6-2 6-1 6-2 6-2 6-2 6-1 6 0 6 0 6 0 6-2 6-11 6-18 6-11 6-7 6-4 6-1 6 3 6 5 6 6 7 6 6 6 6 5 6 2 6-1 6-5 6-7 6-6 6-6 6-5 6-5 6-3 6 0 6 3 6 5 6 5 6 5 6 6 6 7 6 5 6 4 6 0 6-1 7-2 6-3 6-3 6-5 6-6 6-5 6-4 6-1 6 4 6 6 6 6 6 3 6 2 6 1 6 0 6 1 6 1 6 4 6 10 6 11 6 6 6-2 6-3 6-3 6-2 7-2 6-1 6-2 6-1 6-1 6 0 6-1 6-2 6-3 6-3 6-2 6-1 6-1 6 0 6-1 6 0 6 0 6 0 6 0 6 1 6 3 6 5 6 5 7 4 6 3 6 1 6-4 6-6 6-8 6-7 6-6 6-5 6-5 6-3 6 0 6 2M1027 1151l6 7 6 7 6 6 6 5 6 3 6 3 6 2 6 1 6 1 6 1 6 1 7 2 6 6 6 9 6 8 6 8 6 7 6 2 6-1 6-4 6-5 6-6 6-7 6-9 6-9 6-8 6-6 6-6 6-4 6-3 6-1 6-1 6 0 6 1 6 3 6 5 7 5 6 6 6 6 6 6 6 6 6 7 6 8 6 7 6 3 6 0 6-3 6-3 6-4 6-7 6-8 6-7 6-4 6-2 6 0 6-1 6 0 6 0 6 1 7 1 6 2 6 2 6 1 6-2 6-3 6 0 6 0 6 0 6 0 6 1 6 0 6 1 6 0 6 1 6 1 6 2 6 3 6 3 6 3 6 3 6 0 6-2 6-4 6-5 7-3 6-3 6-2 6-2 6-1 6-1 6 0 6-1 6-1 6-2 6-2 6-2 6-2 6-1 6-1 6-1 6 0 6-1 6-1 6 0 6 0 6-1 6 0 7 0 6 0 6 0 6 0 6 0 6 0 6 0 6-2 6-1 6-2 6 0 6 0 6 0"/></g><g transform="scale(0.25)"><path fill="url(#Ghf)" d="M1027 1755l6-5 6-3 6 0 6 4 6 9 6 10 6 7 6 5 6 3 6 0 6 0 7-2 6-2 6-5 6-9 6-14 6-15 6-12 6-6 6-3 6 0 6 3 6 7 6 6 6 3 6 0 6 0 6 0 6-3 6-8 6-13 6-11 6-4 6 3 6 6 6 5 7 0 6-13 6-20 6-15 6-12 6-8 6-2 6 5 6 8 6 12 6 20 6 23 6 16 6 11 6 8 6 4 6 0 6-5 6-6 6-6 6-6 6-6 6-8 7-8 6-5 6 1 6 11 6 15 6 9 6 2 6-1 6-1 6-1 6-3 6-8 6-5 6 0 6 1 6 1 6 0 6 0 6 1 6 3 6 5 6 5 6 4 6 4 6 3 7 3 6 3 6 3 6 2 6 2 6 2 6 2 6 1 6 1 6 1 6 0 6 0 6-1 6-2 6-1 6 1 6 2 6 5 6 6 6 4 6 2 6-1 6-1 7-3 6-3 6-5 6-13 6-19 6-18 6-11 6-6 6-3 6 0 6 4 6 8 6 9 0 250-6-10-6-11-6-8-6-4-6-1-6-2-6-1-6 0-6-1-6 0-6 3-6 8-7 10-6 10-6 5-6 1-6 0-6 0-6 0-6 0-6 0-6 0-6 1-6 1-6 3-6 14-6 25-6 14-6 4-6 1-6 5-6 6-6 3-6-7-6-14-7-12-6-3-6 1-6-5-6-16-6-19-6-14-6-9-6-6-6-4-6-2-6 1-6 6-6 8-6 6-6-2-6-8-6-7-6-3-6-1-6-1-6 0-6 0-6 0-6 1-7 4-6 8-6 4-6-8-6-20-6-17-6-13-6-10-6-6-6-2-6 1-6 4-6 4-6 3-6 1-6-1-6-2-6-1-6 0-6 0-6 0-6 1-6 0-7 1-6 5-6 18-6 20-6 8-6 4-6 6-6 11-6 14-6 14-6 8-6 5-6 4-6 2-6 1-6-2-6-4-6-5-6-5-6-3-6-3-6-1-6-2-6-1-6 0-7 1-6 1-6 2-6 2-6 0-6 0-6-2-6-3-6-3-6-7-6-10-6-11z"/><path fill="none" stroke="url(#Ghs)" stroke-width="1.2" d="M1027 1766l6-2 6-2 6 1 6 5 6 9 6 10 6 8 6 5 6 4 6 1 6 0 7-1 6-2 6-4 6-8 6-13 6-13 6-7 6-1 6 2 6 4 6 8 6 11 6 10 6 7 6 4 6 11 6 5 6-2 6-8 6-11 6-13 6-14 6-14 6-10 6-2 7-4 6-15 6-15 6-2 6 3 6 8 6 10 6 12 6 12 6 11 6 11 6 12 6 7 6 4 6 4 6 12 6 11 6 9 6 10 6 8 6-4 6-18 6-27 7-35 6-19 6-13 6-4 6 1 6 1 6 2 6-1 6-1 6-1 6-3 6-8 6-5 6 0 6 1 6 1 6 6 6 8 6 7 6 9 6 9 6 7 6 3 6-3 6-7 7-7 6-1 6 3 6 30 6 42 6 33 6 29 6 14 6-2 6-12 6-10 6-6 6-6 6 2 6 1 6 1 6 2 6 4 6 4 6 4 6 2 6 0 6-2 7-4 6-8 6-12 6-13 6-16 6-16 6-12 6-6 6-1 6 4 6 11 6 17 6 17M1027 1755l6-5 6-3 6 0 6 4 6 9 6 10 6 7 6 5 6 3 6 0 6 0 7-2 6-2 6-5 6-9 6-14 6-15 6-7 6-2 6 2 6 3 6 8 6 11 6 11 6 6 6 4 6 13 6 7 6 1 6-6 6-10 6-12 6-12 6-10 6-8 6 0 7-3 6-13 6-15 6-2 6 4 6 8 6 11 6 13 6 13 6 12 6 13 6 12 6 9 6 6 6 7 6 14 6 14 6 13 6 15 6 15 6 1 6-15 6-25 7-31 6-21 6-16 6-8 6-3 6-1 6-1 6-1 6-1 6 0 6-3 6-11 6-11 6-4 6-2 6-2 6 6 6 7 6 8 6 10 6 12 6 10 6 7 6-1 6-5 7-6 6-1 6 0 6 25 6 35 6 28 6 26 6 11 6-2 6-12 6-8 6-4 6-3 6 4 6 3 6 3 6 5 6 5 6 6 6 4 6 3 6 0 6-3 7-7 6-10 6-15 6-16 6-20 6-21 6-16 6-9 6-4 6 3 6 12 6 18 6 19M1027 1757l6-4 6-1 6 3 6 8 6 14 6 14 6 12 6 7 6 3 6 0 6-4 7-6 6-6 6-9 6-13 6-19 6-18 6-12 6-6 6-3 6 0 6 3 6 8 6 8 6 4 6 1 6 13 6 10 6 4 6-6 6-11 6-12 6-10 6-8 6-6 6 2 7 0 6-13 6-15 6 0 6 5 6 10 6 13 6 15 6 14 6 14 6 15 6 15 6 10 6 8 6 9 6 16 6 16 6 16 6 20 6 19 6 6 6-11 6-21 7-26 6-20 6-17 6-10 6-6 6-5 6-3 6-2 6-2 6-2 6-4 6-16 6-18 6-10 6-6 6-5 6 3 6 6 6 7 6 9 6 11 6 11 6 8 6 2 6-2 7-2 6 3 6 3 6 26 6 36 6 27 6 25 6 10 6-4 6-14 6-9 6-4 6-3 6 5 6 3 6 4 6 4 6 6 6 5 6 4 6 2 6-1 6-6 7-9 6-13 6-18 6-20 6-24 6-25 6-20 6-11 6-4 6 5 6 15 6 22 6 25M1027 1775l6 1 6 5 6 9 6 15 6 20 6 20 6 16 6 11 6 4 6-2 6-9 7-12 6-13 6-15 6-18 6-23 6-23 6-17 6-11 6-7 6-4 6 0 6 5 6 6 6 3 6 0 6 13 6 10 6 4 6-6 6-11 6-13 6-11 6-7 6-6 6 2 7 0 6-13 6-15 6 1 6 6 6 11 6 14 6 15 6 16 6 15 6 15 6 15 6 10 6 8 6 8 6 16 6 16 6 16 6 19 6 20 6 8 6-9 6-17 7-22 6-16 6-14 6-9 6-5 6-4 6-3 6-3 6-1 6-2 6-6 6-19 6-25 6-15 6-11 6-8 6-1 6 4 6 4 6 6 6 8 6 8 6 7 6 3 6 1 7 1 6 8 6 9 6 31 6 39 6 29 6 25 6 8 6-7 6-15 6-11 6-6 6-5 6 4 6 3 6 3 6 4 6 5 6 5 6 3 6 1 6-3 6-7 7-10 6-15 6-19 6-22 6-26 6-26 6-19 6-9 6 1 6 10 6 21 6 29 6 32M1027 1806l6 6 6 11 6 15 6 20 6 24 6 23 6 19 6 12 6 4 6-4 6-14 7-17 6-18 6-19 6-21 6-24 6-25 6-19 6-12 6-7 6-4 6 1 6 6 6 7 6 4 6 3 6 13 6 7 6 1 6-6 6-9 6-11 6-12 6-11 6-8 6 0 7-2 6-13 6-15 6 0 6 4 6 10 6 11 6 14 6 14 6 12 6 13 6 12 6 7 6 6 6 6 6 13 6 13 6 13 6 16 6 17 6 5 6-8 6-16 7-19 6-10 6-8 6-4 6-1 6 0 6-1 6 0 6 1 6 0 6-5 6-22 6-32 6-21 6-16 6-13 6-3 6 0 6 1 6 3 6 5 6 5 6 4 6 4 6 3 7 3 6 12 6 13 6 35 6 41 6 30 6 24 6 5 6-9 6-17 6-13 6-9 6-6 6 3 6 3 6 4 6 4 6 6 6 6 6 3 6 2 6-3 6-6 7-9 6-13 6-16 6-20 6-23 6-22 6-15 6-2 6 7 6 15 6 27 6 35 6 35M1027 1842l6 9 6 13 6 15 6 20 6 21 6 21 6 17 6 10 6 2 6-6 6-15 7-18 6-19 6-19 6-20 6-21 6-21 6-17 6-9 6-4 6 1 6 5 6 10 6 11 6 8 6 8 6 11 6 3 6-2 6-5 6-7 6-6 6-11 6-14 6-11 6-2 7-5 6-12 6-12 6-3 6 1 6 4 6 8 6 8 6 9 6 7 6 8 6 6 6 4 6 2 6 3 6 10 6 10 6 10 6 13 6 13 6 3 6-9 6-14 7-16 6-5 6-1 6 1 6 4 6 3 6 3 6 3 6 4 6 3 6-3 6-25 6-39 6-28 6-21 6-16 6-7 6-2 6 0 6 3 6 5 6 6 6 6 6 5 6 7 7 6 6 15 6 16 6 34 6 37 6 26 6 19 6 1 6-14 6-21 6-15 6-11 6-9 6 3 6 3 6 5 6 5 6 8 6 7 6 5 6 3 6 0 6-3 7-6 6-9 6-13 6-15 6-17 6-15 6-8 6 3 6 11 6 18 6 28 6 34 6 35M1027 1878l6 8 6 9 6 10 6 12 6 13 6 12 6 10 6 4 6-1 6-6 6-14 7-15 6-14 6-15 6-15 6-16 6-16 6-11 6-4 6 2 6 6 6 10 6 13 6 12 6 11 6 11 6 9 6 0 6-4 6-5 6-3 6 0 6-8 6-14 6-11 6-2 7-4 6-8 6-8 6-4 6-2 6 0 6 2 6 3 6 4 6 1 6 2 6 0 6 0 6-1 6 2 6 7 6 9 6 9 6 12 6 13 6 3 6-8 6-12 7-11 6-1 6 1 6 5 6 5 6 5 6 4 6 5 6 7 6 6 6-1 6-26 6-47 6-35 6-24 6-18 6-8 6-1 6 1 6 7 6 11 6 13 6 15 6 12 6 11 7 14 6 20 6 17 6 26 6 24 6 16 6 11 6-10 6-23 6-29 6-21 6-15 6-12 6 1 6 2 6 4 6 6 6 8 6 9 6 6 6 5 6 2 6-1 7-3 6-6 6-9 6-11 6-13 6-10 6-3 6 5 6 11 6 17 6 26 6 29 6 30M1027 1912l6 3 6 3 6 1 6 0 6 2 6 1 6 0 6-2 6-5 6-6 6-10 7-9 6-9 6-8 6-9 6-10 6-10 6-5 6 1 6 5 6 9 6 12 6 12 6 11 6 9 6 8 6 7 6-2 6-5 6-5 6 1 6 3 6-4 6-10 6-7 6 1 7-1 6-3 6-3 6-3 6-2 6-1 6 0 6 0 6 0 6-1 6-3 6-3 6-3 6-2 6 1 6 7 6 9 6 10 6 15 6 16 6 6 6-6 6-9 7-7 6 0 6 2 6 3 6 3 6 4 6 3 6 4 6 8 6 8 6 1 6-27 6-54 6-38 6-25 6-18 6-7 6 1 6 7 6 13 6 20 6 26 6 28 6 20 6 16 7 22 6 24 6 17 6 12 6 6 6 1 6-1 6-23 6-35 6-39 6-27 6-20 6-17 6-2 6 1 6 2 6 6 6 8 6 8 6 7 6 5 6 3 6 1 7-1 6-4 6-7 6-9 6-10 6-9 6-3 6 5 6 8 6 13 6 20 6 24 6 23M1027 1931l6-2 6-3 6-7 6-8 6-8 6-7 6-7 6-7 6-6 6-5 6-5 7-3 6-2 6-2 6-4 6-5 6-5 6-1 6 4 6 6 6 9 6 10 6 9 6 7 6 5 6 4 6 4 6-4 6-5 6-5 6 0 6 4 6-1 6-8 6-4 6 5 7 0 6 0 6-1 6 0 6 0 6 0 6 1 6 2 6 1 6-1 6-3 6-4 6-4 6-1 6 2 6 6 6 10 6 13 6 17 6 20 6 8 6-4 6-8 7-4 6-1 6 0 6 0 6 0 6 1 6 1 6 3 6 7 6 8 6 2 6-27 6-55 6-38 6-24 6-16 6-3 6 4 6 11 6 19 6 28 6 35 6 38 6 23 6 17 7 23 6 24 6 12 6-2 6-10 6-11 6-11 6-32 6-43 6-42 6-31 6-24 6-19 6-3 6 0 6 3 6 5 6 8 6 9 6 8 6 5 6 5 6 2 7 1 6-1 6-5 6-8 6-10 6-9 6-4 6 1 6 5 6 8 6 14 6 17 6 17M1027 1919l6-5 6-7 6-10 6-11 6-10 6-8 6-6 6-6 6-3 6-1 6 1 7 2 6 3 6 2 6 1 6-2 6-2 6 1 6 4 6 6 6 7 6 8 6 6 6 3 6 2 6 2 6 2 6-5 6-6 6-5 6-1 6 2 6-3 6-9 6-5 6 2 7 0 6-3 6-3 6-1 6 1 6 2 6 4 6 5 6 4 6 2 6-1 6-2 6-2 6-1 6 3 6 6 6 10 6 12 6 16 6 18 6 7 6-5 6-9 7-6 6-2 6-1 6 0 6-1 6 1 6 0 6 3 6 6 6 8 6 2 6-24 6-49 6-33 6-20 6-12 6 0 6 8 6 13 6 22 6 32 6 37 6 38 6 19 6 11 7 16 6 14 6 0 6-11 6-15 6-16 6-14 6-33 6-39 6-38 6-28 6-22 6-18 6 0 6 3 6 4 6 8 6 10 6 11 6 10 6 7 6 7 6 5 7 4 6 1 6-3 6-6 6-8 6-9 6-6 6-2 6 0 6 2 6 8 6 12 6 12M1027 1875l6-5 6-7 6-7 6-7 6-3 6-1 6 1 6 2 6 4 6 6 6 5 7 6 6 5 6 4 6 2 6 0 6-1 6 0 6 4 6 5 6 6 6 6 6 5 6 2 6 2 6 2 6 1 6-5 6-7 6-5 6-2 6 1 6-6 6-14 6-10 6-3 7-5 6-9 6-9 6-4 6 0 6 2 6 4 6 7 6 6 6 5 6 2 6 0 6-1 6-1 6 1 6 6 6 7 6 7 6 10 6 11 6 0 6-10 6-14 7-13 6-2 6 1 6 3 6 4 6 3 6 3 6 3 6 6 6 7 6 3 6-18 6-36 6-23 6-12 6-6 6 5 6 10 6 16 6 22 6 31 6 34 6 32 6 11 6 1 7 3 6 0 6-13 6-15 6-12 6-12 6-12 6-25 6-29 6-28 6-20 6-17 6-12 6 5 6 6 6 8 6 11 6 13 6 13 6 12 6 11 6 10 6 7 7 6 6 3 6-2 6-4 6-6 6-7 6-6 6-4 6-5 6-2 6 4 6 9 6 9M1027 1824l6-3 6-3 6-2 6 2 6 8 6 10 6 11 6 12 6 11 6 11 6 7 7 6 6 4 6 3 6 1 6-1 6-2 6-1 6 2 6 4 6 5 6 7 6 5 6 3 6 3 6 4 6 2 6-5 6-7 6-5 6 0 6 1 6-8 6-17 6-15 6-8 7-10 6-13 6-14 6-9 6-5 6-1 6 3 6 6 6 5 6 4 6 3 6 2 6-1 6-3 6-1 6 4 6 3 6 1 6 2 6 1 6-8 6-17 6-21 7-22 6-4 6 3 6 8 6 10 6 8 6 6 6 5 6 6 6 7 6 5 6-8 6-20 6-10 6-3 6 2 6 9 6 13 6 17 6 22 6 28 6 29 6 25 6 1 6-8 7-9 6-12 6-23 6-15 6-4 6-6 6-7 6-14 6-18 6-18 6-13 6-10 6-7 6 9 6 10 6 11 6 13 6 15 6 15 6 14 6 12 6 12 6 9 7 6 6 3 6-2 6-3 6-4 6-5 6-6 6-5 6-6 6-3 6 3 6 8 6 9M1027 1797l6 0 6 1 6 5 6 9 6 15 6 18 6 18 6 16 6 14 6 11 6 6 7 3 6 1 6 0 6-2 6-3 6-3 6-3 6 1 6 3 6 6 6 7 6 5 6 4 6 5 6 6 6 4 6-5 6-6 6-4 6 2 6 3 6-8 6-19 6-17 6-9 7-13 6-17 6-17 6-13 6-9 6-5 6-1 6 2 6 4 6 2 6 3 6 3 6-1 6-2 6-3 6 4 6 1 6-1 6-4 6-6 6-14 6-22 6-27 7-30 6-5 6 2 6 12 6 14 6 12 6 10 6 8 6 9 6 10 6 12 6 2 6-6 6 0 6 4 6 6 6 12 6 13 6 17 6 20 6 25 6 25 6 16 6-7 6-18 7-20 6-23 6-30 6-15 6 1 6-1 6-1 6-7 6-9 6-10 6-7 6-6 6-2 6 13 6 12 6 13 6 15 6 16 6 16 6 15 6 14 6 12 6 9 7 6 6 2 6-4 6-2 6-3 6-4 6-4 6-4 6-5 6-2 6 4 6 9 6 10M1027 1800l6 2 6 6 6 8 6 12 6 17 6 19 6 18 6 14 6 12 6 7 6 2 7-1 6-1 6-3 6-3 6-5 6-5 6-3 6 1 6 3 6 6 6 8 6 6 6 5 6 6 6 7 6 5 6-4 6-6 6-3 6 2 6 3 6-7 6-20 6-18 6-10 7-15 6-19 6-21 6-17 6-13 6-8 6-3 6 1 6 2 6 4 6 5 6 6 6 2 6 0 6-1 6 6 6 4 6 1 6-2 6-5 6-15 6-23 6-29 7-34 6-8 6 1 6 11 6 15 6 14 6 13 6 12 6 15 6 20 6 23 6 15 6-1 6 2 6 5 6 7 6 10 6 11 6 14 6 18 6 22 6 19 6 9 6-19 6-30 7-32 6-34 6-41 6-18 6 3 6 1 6 2 6-2 6-2 6-4 6-2 6-2 6 0 6 16 6 15 6 15 6 17 6 17 6 18 6 15 6 15 6 12 6 10 7 6 6 2 6-4 6-2 6-2 6-2 6-2 6-2 6-3 6 0 6 5 6 10 6 10M1027 1814l6 5 6 8 6 9 6 12 6 15 6 15 6 13 6 10 6 6 6 3 6-2 7-3 6-2 6-3 6-4 6-4 6-4 6-3 6 2 6 6 6 7 6 10 6 8 6 6 6 7 6 7 6 4 6-4 6-7 6-4 6 0 6 1 6-10 6-22 6-19 6-13 7-17 6-23 6-26 6-19 6-15 6-9 6-4 6 2 6 5 6 6 6 10 6 11 6 7 6 5 6 3 6 11 6 9 6 6 6 5 6 2 6-9 6-21 6-27 7-32 6-11 6-3 6 7 6 12 6 13 6 15 6 16 6 22 6 29 6 36 6 25 6-4 6-1 6 2 6 5 6 6 6 8 6 11 6 15 6 19 6 16 6 2 6-28 6-41 7-42 6-45 6-50 6-23 6 2 6 2 6 2 6 1 6 1 6 1 6 0 6 0 6 1 6 18 6 16 6 17 6 17 6 18 6 18 6 16 6 15 6 13 6 10 7 8 6 2 6-3 6 0 6 1 6 0 6 1 6 1 6-1 6 2 6 6 6 10 6 10M1027 1823l6 6 6 8 6 8 6 10 6 11 6 10 6 8 6 4 6 2 6 0 6-3 7-2 6-1 6-1 6-2 6-2 6-2 6 1 6 6 6 8 6 11 6 12 6 11 6 8 6 8 6 7 6 3 6-7 6-9 6-8 6-3 6-3 6-14 6-25 6-23 6-16 7-19 6-26 6-30 6-22 6-15 6-9 6-3 6 4 6 7 6 10 6 15 6 16 6 11 6 8 6 8 6 15 6 14 6 12 6 11 6 11 6-3 6-15 6-24 7-29 6-13 6-6 6 3 6 8 6 10 6 13 6 17 6 24 6 34 6 42 6 26 6-8 6-6 6-1 6 2 6 4 6 6 6 9 6 14 6 19 6 16 6 2 6-31 6-42 7-44 6-46 6-51 6-24 6 0 6 1 6 2 6 1 6 0 6-1 6-1 6-2 6 0 6 16 6 14 6 14 6 16 6 16 6 17 6 15 6 14 6 12 6 10 7 8 6 3 6-2 6 1 6 2 6 3 6 3 6 4 6 1 6 4 6 8 6 11 6 10M1027 1824l6 7 6 7 6 6 6 6 6 8 6 6 6 3 6 1 6 0 6-1 6 0 7 0 6 2 6 3 6 2 6 2 6 2 6 5 6 10 6 12 6 14 6 16 6 12 6 9 6 7 6 7 6 0 6-11 6-14 6-11 6-8 6-7 6-18 6-28 6-26 6-17 7-20 6-28 6-31 6-22 6-15 6-8 6-2 6 5 6 8 6 11 6 17 6 18 6 13 6 10 6 10 6 18 6 16 6 15 6 17 6 16 6 3 6-11 6-20 7-25 6-13 6-8 6-1 6 5 6 6 6 10 6 13 6 21 6 30 6 37 6 20 6-13 6-9 6-3 6 2 6 4 6 6 6 10 6 17 6 22 6 19 6 9 6-24 6-34 7-34 6-37 6-42 6-22 6-2 6-1 6 1 6-4 6-6 6-9 6-6 6-7 6-4 6 10 6 10 6 9 6 12 6 12 6 13 6 12 6 10 6 9 6 8 7 6 6 3 6-1 6 1 6 0 6 3 6 4 6 6 6 6 6 7 6 11 6 15 6 12M1027 1836l6 6 6 5 6 4 6 3 6 4 6 3 6 1 6-1 6 1 6 2 6 3 7 4 6 7 6 7 6 6 6 6 6 7 6 8 6 12 6 14 6 15 6 15 6 10 6 6 6 4 6 3 6-6 6-18 6-19 6-15 6-11 6-11 6-21 6-29 6-25 6-16 7-19 6-26 6-30 6-19 6-13 6-7 6-1 6 5 6 9 6 10 6 16 6 18 6 13 6 10 6 10 6 18 6 18 6 17 6 19 6 19 6 8 6-8 6-16 7-21 6-12 6-9 6-4 6 1 6 2 6 5 6 8 6 15 6 21 6 25 6 10 6-17 6-11 6-3 6 2 6 5 6 10 6 13 6 20 6 27 6 27 6 19 6-10 6-22 7-20 6-22 6-31 6-21 6-7 6-5 6-3 6-12 6-17 6-18 6-14 6-12 6-10 6 4 6 4 6 5 6 6 6 9 6 8 6 8 6 6 6 6 6 5 7 4 6 3 6 0 6-1 6-1 6 1 6 6 6 10 6 11 6 12 6 17 6 18 6 17M1027 1867l6 7 6 6 6 3 6 1 6 2 6 1 6 1 6 0 6 3 6 4 6 5 7 6 6 8 6 9 6 8 6 9 6 9 6 8 6 11 6 12 6 11 6 11 6 2 6-2 6-4 6-5 6-14 6-24 6-23 6-19 6-15 6-14 6-22 6-26 6-21 6-13 7-14 6-23 6-25 6-15 6-9 6-3 6 2 6 6 6 9 6 10 6 15 6 16 6 12 6 10 6 9 6 19 6 18 6 17 6 21 6 22 6 10 6-5 6-14 7-19 6-12 6-11 6-6 6-3 6-2 6 1 6 3 6 8 6 12 6 15 6-1 6-19 6-11 6-3 6 2 6 9 6 12 6 18 6 24 6 33 6 34 6 30 6 1 6-10 7-8 6-12 6-23 6-22 6-15 6-11 6-10 6-21 6-25 6-26 6-20 6-17 6-16 6 1 6 0 6 2 6 3 6 6 6 6 6 5 6 3 6 4 6 4 7 4 6 4 6 2 6 0 6 0 6 3 6 9 6 16 6 16 6 17 6 21 6 22 6 19M1027 1910l6 9 6 7 6 5 6 2 6 1 6 2 6 1 6 2 6 3 6 4 6 3 7 4 6 6 6 6 6 7 6 7 6 7 6 3 6 5 6 5 6 4 6 2 6-6 6-12 6-13 6-15 6-19 6-26 6-24 6-21 6-18 6-17 6-20 6-21 6-16 6-7 7-8 6-19 6-21 6-9 6-4 6 1 6 5 6 9 6 11 6 11 6 16 6 16 6 12 6 10 6 10 6 18 6 18 6 19 6 22 6 24 6 11 6-5 6-15 7-18 6-14 6-13 6-10 6-6 6-4 6-2 6-1 6 3 6 7 6 6 6-6 6-20 6-9 6-2 6 3 6 11 6 15 6 20 6 27 6 36 6 39 6 35 6 9 6-4 7-1 6-6 6-19 6-24 6-18 6-15 6-13 6-25 6-30 6-30 6-23 6-20 6-17 6-2 6-1 6 1 6 2 6 5 6 6 6 4 6 3 6 3 6 4 7 5 6 6 6 5 6 3 6 2 6 8 6 14 6 19 6 20 6 20 6 22 6 22 6 18M1027 1941l6 11 6 9 6 7 6 3 6 2 6 2 6 2 6 1 6 2 6 1 6-1 7-1 6 0 6 1 6 2 6 1 6 1 6-3 6-3 6-2 6-4 6-6 6-13 6-17 6-19 6-21 6-19 6-21 6-19 6-20 6-19 6-17 6-17 6-14 6-11 6-2 7-5 6-17 6-20 6-7 6-1 6 3 6 7 6 11 6 13 6 13 6 18 6 18 6 14 6 11 6 11 6 20 6 20 6 20 6 23 6 25 6 12 6-5 6-15 7-18 6-16 6-14 6-11 6-7 6-5 6-4 6-2 6 1 6 3 6 3 6-9 6-19 6-9 6-2 6 3 6 12 6 15 6 20 6 27 6 35 6 39 6 35 6 9 6-1 7 1 6-4 6-16 6-19 6-14 6-13 6-10 6-23 6-29 6-29 6-23 6-19 6-17 6-1 6-1 6-1 6 3 6 4 6 5 6 4 6 2 6 4 6 3 7 6 6 6 6 6 6 3 6 5 6 10 6 16 6 21 6 19 6 19 6 19 6 20 6 16M1027 1949l6 11 6 10 6 7 6 3 6 3 6 2 6 0 6 0 6-2 6-2 6-6 7-6 6-4 6-3 6-4 6-4 6-6 6-9 6-7 6-7 6-9 6-10 6-14 6-17 6-19 6-19 6-13 6-12 6-12 6-15 6-15 6-15 6-12 6-10 6-8 6 0 7-5 6-19 6-23 6-10 6-4 6 1 6 6 6 9 6 13 6 14 6 20 6 22 6 16 6 13 6 12 6 22 6 21 6 21 6 24 6 27 6 14 6-2 6-12 7-16 6-13 6-12 6-10 6-7 6-5 6-3 6-2 6 2 6 5 6 4 6-10 6-22 6-12 6-4 6 0 6 9 6 13 6 17 6 23 6 31 6 33 6 30 6 7 6-2 7-1 6-2 6-12 6-10 6-5 6-4 6-1 6-16 6-24 6-27 6-20 6-16 6-14 6-2 6-1 6 0 6 1 6 4 6 4 6 3 6 1 6 2 6 2 7 3 6 3 6 3 6 1 6 3 6 7 6 12 6 17 6 16 6 15 6 18 6 17 6 14M1027 1943l6 10 6 9 6 6 6 3 6 2 6 0 6-2 6-4 6-5 6-6 6-9 7-8 6-7 6-6 6-6 6-8 6-10 6-10 6-9 6-7 6-9 6-9 6-10 6-12 6-14 6-15 6-4 6-4 6-5 6-9 6-10 6-10 6-9 6-9 6-8 6-3 7-7 6-23 6-28 6-15 6-10 6-5 6 2 6 6 6 11 6 13 6 21 6 24 6 17 6 14 6 12 6 23 6 22 6 21 6 25 6 27 6 17 6 3 6-7 7-10 6-7 6-7 6-6 6-4 6-3 6-1 6 1 6 6 6 8 6 8 6-10 6-29 6-18 6-10 6-5 6 4 6 7 6 12 6 18 6 23 6 26 6 21 6 2 6-6 7-3 6-2 6-8 6 0 6 7 6 7 6 9 6-7 6-18 6-23 6-17 6-11 6-10 6-1 6 0 6 0 6 1 6 3 6 3 6 2 6 1 6 0 6-1 7-1 6-2 6-3 6-3 6-3 6 0 6 6 6 11 6 11 6 13 6 16 6 18 6 14M1027 1933l6 8 6 9 6 5 6 2 6 1 6-2 6-5 6-7 6-10 6-10 6-12 7-10 6-7 6-7 6-7 6-9 6-11 6-9 6-6 6-5 6-5 6-5 6-5 6-6 6-8 6-8 6 2 6 1 6-2 6-5 6-6 6-6 6-8 6-11 6-10 6-6 7-11 6-25 6-32 6-20 6-14 6-8 6-2 6 5 6 8 6 12 6 20 6 24 6 17 6 13 6 10 6 23 6 21 6 19 6 23 6 26 6 19 6 7 6-1 7-3 6 1 6 0 6-1 6 1 6 0 6 2 6 4 6 10 6 13 6 12 6-11 6-38 6-27 6-16 6-11 6-3 6 2 6 5 6 11 6 16 6 16 6 12 6-4 6-9 7-6 6-4 6-5 6 11 6 19 6 16 6 16 6 1 6-11 6-18 6-13 6-8 6-5 6 2 6 1 6 2 6 3 6 3 6 4 6 3 6 1 6 0 6-2 7-4 6-5 6-8 6-7 6-8 6-4 6 1 6 6 6 9 6 11 6 16 6 19 6 16M1027 1918l6 8 6 7 6 5 6 2 6 0 6-4 6-7 6-11 6-13 6-13 6-14 7-10 6-8 6-6 6-7 6-10 6-9 6-7 6-3 6-1 6-1 6-1 6 0 6 0 6-4 6-4 6 5 6 3 6-1 6-4 6-6 6-7 6-9 6-13 6-12 6-7 7-12 6-26 6-32 6-20 6-13 6-7 6-2 6 5 6 8 6 11 6 19 6 22 6 16 6 11 6 8 6 20 6 18 6 17 6 19 6 24 6 19 6 9 6 3 7 2 6 8 6 6 6 5 6 4 6 4 6 4 6 6 6 12 6 16 6 12 6-13 6-45 6-34 6-22 6-16 6-8 6-4 6 1 6 5 6 9 6 9 6 5 6-6 6-10 7-8 6-2 6-2 6 19 6 28 6 23 6 20 6 6 6-8 6-15 6-10 6-5 6-4 6 5 6 4 6 4 6 6 6 6 6 6 6 5 6 3 6 1 6-1 7-4 6-6 6-9 6-8 6-7 6-5 6 0 6 5 6 7 6 11 6 16 6 18 6 18M1027 1896l6 6 6 6 6 4 6 2 6-1 6-3 6-7 6-11 6-14 6-13 6-13 7-10 6-6 6-5 6-6 6-9 6-8 6-5 6 1 6 2 6 2 6 3 6 4 6 2 6-2 6-2 6 5 6 1 6-3 6-6 6-9 6-10 6-12 6-14 6-13 6-7 7-11 6-24 6-30 6-15 6-9 6-2 6 2 6 8 6 10 6 12 6 18 6 19 6 14 6 8 6 6 6 18 6 16 6 14 6 16 6 21 6 16 6 9 6 3 7 2 6 10 6 9 6 8 6 6 6 5 6 5 6 7 6 11 6 15 6 10 6-17 6-48 6-36 6-25 6-19 6-11 6-5 6-2 6 2 6 6 6 6 6 4 6-4 6-5 7-3 6 4 6 6 6 26 6 33 6 25 6 22 6 4 6-8 6-17 6-12 6-5 6-3 6 5 6 5 6 6 6 7 6 7 6 8 6 7 6 6 6 3 6 0 7-2 6-5 6-9 6-6 6-5 6-3 6 1 6 4 6 6 6 9 6 14 6 17 6 15M1027 1869l6 4 6 3 6 2 6 1 6 1 6-1 6-4 6-8 6-10 6-9 6-8 7-6 6-3 6-2 6-4 6-7 6-5 6-2 6 3 6 5 6 5 6 6 6 5 6 3 6-1 6-2 6 2 6-3 6-6 6-10 6-12 6-13 6-15 6-17 6-13 6-7 7-9 6-22 6-25 6-11 6-4 6 2 6 7 6 11 6 12 6 13 6 17 6 17 6 11 6 7 6 5 6 16 6 13 6 12 6 15 6 18 6 12 6 4 6-2 7-2 6 7 6 7 6 7 6 6 6 4 6 5 6 5 6 10 6 11 6 6 6-20 6-46 6-35 6-24 6-19 6-10 6-5 6-2 6 3 6 6 6 7 6 7 6 4 6 3 7 8 6 15 6 17 6 33 6 34 6 26 6 23 6 2 6-14 6-22 6-15 6-7 6-4 6 3 6 4 6 5 6 6 6 8 6 7 6 7 6 6 6 2 6 0 7-3 6-6 6-11 6-7 6-5 6-4 6 0 6 2 6 4 6 7 6 11 6 14 6 13M1027 1842l6 0 6 0 6-1 6 0 6 2 6 2 6 0 6-2 6-1 6-1 6-1 7 1 6 2 6 2 6 0 6-2 6-2 6 2 6 5 6 8 6 8 6 9 6 7 6 4 6 1 6-1 6-1 6-8 6-11 6-12 6-12 6-13 6-18 6-19 6-17 6-8 7-10 6-20 6-22 6-8 6-2 6 4 6 8 6 12 6 13 6 12 6 14 6 14 6 9 6 6 6 5 6 13 6 12 6 10 6 13 6 15 6 7 6-4 6-8 7-10 6 1 6 2 6 5 6 5 6 4 6 4 6 4 6 7 6 7 6 2 6-21 6-41 6-31 6-22 6-17 6-9 6-3 6-1 6 3 6 7 6 10 6 10 6 10 6 12 7 16 6 26 6 28 6 39 6 37 6 29 6 26 6 2 6-17 6-27 6-17 6-7 6-3 6 1 6 1 6 3 6 4 6 5 6 5 6 4 6 2 6 0 6-5 7-7 6-11 6-15 6-11 6-11 6-10 6-6 6-1 6 0 6 4 6 8 6 12 6 11M1027 1818l6-5 6-4 6-4 6-1 6 3 6 5 6 6 6 6 6 7 6 8 6 8 7 7 6 8 6 6 6 4 6 2 6 2 6 4 6 8 6 11 6 11 6 13 6 9 6 6 6 4 6 4 6-2 6-12 6-14 6-12 6-10 6-10 6-17 6-24 6-20 6-11 7-13 6-19 6-21 6-9 6-4 6 2 6 6 6 10 6 10 6 11 6 11 6 10 6 7 6 4 6 4 6 10 6 10 6 9 6 10 6 11 6 0 6-11 6-16 7-17 6-4 6 0 6 4 6 6 6 5 6 5 6 5 6 6 6 7 6 1 6-20 6-38 6-27 6-19 6-16 6-8 6-2 6 0 6 3 6 6 6 10 6 11 6 11 6 14 7 18 6 30 6 32 6 44 6 42 6 33 6 32 6 5 6-14 6-27 6-16 6-5 6-1 6-1 6 1 6 0 6 2 6 1 6 2 6 0 6-1 6-5 6-10 7-13 6-16 6-20 6-18 6-19 6-18 6-14 6-8 6-4 6-1 6 7 6 10 6 9M1027 1802l6-8 6-7 6-5 6-2 6 5 6 9 6 11 6 12 6 14 6 15 6 13 7 11 6 10 6 8 6 5 6 3 6 3 6 4 6 8 6 10 6 13 6 14 6 12 6 8 6 8 6 8 6 0 6-13 6-14 6-11 6-6 6-5 6-17 6-26 6-23 6-13 7-15 6-19 6-20 6-12 6-7 6-2 6 3 6 6 6 8 6 8 6 8 6 7 6 5 6 2 6 3 6 9 6 8 6 6 6 7 6 6 6-5 6-15 6-20 7-21 6-5 6 1 6 8 6 9 6 9 6 8 6 7 6 9 6 9 6 5 6-17 6-36 6-26 6-20 6-16 6-7 6-3 6-1 6 3 6 5 6 7 6 8 6 8 6 10 7 14 6 25 6 30 6 45 6 44 6 37 6 35 6 10 6-11 6-24 6-14 6-3 6-1 6-1 6 0 6 0 6 0 6 0 6 0 6-1 6-3 6-8 6-12 7-16 6-19 6-23 6-23 6-25 6-26 6-21 6-15 6-9 6-5 6 4 6 7 6 9M1027 1797l6-7 6-7 6-5 6 1 6 7 6 11 6 14 6 16 6 16 6 17 6 12 7 11 6 8 6 5 6 2 6 0 6 0 6 0 6 4 6 8 6 10 6 13 6 11 6 8 6 9 6 10 6 2 6-9 6-12 6-9 6-4 6-3 6-14 6-24 6-21 6-12 7-15 6-17 6-19 6-13 6-9 6-4 6 0 6 4 6 5 6 6 6 6 6 6 6 3 6 2 6 1 6 8 6 6 6 5 6 4 6 3 6-6 6-16 6-19 7-19 6-1 6 6 6 12 6 15 6 12 6 12 6 11 6 14 6 15 6 10 6-13 6-37 6-28 6-21 6-17 6-9 6-4 6-2 6 2 6 5 6 5 6 4 6 2 6 4 7 7 6 18 6 23 6 41 6 43 6 35 6 33 6 9 6-10 6-24 6-15 6-5 6-4 6-1 6-1 6-1 6 1 6 1 6 0 6 0 6-2 6-7 6-10 7-14 6-18 6-22 6-23 6-28 6-29 6-25 6-18 6-12 6-7 6 1 6 6 6 8M1027 1803l6-6 6-5 6-3 6 2 6 8 6 12 6 14 6 14 6 14 6 13 6 9 7 6 6 4 6 1 6-3 6-6 6-6 6-5 6-1 6 3 6 5 6 9 6 8 6 7 6 6 6 7 6 5 6-4 6-7 6-7 6-4 6-2 6-11 6-17 6-15 6-6 7-10 6-15 6-17 6-11 6-8 6-4 6-1 6 2 6 3 6 3 6 5 6 5 6 3 6 0 6-1 6 7 6 5 6 1 6 2 6 1 6-6 6-11 6-15 7-14 6 7 6 13 6 18 6 19 6 17 6 15 6 14 6 18 6 19 6 16 6-9 6-40 6-30 6-22 6-17 6-10 6-5 6-2 6 2 6 5 6 6 6 3 6-2 6-2 7 2 6 12 6 16 6 34 6 37 6 29 6 25 6 2 6-15 6-25 6-19 6-13 6-10 6-3 6-3 6-1 6 1 6 3 6 3 6 1 6-1 6-3 6-7 7-9 6-12 6-16 6-21 6-26 6-27 6-24 6-15 6-10 6-6 6 3 6 8 6 9M1027 1814l6-5 6-4 6-2 6 2 6 6 6 11 6 10 6 11 6 9 6 8 6 4 7 1 6 0 6-3 6-7 6-10 6-12 6-9 6-4 6-1 6 1 6 3 6 5 6 4 6 2 6 2 6 6 6 1 6-2 6-6 6-5 6-3 6-6 6-9 6-6 6 1 7-2 6-11 6-14 6-7 6-5 6-4 6-1 6 0 6 0 6 1 6 2 6 5 6 1 6-3 6-4 6 5 6 3 6-2 6-3 6-3 6-5 6-8 6-10 7-10 6 15 6 21 6 25 6 24 6 20 6 17 6 17 6 19 6 21 6 18 6-8 6-38 6-30 6-21 6-16 6-8 6-4 6 0 6 4 6 8 6 8 6 6 6-2 6-3 7 1 6 10 6 11 6 26 6 29 6 20 6 16 6-7 6-22 6-30 6-24 6-20 6-19 6-5 6-5 6-3 6 1 6 3 6 4 6 2 6 0 6-1 6-3 7-5 6-7 6-9 6-17 6-22 6-23 6-17 6-9 6-3 6 0 6 8 6 12 6 13M1027 1827l6-4 6-3 6-2 6 1 6 6 6 8 6 8 6 7 6 6 6 4 6 0 7-1 6-3 6-5 6-9 6-13 6-14 6-11 6-6 6-4 6-3 6-1 6 1 6 0 6-4 6-5 6 5 6 4 6-1 6-5 6-6 6-5 6-3 6-1 6 1 6 8 7 3 6-6 6-10 6-3 6-2 6-2 6-1 6 0 6-1 6-2 6 1 6 3 6-1 6-5 6-7 6 4 6 0 6-5 6-6 6-6 6-6 6-6 6-8 7-8 6 20 6 25 6 29 6 27 6 22 6 18 6 17 6 19 6 20 6 17 6-7 6-35 6-26 6-18 6-13 6-5 6 0 6 3 6 8 6 14 6 15 6 13 6 2 6-1 7 5 6 12 6 10 6 18 6 18 6 12 6 8 6-15 6-29 6-36 6-29 6-25 6-23 6-9 6-7 6-4 6-1 6 2 6 4 6 2 6 0 6-1 6-1 7-3 6-3 6-5 6-13 6-19 6-18 6-11 6-3 6 4 6 6 6 13 6 16 6 15M1027 1836l6-3 6-2 6-1 6 3 6 8 6 10 6 10 6 8 6 6 6 4 6-1 7-3 6-5 6-6 6-10 6-13 6-15 6-13 6-9 6-8 6-7 6-6 6-5 6-5 6-11 6-11 6 1 6 2 6 0 6-7 6-9 6-8 6-1 6 2 6 5 6 12 7 8 6-4 6-8 6 1 6 1 6 2 6 2 6 2 6 1 6-1 6 2 6 3 6 0 6-4 6-7 6 6 6 1 6-3 6-4 6-4 6-3 6-5 6-6 7-8 6 18 6 23 6 25 6 24 6 19 6 16 6 15 6 17 6 19 6 18 6-6 6-32 6-23 6-15 6-8 6-2 6 4 6 8 6 15 6 22 6 24 6 23 6 7 6 3 7 10 6 14 6 9 6 9 6 6 6 4 6 2 6-21 6-36 6-41 6-32 6-26 6-24 6-10 6-7 6-5 6-1 6 2 6 4 6 2 6 0 6 0 6 0 7-2 6-3 6-4 6-11 6-16 6-14 6-8 6 1 6 5 6 8 6 14 6 17 6 16M1027 1834l6-2 6 0 6 2 6 7 6 12 6 15 6 15 6 13 6 11 6 6 6 0 7-3 6-5 6-8 6-11 6-13 6-17 6-15 6-13 6-11 6-12 6-11 6-11 6-12 6-15 6-18 6-2 6 0 6-3 6-8 6-13 6-11 6-4 6 3 6 6 6 12 7 9 6-4 6-8 6 3 6 5 6 7 6 7 6 7 6 6 6 4 6 7 6 8 6 3 6 1 6-1 6 10 6 7 6 5 6 7 6 9 6 4 6-1 6-6 7-6 6 10 6 11 6 14 6 13 6 10 6 11 6 10 6 16 6 20 6 20 6-3 6-32 6-23 6-12 6-5 6 2 6 7 6 13 6 21 6 29 6 34 6 32 6 9 6 3 7 12 6 14 6 7 6-3 6-6 6-5 6-1 6-26 6-40 6-44 6-32 6-24 6-21 6-8 6-6 6-3 6 1 6 3 6 5 6 4 6 3 6 1 6 0 7-1 6-4 6-7 6-9 6-13 6-11 6-7 6 0 6 4 6 7 6 12 6 16 6 15"/><path fill="none" stroke="url(#Ghs)" stroke-width="2.4" d="M1027 1755l6-5 6-3 6 0 6 4 6 9 6 10 6 7 6 5 6 3 6 0 6 0 7-2 6-2 6-5 6-9 6-14 6-15 6-12 6-6 6-3 6 0 6 3 6 7 6 6 6 3 6 0 6 0 6 0 6-3 6-8 6-13 6-11 6-4 6 3 6 6 6 5 7 0 6-13 6-20 6-15 6-12 6-8 6-2 6 5 6 8 6 12 6 20 6 23 6 16 6 11 6 8 6 4 6 0 6-5 6-6 6-6 6-6 6-6 6-8 7-8 6-5 6 1 6 11 6 15 6 9 6 2 6-1 6-1 6-1 6-3 6-8 6-5 6 0 6 1 6 1 6 0 6 0 6 1 6 3 6 5 6 5 6 4 6 4 6 3 7 3 6 3 6 3 6 2 6 2 6 2 6 2 6 1 6 1 6 1 6 0 6 0 6-1 6-2 6-1 6 1 6 2 6 5 6 6 6 4 6 2 6-1 6-1 7-3 6-3 6-5 6-13 6-19 6-18 6-11 6-6 6-3 6 0 6 4 6 8 6 9M1027 1949l6 11 6 10 6 7 6 3 6 3 6 2 6 0 6 0 6-2 6-2 6-1 7-1 6 0 6 1 6 2 6 1 6 3 6 3 6 5 6 5 6 4 6 2 6-1 6-2 6-4 6-5 6-8 6-14 6-14 6-11 6-6 6-4 6-8 6-20 6-18 6-5 7-1 6 0 6-1 6 0 6 0 6 0 6 1 6 2 6 1 6-1 6-3 6-4 6-4 6-1 6 2 6 6 6 10 6 13 6 17 6 20 6 8 6-4 6-8 7-4 6-1 6 0 6 0 6 0 6 1 6 1 6 3 6 7 6 8 6 2 6-6 6-8 6-6 6-1 6 2 6 4 6 6 6 9 6 14 6 19 6 16 6 5 6-1 6 3 7 12 6 14 6 7 6-3 6-6 6-5 6-1 6-4 6-14 6-25 6-14 6-3 6-1 6-1 6 0 6 0 6 0 6 0 6 0 6 0 6-1 6-5 6-10 7-10 6-8 6-3 6 0 6 1 6 0 6 1 6 2 6 1 6 4 6 8 6 11 6 10"/></g><g transform="scale(0.25)" fill-rule="evenodd" stroke="#000" stroke-width="1.4"><rect x="1946" y="58" width="673" height="601" fill="#3e26a8" stroke="none"/><path fill="#4537d5" d="M1950 658l669 0 0-600-673 0 0 600 4 0z"/><path fill="#4563fd" d="M1950 658l669 0 0-600-673 0 0 600 4 0zM2473 550l0-3 1 0 1 3-2 0zM2425 325l1-3 1-2 4 0 3 5-3 3-4-1-2-2z"/><path fill="#2797eb" d="M1950 658l669 0 0-600-86 0-1 1-4 1-3-2-579 0 0 198 2 3 0 3-2 5 0 391 4 0zM2453 604l-1-3 1-3 1-1 4-2 3-1 4 1 1 6 0 3-2 2-3 1-3 0-5-3zM2089 571l-3-3-2-6-1-3 2-3 7-6 2-3 1-6 5-6 8-3 3 0 4 2 2 4-1 3-1 3-4 2-10 1-5 3 5 12-1 6-2 3-4 2-3 0-2-2zM2468 556l-4-3-2-3-1-6 2-9 1-2 4-1 13 9 4 3 1 3-1 3-2 3-4 3-5 2-6-2zM1996 514l-3-3 1-3 5-3 5-1 4 1 1 3-1 3-2 3-2 1-4 0-4-1zM2578 511l-1-3-1-3 3-3 6 0 2 0 3 3 0 3-5 5-3 0-4-2zM2256 496l3-1 3 1-3 3-3-3zM2468 451l-3-3-1-3 0-3 4-3 3 0 7 4 4 5 1 3-5 3-4 0-6-3zM2335 433l-5-1-2-2-2-3 1-3 2-3 8-7 10-5 10-2 6 0 4 0 3 2 1 3-1 5-3 6-4 3-11 4-17 3zM2115 376l-5-6 0-3 7 0 3 3 2 6-1 3-3-1-3-2zM2401 337l-5-3-1-3 4-12 2-12 3-3 3-2 7-2 20 1 3-1 8-5 2-1 4 2 2 5 0 3-2 4-6 5-1 3 2 12 0 3-2 3-3 1-7 1-33 1zM2063 232l0-3 4-3 4 1 1 2 0 3-1 2-4 1-4-3zM2418 214l-2-3 0-3 4-6 4-3 3-1 4 2 4 8 0 3-2 3-2 1-4 1-9-2zM2303 193l-4-3-2-3-1-3 2-3 5-2 3 1 8 4 1 3 0 3-2 2-3 2-7-1zM2338 193l-4-3 0-3 2-3 4-2 3 0 4 2 2 6-1 3-1 1-4 1-5-2zM2511 193l0-3 4-2 1 2-1 4-4 0 0-1zM2518 178l-3-2-2-7 1-6 2-6 3-3 5-3 4-1 4 1 2 3 0 3-1 3-12 15-3 3zM1999 154l8-8 2-4 2-6-1-9 1-3 3-2 3 1 10 10 2 3 1 3-1 3-2 3-7 3-10 3-6 4-4 0-1-1zM2571 145l-1-3 2-1 4 1 1 3-2 1-4-1zM2557 94l-1-3 0-3 2-4 4 2 1 5-1 3-4 1-1-1zM2130 73l-2-6 1-3 2-2 4-1 3 1 1 2 1 3-2 5-3 3-4-1-1-1z"/><path fill="#01b8ca" d="M1950 658l116 0-2-6-2-3-15-8-4-4-1-3 0-3 2-2 3-3 4 0 6 2 4 3 7 15 3 3 9 6 0 3 16 0-9-3-4-3 2-6 6-12 1-6-5-9-2-6 2-18-1-12-4-9-9-15-1-3 3-6 16-18 10-8 7-3 3 0 7 2 5 3 3 3 2 6-2 9-2 3-13 8-2 4-2 15-5 12 1 6 13 15 1 3-8 18-2 6-1 6 1 6 2 3 2 2 30 7 323 0 7-5 3-1 3 3 1 3 99 0-5 0-3-2-7-7-4-6-3-12-10-13-1-5-1-6 2-5 3-3 4-1 3 0 5 3 5 6 5 12 9 17 3 3 3 1 7 0 3-1 4-4 2-7 2-3 6-3 10-2 0-119-3 7-2 15-2 3-3 1-20 0-10-3-5-4-4-6-3-6 0-3 1-3 2-3 5-3 20-4 11-3 13-6 0-97-15 5-10 15-5 5-7 4-7 2-3-1-5-4-2-3 0-3 10-3 7-5 10-14 7-3 3-4 10-16 4-1 3 1 0-84-17 6-7 0-10-2-13 0-3-1-4-1-1-2-1-6 2-7 2-2 5-2 7-1 3 1 10 5 7 0 3-1 10-8 7-2 0-110-6-8-1-3 2-3 5-2 0-70-78 0-3 6-3 5-7 2-3 0-4-1-2-3-2-9-58 0-3 3-7 6-5 2-3 1-7-1-4-2-2-3 1-6-71 0-1 1-3-1-169 0-3 1-3-1-30 0-1 12-4 6-6 6-7 2-3-2-3-4-6-14-1-3 1-3-173 0 0 190 4 0 3 1 2 4 1 3-1 6-2 6-3 6-4 4 0 91 14-2 3 0 4 2 1 4-1 5-4 2-10 0-7 2 0 276 4 0zM2530 655l-2-3 4-3 2 0 1 3 0 1-3 3-2-1zM2147 631l-2-3 3-2 3 2-2 3-2 0zM2345 631l-2-3 0-3 4 1 1 2 0 3-3 0zM2472 622l-9-6-12-5-5-4-1-3-1-6 0-3 3-3 6-3 8-2 7-1 3 1 2 2 2 12 3 4 5 5 1 3-3 7-3 4-4 0-2-2zM2329 616l-23-13-2-2-1-3 13-12 4-13 3-1 3 1 11 6 13 4 13 9 3-3 2-6 6-7 3-3 3-1 4 2 18 15 1 3-2 3-4 4-7 3-6 2-21 2-6 0-7-3-3 0-4 3-4 10-2 2-8-2zM2503 613l-3-3 1-3 7-5 3-1 4 0 3 3 0 6-3 5-4 1-3 0-5-3zM2226 604l-4-3-2-6 0-3 2-3 4 0 3 1 3 5-3 8-3 1zM2006 595l-2-2-4-7-7-8-1-4-15-18-1-3 3-3 4 0 4 1 6 5 3 3 2 6-1 9 2 6 3 3 9 6 1 3-2 3-4 0zM2187 577l-1-3 1-6 5-6 3-2 4 2 2 9 0 3-2 3-4 1-3 1-5-2zM2463 559l-4-3-4-6-2-15 1-6 3-6 4-3 7-1 3 0 3 1 7 12 10 6 3 3-1 6-3 6-9 7-3 1-7 1-8-3zM2347 550l-4-3-2-3 0-3 2-4 7-1 7 1 6 4 2 3-1 3-4 4-7 1-6-2zM2253 526l-15-12-1-3 0-3 2-6 7-9 10-5 10-2 10 1 2 3-2 3-16 18-1 3 1 9-1 2-3 2-3-1zM2332 526l-3-6 1-6 3-5 4-2 3 0 4 4 1 6 0 3-5 7-3 2-5-3zM1972 523l0-3 7-18 4-4 14-2 17-6 6 1 6 5 2 6 0 3-2 6-6 6-6 5-4 1-6 1-14-1-13 1-5-1zM2503 520l1-3 3-3 4-1 1 1 1 3-2 4-3 2-3 0-2-3zM2541 502l-3-1-1-2 1-1 4 0 1 1-1 3-1 0zM2516 475l-2-3 1-3 3-1 3 1 3 3-1 3-2 1-3 0-2-1zM2436 469l4-15 2-3 9-6 8-12 5-3 7 0 6 3 18 18 1 3-2 3-6 3-24 3-10 6-3 1-14 1-1-2zM2539 469l0-6 2-3 4-3 3 0 3 0 3 3 1 3-2 3-5 4-6 1-3-2zM2580 457l1-3 2 0 0 3-1 3-2-3zM2244 454l-2-3 2-3 2-1 3 0 7 1 4 3-1 3-7 3-3-1-5-2zM2116 451l-5-2-3-4-1-6 3-3 5-1 16 2 5 2 1 3-1 3-2 3-9 3-9 0zM2330 439l-6-3-3-3-1-3-1-6 3-6 9-9 6-10 3 0 10 3 17 1 3 0 4 3 2 3 0 6-6 19-2 2-15 1-16 3-7-1zM2076 433l-3-3-1-3 1-3 8-3 3-1 4 1 2 3-1 3-2 3-6 4-5-1zM2226 415l-3-6-1-6 1-6 3-3 3 0 3 0 9 3 4 3 1 3 0 3-4 6-3 3-7 3-3 0-3-3zM2121 403l-6-12-10-12-4-3-11-6-3-3-7-9-9-6-2-3 1-3 6-3 8-1 4 2 7 8 6 4 7 3 14 2 3 3 10 13 11 8 3 3 0 3-1 6-2 3-5 3-13 3-3-1-4-2zM2461 388l-6-6-5-6-1-3 2-4 3-1 10 2 7 3 3 3 1 6-4 5-3 2-4 0-3-1zM2581 379l-3-3-1-3 2-3 3-2 3 0 4 2 2 3 0 6-2 3-4-1-4-2zM1990 367l-2-3 0-3 2-9-1-6-2-5-5-4-1-3 0-3 6-6 3-1 3 0 4 1 3 3 12 15 4 6 0 3-1 3-3 3-12 10-3 1-4 0-3-2zM2265 367l-2 0-4-2-3-4-1-3 1-5 3-5 7-7 7-4 5 0 2 3 0 3-3 12-7 9-5 3zM2302 364l-3-3 1-3 3-1 3 1 3 3-1 3-2 1-4-1zM2597 346l-1-3 4-3 10 0 2 3-3 4-3 1-9-2zM2391 343l-7-3-5-3-1-3 3-3 6-4 5-5 2-6 0-15 3-6 7-4 6-3 7 0 10 3 4 0 3-1 10-7 3 0 4 2 5 4 2 3 2 6 1 12-1 3-4 6-2 3-1 12-4 6-2 2-3 0-20 0-20 4-13-3zM2552 340l-10-5-17-1-6-3-2-3 3-3 4-3 8-2 6 2 7 4 3 1 11 1 3 1 3 2 2 6-2 4-7 1-6-2zM2015 301l-3-3 0-3 2-5 3-2 3 1 4 1 2 5-2 5-4 2-3 0-2-1zM2176 295l-1-3 3-2 4 1 0 2-2 2-2 1-2-1zM2365 292l-4-3 1-3 1-1 7-2 8 3 0 3-4 2-4 1-5 0zM2071 271l-4-5-1-4 0-3 3-9-2-3-10-9-2-3 0-6 2-6 13-9 4-8 4-3 3 0 0 2-1 12 3 21 1 3 4 3 10 6 2 3 0 3-6 9-3 3-6 3-7 2-4 0-3-2zM2122 271l-5-3-2-3 0-3 1-3 5 0 4 2 2 4 1 3-1 3-2 1-3-1zM2008 268l-4-3-1-3 3-3 4 0 6 3 1 3-1 3-2 1-6-1zM2194 265l1-3 4-2 3 0 1 2 0 3-4 3-4-1-1-2zM2336 265l1 0 0 1-1-1zM2453 256l-2-3-3-6 0-3 1-3 19-4 5 1 6 3-2 3-3 3-13 9-3 1-5-1zM2494 253l-6-8-5-4 0-3 5-11 3-2 4-1 6 2 3 3 5 12-2 6-4 6-5 2-4-2zM2339 241l-5-3-2-3 0-6 2-3 3-3 6-2 4 1 3 3 1 4 0 6-4 4-4 2-4 0zM2177 235l-5-8-2-4 0-3 1-3 4-2 7 2 3 3 2 6-1 6-1 3-3 2-5-2zM2295 229l-2 0-4-3-1-3 1-3 4 0 4 3 1 3-2 3-1 0zM2407 220l-1-3 1-6 10-15 4-3 6-4 7-2 3 1 1 2 0 9 2 15-3 5-3 2-3 0-10-1-11 1-3-1zM2351 211l-5-6-4-3-12-6-4-1-3 1-7 4-6 1-4-1-14-7-4-3-2-3 0-6 2-6 1-3 4-1 7 1 23 8 3 0 14-3 7 1 4 3 4 6 5 21 0 3-3 2-4 0-2-2zM2508 205l-4-3-3-6 0-3 4-15 0-12 2-12 2-3 12-5 7-2 7 1 3 2 2 4 0 6-7 12-6 12-4 18-5 5-3 2-4 0-3-1zM1986 196l-2-3 1-3 2-2 6-2 5 1 1 3-1 3-4 3-4 1-4-1zM2124 193l-6-3-3-3-6-6-2-3 0-3 3-3 8-5 3 0 14 8 18 6 2 3-3 3-8 3-13 3-7 0zM2205 181l4-4 2 1 0 3-2 1-4-1zM2258 181l-2-2-5-10-4-6-8-9-3-2-7 0-17 3-7-1-2-3-1-6 0-3 3-5 4-3 3-1 7 0 23 8 14 2 4 2 2 3 1 3 1 24-1 5-4 2-1-1zM1997 169l-15-6 0-3 16-21 1-3-2-9 1-6 2-5 4-2 10-3 6 1 5 3 6 9 6 3 4 0 6-6 4-1 6 3 9 10 2 3 0 3-3 3-18 3-6 4-10 8-6 9-3 3-8 2-7 1-10-3zM2573 154l-9-6-5-6-1-3 1-3 3-2 7-1 6 0 7 3 3 3 1 6-3 6-4 3-6 0zM2410 139l-4-3 0-3 3-3 8-3 7-1 2 1 1 3-5 6-5 2-7 1zM2087 136l-4-3-1-3 1-3 8-9 3-2 4 0 3 5 0 6-3 5-4 2-3 2-4 0zM2323 136l-3-3-3-3-2-18-5-12 3-6 3-4 4-1 3 1 7 8 3 3 10-7 7 0 17 7 2 2 3 3 1 3-2 3-4 3-4 0-10 0-16-4-3 4 0 12 0 6-4 3-7 0zM2438 112l0-3 1-3 12-13 3-2 4 0 3 3 1 3 0 6-6 6-5 3-4 1-6 0-3-1zM2552 106l-3-3-1-3 0-15 0-6 4-5 6-1 5 3 6 6 2 6 0 6-2 4-4 5-7 3-6 0zM1957 79l-1-4 4-5 3-1 4 3 0 4-2 3-5 1-3-1zM2609 658l10 0 0-10-13 10 3 0z"/><path fill="#4acb84" d="M1950 658l39 0-12-6-4-3-1-3 0-3 5-2 3 0 7 1 10 8 3 2 14-2 24-1-1 0 0-3-6-9-1-6 2-6 3-3 4-3 5-1 10 1 7 3 4 3 9 12 4 1 3-1 3-5 0-4-5-9 1-15-4-15 1-12-3-6-8-9-3-6 0-3 3-6 11-15-2-3-8-3-3-3-1-3 0-3 2-3 13-9 7-9 9-8 3-4 2-6-1-12 2-9 0-6-2-8-4-4-3 0-10 5-3 1-4 0-3-3-8-12-6-5-9-4-3-3-2-6 0-12-2-3-7-6-2-6 2-3 13-2 7 1 2 1 15 13 7 3 10 2 3 2 5 7 7 15 4 3 11 2 7 1 6-2 10-7 4-1 3 2 1 8-2 9 0 6 3 9-2 4-3 3-4 0-10-4-10 0-10 3-3 3 1 6 6 15 3 5 7 4 2 3-5 12 1 6 2 3 9 9 2 6 1 9 1 6 0 3-17 6-4 3-2 3 0 3 2 6 8 13 3 0 3-1 8-6 3-3 3-9 3-3 7 1 13 7 4 0 3-2 3-3 14-17 3-2 4-1 7 2 3 3 0 15 3 6 3 4 17 8 9 6 4 3 1 2 3 1 7-1 10 1 7-1 2-2 0-3-1-12-3-6-4-6-8-8-3-1-14-3-8-6-1-3 1-3 7-6 1-3-2-6-8-9-2-6 0-3 5-12 5-6 5-3 18-7 10-3 3 0 10 4 3 5 1 4-2 3-3 3-10 6-3 3-3 6 0 6 5 9 1 9 6 9 2 15 7 12-4 17-3 4-5 3-2 6-2 3-5 4-6 0-8-4-6-7-3-1-4 5-5 9-5 6-6 5-4 0-3-3-7-13-3-5-4-1-1 8-4 6-5 5-6 1-7-3-2-3-2-12-10-14-3 3-1 2-2 3-9 9-2 6 0 3 2 3 13 6 2 3-1 6-2 3-13 6-5 3-2 3 2 3 8 6 2 3 11 0-1-3 1-6 4-6 3-2 7 3 10 8 3 2 20 4 51 0-1-3 0-3 3-3 15-2 3 0 3 2 0 2 1 1-2 3-3 3 32 0 6-6 7-3 3 2 4 3 3 2 7-4 3-3-3-3-10-1-3-5-3-12-5-6-12-9-14-6-5-3-3-3-1-3 0-3 12-7 5-5 1-6-6-9-1-6 1-6 2-3 5-2 6 0 5 2 10 12 9 5 13 5 7 2 3-1 5-5 2-6 0-2-3-4-14 0-6-1-10-4-4-3-2-4-3-12-8-12-1-3 5-15 3-6 4-3 12-6 14-10 3-2 3-1 17 3 7 3 4 4 9 15 10 7 4 5-1 3-2 3-14 4-13 7-4-2-6-7-11-8-4-6-2-1-1 1 0 18 3 3 11 7 10 3 2 2 4 9 2 18 6 8 10 6 13 7 4 0 8-6 8-2 17 2 7-1 17-5 3 2 1 1 1 3-2 9 0 3 2 3 5 4 7 0 8-4 22-23 3-3 4-1 3 3 4 12 3 2 10 1 6 2 18 10 6 7 3 1 7-1 7 5 7 2 6-1 7-4 0-20-7 4-6 0-5-2-2-3-1-3 1-3 3-3 8-3 9-1 0-33-7-2-5-3-5-1-13-1-10-2-7-5-10-11-4-2-23-6-7-1-4 2-7 15-10 9-5 15-6 6-18 11-7-1-13-4-6-3-3-3-1-3-2-27 2-6 3-5 3-3 4-2 16-1 5 2 9 8 3 0 14-12 13-5 3-3 4-6 0-3-16-9-11-12-7-2-13 2-7 3-3 3-4 12-3 3-3 2-11-5-16 0-6-3-8-10-10-8-1-3-1-3 2-6 5-6 5-4 4 0 10 2 3-1 7-3 3-3 1-3 1-12 1-3 11 1 6 0 7-1 10-3 3 3 4 12 4 6 6 5 13 8 7 0 10-7 4-1 10 2 6-1 4-1 4-5 4-9-2-4-3-1-10 5-10 4-3 0-4-2-3-5 1-3 3-3 13-9 2-3 2-9 2-3 7-2 14 1 3-1 3-2 1-2 1-3-6-9-1-6 4-15-3-3-16-5-13-7-7-1-10 0-7-2-14-9-1-3 2-3 23-14 4-1 3 1 8 5 5 2 4 1 6-1 8-5 6-7 3-1 7 3 6 5 0 3-7 6-2 6 1 3 5 3 7-1 8-2 5-3 4-6 10-2 0-34-20 5-17-1-5 2-8 7-14 1-13 4-4 0-3-3 0-3 5-9 4-12 8-7 3-11 3-3 21-4 16 2 24-7 0-22-13-11-4-6-2-6-1-14-2-4-2-2-6-2-14 1-3 0-3-2-1-1 0-3 5-9 0-3-15-11-6-4-4 2-1 7-10 15-5 15-4 22-5 11 2 4 10 6 5 5 2 6-2 6-5 2-17 3-3 2-10 10-7 2-3 0-4-2-7-7-3-2-7 1-6 3-13 12-1 3 1 3 9 12 4 16 10 17 0 3-3 3-11 4-3 3-4 11-1 6 0 3 2 3 5 3 15 5 4 7 3 9-1 9-4 6-6 4-6 2-7-1-3-1-14-16-5-9-1-6-1-6 1-9-1-3-3-2-4-1-6 0-20 5-20-6-7-1-10 1-4-3-2-5-1-6 1-6 2-5 4-2 10 1 7 0 3-3 1-3 0-6-3-6-3-3-5-1-14 2-10 0-6 2-2 3-3 12-2 3-3 4-7 1-17-5-3 0-7 5-5 7-2 6 0 3 3 3 11 5 6 4 5 6 4 9-2 3-10 1-13 5-4 0-7-16-3-2-3 0-7 5-8 10-1 3 2 6-2 3-2 0-2-3 0-6-1-3-10-12-4-6 1-6 7-9 5-12 8-4 17-5 10-9 4 0 13 4 7-3 18-13 5-9 1-9-2-3-17-9-9-8-3-1-20-1-10 1-3 3-4 15-4 6-3 1-6 0-14-3-2-1 1-3 14-12 17-7 9-14 1-6-12-18-3-6 2-4 3-2 4-1 17 4 6 4 7 8 3 3 4 0 3-2 13-13 2-3-1-4-4-3-3 0-4 0-13 5-3 1-4-1-9-7-4-2-14-2-10-2-3 0-3 2-7 5-4 0-4-4-3-6 2-12-2-9-4-6-5-5-7-1-5 3-1 3 2 12 0 6-2 3-4 3-10 4-10 1-6-2-5-3-2-3 7-12 1-6-1-3-4-3-7-1-7 2-4 5-1 3 2 6 8 9 0 3-8 7-4 1-17 1-4 3-3 6-2 3-11 4-3 0-4-1-4-3-9-11-7-4-3 0-7 7-5 8-2 6 1 9 3 9 7 6 23 10 7 4 3 4 7 11 10 10 3 6 0 3-2 3-4 3-10 5-7 6-7 3-13 8-10 2-7-1-3-2-1-3 0-3 6-9 4-3 18 1 8-4 2-3 1-3-2-6-6-5-7-3-3-1-4 1-10 5-6 3-10 1-7-2-5-5-7-12-10-27 0-9 1-6 2-3 10-9 5-12 6-9 1-3-1-3-2-3-5-6-2-3 0-3 3-4 7-3 7 1 10 5 3 0 7-2 6-3 8-7 3-2 10-3 3-1 6-11 4-2 4 2 10 7 10 6 7 2 6-1 4-1 7-5 7-11 6-8 7-4 3 0 20 4 17 7 18 4 4 3 2 3 2 12 1 3 3 0 10-5 4 0 3 3 5 8 5 3 10 4 10 2 17-3 7 1 3 2 6 6 8 18 2 3 12 9 3 3 0 3-11 9-5 9-8 7-10 11-1 3 0 6 2 9 2 3 4 1 20 0 17-2 23 5 10 4 4-1 13-10 2-3-6-15-2-18-2-6-9-4-6 0-4 2-9 8-4 1-4-1-3-3-3-6-2-9 15-15 14-21 15-9 11-12 4-2 3 0 4 2 2 3 4 21-1 3-2 2-10 3-4 2-3 4 0 7 2 9-1 12 2 3 7 2 7-2 7-3 3-3 1-3-3-15 1-6 4-2 14 0 3-1 4-4 3-8 1-6-1-18-5-12 0-3 1-3 4-3 3 0 10 3 7 0 14-4 10-1 2-1 2-9-1-3-6-12 0-3 3-15-1-9-3-5-3-2-3 0-7 1-7 2-7 4-3 0-8-3-2-4 1-2 9-6 2-3 1-3 1-6-28 0-3 4-3 3-7 3-10 1-7 4-2 3 1 3 8 3 7 4 3 5 2 6 2 9-5 9-2 6-4 3-20 3-10 7-11 11-6 9-1 6 2 12-1 3-3 2-4 0-6 0-7-1-4-4 1-6 5-9 0-3-3-3-6-3-2-3-1-3 3-7 8-8 6-5 12-4 3-3 1-3 0-3-3-6-3-1-4-1-6 2-1 0-1-3 3-6 0-3-5-12 1-9-1-3-4-3-9-5-8-1-7 3-9 10-3 1-20-3-3 0-4 2-2 5 1 3 1 3 4 2 3 1 10 2 17 4 4 0 2-3 1-3 3-3 5 0 3 3-6 6-1 3 4 9 1 6-1 6-3 6-5 2-7 1-17-3-4 0-3 3-1 9-4 9-5 4-3 0-7-1-13-4-1-2 1-12-1-6-3-6-3-4-3-1-14 3-3-2-4-4-7-13-4-3-12-5-6-4-2-6 0-3 8-12 1-3-47 0 7 3 2 3 1 3 1 6-1 3-5 2-26-4-6 2-2 3-3 9-3 3-7-2-13-7-3 0-4 1-10 6-7 3-6 1-7-1-3 2-8 9 0 3 2 12 1 6-4 9-6 6-6 3-13 4-7 4-3 1-14 1-10 3-6 5-2 3-2 6-2 15-1 3-10-2-7 1-7 5-10 11-10 4-10 1-4-2-6-21-13-9-2-3-1-3 2-6 3-3 18-7 6-5 7-9 0-6-5-12-13-12-1-3 2-5 4-2 6-1 7 1 14 6 16-1 14 6 3 0 4-3 3-7 3-3 4 0 3 3 4 12 4 6 5 4 4 1 3-1 10-7 6-9 0-6-3-6 0-3 2-3 4-3 5-2 6 0 11 3 2-4 0-6-2-6-8-12-161 0 0 23 6-11 3-3 5-4 3 0 4 0 4 4 2 3 1 6-2 6-5 4-11 3-10 0 0 113 5 3 10 3 5 3 2 15 2 4 9 8 2 6 0 3-1 3-3 1-7 0-3 1-4 4-10 23-3 4-4 2 0 66 24 6 3 0 5-2 2-3 1-3-2-3-7-6-2-3 0-3 5-6 12-11 3-2 3 0 4 0 7 3 16 10 3 6 3 15-1 6-2 3-21 21-5 7-4-1-10-4-3 1-7 4-6 3-14-1-7 1 0 130 7 2 3-1 4-2 5-7 5-12 7-6 6-3 14-1 13-9 10-2 7 1 6 5 11 18 2 6 1 3-6 12-2 9-2 4-3 0-14-6-13 1-14-2-6 2-3 1-3 3 0 3 12 11 8 7 6 19 3 4 12 7 2 3 2 3-1 3-1 3-3 3-17 12-7 4-7 0-2-1-2-3 0-3 4-9 1-6-1-3-5-9-2-9-3-5-7-5-9-5-2-3-2-8-4-1-10 2 0 23 7-1 3 0 2 3 0 3-1 3-11 8 0 70 4 0zM2174 502l-2-4-6-17 2-2 4-1 3 1 7 5 4 6 2 6 0 3-3 5-3 1-4-1-4-2zM2061 469l-4-6 0-3 3-3 4-1 3 1 1 3-1 11-3 1-3-3zM2267 466l-26-6-5-3-3-6 0-6 3-6 3-2 10-2 2-2 4-9 4-2 4-1 10 2 4 4 3 6 3 12-1 15-3 6-3 3-3 0-6-3zM2309 466l-3-3 2-3 15-9 2-3-1-3-7-9-7-11-7-7 0-3 0-6 3-6 4-2 6 0 4-3 10-12 3-1 4 1 14 11 6 1 13 1 7 3 3 4 0 3-2 18 1 12 0 3-2 3-3 3-4 1-3-1-10-5-7 1-8 4-5 9-7 6-6 3-4 1-11-1zM2018 463l-8-5-4-4-3-6-4-12-1-15-5-9-1-3 1-9 4-9 3 1 10 10 11 7 2 3-1 3-3 6 0 18 4 6 9 9 2 6-2 3-5 3-3 0-6-3zM1960 451l-1-3 1-1 3 1 0 3-3 0zM2225 427l-4-3-1-3-4-15-5-12 4-14 4-4 3-1 4 3 7 10 6 3 10 4 3 2 2 3-1 6-2 6-3 6-6 6-6 5-4 0-7-2zM2483 415l-1-9 1-6 5-3 3 0 4 1 2 2 1 3-1 3-2 3-11 8-1-2zM2114 412l-2-3-2-9-2-5-8-10-16-12-9-9-11-5-3-4-2-6 0-3 2-3 3-3 17-6 7-1 6 4 6 12 4 4 7 2 14 2 3 2 7 9 3 3 7 4 10 3 3 0 4-1 6-11 4-2 3 0 1 3 0 6-2 3-9 6-3 4-3 8-3 12-4 5-7 2-20 1-7 0-4-2zM2181 406l2-3 12-10 4-1 4 2-1 3-11 9-6 2-4-2zM2177 358l0-12-3-9 0-3 3-3 5-2 7-1 6 2 17 7 4 3 2 3 0 3-3 4-16 1-17 9-4 0-1-2zM2485 358l1-3 5-2 4 0 1 2-1 3-4 1-3 0-3-1zM2171 316l-6-4-3-5-1-18 2-3 3-3 15-6 2-3 0-6-5-7-3-1-13 2-5-3 1-4 9-8 1-6-1-6-7-12-1-6 2-3 4-5 3-3 4-1 3 1 10 5 7 5 2 4 1 15 4 7 3 1 3-1 4-3 7-10 3-3 3-1 7 2 3 3 2 5-2 6-9 12-7 12-17 15-2 3 0 9-6 12-2 9-4 3-3 1-7 0-4-1zM2011 310l-4-3-7-11-3-4-6 6-8 4-16 2-3-3 5-6 3-3 8-4 7-2 3 1 5 2 2 2 3-3 3-5 1-4-2-2-12-9-2-3-1-3 1-3 4-3 12-4 10 1 7 3 3 3 6 12 3 3 12 6 3 3 1 3-3 6-19 17-7 2-6 0-3-1zM2012 223l-1-3 0-3 1-3 2-2 3-1 3 0 5 3 1 3-1 3-5 5-3 1-3-2-2-1zM2044 658l9 0-6-5-3-2-3 1 3 6zM2370 658l71 0 4-6 13-4 3-2 4-6 1-6-3-6-5-6-14-8-3-4-8-12-12-8-4 1-17 13-6 6-2 3 1 9-1 6-9 12-3 9-10 9zM2488 658l33 0-2-9 0-3 2-4 7-3 14 0 3-1 1-4-1-3-6-9-3-6-1-21-3-1-4 2-1 2-1 15-3 6-4 3-8 2-13-3-3 0-4 4-1 6 2 12-6 15 2 0zM2545 658l14 0-7-6-4 0-5 6 2 0zM2619 658l0-2-2 2 2 0zM2121 647l10 0 3-1 2-3-3-18-5-3-7 1-3 3-3 4-2 4 0 6 1 3 4 3 3 1zM2585 629l4-3 0-5-4-6-3-1-1 5 0 3 1 4 3 3zM2367 626l2-4-2-3-4 3 4 4zM2555 497l3 1 4 0 10-6 47-16 0-84-7 2-5 3-12 15-13 14-16 4 0 3 6 4 3 0 10-1 4 1 3 5 1 3 1 6 0 6-2 6-3 4-4 2-6 1-10-1-7 1-7 4-5 4-2 6 0 3 4 6 3 4zM2320 257l3 0 3-2 3-2 1-3-4-6-3-1-3 2-3 5 0 3 3 4zM2619 200l0-19-1 3 1 16zM2602 176l7 1 3-2 2-18-1-6-4-6-7-7-3-1-4 0 0 2-5 15-7 9 1 3 18 10zM2565 127l27 2 3-1 14-7 10-1 0-19-3-1-4-2-3-6-2-7 1-3 11-8 0-16-4 0-6 4-7 3-3 0-10-2-7-1-6 2-4 3 0 3 0 3 6 9 0 3-3 15-3 6-4 3-11 6-3 3-2 3 2 3 11 3zM2293 92l7 1 3-1 7-6 4-7 5-21-35 0-8 6-2 3-1 3 1 6 3 6 1 3 4 3 11 4zM2434 88l3 1 4-1 5-6 0-3-12-2-5 2-1 3 1 3 5 3z"/><path fill="#b9c431" d="M1950 658l24 0-9-9-3-6 0-3 5-3 18-6 1-3-7-9-3-6 6-12 0-6-2-3-7-6-3 0-7 2-5 4-4 6 0 3 5 9 0 3-6 15-3 9-4 6 0 15 4 0zM2246 658l7 0-1-5-3-1-1 0-3 3 0 3 1 0zM2300 658l5 0 7-9 10-9 2-3 1-3-2-5-7-7-6-3-7 0-7-6-7-3-3 0-7 3-13 9-7 4-5-7-5-3-3 0-4 2-4 4-1 3 2 4 7 1 6 0 3 1 2 9 2 2 14 1 13-3 5-3 1-9 2-3 2-3 4-2 3 0 3 5 1 3-1 3-1 3-7 6 0 3 1 9 0 3-2 3 3 0zM2397 658l37 0 3-9 2-3 12-6 2-3 1-3-2-6-5-3-11-6-2-3-4-9-3-3-3-2-3-1-7 0-7 4-4 5-2 6 0 9-3 6-4 9-1 3 3 12-1 3 2 0zM2495 658l20 0-4-5-3-2-3 0-7 2-5 5 2 0zM2219 654l7 1 3 0 3-3 0-3-1-3-5-4-7-1-4 0-2 2-1 3 1 3 6 5zM2189 636l3 1 3 0 8-6 2-3-3-1-13 1-4 3 1 3 3 2zM2061 614l6 1 4-2 2-6 0-6-5-9 0-3 2-12-3-6-9-9-7-10-7-2-20-3-17-6-4 0-2 3 5 9 5 15 3 4 3 3 7 2 20 6 5 3 0 3-8 6-3 3 0 3 1 3 5 4 17 6zM2579 589l3 0 3-3 7-11 7-5 10-2 10-2 0-13-7 1-13 7-14 2-13 6-7 2-3-2-12-13-1-9 1-15-2-6-5-6-5-3-3-1-4 1-3 3-5 15-7 9-5 24 21-7 6-1 4 1 1 1 1 12 1 4 3 2 14 3 10 5 7 1zM2242 580l17-2 1-4 0-3-2-3-6-4-23-9-7 0-3 3-2 4 1 3 2 3 16 10 6 2zM2404 574l10 3 7-1 9-5 4-3 2-3-1-9 5-15-1-9-2-12 0-3 6-12 0-3-2-4-4-2-3 1-5 2-3 3-1 6 2 9-1 3-5 7-7 3-10 0-4 1-3 4-1 30 1 3 2 3 5 3zM2418 556l-2-3-1-3 1-3 1-1 4 0 5 4 1 3-1 3-2 2-3 0-3-2zM2454 575l4 1 3 0 3-2 0-3-6-2-4 1-2 1 1 3 1 1zM2165 554l7 0 3-2 3-3 9-11 5-3 13 2 7-1 10-4 5-3 1-3 0-3-4-9 0-6 6-21 4-3 12-2 8-4 3-3 0-3-3-3-5-1-10-2-10 0-3 3-1 6-3 3-20 3-3 1-3 2 0 3-1 12-1 9-2 3-3 1-7 0-10-4-4-3-4-12-5-6-7-4-4-1-3 2-3 3-3 12-5 9-1 3 1 3 4 3 3 1 7-2 4 1 0 3-3 9 0 6 10 15 3 3 3 1zM2306 542l10 2 4-1 1-2 0-3-1-4-4-3-3-1-3 0-5 2-3 3 0 3 4 4zM2279 516l4 1 10-3 13 1 4-1 3-2 2-4 5-15 3-3 3-2 11-2 6-4 3-4 1-3-1-3-3-3-6 0-14 5-13 1-7 2-3 4-4 12-3 6-4 3-10 3-2 3-1 4 3 4zM2061 506l3-1 5-3 2-3 0-4-1-2-4-3-12-2-2 2-1 3 2 6 4 6 4 1zM2491 506l4-1 9-6 3-3 2-3-1-3-3-4-7-5-3-1-4 1-3 3-7 9-1 3 1 3 3 3 4 3 3 1zM1960 488l7 1 13-5 11-3 7-6 4-6 1-3-13-25-16-17-17-9-3-3-2-3-2-9-4-3 0 85 4 0 3 2 7 4zM1960 463l-11-12-2-3 0-3 3-5 3-2 3-1 7 1 7 4 2 3 1 6-1 6-4 6-5 2-3-2zM2558 488l4 2 10-3 7-3 3-3-1-3-12-3-7 2-5 4-1 3 2 4zM2125 477l3 1 3-1 4-2 0-3-1-3-3-3-3-1-3-1-4 2-1 3 1 4 4 4zM2390 475l4 0 2-3-1-3-2-15-3-4-3 0-7 3-6 4-3 3 0 3 2 6 4 3 7 2 6 1zM2602 473l7 0 10-2 0-19-2-4 0-3 2-4 0-41-3-1-4 1-3 2-10 13-3 6-1 6 7 24-3 18 0 3 3 1zM2158 466l4 2 16-4 11-9 3 0 17 7 10 2 4-1 1-3 1-12 0-6-1-3-5-3-14-1-2-2 1-3 5-5 2-4 0-6-2-5-4-1-3 0-10 6-7 2-17-1-3 1-5 4-3 6-3 12 1 6 7 9 0 3-4 9zM2296 453l10-2 5-3 2-3-1-3-6-5-3-2-3 1-4 2-3 10 0 3 3 2zM2044 449l3 1 4 0 6-2 3-3 1-3 0-3-1-3-4-3-5-1-4 1-3 3-4 6 0 3 4 4zM2394 444l6-2 5-3 4-6 5-13 3-5 4-1 6-1 3-4 2-18 0-6-8-24-3-2-4 0-13 4-4 1-3-1-9-5-4 0-4 2-2 10-2 3-6 2-7 0-9-5-5-6-1-6 4-12 0-6-2-5-3-2-10 3-17-5-4 0-6 3-1 3-1 3 2 3 3 3 17 8 4 7 8 9 6 15 4 6 7 3 15 1 3 1 5 4 2 6-2 18 1 6 7 11 4 3zM2283 419l3 0 2-1 2-3 1-6-1-3-3-3-8-4-6 0-7 1-3 2-2 4-1 3 3 4 5 2 15 4zM2508 415l7 0 13-5 5-4 1-3-1-3-12-11-3-2-7-3-3 0-2 4 3 12-2 12 1 3zM1980 400l2-3-2-1-3 1 3 3zM2014 394l3 2 3 1 2-3-1-6-4-4-3 1-2 3 0 3 2 3zM2246 388l3 0 3-2 2-7-2-6-3-4-9-8-1-3 2-6 8-12 0-3-2-9 0-3 2-3 7-3 10-1 7-3 16-9 7-1 17 3 7-1 6-4 7-8 2-6 0-3-2-3-27-15-6-1-7 0-7 3-3 4-3 15-4 4-3 1-14-1-13 2-14-3-3 0-6 6-6 9-1 18 8 12 5 15 6 9 0 15 2 6 2 3 7 3zM2074 383l4 1 0-2-4-1 0 2zM2545 382l13 3 4-3 0-16-3-5-14-9-7-3-6 0-12 3-5 2-12 16 2 1 3 1 24-1 4 2 5 6 4 3zM2283 376l-2 0 2 0zM2030 371l7 2 7-1 6-2 4-3 1-3-1-6-3-7-4-4-3-2-3 2-4 2-3 5-4 7-2 6 1 3 1 1zM2145 367l7 0 3-3 4-6 2-6 0-3-9-12-5-9-2-2-4-2-20-5-6 2-8 4-3 3 0 3 2 15 2 2 3 2 14 1 3 1 3 3 7 9 7 3zM2202 366l5-2 0-3-2-2-3 1-2 1-1 3 3 2zM2471 350l3-1 7-5 7 0 13 1 4-2-2-3-3-3-5-4-4-1-3 1-7 4-11 6-2 3 3 4zM1956 325l4 1 3 0 7-3 5-4 3-3 0-3-1-1-4-1-3 1-10 9-3 1-1 3zM2491 322l4 1 3-2 12-5 3-3 1-3-1-3-12-6-23-6-3 3 0 3 2 3 8 12 3 4 3 2zM1947 313l7-18-1-3-7-1 0 23 1-1zM2606 307l6 2 4-1 3-3 0-12-3 0-7 2-6 3-3 3 1 3 5 3zM1960 289l3 0 7-3 9-6 2-3-1-3-3-5-4-2-3-1-3 2-4 4-4 11-1 3 1 3 1 0zM2505 289l10 1 10-2 3-2 1-3 0-3-4-6-4-3-3-2-7 2-10 5-3 4 0 3 2 3 5 3zM2108 287l2-1-2 0 0 1zM2222 277l4 2 3-1 20-15 17-6 5-4 3-6 0-6-3-6-2-2-10-3-7-4-2-3-2-9-3-6-6-8-3-2-4-1-6 2-7 4-14 4-1 4 1 11 4 0 6-4 7 0 13 5 4 3 1 3 0 9-2 9-7 9-4 12-4 6-1 3zM2471 274l3-1 3-2 1-3 0-2-4-1-4 3-1 3 2 3zM2041 268l6 2 4-2-4-6-6-4-3 1-2 3 1 3 4 3zM2363 266l11 1 10-3 4-2 2-3 1-6-1-3-3-3-7-1-6 0-7 2-5 5-3 6 1 5 3 2zM2141 259l4-1 12-17 0-6-7-12-4-3-5-2-16 1-5-2-9-8-3-2-7 0-3 2-4 3-1 5 1 6 4 8 4 4 27 15 12 9zM2410 253l14-2 3 0 4-3 2-4 0-3-2-6-4-3-3-1-3 1-13 15-1 3 3 3zM1993 244l4 1 23 0 7-5 10-2 4-3 0-3 0-5-4-2-3 1-10 10-7 0-7-3-3-4-7-15-3-1-6 1-5 3-2 3 0 6 6 14 3 4zM2575 244l7 0 3-1 4-4 1-22-1-6-4-6-9-9-18-9-3-3-1-3 2-12-1-3-3 0-7 5-3 6-5 16 1 9 1 3 4 3 12 4 3 2 0 3-1 6 1 3 9 9 5 8 3 1zM2454 215l4 2 3-5 0-4-2-6-5-2-3 1-1 4 1 3 3 7zM2384 202l6 2 7-2 3-2 3-4 1-3 0-5-1-1-6-2-7-1-6 1-4 2-2 6 0 3 2 3 4 3zM1956 194l2-1-2-3-1 3 1 1zM2481 190l3 0 4-1 3-5 1-3-2-12 0-9-5-9-1-3 1-6 4-6 2-3 4-1 6 1 10 3 7 0 10-3 3-3 1-3-1-6-6-16-3-2-14-2-4-1-8-6-5-1-4 1 1 3 8 6 1 3 0 3-3 6-10 11-10 5-20 2-10 3-10 6-3 5-2 4 1 6 1 1 3 1 3-1 10-6 4-1 20 3 3 2 2 4-1 3-4 9 0 9 3 7 7 2zM2370 179l7 1 3-2 4-5 2-10-1-6-5-6-1-3-1-12-4-4-11-1-10 0-3 3-9 14-4 4-7 2-17-1-3 1-3 3 0 3 1 3 3 3 5 3 10 1 14-4 7 1 10 4 13 8zM2051 170l0-4-1 3 1 1zM1947 166l9-22 11 4 3 0 7-4 3-5 0-3-2-6-3-6-14-12-5-11-3-1-7 2 0 25 3 3 3 6-2 2-4-1 0 30 1-1zM2168 145l7 0 3-1 7-6 11-14 9-16 12-11 1-3-1-3-3-3-9-4-10 1-3 3-4 9-3 4-3 3-7 2-7 0-6-2-10 0-2-1-1-3-1-2-3-1-7 3-3 3-6 9-6 6-9 21 3 3 4 0 4-3 6-10 4-2 3 0 7 3 13 11 10 4zM2293 133l3-1 3-2 1-3-4-2-2 2-2 3 1 3zM2252 128l7 0 4-1 1-3-2-6 7-6 1-6-2-3-3-3-2-1-4 1-3 3-4 6-3 0-10-6-3-1-4 1-3 3-1 3 1 3 10 5 7 7 3 3 3 1zM2071 113l3 0 4-2 3-5-1-6-4-6-1-3 1-3 8-6 17-6 4-3 0-3-4-6-7-6-10 0-8 9-5 2-4-1-3-1-3-3-3-6-68 0-11 3-1 3 3 9 0 12 3 3 4 3 12 5 7 1 3 0 3-3 4-8 4-4 6-4 7 0 33 13 2 3-3 9 0 6 2 3 3 1zM2592 114l7-1 3-4-1-12-2-5-4-2-6 1-4 2-1 4 0 6 5 9 3 2zM2525 102l3-1 4-2 1-2 2-3-1-3-2-4-4 0-3 4-1 6 1 5zM2289 85l7 2 4-1 3-1 3-3 2-9 0-15-15 0-11 9-2 3 1 6 3 6 5 3zM1948 67l10-9-12 0 0 11 2-2zM2498 63l3-1 2-1 0-3-6 0-1 3 2 2zM2229 58l3 1 2-1-6 0 1 0z"/><path fill="#fec934" d="M1950 658l12 0-1-3-2-3-3-2-3-1-7 3 0 6 4 0zM2414 658l12 0 2-6 4-15-1-1-10 1-5 3-2 6-1 12 1 0zM2276 637l3 0 4-3 1-6-1-3-4-1-3 1-6 6-1 4 4 2 3 0zM2414 626l3-1 4-4 1-5 0-6-5-2-3 1-2 1-2 3 0 8 4 5zM2051 572l1-1-1 0 0 1zM2047 569l1-1-1-3-5-6-8-1-6 1-1 3 3 2 17 5zM2175 526l3-1 3-2-1-3-5-3-7 0-1 3 1 3 4 3 3 0zM2209 507l3-1 2-4 0-3-2-4-3 0-4 4 0 4 4 4zM2152 504l3 0 3-2 1-3-1-3-2-3-4-1-4 2-1 5 1 3 4 2zM2306 503l1-4-1-2-2 5 2 1zM1973 476l9-1 5-3 2-3 1-3-3-6-4 0-3 3-7 9-1 3 1 1zM1950 472l2-3 0-3-2-6-4-4 0 18 4-2zM2612 465l4-2 0-3-4-1-2 1-1 3 3 2zM2205 451l4 2 3-1 2-4-2-3-3 0-4 3 0 3zM2168 446l4 0 3-2 3-4 2-4 1-6-2-3-4-3-7 0-3 2-4 7 0 6 1 2 3 3 3 2zM2609 437l3-2 2-2 3-6-1-6-4-7-3 0-3 4-2 6 2 11 3 2zM1948 430l3-3-1-3-4-5 0 12 2-1zM2394 432l3 1 3-1 4-4 4-10 0-6 0-15-1-3-3-3-4-2-6-1-5 0-3 3 3 12-2 15 0 6 3 6 4 2zM2145 359l3-1 3-3 1-3-1-3-6-7-4-1-3 0-2 2-1 3 1 3 2 5 3 4 4 1zM2236 314l3-1 3-3-1-3-5-2-4 2 0 3 4 4zM2259 307l4-3-6 0 2 3zM2303 298l10 1 4-1 0-3-4-1-2-2-1-3 0-9-4-6-6-2-7 1-4 2-1 5 1 11 4 4 10 3zM2138 247l3-1 4-2 3-6 0-6-4-6-6-3-10 1-7 0-3-2-10-8-4-1-3 2 0 5 1 3 13 12 10 7 6 3 7 2zM2370 169l4 0 3-3 0-3-5-9-2-12-5-3-5-1-3 1-4 2-3 4-3 6-1 6 2 3 2 1 20 8zM2162 137l6 1 7-2 6-6 7-9 3-6-1-3-5 0-13 3-14 2-6 4-1 3 2 6 2 3 7 4zM2508 128l7 1 4-2 0-3-1-3-3-4-4-1-3 1-3 3-1 4 2 3 2 1zM2000 88l4 0 3-2 15-13 2-3 1-3-1-3-5-6-14 0-6 6-5 6-2 6 1 6 4 4 3 2zM2289 79l7 2 4-2 2-6-2-7-4-1-3 1-5 4-2 3 1 3 2 3z"/><path fill="#f9fb15" d="M2397 422l3-4 0-3-3-4-3 4-1 3 2 3 2 1zM2135 238l3-1 1-2-1-4-3-1-7 2 0 3 3 2 4 1zM2004 73l3 2 3-1 5-4 0-3-1-2-4 0-3 1-3 4 0 3z"/></g><g transform="scale(0.25)" fill-rule="evenodd" stroke="#000" stroke-width="1.4"><rect x="1947" y="788" width="664" height="590" fill="#3e26a8" stroke="none"/><path fill="#3e26a8" d="M1950 1378l661 0 0-590-664 0 0 590 3 0zM2099 997l-1-3 1-2 4-2 1 2 0 2-1 2-4 1z"/><path fill="#4741e5" d="M1950 1378l661 0 0-590-664 0 0 590 3 0zM2592 1310l-3-3 1-3 4-4 4 1 2 3 1 3-3 4-6-1zM2464 1098l-2-3 3-1 1 1 0 3-2 0zM2092 1000l1-6 3-6 4-2 3 0 3 1 2 2 1 3-1 2-2 4-3 2-7 3-3-1-1-2zM2379 835l-2-3 1-3 3-3 4-1 4 1 0 3 0 6-4 3-3-1-3-2z"/><path fill="#4563fd" d="M1950 1378l206 0 2-3 5-3 3 0 3 3 0 3 442 0 0-334-13 1-4 2-3 7-3 2-4-1 0-1 0-4 7-5 3-10 6-2 11-1 0-95-3-1-4-3-1-3 2-3 6-5 0-134-664 0 0 590 3 0zM2367 1372l-2-3 4-2 2 2 0 3-2 1-2-1zM2120 1369l2-3 4-3 7-1 5 1 0 3-7 3-8 2-3-2zM2589 1369l-2-3 3-3 4-1 4 0 2 1 1 3-3 4-4 1-3 0-2-2zM2590 1313l-4-3-1-3 0-3 3-3 6-5 4-1 3 2 3 7-1 6-2 3-3 1-8-1zM2591 1275l-1-3 1-3 3-1 4 4 0 4-4 1-3-2zM2280 1236l0-3 2 0 2 0 0 3-2 1-2-1zM2096 1186l-3-3 0-3 3-1 3 4-2 3-1 0zM2295 1172l0-3 3-3 4-3 2 3-2 4-3 3-4-1zM2076 1166l2 0-2 2 0-2zM2265 1157l-1-3 2-3 3 0 4 3-2 3-2 1-4-1zM2415 1148l-1-3 1-1 3-1 4 2 0 3-4 2-3-2zM2442 1115l-1-3 0-2 4-3 3 0 4 2-1 3-3 4-3 1-3-2zM2458 1104l-3-9-1-3 1-1 2-2 5 0 3 0 5 3 2 3 0 3-4 5-3 2-3 0-4-1zM2565 1089l2-6 4-3 3-1 1 1 0 3-4 5-3 2-3-1zM2095 1062l-1-3 2-3 4 1 0 2 0 2-4 2-1-1zM2259 1012l3-2 4 2-4 3-3-2 0-1zM2086 1006l0-3 5-11 2-6 3-3 7-1 7 4 1 3 0 5-5 7-13 8-3 0-4-3zM2264 871l-2-3 0-6 0-2 4-3 3-1 3 6 0 6-3 2-5 1zM2386 844l-7-3-4-4-2-5 1-3 2-3 6-4 3-1 4 0 3 2 1 3 0 9 3 9-1 2-3 0-6-2z"/><path fill="#2f81fa" d="M1950 1378l160 0 6-15 4-4 3-2 23-4 3 1 2 3-1 6 0 3 3 2 3 0 5-2 5-9 3-2 17-5 3 1-2 3-4 1-4 3-5 8-1 12 186 0-4-1-1-2-1-6 1-3 3-3 5-3 13-4 2 1 0 3 2 18 232 0 0-254-3 0-4-2-1-4 1-1 4-1 3 2 0-68-9 4-8 6-10 3-3-1-2-3-1-3 0-2 2-6 6-9 2-6 3-3 20-2 0-88-7-2-4-5-1-3 1-3 9-9 2-10 0-120-127 0 0 3 1 4 3 1 7 0 1 1 0 3-5 6-5 3-11 2-7-2-3-4-2-5 1-3 7-9-524 0 0 507 7 0 10 1 10-2 3-2 10-9 3-1 3 2 2 6-2 4-3 5-6 3-3 2 0 9-2 3-5 2-4 1-10-2-2 2-2 6-2 3-4 2-3 0 0 48 3 0zM2591 1375l-7-3-3-6 0-3 6-3 7-2 7 0 3 2 1 3 0 3-4 6-3 2-7 1zM2259 1372l-1-3 1-3 3-3 4-1 3 1 1 3-1 6-3 3-4 0-3-3zM2342 1334l0-4 3 0 2 1-2 3-3 0zM2379 1328l-7-4-8-2 5-3 3-1 3 0 8 10-1 2-3-2zM2411 1319l-3-3-1-3 1-4 4 1 2 6 0 3-2 1-1-1zM2590 1316l-6-3-3-3-2-3 2-3 2-3 13-11 2-3-10-8-4-7 0-3 1-3 5-3 4-1 4 1 3 3 5 9 0 3 0 3-4 6 2 4 2 4 2 12-3 6-4 3-7 1-4-1zM2308 1307l0-3 1-2 3-1 4 0 1 3-1 4-4 1-4-2zM2374 1295l-2-3 1-2 5-3 17-5 5 2 2 3-2 3-1 1-10 2-7 3-3 1-5-2zM2262 1284l-2-3 1-3 8-2 3 0 4 2 0 3-4 4-3 1-3 0-4-2zM2053 1272l-2-3 1-3 1-1 4 1 1 3-1 3-4 0zM2242 1272l1 0-1 2 0-2zM2293 1269l3-3 3 3-3 1-3-1zM2454 1257l-2-3 0-3 3-4 7-3 3 0 4 1 1 3-2 6-3 2-7 2-4-1zM2279 1242l-5-3-2-3-1-3 2-3 3-2 3-1 7 0 3 2 2 4-2 8-3 2-4 1-3-2zM2360 1201l-2-3 0-6 4-4 3 0 4 4 0 6-4 3-3 1-2-1zM2091 1192l-8-16-3-1-7 0-3-1-2-5 1-6 4-3 3 0 14 2 2-5 1-2 3-1 10 3 3 3-3 3-6 1-7-2-2 1-1 3 1 3 9 6 2 2 2 6-3 6-5 5-3 0-2-2zM2293 1177l-4-3-1-2 2-6 9-11 3 0 4 1 3 4 0 3 0 3-3 6-4 4-2 1-4 1-3-1zM2260 1163l-3-6-2-9 1-5 3-3 3-1 4 1 1 2 15 9 0 3-1 3-7 6-8 2-4-1-2-1zM2151 1154l-1-3 3-4 10-6 3 2 5 8-1 3-4 1-10 1-5-2zM2418 1154l-3-1-3-2-3-6 1-3 1-3 4-2 3 0 4 1 3 3 2 4 0 3-1 3-4 2-4 1zM2162 1136l0-6 1-3 3-3 3 0 4 2 1 4-1 3-4 4-3 1-3-1-1-1zM2344 1136l-2-3-2-6 2-3 3-1 5 4 2 6-3 5-4-1-1-1zM2444 1121l-2 0-3-3-2-6 0-2 1-4 6-5 2-3-4-7 0-5 4-3 6-1 20 7 2 3 1 3-2 6-1 4-4 3-10 4-10 9-4 0zM2005 1115l-5-3 0-2 1-3 2-3 9-6 1-3-5-12 0-3 2-3 7 0 3 2 7 6 8 4 2 3 0 3-1 3-3 1-10 2-4 9-6 4-3 2-5-1zM2052 1115l0-3 2-5 3-3 3-1 2 1 2 3 0 3-3 5-4 3-5-3zM2553 1098l-2-3 0-3 5-9 22-12 3 2 0 4-1 6-2 5-3 4-14 7-3 1-5-2zM2365 1071l-1-3 1-4 4-1 3 0 3 2 0 3-3 3-3 1-4-1zM2095 1068l-2 0-3-3-1-3 0-8 1-4 3-1 7 1 6 4 0 2 0 3-3 5-3 3-5 1zM2272 1059l1 0-1 0zM2240 1033l2-6 4-1 1 1 0 3-2 3-3 3-2-3zM2254 1021l-2 0 0-3 1-6 3-6 3-2 3 0 7 1 6 4 1 3-4 3-10 5-8 1zM2088 1012l-5-3-2-3 0-3 6-11 1-6-1-6 2-3 7-1 10 3 5 4 2 3 1 3-1 5-3 6-4 5-10 6-3 1-5 0zM1962 992l-8-5-4-4 0-3 2-6 2-2 3-2 4 1 2 3 0 9 2 3 9 3 3 3-3 2-4 0-3 0-5-2zM2258 989l-1-3 2-4 7-2 3 1 2 2 0 3-2 2-3 2-4 0-4-1zM2480 965l1-3 1-3 6-5 17-5 3 0 1 1 1 3-2 3-10 6-13 3-5 0zM2415 959l-3-3 0-3 2-3 4 0 8 3 3 3 1 3-5 2-3 1-7-3zM1993 953l0-3 2-3 2 0 3 1 1 5-1 2-3 0-4-2zM2025 938l-2-2 0-2 4 0 3 1 2 3-2 1-5-1zM2092 918l-2-3 1-3 2-1 7 1 2 3 0 3-2 2-4 0-4-2zM2014 909l-7-9-4-9 0-5 4-3 3-1 4 18 2 3 4 3 1 3-4 1-3-1zM2388 897l1-3 3-1 3 1-1 3-2 1-3 0-1-1zM2087 888l2-9 0-11 3-3 4 0 5 3 2 3 1 3-2 2-2 6-4 5-6 3-3-2zM2461 882l-3-2-1-4 0-2 1-4 4-2 3 0 3 0 6 3 1 3-3 7-4 3-3 0-4-2zM2259 874l-1-3-1-6 2-10 2-2 5-3 6-3 5 0 2 3-3 21-3 3-4 1-7 0-3-1zM2391 850l-14-6-3-3-4-6 0-6 2-3 7-6 6-3 7 1 3 2 2 3 0 12 4 9 0 3-2 4-4 0-4-1zM2123 1378l19 0-3-3-6-1-7 2-3 2z"/><path fill="#23a0e5" d="M1950 1378l146 0 1-3 9-4 2-2 2-3 3-14 3-3 17 2 17-2 9 3 4-1 10-5 10-12 3 0 10 14 1 3 0 3-3 3-11 5-4 3-2 4-1 9 49 0 1-5 3-1 3 3-1 3 25 0-2-9 1-6 7-6 7-2 7 2 1 3-3 12-5 6 72 0 1-6-3-6 2-9 1-6-6-11-4-15 1-3 16-2 8-4 14-6 3-3 0-3-7-9-1-3 1-2 2-3 3-2 13-4 6-3 8-9 6-4 4 1 2 3 0 6 3 9-1 3-6 8 8 6 6 18-1 3-3 3-5 0-7-3-5-6-1-6 6-12-6-1-7 0-4 1-3 3-2 6 0 6 1 3 6 9 3 15 8 11-1 3-1 2-10 0-4 2-1 5-1 15 89 0 3-8 3-2 4 1 3 1 5 8 93 0-9-12-6-6-3-6-13-8 1-3 3-3 9-4 3 2 1 2 2 11 3 3 4 3 6 1 17-3 7 2 2 3-1 6-5 8-4 4 11 0 0-69-3 7-4 3-3 1-7 1-10-4-6-4-4-3-1-3 1-3 11-9 4-5 0-3-11-18-1-3 2-3 19-9 3 0 2 3 3 9 5 5 0-111-3 0-3-3-1-3 3-3 4-1 0-22-6-1-4-2-2-4-1-3 1-3 2-3 3-1 7 1 0-44-13-3-7 1-3 2-2 3-6 21-3 3-19 9-3 0-7-3-7-5-3-4-1-3 0-9-4-15 2-1 3 0 17 11 6 1 7-3 6-5 1-3-2-9 1-2 8-15 2-10 4-3 23-1 0-78-3-1-1-2-8-8-4-6-1-3 11-9 2-3 2-9 2-4 0-114-116 0 6 3 3 3 1 3-1 3-8 12-15 3-15 5-11 12-3 1-4-1-1-3 1-3 6-6 4-5 0-6-4-12 2-3 8-6-35 0-2 3-5 2-4-1-2-4-38 0-3 1-4-1-17 0-1 6-2 3-6 5-3 2-3-2-1-5 1-3 5-6-79 0-3 3 3 12-1 6-2 3-3 2-3-2-2-3-1-12 2-9-25 0-4 1-1-1-118 0 3 1 2 2 0 3-2 3-4 2-3 0-3-5-1-6-152 0 0 141 2 4-2 4 0 37 3-8 4-1 6 1 7 1 2 4 0 6 1 3 14 9 3 4 2 4-1 3-1 1-10-2-13 1-17-6 0 35 4 1 2 3 1 3-2 3-5 2 0 111 3 2-3 4 0 124 7 1 10 3 10 0 6-2 7-8 3-1 3 1 4 5 2 9-2 5-7 12-1 9-5 8-4 3-13-1-3 2-10 7-7 1 0 42 3 0zM2322 1372l-3-6 0-3 3-3 3 1 3 2 3 3 1 3-3 4-4 1-3-2zM1991 1363l2-5 7-5 3 0 4 4 0 3-4 3-10 2-2-2zM2527 1363l-2 0-3-3-3-6 2-3 10-7 2 2-1 14-3 3-2 0zM2174 1316l-1-3 1-3 2-2 3 0 4 2 1 3-1 5-4 0-5-2zM2308 1313l-7-3-3-3 3-6 5-5 6-3 10-3 7 1 2 1 1 3-7 9-4 9-2 2-3 0-8-2zM2256 1307l1-3 2-2 7-3 1 2-1 3-4 4-3 2-3-3zM2545 1295l-4-3-5-11-4-6 2-3 4 0 10 6 9 3 3 3-1 3-4 6-5 2-5 0zM2263 1290l-11-10-3-1-10 0-3-1-1-3 1-9 3-2 3 1 10 9 4 0 23-3 3-2 6-6 4-2 4 0 5 2 4 3 2 3 0 3-1 3-4 1-16-1-3 3-5 9-6 4-3 1-3 0-3-2zM2137 1287l-4-3 1-3 2-3 4-3 3 0 3 3 1 3-1 3-3 2-6 1zM2048 1275l-2-3-1-6 3-6 2-2 3-1 4 2 6 7 2 3-1 3-2 3-5 2-4 0-5-2zM2449 1263l-2-3-5-12-4-3-13-5-1-1-1-3 2-1 3 1 7 2 7 2 13-2 10 1 7 2 2 4 0 3 0 6-2 5-7 4-7 2-3 0-6-2zM2118 1257l-7-3 0-3 3-3 2-1 4 0 3 1 3 3 1 3-4 2-5 1zM2547 1251l-2-1-3-5 1-3 2-1 4 1 6 6 0 3 0 1-4 0-4-1zM2280 1248l-8-4-4-5-1-3 0-3 1-3 4-5 4-3 3-1 10 4 4 3 1 2-1 9-3 6-1 2-3 2-6-1zM2040 1236l-5-3-2-3-2-11 2-6 4 3 1 6 8 11-2 3-4 0zM1962 1219l0-3 2-3 3 0 0 4-3 3-2-1zM2156 1216l-3-3-1-3 4-3 17-7 3 0 4 1 2 3-1 3-2 1-3 1-7 0-3 1-7 6-3 0zM2253 1210l-1-3 1-3 6-6 7-1 10 2 6-3 3 2-3 6-13 7-10 1-6-2zM2091 1207l-8-19-3-5-4-1-9 2-14 0-11 2-9 1-2-1-1-3 1-3 4-6 5-1 13 5 7-2 3-4 1-9 3-4 3-2 13-2 7-8 3-2 9 6 11 4 2 2 1 3-1 3-7 6-2 3 2 8-1 3-6 15-2 9-3 2-3 0-2-2zM2356 1204l-2-3-1-3 0-3 3-6 3-5 3-2 3-1 4 1 2 4 2 6-1 6-1 3-6 5-3 1-6-3zM2556 1201l-2-3-2-9-4-9 1-3 2-3 4-1 3 1 1 12 11 9 0 3-3 3-2 2-4 0-3 0-2-2zM2252 1180l-1-6 3-8 0-3-7-15 1-9 2-3 10-6 8-12 1-3-1-3-2-3-4-1-20 3-3 0-1-1-1-3 0-3 3-3 6-5 6-1 7 3 7 8 7 1 1 3-1 8 3 10 1 11 2 2 3 0 10-1 5 2 13 12 2 4 1 5-1 6-6 8-4 4-3 1-7 0-3-1-10-12-3 0-7 1-3 2-7 8-3 2-4-2zM2494 1177l-3-2 0-3 4-2 1 2 1 2-2 3-1 0zM2381 1163l-2-3-2-3 0-3 2-2 3-2 3 1 2 6-2 7-3 0-1-1zM2147 1157l-1-3 1-6 7-12 4-9 8-9 3-1 4 2 4 5 2 3-1 6-3 6-1 3 5 12-2 3-8 2-16 0-6-2zM2411 1154l-3-3-2-6 0-3 2-5 4-2 6-3 7 2 3 2 3 6 1 6-1 3-3 3-10 3-3-1-4-2zM1954 1151l3-6 3-1 4 4-1 3-3 1-6-1zM2341 1145l-6-6-3-2-13 2-3-1-3-2-1-3 1-3 3-3 6-2 7-1 3-2 3-7 4-2 3 1 7 5 5 8 2 6-1 6-6 7-4 1-4-2zM2501 1145l-1-3 1-3 4-2 3-1 6 3 0 3-3 3-6 1-4-1zM2578 1139l-1-3 3-3 4-1 2 1 2 3-2 3-5 1-3-1zM2097 1136l-2-3-1-6 2-4 4-2 3 0 3 2 7 4 1 3-2 3-6 2-6 2-3-1zM2045 1124l-9-3-2-3 2-8-3-2-3 0-3 2-7 7-10 5-7-1-8-6-2-3 0-2 2-3 10-9 3-3 0-3-6-9 0-3 1-5 4-3 6-2 7 2 10 10 10 5 2 5-1 12 2 2 10-5 7-3 3 1 4 2 1 6 0 5-1 6-3 3-11 6-3 0-5-3zM2438 1124l-3-5-2-9 5-12-1-9 1-3 2-3 5-4 7-2 9 6 11 4 3 2 2 3 0 6-2 6-3 5-4 3-10 4-6 7-4 2-6 1-4-2zM2129 1118l-1-3 2-5 3-3 3-1 5 1 1 3 0 2-2 5-4 2-3 1-4-2zM2146 1092l-4-6-9-4-4-5 0-3 4-6 3-4 4-1 3-1 3 1 3 2 0 3-1 9 1 3 4 5 1 4-1 5-3 1-4-3zM2353 1092l2-4 4-2 1 3-2 3-3 2-2-2zM2361 1077l-2-9 1-6 2-3 3-1 7 1 6 3 2 3 1 3-2 4-14 6-3 0-1-1zM2091 1071l-5-6-2-11-9-9 0-3 5-4 5 1 11 6 14 4 1 2 0 3-2 5-3 6-3 4-7 4-3 0-2-2zM2275 1068l-9-4-5-5-1-3 1-2 5-4 3-1 3 1 4 2 10 10 0 3-2 3-5 1-4-1zM2469 1048l1-3 2-3 10-5 9-2 4 2 2 2-1 3-3 3-5 2-13 2-3 0-3-1zM2000 1045l-5-3-8-3-3-3-2-3 2-3 3-1 6 0 6 4 1 3 1 6 0 3-1 1 0-1zM2240 1045l-17-5-3-4 1-3 8 0 4-2 5-7 9-9 7-18-2-11 2-6 2-2 6-1 10 0 4 1 1 5-1 5-7 9 12 9 2 3 1 3-1 3-4 3-13 4-10 5-3 3-4 10-3 5-4 0-2 0zM2382 1030l-2-3 2-2 2 2-2 3zM2125 1024l1-1 4 1-4 1-1-1zM2214 1024l-2-3 1-7 3-2 3 0 3 3 1 3-4 7-3 1-2-2zM2087 1015l-6-3-2-3-3-6 1-3 5-6 2-5-3-9 0-3 2-4 7-2 10 1 6 2 7 6 3 6 0 6-3 8-3 5-10 9-7 1-6 0zM2159 989l-1-3 0-3 5-2 6 1 2 1 2 3-2 3-5 2-3 0-4-2zM2474 980l-3-3-1-3 0-9 2-4 13-10 15-7 4-3 2-3 1-5 1-2 3-1 4 1 2 5-2 5 2 9 0 3-2 4-4 3-6 3-17 6-3 2-7 9-4 0zM2286 965l3 0-3 1 0-1zM2422 965l-9-3-6-6-1-3 0-3 2-2 7-2 7 1 10 6 10 3 3 3-3 3-4 1-10 2-6 0zM2235 962l1 0-1 0zM1992 956l-2-3-1-3 3-6 5-3 3-1 2 1 4 9 0 3-1 3-5 2-3 0-5-2zM2114 950l-1-3 3-1 3 4-3 2-2-2zM2320 947l2-3 7-4 10-9 2 2 0 3-1 2-8 5-4 4-3 2-3 1-2-3zM2028 944l-5-1-11-7-2-3 2-12-12-27-2-6 1-3 4-6 14-8 3 0 2 3 0 2-5 9 0 3 0 6 3 5 9 7 1 3-2 3-7 6-1 3 1 3 22 14 3 3 1 3-4 1-15-1zM2376 938l-1-2 4-3 4 0 2 0 1 3-2 2-2 1-6-1zM2095 924l-9-6-2-3-1-3 3-5 7 0 7 1 3 2 3 5 0 6-3 5-3 0-5-2zM2579 924l-4-3-2-6 0-3 1-2 4-1 3 2 3 3 3 7-2 3-6 0zM2334 921l-4-3 1-3 4-1 5 1 1 3-2 4-5-1zM2378 912l0-3 2-6 2-9 1-3 6-3 3 0 7 1 1 2 1 3-2 6-9 6-5 6-3 2-4-2zM2083 897l-2-3 4-15 0-11 1-3 3-3 4-2 3 0 10 4 10-4 4 0 4 2 0 3-3 6-2 8-3 3-6 1-14 9-10 5-3 0zM2468 891l-10-6-4-6-2-8 1-3 4-3 8-2 7 1 3 1 3 2 2 4 1 3 0 2-6 12-3 3-4 0zM2241 885l-2 0-4-3 4-3 7-1 3-1 3-3 1-6 1-12 1-3 3-3 21-11 12-10 5-1 3 1 4 6 0 3-1 3-3 2-10 2-3 2-4 12 0 12-3 9-13-1-7 2-7 4-11 0zM2281 885l1-1 1 1-1 3-1-3zM2184 874l-1-3 0-3 3 0 3 2 4 4-4 2-3 0-2-2zM2537 868l1-2 1 2-1 1-1-1zM2175 859l-3-3 1-3 3 1 1 5-1 1-1-1zM2390 853l-11-3-6-3-4-6-3-6 1-6 1-3 14-15 3 0 18 7-1 3-3 11 1 3 4 9 0 6-2 3-3 1-9-1zM2517 850l-4-3-1-3 3-4 3 1 2 3 2 3 1 3-2 1-4-1zM1964 841l-3-3-2-3 1-4 4-2 3 0 7 0 1 3-1 6-4 3-3 1-3-1zM2069 823l-2-3 3-3 6 0 4 3-1 3-3 2-3 0-4-2zM2404 815l2-3 2-1 4 1 2 3-2 2-4 0-3-1-1-1zM2214 806l-2-3 2-3 5-3 4 2-1 4-2 3-4 0-2 0zM2359 1349l3 2 3 0 7-2 5-6 0-6-2-3-3-3-3 0-7 2-5 4-3 3 0 3 5 6z"/><path fill="#01b8ca" d="M1950 1378l41 0 1-3-5-3-5-6 0-3 1-3 6-6 2-3 0-3-3-5-3-3-8-6-7-2-6 1-10 6-7 0 0 39 3 0zM2030 1378l60 0 0-3 1-3 2-3 8-6 7-17 2-3 3-2 20 6 17-2 9 0 4-1 10-8 5-5 1-3 0-3-10-8 0-4 0-3 4-4 6-2 4 1 3 2 2 3 1 9 4 9 3 10 4 8 2 5-2 6-4 3-10 4-3 3-3 5-1 6 40 0 4-9 3-4 3-1 4 2 2 3 2 6 1 3 12 0 0-12 4-9 5-3 10-3 10 1 3 2 2 3-1 6-8 15 46 0-3-3-2-6-2-9 2-4 3-3 10-2 2-3 0-11-2-6-4-3-6-1-7-8-5-3-8-2-10 1-3-1-5-4-2-2-3-1-4 2-3 3-2 7-1 2-4 0-3-2-7-6-3-6 0-3 2-3 7-6 1-3-1-2-6-6-3-2-13 0-3-1-2-3 2-16 3-4 3 0 3 2 10 9 7 2 10-2 5-3 2-3 1-3-2-3-7-6-7-12 1-6 5-8 1-3-1-3-5-3-10-2-2-1-2-3 0-3 1-5 9-10-2-3-7-3-1-3-2-9 2-11-6-9 0-15-3-3-9-6-1-3 0-3 3-9 0-8 3-6 7-6 7-4 10 0 4 1 6 4 16 5 2 3-5 14 1 9 3 4 13 5 4 0 3-1 2-5 4-5 13-6 7-10 13-4 1-1-2-6 0-6 2-3 7-6 3-6 0-9-3-12 1-2 8-10 7-2 2 3-2 6 0 3 11 5 7 6 5 10 0 4-3 1-10-2-7 2-13 20-4 5-3 2-2 3 1 2 6 15 2 9-2 6-8 9-4 2-3-1-10-7-3-1-15 1-1 3 3 12-1 9-6 11-3 3-11 6-1 9-9 15 0 3 1 3 10 6 2 5-6 24 12 6 3 3 13 18 2 2 17 6 6 5 10 0 4-2 4-5 4-3 12-3 6-3 10-12 7-4 6-1 4 1 4 4 6 15-2 11 0 15 2 6 4 6 0 3-7 6-4 1-13-4-3 0-3 3 0 3 1 6 8 11 1 6-1 3-3 5-3 1-7 1-3 2-2 6 0 6 81 0 2-12 2-2 3-2 3 1 8 3 10 9 6 3 36 0-3-5-10-4-14-10-10-5-4-6-1-5 22 1 3-1 10-6 4-1 10 5 10-5 3-2 3-5 4 0 6 3 5 5 1 3-1 8 2 3 3 3 7 0 13-3 10 1 0-13-7-2-10 1-4-1-3-3 1-6-1-3-3-3-15-9-3-3-1-6 3-7 10-2 3-3 2-2 0-3-2-4-7-8-8-12-1-1-7-1-9 2-1 1 0 2 4 6 3 1 10 3 3 2 1 3-1 6-2 5-15 9-6-1-7-5-9-14-9-6-1-3 0-3 2-4 4-1 13 1 9-2-7-12-3-6 0-9 1-2 3-1 7 1 3 2 14 12 3 6 3 3 7 0 7-3 2-3 1-6 3-3 3 0 10 4 7 2 0-84-3 0-4-2-4-5-1-3 1-3 1-1 10-5 0-13-15-5-2-3-3-17 13-1 7 1 0-18-2 0-1-3 0-9-1-3-6-3-7-1-3 1-3 6-4 21-10 1-13 6-6 2-14-6-6-5-3-4-3-15-2-3-7-6-1-3 2-6 4-3 6-1 7 2 3 2 14 12 3 1 7-1 4-3 1-3-1-9 1-2 8-13 2-5-1-15 2-1 10 3 13-1 7 1 0-66-7 1-5-2-1-3 2-9-1-3-5-6-3-3-3-2-7-1-8 1-5 8-3 1-4 0-1-3 2-3 8-6 0-9-4-12 8-2 7 2 3 3 7 9 3 2 4 0 3-2 3-3 4-15 3-2 0-96-3 1-4-3 3-3 4-1 0-8-107 0 4 5 1 4-1 3-4 6-2 6 1 6 2 4 3 2 10 2 3 9 4 6 3 4 7 4 10 5 3 0 7-4 3-1 3 4 3 9 0 3-3 2-10 1-6 6-4 2-3 1-3-1-6-5-3-9-1-1-10-5-7-6-3-6 1-9-2-6-5-6-8-4-3-1-6 1-4 2-6 9-17 8-7 0-5-3-2-3 1-6 7-8 3-6 0-6-4-12 2-6-16 0-1 3-3 3-12 3-3-1-4-8-27 0 0 12 6 6 5 2 4-1 9-5 4 0 12 13 2 3-2 2-2 2-14 2-3 2-2 3 0 6 4 9 1 6-1 3-2 2-6 2-7 0-20-5-3-2-5-9-3-6 2-9 10-11 5-12 0-3-2-3-4-3-7-2-3 0-3 2-7 9-1 3 2 9-4 2-4 0-3-1-3-2-7-8 0-6 4-12-64 0-2 3-1 3 2 12-2 12-3 2-4 1-6-3-7-6 0-12-2-9 0-3-9 0-7 6-2 3-3 9-7 5-3 0-6-2-2-3-1-3 2-5 8-7 2-3-48 0-2 2-3 2-3 1-5-2-2-3-36 0-1 9-3 3-10 4-6 2-4-1-2-2-1-9-6-6-140 0 0 61 7-2 3-3-3-12 1-3 2-1 3-2 10-3 7-2 3-1 3 3-1 6-5 15 0 3 4 9 2 6 0 6-3 9-3 1-4-2-2-2-2-9-2-3-3-2-7 4-3 0-7-3 0 45 3-1 2 1 2 3 1 3-1 3-4 1-3-4 0 11 3 1 4 6 0 14-2 12 1 3 4 2 10 2 4 2 2 3 2 9 2 3 10 7 4 5 3 11-1 3-3 1-13-4-17 1-13-2 0 23 8 2 3 3 1 6 0 3-2 3-10 3 0 72 2 4 0 3-2 3 0 19 10-11 7-5 0-3-1-9 1-3 2-3 8-4 10 0 3-1 15-12 1-3-6-9 0-3 3-10 4-8-1-3-10-13-9-5-4-2-3-6-1-3 4-4 10-1 7 1 3 2 3 4 5 13 9 11 2 6 11 14 14 10 4 9 2 1 10-1 3 0 4 1 3 5 2 6 0 14-2 3-9 6-1 3-2 9-1 2-7-2-7-5-3-2-3 1-10 8-4 1-3 0-10-12-3-3-17-10-3-1-3 0-12 14-1 3 0 6 4 9 0 3-5 4-16 3-7 3 0 113 17 4 6 1 7-2 4-8 3-1 6-1 3 1 5 4 4 9 1 6-8 14-1 3 1 9-3 9 1 6 4 5 11 7 3 3 4 8 5 8 5 10 5 6zM2048 1360l-2-3-1-3 0-6-2-2-6-3-7-1-4-2 0-3 1-6 3-4 7-4 4-1 6 2 4 4 2 3 0 6-2 9 1 2 5 6 1 3-1 4-4 1-5-2zM2453 1357l1-3 1-1 4 1 1 3-2 3-3-1-2-2zM2489 1340l-4-3 0-6 3-4 3-2 4 0 1 3-1 12-6 0zM2065 1325l-7-3-1-6 3-9 3-3 4-2 3 1 1 1 5 11 1 4-4 4-3 1-5 1zM2551 1322l-4-3 0-3 1-2 4-1 6 3 2 3 0 3-2 2-7-2zM2474 1295l1-2 3 1 1 1-4 1-1-1zM2131 1290l-3-3 0-3 4-6 8-7 3-1 3 2 3 3 2 6 1 3-1 3-8 3-7 1-5-1zM2049 1281l-6-4-2-5-2-6 3-6 11-12 0-2 2-1-2 0-3-3-13-3-4-3-5-6-4-8 0-3 2-6 4-7 3-1 4 1 3 4 2 12 16 17-1 9 1 3 11 18 0 3-1 3-8 6-3 1-8-1zM2450 1269l-7-3-2-3-3-9-2-3-14-6-4-3-3-6 0-3 3-3 7-1 13 4 7 1 13-2 14 3 3 2 2 5 0 12 0 6-2 3-4 3-9 3-12 0zM2109 1260l-8-3-1-3 0-3 3-3 13-6 4 0 10 3 3 1 10-3 3 0 5 2 1 3 0 3-2 3-7 5-10 0-13 2-11-1zM1996 1242l-2-3-1-3 4-3 3 0 3 2 1 4-2 3-2 2-4-2zM1960 1236l-3-2-3-6 0-6 3-9 2-3 5-3 13-1 2-2 3-6 4-12 1-9 2-3 8-7 3 0 3 2 6 8-1 3-13 6-2 3 1 3 6 14 10 5 7 8 1 3-5 5-3 2-3 0-4-3-2-4-3-9-1-3-17 0-3 2-7 10-4 6-2 6-3 2-1 0zM2161 1233l-2 0-1-5-18-21 3-2 13-3 13-8 7 0 7 1 3 3 1 3 0 6-2 6-2 3-10 0-4 1-5 8-1 10-2-2zM2370 1233l-5-5-3-12-6-6-7-6-4 0-6 6-4 0-3-2-3-4-1-6 2-3 5-2 10 3 4-3 3-4 4-9 3-2 10-3 3-2 3-4 0-3-3-9 0-3 1-3 6-5 3-1 3 0 4 2 2 4 3 12 0 3-5 8-12 9-1 3 0 12-5 12 0 3 6 9 4 8 0 3-2 2-4 1-5-3zM2189 1230l-3-2-1-3 1-2 3-1 14 1 2 2 2 3-1 2-3 1-14-1zM2071 1228l-2-3 1-5 3-2 3-1 4 1 1 4-1 4-4 2-3 1-2-1zM2468 1222l-4-3 1-3 8-9 3-9 2-3 10-6 3 9 5 9 0 3-1 4-4 2-6 0-7 1-6 4-4 1zM2091 1216l-5-3-2-3-4-15-4-6-6-1-20 0-13 4-7 6-3 1-5-1-4-3-2-6 1-6 2-3 18-11 3 0 13 3 4 0 2-3 1-12 2-3 14-1 4-1 3-3 4-10 1-12 8-9 4-2 3 0 10 5 3 1 4-2 6-13 7-9 2-3 0-3-2-3-10-9-1-3 14-20 4-2 6-2 4 2 5 7 1 3-1 12 7 18 4 5 7 5 4 10 7 12 0 6-2 6 0 3 1 1 6-1 4 1 3 5 0 4-3 5-4 3-3 1-17 1-19-1-7-1-2-3 2-12 0-9 7-6 9-13 5-7 0-3-1-3-4-2-3 0-5 2-2 3-2 8-5 12-2 6-10 2-10 3-10 2-6 2-1 3 3 3 10 4 3 2 5 6 0 3-10 9-3 11-5 12-1 12-2 4-3 4-4 2-5-1zM2556 1207l-4-3-2-3-6-21 0-3 4-4 7-4 3 0 4 3 1 11 2 3 8 6 2 3 0 3-4 6-3 2-7 2-5-1zM2454 1192l-6-4-1-5 1-3 4-2 3 0 3 3 4 8-2 3-2 1-4-1zM2490 1186l-4-12-5-8 11-3 3-3 1-3-2-6-6-7-4-2-1-3 2-3 16-3 7-1 7 2 3 2 2 3 0 3-2 4-13 8-3 6 0 12-1 5-6 7-4 3-1-1zM2192 1174l1 1-1-1zM2471 1163l-3-3-3-12 0-2 3-1 4 0 4 3-1 9 1 6-1 0-4 0zM2409 1157l-5-6-3-6 0-3 2-3 9-8 6-3 8-1 4-3 1-6-1-8 5-12 0-12 3-5 9-7 5-8 4-1 2 2 1 10 3 3 13 5 4 4 1 6-3 12-5 7-10 6-7 8-12 5-5 4-2 5 1 9 0 3-2 1-4 2-13 2-6 0-3-2zM2579 1145l-5-3-2-3 0-3 1-3 8-5 7-1 3 1 2 2 0 3-2 9-3 3-4 1-5-1zM1971 1095l-2-3-1-3 2-3 7-1 5 1 2 3-4 6-3 2-3 0-3-2zM2093 1080l-9-12-4-14-9-6-2-3 0-3 3-3 4-4 7-1 17 9 6 2 7 0 3 1 2 2 0 3-12 21-6 8-4 1-3-1zM2272 1074l-7-6-9-5-7-1-7 2-3-1-3-9-1-3-16-7-6-10-9-7 0-3 5-15 4-2 6 0 4 1 5 4 5 7 8-4 5-6 2-9 0-17 4-9 4-1 10 1 6-1 3-2 4-9 3-2 7-2 7 0 3 1 2 3-2 3-3 4-13 8-1 3-2 6 1 8 8 15 0 6-2 3-5 4-13 2-6 3-4 3-2 6-1 6 3 2 7-1 6 1 4 2 14 16 1 3-1 3-4 4-10 4-4-2zM2462 1054l-2-3 0-3 3-3 12-9 10-4 6-1 14 2 13-1 3 2 4 5-1 3-3 4-3 1-13-4-14 6-9 2-14 4-3 0-3-1zM2376 1036l-2-9 0-6 1-3 4-3 3 1 8 8 1 3 0 3-2 3-4 3-3 2-3 0-3-2zM2119 1030l-4-6 0-3 3-3 5-1 7-1 3 2 3 4 1 5-1 4-3 1-7 0-3 0-4-2zM2348 1021l-3-7 0-5 2-3 2-1 3 1 3 2 3 4 1 3-1 3-3 4-3 2-4-3zM2089 1018l-6-1-3-2-13-18 2-3 6-2 2-3-2-9 1-6 3-3 7-3 27 0 3 3 3 6 1 3 0 3-3 11-5 15-6 6-3 2-7 1-7 0zM2456 1018l-4-3-2-12-3-9-5-4-7-2-4-2-2-6 3-5 3 1 10 10 7 3 10 8 3 0 4-3 3-5-1-3-5-6-2-15-2-5-3-1 3 0 13-6 19-12 3-3 3-8 5-4 6-2 7 3 13 11 2 3-2 3-6 4-5 8-5 6-10 5-14 3-4 4-4 9 0 6 2 3 5 5 1 3-8 6-10 6-5 5-6 2-6-1zM2057 997l3 0-3 0zM2159 994l-13-5-4-6-6-6 0-3 0-3 3-3 4-1 10 8 13 2 7 1 3 2 2 3 0 3-1 3-3 3-8 3-3 0-4-1zM2316 994l-1-2 1-3 3-4 3-1 13 1 20-5 6 0 4 3-3 3-7 4-10 4-6 1-10 0-10 1-3-2zM2202 992l-1-6 1-3 4-2 3 1 4 7-1 3-3 2-3 0-4-2zM2237 968l-4-1-5-2-2-3 1-3 6-3 6 0 6 3 3 3 0 3-2 2-9 1zM2420 968l-8-3-8-6-3-6 1-6 1-3 2-1 3 0 14 1 13 7 17 3 4 2 2 3-26 12-12-3zM2562 965l0-3 3-5 3-2 4 1 2 3-1 3-2 3-3 1-3 1-3-2zM2117 962l-10-12-3-12-14-13-7-3-3 0-2 2-2 6-3 2-3-1-4-4 1-4 7-5 2-5 1-4-2-9 0-3 5-12 2-6-2-14 1-3 5-3 7-3 13 1 10-1 22 0 0 3-8 7-4 5-2 3 0 8-2 3-16 4-12 8-2 3 3 3 8 3 3 3 4 6 1 6-4 12 0 3 4 2 9 4 4 5 2 6-1 6-2 3-3 2-3-2zM2328 962l-4-3-12-3 0-3 5-12 10-8 2-3-1-3-3-3-3-1-23 1-13 3-4 0-3-1-7-7-3-2-3 0-4 2-3 5-3 2-4 1-3-1-2-2-5-8-3-3-3-1 3-1 20-1 7-4 13-5 2 5 5 4 20 4 13 0 13-5 7 1 5 2 4 3 1 3-1 9 1 15 1 2 9 6 1 3-1 3-4 3-16 4-7 1-4-2zM1992 959l-4-3-1-2 0-7 5-9 8-5 3-3 1-9 0-6-4-12-6-15 0-3 4-6 15-11 7-2 3 1 4 4 4 8-2 3-6 4-1 2-1 3 1 3 1 3 4 2 16 6 4 4 3 6 0 3-3 3-4 0-6-4-4 0-4 4 2 3 2 1 14 8 3 3 4 5 2 6-1 3-2 1-6 1-10-3-10-1-14-5-3 1 0 3 2 6 0 3-4 3-8 2-8-2zM2165 956l-3-3-1-3 1-3 4-1 6 1 2 3-1 4-4 3-4-1zM2378 944l-6-2-3-3-2-3 0-3 2-3 10-3 3-3-3-3-7-4-3-2-1-3 1-3 7-9 2-12 4-2 3-1 14-1 3 1 2 3 1 3-1 9-2 4-9 8-3 9 1 3 4 7 1 5-2 2-5 3-7 3-4 0zM2204 930l-1-3 1-3 2-1 3-2 4 1 2 2 0 3-2 4-4 1-3-1-2-1zM1971 924l0-3 3-2 3 1 2 1-1 3-1 0-3 1-3-1zM2474 918l-3-3 0-3 4-2 3 0 4 3 0 5-4 1-4-1zM2204 903l-1-3 3-1 20-6 0 4-2 3-5 3-6 2-4 0-5-2zM2531 903l4-6 3-3 3-1 4-1 7 2 5 3 3 3-2 3-10 0-13 3-4-2 0-1zM2278 897l-5-12-4-2-3 0-4 1-6 5-4 1-13 0-10 2-2-1 0-9 7-11 0-9 2-2 3 1 7 3 3-4 1-7 2-3 3-3 11-4 7-5 13-14 13-5 3 1 3 9 3 6 0 6-2 3-4 3-8 3-2 3-1 3 1 1 10 2 4 2 4 13 6 5-2 3-5 2-3 1-10 1-7 9-7 5-3 0-1-3zM2470 897l-5-2-13-10-2-6-2-11 0-3 3-3 4-2 17-1 6-2 3 2 1 6 5 9 0 2-5 9-4 9-3 3-3 1-2-1zM2182 879l-4-8-5-5-14-9-15-4 4-6 5-3 6-2 17 0 4 2 2 3 3 12 1 3 7 5 8 4 3 3-3 2-12 5-3 1-4-3zM2065 859l-2-3-2-6 2-3 7 2 3 4 2 3 0 3-2 1-3 1-3 0-2-2zM2481 856l1-1 0 2-1-1zM2155 835l-12-2-1-1-1-3 5-10 4-1 3 0 6 4 5 4 1 3-2 5-4 1-4 0zM2057 826l-2-6-8-7-3-10-10-6-1-2 0-1 1-3 6-2 3 1 4 2 5 8 11 10 7 2 10-1 3 2 2 7 0 3-2 3-7 3-16 0-3-3zM2588 820l-3-2-1-3 7-1 4 4-1 3-3 1-3-2zM2566 812l-2-3 1-1 2-2 4-1 3 1 6 6-2 2-4 0-3 0-5-2zM2134 809l-3-3 0-3 2-1 5 1 3 3 1 3-2 3-6-3zM2551 1378l25 0-2-6-3-3-8-6-5-9-7-4-6-2-4 1-1 2-1 6 4 9 7 12 1 0zM2369 1342l0-2 0-1-2 1 2 2zM2332 1313l7 2 3 0 4-2 1-3-1-3-1-6-3-3-3 1-7 5-2 3 0 3 2 3zM2362 1306l3-2-3-1-1 1 1 2zM2279 1303l7 1 8-3 13-14 0-3-3-3-8-2-7 0-2 2-9 14-1 3 2 5zM2266 1192l6 1 8-4 2-3 1-3-4-6-3-2-4 0-4 2-9 12 7 3zM2249 1122l4-1 0-3-1-1-3-1-2 2 2 4zM2292 879l2-3-2-3-2 3 2 3z"/><path fill="#31c69f" d="M1950 1378l31 0-2-3-8-6 3-9 10-9 1-3-1-2-4-5-3-3-7-2-3 1-3 2-4 5-3 1-10-3 0 36 3 0zM1960 1348l0 1 0-1zM2037 1376l2 2 46 0 1-6 11-18 9-14 4-4 3 0 3 1 14 6 10 1 6-2 6-2 7-5 7-2 5-2 2-3 0-1-1-2-7-6 0-6 4-9 7-4 7 1 5 3 7 15 4 6 4 8 3 2 4-1 4-3 0-9 1-3 4-3 4 0 3 2 7 7 8 6 2 3 1 9 2 3 3 2 3 1 20-2 4-1 2-3-3-9-4-3-13-6-14-18 0-3 1-3 7-6 2-3-1-2-2-3-5-2-4-1-16 1-7 11-3 1-2-7 1-3 8-4 3-3 3-8-1-18-2-6 0-4 1-2 15-10 10 1 4 0 3-2 4-6-1-4-3-2-10-2-4-4-2-9 1-12-2-15-3-6-6-3-3-2 5-6 2-6 1-6 0-6-2-4-8-5-3-3 0-3 3-12 0-8 2-6 16-12 3-2 10-2 3-2 3-3 0-6-2-3-4-2-7-2-3 1-7 5-3 1-3 0-3-1-1-2 0-12-3-5-3-3-9-3-5-9-3-4-6-2-10-1-4-1-12-13 1-3 11-6 4 0 3 2 3 2 1-1 2-6 0-3-5-9-4-11 1-3 3-3 9-4 3 2 4 3 4 8 2 6 0 5 0 1 7 5 7 6 3 1 3 0 3-4 3-9 0-20-3-4-13-4-10-5-3 0-7 2-3-2-4-14 0-12-7-11-1-3 2-3 11-6 0-3-5-3-16-6-11-9-2-3 3-5 0-7-1-5-2-3-4-3-10-3-6-4-7 0-13 7-5 6-1 11-1 2-3 2-13 3-9 5-1 3 7 6 13 14 6-7 4-2 3 0 3 2 3 5 1 6 0 4-2 2-2 1-6-1-10-5-3 5 0 3 11 11 5 11 3 4 7 1 3 1 7 8 3 2 17 1 6 4 5 4 0 3 0 3-5 6-13 6-7 2-6 0-13 4-4-2 0-2 0-11-1-3-5-2-4 0-3 3-3 7-3 12 3 5 3 1 10-1 3 2 9 20 8 8 2 4 1 9 4 11 0 12 3 12 3 5 11 7 2 3 1 8 4 6 5 4 7 1 3 1-4 9 1 6 5 12-5 12 1 3 7 8 1 3-1 3-4 6-7 7-1 20 1 3 3 1 10 3 3 2 4 5 0 3-5 3-15 3-3 3 0 3 2 3 12 9 1 3-3 3-6 0-6-3-7-6-7-9-3-1-10 7-7 8-8 7-1 3 10 18 1 3 0 3-6 2-16 3-13-1-4-2-1-2 4-6 12-12 2-3 0-3-3-2-3-1-30 2-4-2-4-6-1-3 2-12-1-6-2-2-4-2-3 0-10 2-5 2-4 12 0 6 2 3 10 17 4 2 14 2-1 9 5 5 1 3-5 3-8 3-4 3-1 3 0 3 2 9-3 6-7 4-10 2-4 3-2 6 0 6 5 8 1 6-1 3-2 2-3 1-7-1-5-2-8-8-4-2-3 0-3 1-1 3 0 3 3 9 2 3 6 4zM2165 962l-6-4-4-5-1-6 2-3 3-1 7-1 7 0 6 2 1 3-4 15-3 3-4-1-4-2zM2186 1378l29 0 7-18 4-2 7-1 3 2 3 7 3 4 2-4 1-6-9-13-3-3-4 0-3 1-7 5-10 2-10 10-13 7-2 3-1 6 3 0zM2282 1378l33 0-5-15 0-6 6-7 9-7 1-3 0-3-4-3-6 0-3-3-3-9-4-3-4-2-6 1-14 2-3 2 2 3 8 6 3 6-1 3-3 6-1 2 2 6 0 6-9 18 2 0zM2392 1378l21 0 1-3 4-1 6 1 2 3 36 0 1-3-1-4-10-6-3-5-2-6 1-3 4-4 3-1 10 3 3 0 6-3 2-3 1-3 0-6-2-6-3-3-12 6-5 1-3-2-7-6-3 0-14 2-10 7-3 0-10-3-3 0-2 4 1 3 4 6 6 5 0 3-6 15-3 2-7 2-3 2-1 6 1 0zM2421 1348l-2-2 3-2 3 2 0 2-4 0zM2508 1376l4 2 18 0-11-6-8-8-10-4-3-2-8-10-5-1-2 1-2 3-1 3 1 3 3 3 11 6 6 6 7 4zM2558 1378l13 0-1-3-2-4-7-2-3 2-1 1-1 6 2 0zM2548 1361l3 1 3-2 0-3-3-2-3 0-2 2 2 4zM2584 1350l4 0 3-1 1-1 1-2-5-3-4 1-1 2 0 2 1 2zM2508 1340l10 1 13-8 7-1 7 2 3 0 3-3-10-9-4-6 0-3 4-6 0-3-10-12-3-6-3-3-12-2 1-12 0-9 17 0 4-1 1-2 0-6-3-9-4-9 0-3 2-2 4-1 16 1 4 2 7 9 12 8 4-2 4-6 6-2 3-1 4 0 9 5 7 1 0-73-7-3-13-12-3 0-7 3-3 0-2-6-10-12 0-3 2-3 18-12 1-6-3-8-3-3-3-2-4 0-3 1-10 5-6 1-14-3-6-4-6-7-4-15-10-9-2-3 0-3 3-9 0-2-2-3-3-2-6-1-10 4-10 1-7 2-5 4-1 4-7 8-1 3 0 3 3 3 11 3 4 3 1 3-3 18-9 14-1 3 2 6 3 1 16-6 4-1 6 4 22 5 4 3 0 3-1 3-4 6-9 6-3 3-6 20-8 12-1 6 7 12-3 18-1 2-3 2-10 2-3 3-2 11 1 15-1 3-2 3-3 3-10 4-27 0-3-2-3-14-2-3-12-6-10-12-3-2-3-2-10 2-3 1-10 7-4 0-3-1-11-11-4-11-5-6-3-1-10 5-4 0-3-1-3-3-7-11-3-3-13 2-7 3-5 6-2 6 1 3 6 6 2 3-3 17 0 6 3 3 8 4 10 11 9 6 4 4 3 1 3-2-6-5-1-4 0-9 1-5 10 4 4 4 3 9-1 9 4 3 3 0 7-6 17-1 4-2 8-9 8-5 9-3 7 0 6 5 4 6 7 6 1 3-6 12-3 11-1 6 2 5 3 2 4 0 10-4 3 3 3 6 17 2 3 1 4 2 3-1 20-12 3-1 3 1 2 14-2 9 1 3 6 3zM2473 1301l-4-3-2-3 0-3 2-2 3-2 6-1 6 3 3 2 0 3-1 3-3 3-5 2-5-2zM2322 1251l-1-3 1-3 6-6 4-7 3-1 4 1 1 4-1 3-6 9-1 4-3 2-7-3zM2572 1225l-5-3-3-6-15-9-4-6-5-18 0-6 2-3 3-2 6-5 4-1 6 0 5 3 1 3-1 8 1 3 9 6 3 6-1 12 4 6 1 3 0 3-2 3-3 3-6 0zM2003 1334l7 2 3 0 4-2 6-9 7-7 7-3 10-3 3-3 9-11 1-6-3-4-7-2-4 1-9 5-4 1-3-2-1-1 6-9 1-3 0-3-3-5-6-2-3-2 0-3 3-3 10-1 5-5 3-6-1-3-12-6-9-8-3-1-3 2-6 4-4 9-4 3-3 1-3 0-5-4-6-9 1-5 4-6 0-3 0-3-4-3-3 0-7 3-4 6-2 5 0 9-2 3-5 4-4 1-3-1-3-5-5-13 4-18 2-3 5-3 14-4 2-5 1-3-2-6-1-1-10 4-4-1-5-5-4-6 1-3 8-2 2-3-2-2-3-1-5 3-2 2-3 2 0 98 10 4 7 2 3 0 3-2-1-3-8-9-2-3 0-3 1-2 4 0 13 9 16 4 10 7 8 12 0 3-8 6-5 8 0 3 3 9-3 12 1 3 4 3zM2286 1296l3 1 3-2 7-8-2-3-5-1-3 2-4 7 1 4zM2073 1290l5 0 3-3-1-5-4-3-3 1-4 4 0 3 4 3zM2256 1267l3 1 7-2 2-3 0-3-3-3-6-3-10-1-3 0 4 10 6 4zM2130 1240l3 1 17-4 2-4 0-5-5-6-7-6-20-11-4-1-3 0-3 4-6 11-2 11 0 6 4 3 14-2 10 3zM2173 1231l1-3-1-1 0 4zM2053 1228l7 2 3-2 3-9 11-9 1-3 0-6-2-4-3-3-6-2-17-1-7 2-3 2-2 3 0 3 5 9 3 12 7 6zM2392 1228l13 2 20-5 7 1 10 3 6-1 2-3-8-7-3-5-1-3 4-2 3 0 10 5 3-1 7-5 1-3 1-3-2-3-10-1-3-1-9-10-2-3 1-3 2-3 8-5 3-3 3-9 0-3-1-3-9-10-3 0-1 1 3 9 0 3-3 3-6 1-13 0-13 3-6 5-11 5-14 12-2 6 1 9 0 3 2 3 7-2 13-9 6 0 10 2-13 12-16 5-4 2-1 5 1 3 4 2 3 1zM2017 1210l3 0 2-3-1-3-8-4-4-11-2-1-4 0-3 1-1 3 1 3 3 4 7 3 7 8zM2143 1199l3 1 7-1 6-4 3-3 1-3 1-6 2-2 3-1 4 1 6 4 4-13 0-4-4-3-20-1-16 0-17 5-5 3-2 2-6 15 0 7 3 1 7-2 10 0 10 4zM2319 1194l3 0 10-6 13 1 4-3 2-9 2-3 12-3 4-2 1-3-2-9 0-6 12-15 0-3-3-12 2-3 6-1 4 0 3 2 1 2 0 3-4 9 1 3 2 2 3 1 4-1 16-13 10-4 1-3-1-8 7-12 1-12 2-5 8-7 1-3 1-12-1-5-6-8-2-4-2-9-2-2-8-4-1-3 2-4 3 0 4 2 3 2 4 6 13 9 3 2 7-1 13-9 7-3 9-1 14 2 13-2 3 1 4 3 3 5 2 12 1 2 13 6 11 10 3 2 3 0 4-3-1-9 1-2 9-13 3-5-1-6-5-9-1-3 1-4 3-2 4-1 3 1 10 7 3 0 10-1 7 1 0-57-10 0-5-3-2-3-1-3 3-9-1-3-4-5-3-2-7 0-3 1-3 3-3 6 0 3 6 7 1 5-1 3-5 6-15 7-3 5 0 6-10 0-7-3-3-3-2-3 1-3 7-8 4-1 6 0 4-2 3-4 3-9-6-6-2-3 0-3 5-7 7-7 1-3 0-3-3-6-8-5-7-1-13 4-7 0-5-1 0-3 15-19 3-1 7 2 13 4 7 5 13 4 3 3 7 9 3 3 4 0 3-3 2-4 1-15 4-3 3 2 0-86-7 2-3 3 0 11-3 3-10 3-4-1-6-6-13-5-7-5-2-3 0-3 5-3 17-5 6-5 4 0 3 2 3 0 10-5 7-2-18 0-5 2-3-2-75 0 1 3 2 6-1 3-6 9 0 3 2 4 3 3 10 2 3 2 5 15 8 6 8 3 3 0 10-4 3 0 3 4 1 6 2 6 7 10 4 1 10-3 1 1 1 3-2 3-14 4-3 0-7-4-9-1-6 3-7 6-1 2-3-1-13-9-4-1-10 3-3 0-3-2 3-12 0-3-3-5-4-3-3-1-3 2-7 7-1 3 1 4 3 4 9 6-2 5-7 4-3 3 0 3-1 15 2 9 2 8 4 1 13-4 7-1 3 2 10 11 13 9 0 3-13 9-10 12-8 3-15 4-4 2-3 6 0 6 2 3 8 7 1 4-2 3-12 9-7 10-3 1-7 1-13-1-7-2-1-3 0-12-2-6-3-3-10-5-4-3-2-3-2-9-2-4-4-2-14-6-4-3-2-3-2-12-4-2-23 5-10 12-4 2-10 2-6 2-5 3-3 3 1 3 3 1 27-3 27 4 3 2 1 2 0 3-5 11 4 9-3 9 1 3 7 9 0 3-8 11-4 3-6 4-2 3 2 3 6 2 4 1 6-3 7 0 5 2 1 3-2 3-6 3-2 3 1 12-1 3-3 3-3 1-13-1-4 1-10 11-3 10-5 7 0 3 4 12 1 9-2 6-5 6-10 8-3 0-10-9-7-1-4 2-2 6 0 12-6 17 1 3 2 3 3 2zM2595 997l-3-3-1-2 0-3 3-5 4 0 8 5 2 3 1 2-1 3-4 3-3 0-6-3zM2472 1190l6-2 3-2 2-3 0-3-1-5-4-2-6-3-4 0-3 2-3 2 0 3 3 8 3 4 4 1zM2017 1173l6 0 10-6 7-2 10 2 3-1 1-3 0-3-2-9-5-5-7-3-3 0-7 4-15 10-4 6-1 3 1 3 6 4zM1984 1164l3-1 0-2-4 2 1 1zM1990 1159l10-3 7-3 5-5 0-3-2-6-3-3-17-10-3-1-3 2-3 3-1 3 0 6 2 6 6 12 2 2zM2130 1156l3 0 4-2 1-6-2-4-3-1-3 1-4 4 0 4 4 4zM2070 1149l3 1 3-1 4-3 2-7-1-3-3-3-5-1-3 1-4 3-1 6 1 3 2 3 2 1zM2598 1142l3 2 7-1 3-3 0-4-7-3-3 0-3 3 0 6zM1948 1139l1-3-2-3 0 8 1-2zM2080 1123l3 0 3-1 10-9 4-2 3 1 10 4 3 0 4-4 5-11 2-6 0-3-2-3-2-2-3-1-14 3-16 0-6-3-3-3 0-6-1-2-2 5-10 9 7 15 1 14 4 5zM2309 1119l7 0 5-4 1-3 0-6 2-2 6-3 4-3 5-12 10-5 3-4 1-6-1-5-9-10 2-2 7-6 7-8 10-5 1-2 0-3-1-5-4-2-3 2-7 5-3 1-3-1-4-2-3-7-3-15-2-3-2-1-6-2-13 3-4 0-1-3 0-3 1-11 10-12 1-3-1-3-2-3-8-2-6 1-7 7-10 6-3 3-1 3-1 3 2 5 11 18 1 3 0 3-3 3-16 11-8 1-4 3 9 6 8 12 11 11 1 3-1 3-15 12-3 6 0 3 2 3 16 9 3 3 2 6 6 4 3 5zM2312 1074l-4-3-3-9 2-3 3-3 6-1 3 0 1 1-4 9-1 6-3 3zM1954 1116l3-2 10-10 1-3-6-12 0-3 2-2 1-1 5-1 17-1 3 0 3-4 2-6 2-12-2-5-5-6-3-1-7-1-3 1-7 6-3 1-7-5-3 0-10 1 0 62 7 4zM2053 1089l5 0 1-3-1-6 5-12 4-4 6 0 3-1 0-5-3-3-6-2-4-2-4-6-2-3-7 0-13 5-7-1-1-1-1-3 1-3 1-3 12-6 8-8 3-1 4 4 3 10 3 2 4 0 13-7 6 2 12 7 5 2 3 0 7-1 2-1 1-3-4-6-6-6-6-2-17-1-3-1-10-12-3-3-4 0-10 4-3-1-3-5-1-3 2-3 9-8 6-8 4-2 2-5 3-3 5-3 13-5 10 0 4-1 2-3-8-15-8-12-4-3-3 4-3 5-4 2-3 1-3-2-10-8-3 1-1 1 7 14-1 3-2 3-7 3-10 1-13-3-3 1-6 4-4 2-14 1-6 0-10-3-3-3 0-6 4-14-1-4-3-1-20 0-3 2-2 3 2 11-2 6 0 3 15 5 3 4 2 9 1 3 13 12 5 14 6 9-4 4-3-1-13-7-7-2-6 0-11 3-13-2 0 14 10 1 10 4 6-2 11-2 9-1 7 1 5 5 4 12 4 6 10 6 2 11 3 6 6 6 13 9 6 6zM2594 1090l7-6 1-4 0-3-4-3-4 0-3 3-1 3 1 8 3 2zM2116 1071l4 0 3-2 4-4 3-11 5-9 0-3-2-4-3 0-5 1-1 3 1 6 0 3-9 8-3 6 0 3 3 3zM2365 1010l4 0 3-2 7-8 2-3-1-3-5-4-3-2-7 1-6 3-5 5 0 3 3 3 8 7zM2448 980l7 1 3-1 2-3 1-6-1-3-2-2-6 0-5 2-4 3-1 3 1 3 5 3zM2262 970l4 0 3 0 2-2 2-6 3-3 6-4 7-2 13 0 4-1 3-4 8-15-3-3-12-2-6 2-10 4-4 0-6-2-7-5-3 0-7 4-3 1-10 0-4 1-6 4-3 0-7-5-3-1-4 1-5 6-1 3 1 6 2 6 3 3 4 0 13-4 6 0 10 4 2 3 5 9 3 2zM2455 951l10 1 7-1 6-3 9-7 3-3 1-2 0-6-1-3-2-1-13-4-9-4-2-3 1-12-1-3-6-6-11-6-1-12-5-11 2-3 9-6 3-1 10 1 7-1 5-5 8-11 10-4 0-3-1-3-2-3-4-2-3-1-3 3-4 6-3 3-20 8-7-1-7-4-3-3-3-9-3-2-20 4-4 1-1 3 0 3 5 15 1 3-1 3-4 3-6 2-7 0-13-3-10-2-7-3-6-9-6-6 2-7 1-5-4-3-7 1-5 2 1 3 7 9-2 3-5 3-6 1-16-2-3 2-6 5-1 3 5 18 5 3 10 1 3 1 0 3-7 6-14 3-12 6-6 6-1 3 2 3 7 3 8 2 7-1 9-3 7-1 10 2 10 3 3 1 4-1 10-9 2-5-2-3-7-2-1-1 0-3 21-8 17-6 3 1 3 4 5 9-2 9 1 9-1 3-7 6-2 3 1 9 5 8 3 3 4 1 6 0 4-1 3-2 1-6 2-5 4-2 8 1 5 3 0 3-3 3-12 5-1 3 2 3 4 4 13 1 7 2zM2359 939l0-3 0 3zM1990 918l3 1 4-1 0-3-3-15-4-6-3-3-10-3-10-7-3-2-7 0-10 3 0 17 3 1 5 3 9 9 3 1 13-4 4 1 6 8zM2060 916l7-1 3-3 1-3-1-9 0-3 8-12 0-9-2-4-3-3-10-2-6-14-4-3-5-3-3-3 2-9 0-6-1-3-7-6-1-2 1-9 0-3-3-3-13-8-6-1 3-1 7-5-61 0-9 3-3 3-4 7-3 3 0 24 10-5 13-5 7-3 7-1 3 2 2 4 0 3-6 15-1 6 0 3 7 15 0 12 1 2 3 1 4-1 13-9 7-3 6-1 4 0 7 8 10 5 0 3-3 9 1 6 8 10 4 8 3 3 3 1zM2246 904l6 1 7-2 9-6 2-3-1-3-3-1-7 4-17 0-5 3 0 3 9 4zM2193 892l3 1 7 1 10-3 4-3 2-3 0-6 2-3 4-2 2-3 0-3-3-9 2-5 3-2 13 0 10-8 15-6 3-3 1-3-1-3-11-4-12-10-3-3-1-3 1-9-2-3-3-1-3 1-5 9-12 9-3 1-7-3-6-7 0-3 0-3 11-12-39 0-2 5-4 3-3 2-7 1-3 0-6-5-4-3-1-3-21 0 0 3 2 5 17 2 10 9 5 8 8 8 18 12 5 3 4 0 16-4 4-1 6-4 4-1 5 1 4 3 1 3 0 3-4 5-3 1-10-2-3 0-7 4-13 1-4 1-1 5 0 3 3 6 8 4 11 2 3 3 2 5-6 3-12 3-5 3-1 3 2 4zM2080 853l3 2 3-1 17-5 17 3 6 0 7-2 4-3 1-3-4-12 2-9-1-5-9-10-3-3-3-1-7 1-10 5-10 3-2 2-1 3 0 5-1 3-3 2-6 3-11 1-5 3-1 3 1 3 9 6 7 6zM2312 832l4 2 3-1 14-10 0-3-2-5-8-9 4-9 0-3-2-3-4-3-44 0-2 6 0 3 4 7 7 7 6 2 4-1 10-5 3 2 0 17 3 6zM2435 822l7-3 3-2 3-5 1-3-1-3-3-6-3-4-4-1-13 5-3 3 0 3 13 16zM2362 813l3 1 4-2 2-3 1-6-1-3-2-2-4-1-3 1-4 5-1 3 1 3 4 4zM2067 806l6 0 6-3 4-3 2-3-2-3-16-6-17 0 6 6 5 9 6 3zM2392 800l3 2 4-1 6-4 2-3-1-6-18 0 2 9 2 3zM1950 791l3-3-6 0 0 4 3-1z"/><path fill="#64cd6f" d="M1950 1378l12 0-2-3 1-12-1-3-10-11-3-2 0 31 3 0zM2043 1376l2 2 33 0 9-15 1-6-2-4-6-6-5-10-5-2-3 1-4 2-1 2-1 6 5 8 1 6-1 6-3 3-16 0-10-5-2 2 1 3 7 7zM2189 1378l21 0 5-12 0-3-1-3-1-1-4 0-17 10-3 3-1 3 0 3 1 0zM2286 1378l23 0 0-6-4-12 1-3 7-11 1-3-5-9-1-9-2-3-4-2-6 1-3 1-2 3 5 12-3 11 1 12-2 6-8 12 2 0zM2399 1378l4 0-1-1-3 1zM2432 1378l21 0 0-3-1-3-8-12-2-6 0-6 7-8-1-3-5-6-5-2-6 0-4 1-3 4 0 3 9 9 1 2 0 3-2 3-5 2-10-2-3 0-4 6 1 7 3 2 10 1 3 3 4 5zM1974 1351l3 0 2-3 0-2-3-3-2-1-4 0-1 4 2 2 3 3zM2262 1343l4 0 3-3-1-3-6-4-6 1-2 3 1 3 4 2 3 1zM2465 1343l5-3 0-3-2-2-3 0-4 2-2 3 3 2 3 1zM2130 1340l10 0 3-1 3-2 1-9 2-3 7-5 3-4 4-9 3-9-3-2-7 0-13 5-13 2-4 0-6-2-7-1-20 4-5 3-1 3 2 9-4 12 2 3 9 5 4 0 9-11 0-3-2-3 1-3 4-3 14-8 4 2 1 6-2 3-13 3-5 3 1 3 7 6 4 3 7 3zM2511 1337l7 0 3-2 9-7 2-3-1-3-3-2-3-1-10 1-4 1-3 7-1 6 4 3zM2242 1326l4 1 3-1 0-4-3-6-7-9 0-3 1-3 9-9-1-2-6-3-6 0-6 3-3 2-4 12 0 3 6 6 7 9 6 4zM2010 1318l3 0 4-3 4-11-2-3-2-2-7-2-3 1-4 3-1 3 0 3 1 3 7 8zM2203 1317l3-2 2-2 1-3-1-6 0-9-2-8 2-3 15-7 3-5 0-3-1-6-2-6-5-6 0-3 0-9-2-2-13 0-6 2-1 3 2 3 13 9 0 3-1 3-4 3-7 1-6-1-20-13-4 0-3 2-11 11-1 3 2 7 13 20 7 1 4-2 3-3 3-1 2 2 0 5 6 9 2 7 3 5 4 1zM2455 1314l7 1 6-1 3-1 3-3-1-3-9-9-4-6 5-8 3-3 7 1 16 5 7-2 6-4 4-4 2-5 1-3-1-3-4-3-9-3-4-3 1-3 4-5 3-1 17 7 10 1 3-2 0-6-2-6-5-6-1-3 2-6 3-4 3-1 4-1 13 2 7-1 1-3-2-3-14-9-1-3 0-12-3-15 1-3 2-2 12-9 14-1 3-2 2-6-2-6-7-7-11-5-3-3 4-3 10 1 7-1 6-4 7-5 1-3 1-6-2-3-3-4-4-1-3 1-10 5-6 2-14-1-2 1-3 3-3 9 6 9 1 3-1 3-2 3-3 3-18 12-7 17-9 15 0 6 8 9 0 3-3 9-1 9-2 5-4 4-10 2-3 3-2 3 0 9 4 9-2 3-4 6-13 11-3 0-13-3-5 1-3 3-1 3 0 3 8 5 2 3-3 9 0 3 2 5 3 2zM2525 1311l3 0 3-1 3-3 1-3-1-3-9-11-4-2-3 0-4 4 0 6 0 3 4 5 7 5zM2428 1309l4 0 3-3 1-5-1-3-3-1-4 4-1 3 0 3 1 2zM2047 1300l3-2 1-3-1-1-3 1-3 3 3 2zM2110 1280l3 1 3-1 7-3 6-5 1-3-4-1-17 1-2 3 0 3 3 5zM2003 1269l7 1 3-1 2-3 5-8 3-3 14-2 2-2 1-3-4-3-6-3-7-5-3-1-5 3-5 8-3 4-7 3-7-1-9-8-4 0-4 3-1 3 0 3 1 3 4 3 13 4 10 5zM2083 1269l3 0 3-3-1-3-4-6 0-3 3-9 0-3-1-3-3-1-7 0-3 1-2 3-2 6 1 6 6 11 4 3 3 1zM2375 1269l4 2 15-11 15-6 3-3 0-3-3-6-4-3-3-2-7 0-6 3-10 6-7 0-3-1-4-3-11-14-2-5-3-2-2 1-2 3 1 8-4 12 0 3 1 3 12 12 14 2 4 1 2 3zM1947 1260l0-2 0 4 0-2zM2306 1250l3 0 13-10 5-7 2-5 0-3-6-9-2-6-2-3-3-1-10 1-5 3-2 4-1 2 2 3 4 6 0 3-3 14 1 5 4 3zM1948 1245l0-6-1-4 0 12 1-2zM2608 1237l3-3 0-60-17-11-3-1-3 0-14 8-3 5 0 5 7 5 3 4 6 21 1 9-3 9 0 2 9 1 14 6zM2219 1236l10-2 15-12-5-16-3-4-3-1-7 3-7 9-3 3-1 3 4 17zM2113 1232l17 1 13-2 0-3-10-4-10-11-3-2-4 0-4 2-3 6 0 9 2 2 2 2zM2252 1227l4-1 1-1-5-2-3 2 3 2zM2050 1222l3 2 4 0 3-2 12-12 2-6-1-3-2-3-7-3-11-1-5 1-4 3-1 3 3 9 2 9 2 3zM2399 1222l6 2 7 0 16-3 4-2 1-3-5-6-6-4-4 0-3 1-7 5-12 7 1 3 2 0zM2199 1211l4 1 3 0 2-2 4-6 5-6 6-10 3-2 7 1 3-1 1-3 0-3-1-2-3-1-6 0-11 3-7 4-10 14-2 9 2 4zM2438 1202l7 0 2-1 1-3-2-3-4-5-4-3-3 0-4 2-2 3 1 3 2 3 6 4zM1950 1198l4-3-1-3-1-3-5-6 0 15 3 0zM2146 1196l7-1 4-3 1-3-1-9 3-3 8-5-2-3-10-2-13 1-13 4-4 2-3 3-1 6 1 4 3 2 10 1 10 6zM2385 1197l4 1 10-6 13-1 3-1 3-4 2-6 2-1 10-1 3-2 5-4-1-3-5-3-6-2-8 2-8 6-13 5-12 9-3 3 0 3 1 5zM2472 1184l3 0 3-3-1-4-5-1-4 1 0 3 4 4zM2020 1169l3 0 4-1 10-6 7-2 2-3 0-3-2-3-4-2-3 0-4 1-11 7-5 6-1 3 4 3zM2206 1169l3 1 4-1 5-9 11-3 4-3 1-3 1-6-1-3-2-3-10-6-3-3-2-3 5-9 1-11 3-6 2-3 9-6 7-9-2-2-13-3-1-1-2-3 2-9 0-6-2-3-3-2-10-1-3-2 0-6 0-3-2-3-5-2-4 0-4 2-6 4-3-1-3-3-5-12-11-9-2-3-3-6-6-3-6 0-6 3-1 3 0 6 5 12 10 12 3 14 5 12-2 12 2 9 3 3 12 6 3 3 1 3 0 8 3 3 5 1 6-2 4 0 3 1 5 9 0 3-8 6-2 3 0 6 4 9 0 3-4 9 2 3 3 3zM2188 1059l1-4 4-2 1 1 1 2-5 3-2 0zM2325 1167l4 1 4-5 1-3-1-3-4-3-4 0-1 3-1 3 2 7zM2352 1166l3 2 4 0 5-2 0-3-2-5-3-2-4 1-2 3-2 3 1 3zM1993 1150l4 1 6-3 3-3 0-3-6-4-7-3-3 0-2 4 0 3 2 5 3 3zM2369 1138l3-2 1-6-1-4-3-4-4-1 0 3 0 7 4 7zM2399 1131l3-1 3-2 10-10-1-3-10-5 1-3 3-2 14 0 6-4 2-6 2-12 7-9 2-6-2-12-11-19-6-4-10-2-7 1-6 4-3 3-1 3 0 3 2 3 11 4 3 2 2 2 0 3-1 3-6 6-2 3 0 9-2 7-3 4-4 1-10-1-6 1-7 4-3 5 1 3 2 2 9 4 18 2 1 3-2 12 1 4zM2515 1128l7-1 6-3 1-3-1-6 1-8-8-24-6-6-10-6-2-3 1-3 4-5 2-4-2-2-3-1-7 3-10 0-5 0-3 3 2 5 6 6 9 4 0 3-2 6-7 9-4 18-6 8 0 3 4 2 3-1 6-6 4-1 3 2 6 7 11 4zM2083 1118l3-1 3-2 7-9 4-2 3 1 7 5 3 1 3-2 4-5 1-3-1-6 0-1-4-2-20 2-17-2-3 1 0 5 3 9 1 7 3 4zM1950 1108l4-1 3-2 4-4-1-3-3-7-6-8 0-3 3-3 3 0 13 2 10-1 7-2 2-2 1-3 3-12-1-3-2-3-3-2-3 0-10 8-17 9-3 1-7-2 0 40 3 1zM2296 1096l6 1 20-2 4-3 0-3-4-4-10-3-10-9-3-1-3 1-8 4-3 3-3 6 1 3 3 3 10 4zM2249 1082l7-1 2-1 2-3 0-3-4-2-4 0-3 2-3 6 3 2zM2047 1077l3 1 3-2 3-5 2-9 0-6-3-5-2-3-3-1-17 5-2 2-2 2 1 6 1 3 6 5 10 7zM2329 1078l16-2 3-2 1-3-1-3-3-3-10-5-3-1-7 2-4 4 0 6 4 6 4 1zM2120 1063l1-1-1 0 0 1zM2292 1054l7 2 13-5 23 0 7-2 7-4 1-3 1-3-12-12-4-9-2-9-2-3-2-1-4 0-6 4-10 17-3 0-10-2-7 2-4 4-4 6 1 3 4 9 6 6zM2548 1054l7 2 3-2 13-14 2-4 0-3-2-4-6-4-4 1-3 5-3 2-7-1-7-4-2-4 0-3 2-3 4 0 13 4 3-2 7-9 3-3 7-2 3 0 3 1 7 6 3 1 5-2 2-3-1-3-10-6-3-3-2-5 0-6 3-6 3-3 3-1 14 3 3-3 0-7-1-1-12-3-4-1-6-6-4 1-6 9-14 9-1 3 4 9-1 3-5 3-6-1-27-9-4-2-4-9-2-2-7-1-13 3-5 3-1 3 1 6 9 8 4 6-2 3-13 9-2 3 0 3 1 3 7 3 8 1 6-1 6-3 1-3-1-6-4-9 1-3 4-2 4-1 2 3-2 9 1 6 5 12 5 9 1 9 3 3 11 6zM2017 1042l3 0 6-9 11-6 3-3 4-6 0-3-1-3-3-3-5-3-3-3 2-3 16-10 4-4 0-3-1-3-5-9 2-2 13-1 18-6 4-3 5-6 1-3-1-4-4-2-3 1-4 2-12 10-14 3-13 6-10-1-10 1-33-3-3 0-2 2 0 6 2 5 3 4 9 6 2 3 1 8 1 4 3 4 8 4 1 3-1 12 1 9 1 6 4 3zM2103 1036l4 0 0-3-4-3-7-3-4 0 1 3 10 6zM2067 1031l4-1 3-3 1-3-5-11-3-2-4 0-2 1-1 3 0 3 3 10 4 3zM2408 1025l4-1 10-13 3 0 8 4 5 1 4-4 1-6-1-3-4-3-10-4-3-3-7-17-3-3-13-3-5-2-2-3-1-12-2-3-3-1-4 1-13 5-8 7-3 6 5 3 26 3 3 1 3 2 1 3 0 3-4 11 0 3 3 6-3 12 4 5 3 2 6 3zM1970 1019l10 0 3-1 3-3-2-3-4-2-3-1-3 0-6 3-1 3 1 3 2 1zM2611 1015l0-9-3 3 1 3 2 3zM2173 1010l6-2 7-5 3-6-2-3-4 1-7 2-7 3-2 3 0 3 2 3 4 1zM2123 1005l3 0 2-2 2-9-2-2-2-1-3 4-1 5 1 5zM2365 1004l4 0 4-4 1-3-2-3-3-1-4 0-3 2-2 2 1 3 4 4zM2233 1001l3 1 3-1 2-4 0-5-2-12-2-3-5-3-9-3-4 0-2 3 2 6 14 21zM2296 998l3 2 3-1 4-3 1-4 1-9 7-9 1-3-2-3-2-1-4 1-6 6-10 5-3 4 0 6 7 9zM2452 974l2 0-1-3-1 0-1 3 1 0zM2189 971l7-1 3-2 1-3 0-6-2-6-2-5-3-3-4 0-3 3-4 8 0 6 2 6 2 2 3 1zM2266 958l3 0 13-8 2-3 0-3-5-4-10-2-8 0-7 3 5 7 3 7 4 3zM1970 953l4 2 3 1 2-3 3-12 0-3-2-2-3-1-7 0-3 2-1 1 0 6 4 9zM2226 950l4-3 0-3-4-3-3-1-3 1 0 3 0 3 3 3 3 0zM2458 948l7 1 10-2 7-5 3-4 1-2-1-3-2-3-8-5-10-2-5 1-3 3-9 11-1 3 4 3 7 4zM2584 948l4 0 1-4-1-3-4-1-1 1 0 3 1 4zM2302 945l3-4 1-3 0-2-2 0-2 0-3 4 0 4 3 1zM2173 939l13 0 3-1 1-2-4-12 3-9-1-3-9-7-13-6-7-5-2-3-1-6 2-9 0-2-4-6-4-3-7 1-7 4-4 4-1 5 1 9-2 4-4 1-13 1-5 3-1 3 6 8 3 2 4 1 10-6 3 0 3 2 14 17 1 9 1 3 4 1 17 2zM2541 936l7 0 3-3 9-9 2-3 0-3-1-3-3-3-7-3-6 0-17 6-4 3 0 3 1 3 5 6 5 3 6 3zM2412 935l3 0 3-2 4-11 3-5 7-1 13 2 7-2 3-3 4-7 0-3-1-4-3-3-3 0-10 3-7 0-13-6-4 1-3 2-1 4 3 9 0 3-9 6-2 3 0 3 1 6 5 5zM2501 913l7-2 13-10 7-6 4-7-1-3-2-3-4-3-4 0-13 6-10 6-2 3 0 6 3 12 2 1zM2060 910l3 0 1-1 2-3-2-6 1-3 8-8 2-4 0-6-2-3-3-2-7 0-6 1-6 4-3 6 0 6 6 9 3 6 3 4zM2594 911l4-1 1-4-4-12 2-12 1-1 3 0 10 1 0-70-4 3-1 3 2 8-1 3-3 2-16 5-7 0-10-3-3 2 0 18 3 6 3 3 4 1 13-3 3 1 3 1 3 3 0 3-4 11-12 3-3 2-4 4 0 3 1 3 10 4 2 2 1 6 3 5zM2306 906l3 1 7 0 13-5 20 4 3 1 3-1 3-3 1-3-5-9 0-3 1-2 4-2 13-4 6-4 6-5 2-3-1-3-5-3-15-4-10-10-3-1-3-1-27 3-3 2-3 5 0 6 1 6 5 3 13 2 4 3-1 3-13 11-13 1-5 3-4 6-1 3 4 3zM1964 905l3 1 3-1 3-2 3-3 0-3-1-3-8-8-3-2-7-1-6 2-2 3-1 3 1 3 15 11zM2418 888l7 0 13-3 4-2 1-4-2-5-6-6-13-5-7 1-3 1-3 3 0 3 0 5 4 6 5 6zM2555 883l3-1-3-1-2 1 2 1zM2166 878l3 0 1-2-1-2-4 0-1 2 2 2zM1997 868l3 0 5-3 5-2 20-5 8 10 5 2 7 0 4-2 2-6-2-6-4-3-7 0-10 2-1-2 1-6 7-9 1-3-1-5-7-4-2-3 0-3 3-11-1-3-3-2-7-3-16-1-7 1-10 3-3 0-10-9-3 0-10 2-4 2-6 8-7 3 0 12 20-7 10-6 7-1 3 1 3 3 4 6 1 11-1 3-5 6-1 6 2 8 6 7 1 9zM2199 862l7 0 6-3 2-3-1-3-4-1-6 0-8 1-2 3 1 3 5 3zM2495 862l3 1 1-1-1-1-3 1zM2432 856l6 1 4-1 4-3 2-3 0-3-5-3-8-3-3-3-3-6-4-1-7 0-5 1-2 3 0 3 4 10 3 3 4 2 10 3zM2086 850l7-2 10-5 3 0 10 4 4 1 6-1 4-2 1-4-2-9 2-12-2-5-6-6-3-1-7 1-5 3-7 6-1 2 0 7-14 6-13 3-2 2 1 3 8 7 3 2 3 0zM2465 851l3 0 4-1 3-6-3-3-8 3-2 3 0 3 3 1zM2242 840l4 0 6-2 6-3 1-3-7-9-13-10-3-2-3 0-4 1-6 6-1 2 2 3 9 6 9 11zM2548 839l8-1 7-3 5-3-2-6-4-6-14-9-5-14-6-9-22 0 1 6 0 6-5 9 0 3 4 3 6 1 4 1 6 7 10 5 5 9 2 1zM2193 830l3 1 10-2 5-3 2-3-2-3-12-11-2-6 0-3 2-3 11-9-31 0-6 16-7 4-2 4 1 3 1 3 3 2 4 2 3 0 10-3 3 0 2 1 2 10zM2316 821l3 2 3-3-1-2-2-1-2 1-1 3zM2438 815l4-1 2-2 1-4-3-5-4-3-3 0-6 3-1 3 2 3 5 5 3 1zM2067 801l3 0 1-1 0-3-4-2-2 2 2 4zM2286 801l3 1 3 0 7-5 7-2 10 2 2-3-4-6-32 0-1 6 1 4 4 3zM2558 798l7 0 6-2 2-2 3-6-25 0 2 6 3 3 2 1zM2133 792l2-1 1-3-7 0 1 3 3 1zM1997 789l6 1 8-2-16 0 2 1z"/><path fill="#b9c431" d="M1950 1378l1 0 3-4 2-8-2-5-4-2-3 0 0 19 3 0zM2050 1376l0 2 15 0-4-3-4-1-4 0-3 2zM2196 1376l1 2 4 0 3-3 2-3-3-2-4 1-3 3 0 2zM2292 1378l8 0 2-6-1-3-2-1-7 6-2 4 2 0zM2435 1375l2 3 8 0 1-6-4-6-4-3-3 1-2 2 0 3 2 6zM2073 1367l3 1 4-2 1-3 0-3-1-3-4-2-3 2 0 6 0 4zM2418 1363l0-3 0 3zM2302 1352l4-3 1-3 0-3-1-3-4-2-3 5-1 5 1 3 3 1zM2133 1337l3 0 4-3 0-6-4-4-6 1-6 3 0 3 2 3 7 3zM2435 1337l3 0-3-2-1 2 1 0zM2299 1331l3 3 2-3 1-3-3-4-3 0-2 1 0 3 2 3zM2143 1317l7-1 5-3 3-6 0-3-2-1-3 0-13 7 0 3 1 3 2 1zM2100 1311l0-1-2 0 2 1zM2458 1310l4 0 3-3-1-3-2-2-4 0-2 2 0 3 2 3zM2233 1297l3 1 4-3 2-3-3-2-3 1-3 1-1 3 1 2zM2173 1282l23-3 20-3 3-2 3-2 0-3-3-5-3 0-10 4-10 0-7-3-13-9-3-1-4 0-7 8-2 3 0 3 6 8 3 3 4 2zM2485 1281l6 2 7-2 7-6 2-3 0-3-2-3-4-1-6-1-4 0-6 5-4 6 0 3 4 3zM2007 1263l3-2 2-4-2-1-6 4 3 3zM2382 1260l7-1 16-7 2-4 0-3-3-3-2-1-7 0-4 1-9 8-7 2-10-4-4-3-6-7-3 0-1 1-2 6 1 3 6 9 6 2 13 0 7 1zM2518 1249l3 1 4-1 0-1-2-3-5-2-2-4 0-6 6-14-1-3-3-2-3-1-4 1-1 2-2 3 1 9-6 11 3 3 2 2 10 5zM2080 1246l0-1-3 0 3 1zM2206 1245l3-1 1-2-4-1-2 1 2 3zM2309 1243l7-2 3-2 4-6 0-5-4-5-7-2-3 4-3 8-1 6 4 4zM2226 1228l3-1 7-8 1-3-1-6-3-2-4 2-2 6-3 6-1 3 3 3zM2598 1228l6 2 4-1 3-3 0-47-17-10-3 1-1 2 0 5-3 9 0 3 1 3 3 3 8 3 4 3 0 3-7 6-3 6 0 6 1 3 4 3zM2116 1225l4 0 1-3-1-4-4-1-1 2 0 3 1 3zM2053 1219l4 0 3-2 8-7 2-3 0-3-3-4-7-3-7 0-3 1-2 3 2 12 3 6zM2415 1219l5 0 5-3-1-3-2-2-4 0-2 2-3 3 1 3 1 0zM2518 1205l3 0 7-1 3-3 3-6 1-9-4-14 1-3 6-3 3-3-10-6-3-1-3 1-4 3-1 6-2 3-7 7-8 13 0 3 2 4 13 9zM2402 1187l6 0 4-1 1-3-1-3-4-1-7 1-2 3 1 3 2 1zM2133 1184l10 1 3 1 6-12-1-2-8 0-10 4-3 1-1 3 4 4zM2027 1163l0-2 0 2zM2030 1160l-1 0 1 0zM2558 1157l3 0 3-3-1-3-2-3-3 0-3 3 0 3 3 3zM2213 1152l6 1 7 0 4-2 1-3 1-3-2-3-4-3-17-2-3 2 0 3 3 6 4 4zM2561 1128l7-1 8-6 3-6-1-6-4-2-3 1-25 10 1 3 14 7zM2511 1123l4 0 4-2 1-3 0-8 2-9-4-13-3-4-4-2-3-1-3 2-2 3-2 3 0 3 10 9 1 3-1 3-4 3-1 2 0 3 2 6 3 2zM2213 1110l3-1 8-14 2-2 7-4-1-3-6-2-3-5-1-5 2-12-1-3-4-2-3 1-10 6-13 2-20 8-4 3-1 6 0 3 3 3 5 2 3-1 5-7 2-2 3 0 4 3 3 8 7 12 3 3 7 3zM2385 1104l4 1 3-1 2-3-2-3-3-1-4-1-5 2-1 3 6 3zM2415 1101l7 0 5-3 1-4 1-11 2-3 6-6 2-6-4-13-9-13-4-3-14-2-4 2-3 3 1 1 1 2 11 6 3 3 0 2-1 6-6 9-5 24 2 3 8 3zM2296 1092l6 0 5-3 1-3-2-3-4-4-3-2-3 0-4 1-3 2-2 3 0 3 1 3 8 3zM1967 1075l3 1 7 0 7-3 2-5 0-6-2-3-14 6-4 3-2 3 3 4zM2332 1071l3-1 2-2-2-3-3-1-3 1-1 0-1 3 2 3 3 0zM2043 1065l4 0 3-3 1-6-2-2-2-1-4 0-6 4-1 2 0 3 7 3zM2166 1057l3 2 7-1 6-4 2-3 0-3-7-9-3-9-3-3-18-15-3 2-1 1 0 6 5 9 6 9 3 12 3 6zM2296 1049l3 1 3-1 6-4 1-2 3 2 7 2 6 1 10-1 7-2 2-3 0-3-8-9-7-11-4-3-3 1-4 4-6 15-3 4-5-7-5-4-3-1-4 1-5 4-1 3 2 6 4 6 4 1zM2548 1049l3 0 4-1 2-3-1-3-8-4-6 1-1 3 0 3 7 4zM2023 1025l7-2 3-2 1-3-2-3-2-1-7-4-3 3-1 5 1 5 3 2zM2505 1021l3-1 2-2 0-3-1-3-4-2-7 2-3 3 1 3 5 3 4 0zM2405 1016l3 0 4-4 2-6-1-6 4-8 0-9-2-4-3-1-4 1-1 1-2 3-2 6 1 5 3 6-4 12 2 4zM2531 1013l4 1 10-2 10 2 3-1 18-16-2-3-6 4-7 1-6 0-14-4-6 1-4 4-2 6 0 3 2 4zM2010 1004l7 0 1-1 5-7 22-7 4-3 0-3-2-4-4-1-16 0-4 3-3 11-3 2-10-1-4 1 0 3 1 3 6 4zM2296 992l3 1 3-1 1-6-2-3-2-1-4 1-2 3 3 6zM2508 993l3 0 4-1 2-3 1-3-2-6-1-2-4-2-10 1-3 3 0 3 10 10zM2574 986l4-1 2-5 0-3-2-2-7 2-1 3 1 3 3 3zM1993 981l7 1 3 0 12-5 3-3-2-3-6-3-17-2-6 0-2 2 0 3 1 3 2 3 5 4zM2193 965l3-3 0-4-3-5-4 0-2 3-1 3 3 6 4 0zM2372 966l7 1 6-1 4-4 0-3 0-4-4-1-3 1-8 4-3 3-1 3 2 1zM2462 945l6 1 7-3 5-5 1-2 0-3-6-5-7-1-3 1-3 2-3 3-2 5 1 3 4 4zM2166 933l7 2 3-1 3-1 1-3-1-9 2-6-1-3-4-3-18-9-8-6-2-3 4-12 0-5-2-4-4-1-3 1-6 4-2 2 1 6 3 6 0 3-2 6 1 3 8 13 4 3 10 5 3 2 1 7 2 3zM2541 933l7-2 8-7 2-3 0-3-2-3-5-3-4 0-11 3-5 3-2 3 0 3 2 3 4 3 6 3zM2116 904l4 1 3-2 1-3-4-2-4 0-2 2 2 4zM2312 903l4 0 3-2 2-4-2-2-3 0-4 1-2 4 2 3zM2339 901l6 1 4 0 2-2-4-15-2-1-6 1-4 2-3 4-1 3 1 3 7 4zM2505 901l3 1 3 0 10-5 5-6 0-3-1-2-4-1-3 1-11 5-4 3-1 3 3 4zM1964 897l2-3-2-5-4-2-4 1-2 3 2 3 8 3zM2060 892l7-1 3-3 2-3 0-3-2-3-3-1-4 0-3 1-4 3-2 3 0 3 3 3 3 1zM2422 883l6 0 7-2 2-2 0-3-1-2-5-3-6-2-7 0-3 2-1 3 0 2 2 3 2 3 4 1zM2352 881l13-3 6-2 4-2 2-3 0-3-3-3-12-5-8-7-5-3-20 1-7 3-3 5 0 3 1 3 2 2 13 2 7 3 4 2 3 5 3 2zM2043 865l4 1 3-2 1-2-1-4-3-1-6 2-1 3 3 3zM2611 865l0-29-20 5-13-1-4 1-2 3-1 3 0 6 3 5 4 1 3 0 10-3 7 0 12 6 1 3zM2003 856l7 3 7-1 5-2 3-3 3-9 5-6 0-3-6-5-1-4 3-14 0-3-2-3-4-2-16 0-7 2-3 3 0 3 2 8 2 6 6 5 10 2 2 2 0 3-3 3-13 1-3 0-3 2-1 3 1 3 6 6zM2086 845l4-1 3-2 2-4-5-1-4 1-3 2-1 1 1 1 3 3zM2418 844l4 2 3-2 1-3-1-3-3-2-4-1-2 3 0 3 2 3zM2116 842l4 0 3-1 1-3 1-9 2-9-1-2-3-4-3-2-4-1-5 4-2 3 1 2 2 6-1 9 1 3 4 4zM2242 833l4 1 4-2 1-3-1-3-2-3-12-7-3-1-4 2 0 3 13 13zM2551 828l4 1 0-3 0-3-4 0-1 0 1 5zM2535 819l3 0 3-1 0-6-3-12-3-6-6-6-8 0-1 18 1 3 14 10zM2186 797l7-2 12-7-20 0 0 6 1 3zM2289 795l3-1 12-6-18 0 0 3 3 4zM2561 793l4 0 3-1 2-4-13 0 4 5z"/><path fill="#f8ba3d" d="M2488 1278l3 1 7-1 3-3 2-3-1-3-4-2-3 0-4 2-3 3-2 3 2 3zM2176 1273l3 1 4-1 2-1-1-3-3-3-5-4-3-1-4 2 0 3 1 3 6 4zM2395 1251l6-3-1-3-4 0-3 3 2 3zM2312 1237l4 0 3-3 0-4-3-2-4 1-2 4 1 3 1 1zM2604 1225l4-1 3-3 0-14-7 3-4 3-1 3-1 3 1 3 2 2 3 1zM2057 1214l3-1 3-3 2-3 0-3-5-3-4 0-4 3 1 7 4 3zM2515 1199l6 1 4 0 4-5 2-6 0-6-3-5-3-2-4-1-3 1-3 2-7 8-1 3 0 3 3 3 5 4zM2611 1200l0-17-7-3-3 0-3 1-4 5 0 3 3 3 14 8zM2223 1148l2-3-5 0 3 3zM2565 1125l6-3 3-3 2-4-2-3-3-1-3 1-7 3-3 3 0 3 3 3 4 1zM2209 1101l4 1 1-1 2-4 1-5 1-9-2-11-3-1-14 0-3 1-2 2 6 15 6 9 3 3zM2415 1098l7 1 3-3 1-4 0-9 2-3 8-9 0-3-1-6-3-5-7-6-11 20 0 9-3 9 0 6 4 3zM2296 1087l4-1 0-3-4-2-4 2 1 3 3 1zM2173 1054l3-1 3-2 0-3-2-3-5-6-6-9-3-2-1 2 3 9 1 9 3 5 4 1zM2322 1044l3 0 7-1 3-1 1-3-7-12-4-2-3 1-1 1-3 12 1 3 3 2zM2292 1039l4 2 3-2 0-3-3-3-4 2 0 4zM1993 977l4 1 6-1 5-3-1-3-10-3-4 0-3 1-1 2 0 3 4 3zM2468 942l4-1 4-3 1-2-2-4-3-1-4 0-3 2-2 5 2 3 3 1zM2538 928l3 1 4 0 3-2 4-6 0-3-4-3-3 1-7 1-3 3-1 1-1 3 2 3 3 1zM2156 913l3 0 5-1-1-3-5-3-5-1-3 1 0 3 3 3 3 1zM2143 877l0-1 0 1zM2422 877l3 0 3-1-3-2-3 1 0 2zM2359 874l6 0 4-3-2-3-8-5-10-8-7-1-10 0-6 2-2 3 0 3 3 3 22 4 10 5zM2010 854l3 0 4-1 2-3-2-2-4-1-3 0-3 2-1 1 4 4zM2578 855l3 0 6-2 3-3-2-3-7-3-3 1-3 2-1 3 1 3 3 2zM2010 827l7 1 3-2 3-6 2-5 0-3-2-3-3-2-7-1-6 1-4 2-1 3 0 3 1 5 1 3 3 3 3 1zM2531 809l3 0 1-4-4-7-3-2-2 4 0 3 2 4 3 2z"/><path fill="#f7dc2a" d="M2518 1196l3 0 4-2 2-5-1-6-1-2-4-1-3 1-3 2-4 6 1 3 6 4zM2604 1191l4 1 2-3-2-2-4-1-1 0-1 3 2 2zM2418 1095l4 0 1-3-1-9-4 1-3 5 0 4 3 2zM2209 1089l3-6-1-3-2-1-3 0-2 1 0 3 2 5 3 1zM2422 1079l6-3 5-5 0-3 0-3-5-4-3 0-3 3-3 4 0 6 3 5zM2339 862l3 0 0-3-7 0 2 3 2 0zM2010 823l3 1 3-1 3-3 2-5-2-3-6-2-5 2-2 3 0 3 1 2 3 3z"/><path fill="#f9fb15" d="M2425 1072l3-1 1-3-1-1-3 0-1 1 0 3 1 1z"/></g><g transform="scale(0.25)" fill-rule="evenodd" stroke="#000" stroke-width="1.4"><rect x="1947" y="1544" width="664" height="591" fill="#3e26a8" stroke="none"/><path fill="#422ec0" d="M1950 2135l661 0 0-591-664 0 0 591 3 0zM2140 1650l-1-3 4-3 7 0 2 3-1 3-5 2-6-2z"/><path fill="#4563fd" d="M1950 2135l661 0 0-591-664 0 0 364 10 1 4 1 1 3-1 6-9 12 1 9-3 2-3 1 0 192 3 0zM2538 2091l-1-3 1-5 3-3 4 1 0 4 0 4-4 3-3-1zM2371 2088l-3-3 0-6 3-6 4-4 4-1 3 1 5 4 3 3 1 3-2 4-10 4-4 1-4 0zM2506 2073l-2-3 0-3 1-1 3-2 3 3 1 3-2 3-2 1-2-1zM2527 2011l-1-3 1-3 3-3 8-4 5 1 1 3-2 3-4 3-7 3-4 0zM2042 1996l-2-2-1-4 1-3 3-2 3 5 1 4-1 2-3 1-1-1zM2387 1993l-5-3-4-6 1-5 3-2 3 1 6 3 5 6 0 3-2 3-2 1-5-1zM2103 1940l-4-6 0-3 2-3 5-2 4 0 6 2 3 3 1 3 0 3-4 4-3 1-3 1-7-3zM2478 1931l0-3 4-5 3-2 5 1 1 3-3 6-3 2-3 0-4-2zM2202 1904l0-3 4 0 4 3-1 2-3 0-4-2zM2135 1901l-2-3 3-3 8 0 8 3-1 3-1 2-4 1-6-1-5-2zM2506 1901l-1-3 3-1 5 1-2 4-3 0-2-1zM2307 1872l-5-3-1-3 1-3 4-3 3-1 7 1 2 3 0 6-3 3-3 0-5 0zM2063 1854l-1-3 1-3 4-2 5 2 1 3-3 3-7 0zM2224 1848l2-1 3 1-3 1-2-1zM2565 1848l3-1 1 1-1 1-3-1zM2224 1813l0-3 2-3 7-5 3-1 3 1 2 2 1 3 0 3-3 3-6 1-7 0-2-1zM2478 1786l4-1 1 1-1 3-4-2 0-1zM2328 1768l-14-6-1-3 3-2 5-3 8-3 6 1 5 2 2 3 1 2-1 6-2 3-5 2-3 0-4-2zM2151 1736l2-3 3-1 2 1 1 3-3 3-3-1-2-2zM2420 1733l-3-3 0-3 1-3 9-6 8-3 3 0 4 1 3 2 1 3-1 3-3 4-17 7-5-2zM2171 1721l0-3 1-3 4-5 3-1 5 3 1 3-1 3-4 3-4 1-3 0-2-1zM1974 1718l-2-6 2-4 3 2 3 4 1 4-4 2-3-2zM2392 1694l-2-3-1-3 2-2 4-2 4 0 2 4 0 3-1 3-1 3-4 0-3-3zM2260 1686l-2-3-1-6 2-3 3-2 4-1 6 1 6 5 1 3-1 3-5 3-7 1-6-1zM2106 1668l-5-6-1-3 3-5 3-3 4-1 3 0 6 3 1 3-1 3-4 9-2 1-3 1-4-2zM2304 1659l2-3 3-1 1 1 0 3-1 1-3 2-2-3zM2139 1656l-8-3-3-3 3-6 3-3 6-2 10-2 6 1 3 3 1 3-2 6-2 3-3 3-7 1-7-1zM2084 1647l-1-3 0-3 7-10 3-3 3 0 8 7 1 3 0 3-2 3-13 5-4 0-2-2zM2035 1641l-6-3-2-3 1-3 5-5 14-7 3 9 1 3-1 5-3 3-4 2-8-1zM2251 1618l-12-16-1-5 1-2 3-1 14 2 3 2 3 3 2 5-2 7-3 4-3 1-4 1-1-1zM2002 1567l-2 0-2-3 1-3 5-6 6-3 3-1 6 1 0 3-4 6-8 5-5 1z"/><path fill="#23a0e5" d="M1967 2135l51 0 5-3 7-9 3-1 7 1 8 3 3 3 0 3-1 3 399 0 1-3 0-3-5-6 0-3 3-3 4-1 3 1 7 9 6 3 3 3-1 3 12 0-2-3 5-3 13 2 7 4 106 0 0-295-4-4-9-3-7-1-3 1-4 3-1 3-6 21-3 2-2 1-17-2-23-1-4-1-4-5 1-3 3-3 7-2 13-1 13-7 17-6 6-5 7-8 3-4 7-1 10 2 0-160-3 3-4 1-3-1-2-3 2-3 10-4 0-105-19 0-21 8-4-2-1-3 1-3-54 0 6 8 2 6-3 5-3 0-7-2-7-6-4-5-1-6-195 0-1 6-1 2-3 3-4 1-6-1-3-3-5-8-187 0 0 3-8 1-3 3-7 10-3 1-3-2-4-10-2-3-4-3-4 1-6 2-14 8-22 18-8 4-6 1-4-1-9-6-3-4-1-3 1-3 2-3 8-6 5-8-49 0 0 100 3-3 4-5 3-1 3 2 3 4 1 6-6 12 1 3 11 6 2 3 2 9 6 8 2 15 7 15-1 6-4 4-7 1-3 0-4-2-3-5-3-10-6-9-4-12-4-6-3-3 0 127 7 1 3-1 3-9 4-3 3 1 2 6-2 4-5 5-2 12-1 2-9 7-3 1 0 42 3 1 10-2 4 1 16 10 3 3 1 3-2 5-19 30-1 3 2 3 8 6 2 3 0 6-1 6-3 2-3 1-13-6-7-2 0 155 17-8 3 3-1 5-2 6-10 7-4 4-1 4 2 3 13 3 3 3zM2174 2108l1-3 8-3 6 0 1 3-2 3-5 3-4 0-5-3zM2260 2108l-14-1-7-2-3-3-3-5 0-6 2-3 4-3 3 0 10 6 4 0 6-1 10-6 4 0 3 2 1 8-2 11-2 3-4 1-12-1zM2357 2108l-2-3-1-3 2-8 0-6-2-3-6-6-1-3 2-2 6 2 4 0 6-4 7-7 3-2 4-1 6 3 13 11 1 3 0 3-2 3-15 8-5 4-8 10-4 3-3 1-5-3zM2530 2108l-2-14-4-12-3-2-10 0-6-1-4-1-3-5-1-12-2-9 0-3 3-3 3 1 4 1 12 10 4 6 4 10 3 0 9-7 4-1 8 1 5 3 2 3 1 6 0 15-3 6-3 2-13 8-3 1-5-3zM2074 2088l-2-3 0-3 0-3 4-3 4 1 3 2 1 3 0 3-1 2-3 2-4 0-2-1zM2584 2088l2-3 2-1 4 1 2 3-3 2-3 0-4-2zM2170 2070l-2-3 0-3 3-3 15-12 3 0-1 15-2 5-7 2-6 0-3-1zM2271 2061l-2 0-3-3-6-9 0-3 1-3 1-1 4-2 13 0 7-3 6-1 10 1 1 3-3 3-18 10-6 6-4 2-1 0zM2415 2061l-4-3 1-3 7 3 2 3-6 0zM2436 2052l-2-3-1-6 2-4 3-1 4 2 1 6-1 6-4 2-2-2zM1970 2046l7-16 3-2 6 1 1 3-7 8-6 7-4 1 0-2zM2404 2040l-12-9-26-11-4-3 0-3 20-5 2-1 1-3-2-6-12-15-1-6 0-15 1-5 4-7 7-4 3 0 3 2 1 2 0 4-3 11 1 3 2 3 10 9 11 12 3 9 8 6 2 3 1 3-4 20-2 3-6 5-4 1-4-3zM2161 2034l-5-3-3-5 1-3 2-5 3-2 7-3 7 1 4 3 2 3 0 3-1 3-5 6-4 2-3 2-5-2zM1999 2029l1-3 3-3 4-1 2 1 0 3-2 3-4 1-4-1zM2027 2026l-8-3-2-3 10-18 3-15 7-15 1-6-3-8 0-6 6-9 4-12 5-5 7-2 10 0 2 1 0 3-2 25-4 4-10 6-3 3 0 3 1 3 6 14 3 5 3 1 7-2 3 0 17 13 3-1 10-9 13-8 4-4 1-3-2-3-7-9 1-4 3 0 17 1 1 3-2 12 3 12-2 4-3 2-10 2-10 9-4 1-6 0-7-2-3 0-10 4-7 1-3-2-3-3-4-2-1 4 5 9-3 6-4 3-3 1-7 1-17-1-6-1zM2521 2017l-3-3-1-3 2-6 6-7 10-8 3-1 7 1 7 3 3 3 2 3-1 3-1 3-8 6-9 4-7 2-6 1-4-1zM2167 1996l-1-3 3-3 7-2 3-3 2-7 0-12 2-2 3 0 9 5 1 3 0 3-7 16-3 2-7 0-6 4-4 0-2-1zM2307 1984l-5-3-2-3 0-3 1-3 4-6 4-2 3-1 7 1 3 2 2 3 0 3-3 9-2 3-3 1-4 0-5-1zM2569 1978l-2-3 0-6 4-4 3 0 5 4 1 6-2 4-4 1-3 0-2-2zM2470 1966l-2-3 1-2 6-4 3-1 3 2-3 5-3 3-3 1-2-1zM2238 1961l-2-3-1-3 3-12 1-15 3-3 4-2 3-1 4 0 4 3 1 3-3 12 0 3 4 9 0 3-5 6-5 2-7 0-4-2zM2141 1955l1-3 4-4 4 0 1 1 2 3-3 3-4 1-3 1-2-2zM2290 1952l-1-3 10-8 2 2 1 3-1 3-2 3-3 1-6-1zM2486 1952l-5-6-9-5-7-4-2-3 0-3 3-6 9-11 11-10 4-9 5-4 10-3 20-2 6 1 6 3 1 3-2 5-6 12 0 3 11 18 7 2 7 4 7 6 0 3-4 2-3 0-6-2-4-3-7-10-7-2-13-7-3-1-7 2-7 4-5 8-2 6-1 6-1 3-4 0-2 0zM2107 1949l-7-5-5-4-3-6-1-6 2-3 3-2 7-2 10 0 10 2 3 4 1 4 0 6-1 3-3 3-7 5-3 2-3 0-3-1zM2301 1937l-2-3-3-9 0-6 3-4 3-2 4 0 3 2 3 4 1 6 0 3-4 5-7 5-1-1zM2153 1916l-7-3-13-2-3-2-5-8-1-6 1-2 1-2 4-2 13 0 7-2 4-3 5-8 4-2 3 1 5 6 3 12-1 2-9 9-2 9-3 4-3 1-3-2zM2204 1916l-5-2-3-3-5-10 0-3 1-3 4-2 7-1 13 5 10 3 3 1 0 3-1 3-5 9-4 1-3 1-12-2zM2325 1895l-2-2-2-9-2-3-3-2-27-5-3 0-7 5-10 3-9 8-8 3-6 1-4 0-1-1 0-3 3-9 5-5 23-4 10 0 4-1 6-8 2-6 0-6-2-3 0-3 4 0 1 3 6 3 19 3 3 2 2 4-1 12 2 3 4 2 13 2 4 2 2 3 0 6-1 3-5 2-6 2-7 0-7-2zM2550 1895l-4-2-1-3 3-3 7-1 3 2 2 2 0 3-2 5-3 0-5-3zM2460 1893l-5-5-3-4 0-6 3-6 7-5 10-2 3-1 13-9 3 0 3 2 3 6 0 3-2 3-7 2-13-1-4 5-4 18-2 1-5-1zM1951 1860l-1-3-1-6 1-6 1-3 3-2 6-1 10-3 4 0 3 3 0 3-2 3-8 4-10 13-3 0-3-2zM2056 1860l-3-3-1-6 5-12-1-3-3-2-3-2-13-3-4-2-2-2-1-3 4-6 6-5 3-2 6 1 3 3 6 9 9 11 13 12 3 6 0 3-3 3-4 2-13 2-7-1zM2228 1860l-15-1-4-2-2-3-2-9 2-18 5-17 4-6 13-8 7-2 3 0 3 1 4 3 1 3 1 6-1 6-5 5-3 3-10 4-3 2 0 3 3 2 7 1 3 2 5 10 2 6 0 3-4 5-3 2-11-1zM2361 1845l-1-6 0-12 2-3 3-2 4 1 1 4 2 6-1 6-2 6-4 2-3 0-1-2zM2493 1842l-3-3 0-6 2-3 8-5 5-17 3-2 3-1 8 2 2 3-1 6-10 11-5 11-7 4-3 1-2-1zM2450 1839l0-3 2-1 1 1 0 3-1 1-2-1zM2370 1816l-1-3 0-3 1-6 2-5 3-3 4-1 3 0 3 2 2 4-1 3-4 8-7 4-3 0-2 0zM2477 1798l-9-6-2-3 0-3 1-3 2-3 6-3 7-1 6 2 3 2 3 6-1 9-3 3-5 2-3 0-5-2zM2299 1792l-3-4-4-2-25-6-3-3 3-3 12-9 10-10 3-1 7 1 7 0 19-8 7-2 7 0 10 4 6 5 5 8 2 6 0 3-3 6-4 3-6 2-10 0-7 1-16 7-10 4-4 0-3-2zM1986 1774l-3-3 1-3 3-5 9-6 4-9 3-3 7-1 7 1 4 3-2 3-9 1-8 5-2 2-3 12-3 3-4 1-4-1zM2461 1757l-4-3-1-3-1-3 3-3 24 5 0-2 6-4 3-1 4 0 0 3-4 3-13 2-3 3-7 3-3 0-4 0zM2155 1754l-5-4-7-2-14 3-6 0-11-3-21-18-2-3-3-15-3-3-13-6-1-3 1-3 3-3 3-1 4 0 5 1 3 3 4 9 10 12 4 9 5 3 19 4 6-1 23-13 17-22 3 0 4 2 8 9 2 6 0 3-4 4-13 8-3 3-2 3-3 12-2 3-3 3-4 1-4-1zM2422 1745l-7-4-6-5-2-3-3-12-3-6-6-7-6-6-7-4-3 0-14 2-6 0-7-3-2-3 0-3 12-11 12-6 5-14 3-3 3 0 6 11 3 3 11 4 3 3 2 5 1 14 3 9 2 3 2 2 4 1 16-3 7 0 5 3 4 6 0 3-1 6-3 6-5 6-10 6-7 1-6-1zM2497 1727l-19-18-3-6-3-9 3-3 7 3 7 6 4 3 15 2 3 2 3 5 0 3-1 6-2 3-6 4-4 1-4-2zM2269 1724l-7-6-6-9-19-9-2-3 0-3 1-3 10-8 5-9 5-5 6-2 7 0 17 3 3-2 3-12 7-8 7-3 6 0 4 0 2 2 1 3 0 9-3 7-12 14-5 3-37 14-2 3 1 3 8 2 7 4 4 6 0 6-2 3-6 1-3-1zM2583 1715l-4-3-3-3 0-3 2-2 20 0 5 2 3 3 0 3-5 4-10 1-8-2zM2457 1688l-5-5 0-3 16-5 4-2 1-2 3-18 2-5 4-1 3 1 9 8 11 12 13-3 3 1 4 3 1 5 0 6-1 3-4 3-6 3-4 0-3-2-3-4-4-12-3 0-10 1-9 2-4 3-4 11-3 2-6 0-5-2zM2111 1680l-5-3-13-12-17-9-3-5-2-10 2-3 9-9 4-14 4-3 3 0 3 2 10 11 4 2 10 2 6 5 30-3 7 1 3 1 2 2-1 6-3 9-5 7-3 2-6 2-17-1-3 0-3 2-2 3-5 13-4 2-5 0zM1991 1671l-5-6 2-3 11-6 1-16 2-2 8-1 3-2 9-9 11-8 10-11 4-1 3 0 3 1 4 3 1 5 0 11 1 9 0 3-3 3-6 4-7 2-20-3-6 1-10 8-5 3-2 3-3 13-4 1-2-2zM2189 1647l4 0-4 0zM1988 1632l-1-3 3-2 3 1 3 1 1 3 0 2-4 1-5-3zM2238 1629l2-9-1-5-10-17-3-3-3-1-14 0-3-1-1-2 0-3 1-3 2-3 11-7 4 0 6 1 16 9 17 5 5 4 2 3 1 6-1 9-2 6-5 5-6 4-10 5-4 0-3-1-1-2zM2572 1629l-7-3-2-3 0-3 5-4 6-4 7-2 3 2 2 8-1 6-4 3-3 1-6-1zM2177 1626l-2-3 1-3 3-3 4-1 3 2 0 5-3 6-6-3zM2323 1623l-1-3 3-2 4 2 0 4-4 1-2-2zM2435 1618l-7-2-5-4-2-3 0-3 1-3 6-3 20-4 7 1 4 3 2 3 0 3-3 4-6 6-7 3-3 1-7-2zM2321 1588l-6-3-4-3-2-3 2-3 8-3 3 0 5 3 3 6 0 6-1 1-8-1zM2535 1588l-3-3 0-3 0-6 2-6 2-3 5-2 7 1 5 4 1 3 1 3-1 3-5 6-8 4-3 1-3-2zM2108 1564l-5-1-5-5-5-9 3-1 4 1 6 3 6 3 1 3 0 3-3 3-2 0zM1950 1901l7-3 1-3-1-2-3-5-4-1-3 0 0 14 3 0z"/><path fill="#24c1ae" d="M2073 2135l57 0 3-9 2-15-2 0-17 10-3 1-3-1-2-1-2-3-1-3 1-6 7-9 7-5 3 0 10 3 10 7 7-1 6-2 13-9 4-1 20 4 3 2 2 3 0 5-4 6-8 6-7 2-13 0-4 1-3 2-3 4-3 9 79 0-8-6-2-3 1-3 3-2 7-1 3 1 2 2 6 12 15 0 6-9 1-3 0-4-1-2-6-2-17-2-3 0-3-3-7-10-3-12 1-6 2-2 17-11 5 1 3 9 2 2 3 0 2-2 0-3-7-9-3-9-10-18 0-3 2-3 13-10 5 5 11 4 7 0 10-2 17-2 13-2 5 2 3 3 1 5-3 14-3 2-13-5-7 1-11 6-3 3-4 6 0 6 2 3 3 2 7 1 13-1 3 4 0 6-2 3-14 6-2 3 4 11-3 12-1 15 145 0-3-9 0-6 4-6 10-9 1-3-9-14 1-6 2-3 3-2 20 3 10 6 13 11 4 2 16 1 7-1 2-2 0-3-2-4-3-3-14-4-3-2-4-5-2-12-2-3-5-4-3-1-4 1-3 3-3 6-4 4-3 0-7-4-10 5-6 1-34-2-2 3 0 9-3 6-14 7-4 2-4 5-3 6-1 9-2 5-3 2-20 5-2-3 0-6-1-6-8-14-2-6-1-12-3-12 0-6 2-3 5-1 7 2 8 5 5 0 10-9 7-3 6 2 7 4 3 1 1-1-2-15-1-3-18-12-16-5-7-4-3-4-4-7-2-9 2-3 4 0 13 5 7 0 5-2 1-3-3-5-8-10-2-6-1-12 1-5 3-6 10-15 1-3-1-3-6-9-2-9-4-12 2-1 10 1 7 3 18 24 2 6 0 12-1 3-6 7-2 7 1 3 5 5 9 8 14 4 10 12 3 0 3-2 7-9 4-9 3-9-1-14 4-9-3-12 0-6 2-6 5-9 1-3-1-3-9-12-5-8 1-9 5-15 0-3-3-3-10-5-2-4 1-3 2-9 7-9 6-3 3-1 10 3 3 0 4-4 3-9-2-6-5-5-3-1-17-2-9-4-3-3 0-3 0-3 2-3 7-3 13-2 7-5 7-3 13 0 6 2 7 5 3 6 4 11 3 2 3 0 7-1 7-4 3-1 3 2 13 9 2 3-4 6-17 17-2 3 0 3 2 3 3 1 7 1 7-2 16-11 13-4 7-5 4-6 4-3 8-1 17 3 0-90-20 6-3-1-15-9-4-3-8-10-3-2-12-6-6-6 5-1 13 1 16-1 5 1 9 5 10 2 13 7 0-33-7 4-3 0-10-11-9-6-2-3 4-4 10-4 4-3 1-4-1-4-4-1-6 4-7 1-20-5-6 0-4 1-10 9-19 7-1 3 4 3 3 5 9 25-3 2-6 4-5 5 0 3 1 12-1 12 1 3 2 3 12 6 4 6 1 6-4 9 2 8-3 3-10 5-3 0-4-2-3-3 0-5 7-9 0-6-4-10-3-2-3-1-4 1-3 3-4 9-2 3-4 3-20 7-10 5-6 0-7-2-10-10-7-1-10 1-6-1-17-12-3-2-2-3-2-12-2-6-7-8-7-4-7-1-13 2-7-1-16-6-23-10-7 0-13 7-12 3-1 3 4 12 0 9-1 3-4 2-3 1-7-1-7-2-13-10-24-14-2-3-1-3 1-6 3-7 10-17 4-2 29-4 7-2 11-12 7-12 5-2 7-1 2-3 1-11 9-15-1-6-2-3-25-15-4-10-5-2-15 0-3-3 4-12-2-8-161 0 13 8 2 3 0 6-2 7-4 2-10 1-6-2-10-7-4-1-3 2-3 3-7 10-3 2-12-2-4-3 2-9 1-6-2-3-2-1-3-1-7 3-8 5-7 6-8 10-12 5-8 6-3 2-4 0-13-4-10 3-3-1-2-3 1-3 5-15 0-6-1-5-3-3-20-4 0 71 3-1 14 1 10-3 13 1 10 0 13 3 3-1 14-7 7-7 6-9 3-1 10 4 8 6 4 6 2 14 3 2 3-1 3-4 3-11 4-7 6-5-5-9-1-6 2-3 1-1 7-1 3 1 2 1 1 3 1 3-3 6-6 6 5 6 14 11 6 1 10 0 20-5 13 1 4 0 6-3 10-8 14-5 2-4 4-12 7-9 1-3-9-15-1-3 2 0 14 6 13 3 10 7 6 3 7 0 12-1 1 2 2 7 2 3 10 6 2 3 1 3-7 24-6 8-17 12-10 11-3 2-13-7-10-2-4 1-8 16-5 3-7 1-6-1-3-3-4-9-3-1-9 10-5 4-6 2-17 0-3 1-2 2-1 3-1 9-2 3-10 8-6 12-1 6 2 6 4 6 4 3 6 3 7 0 7-2 13-7 6-6 8-12 3-12 2-2 4-1 3 1 7 5 12 15 2 3 2 6-1 6-3 6-15 5-4 4-2 6 1 15 1 2 4 2 3 0 13-6 4 0 3 3 3 17 4 3 6 2 4-1 6-2 7-6 6-7 4-2 3 0 13 4 7-1 7-5 10-13 3-1 3 0 10 4 7 0 7-3 8-5 1-3 2-9 2-2 3 0 4 2 6 7 17 7 3 4 4 6 2 5 1 6-4 18-1 3 1 1 4 1 20 1 6 3 1 3 1 6-1 6-8 15-3 11-4 9-4 6-4 3-8 5-6 2-4 0-3-1-3-3 3-12 0-6-2-6-5-8 0-3 1-3 9-7 4-4 1-10 0-3-1-1-17-4-7 0-3 1-16 10-4 3-10 10-12 8-1 3 1 3 12 7 6 10 3 3 5 1 13 0 7 2 5 3 3 3-1 3-4 6-1 3 4 2 10 0 3 3 3 7 2 12 0 11-5 2-36 0-2 1-1 3 5 15 0 3-1 3-9 12-1 3 0 6 2 4 3 2 14 4 9 7 2 6-1 10-2 5-3 3-9 4-6 2-3-1-14-5-12-3-4-4-5-17-2-3-4-2-6-2-7 3-6 4-7 4-13 1-10 5-13 2-7 3-3 3-1 3 1 3 3 9 0 3-3 3-10 6-3 3-2 12 2 6 6 4 3 5 1 5-3 9 0 6 2 3 14 6 4 3 1 3-2 3-10 2-17-1-16 3-7-4-7-9 0-6 10-15 0-3-10-5-14-12-1-3 1-3 3-6 10-9 1-3-3-9 1-6 2-3 8-6 2-3 1-3-1-6-3-4-3-3-4-1-9 2-6 3-2 3-1 3-1 6 4 15-4 9-4 3-13 1-13 9-4 1-16-1-7 2-7 3-9 10-10 7-4 0-10-3-10-2-13 0-4 2-9 11-14-4-3 1-11 10-9 6-10 2-13-1 0 37 6-2 7-8 4-1 3 0 13 5 13-5 4 0 5 3 0 3-5 4-4 2-9 0-4 2-2 3-2 6 1 6 3 8 4 3 3 0 20-2 7-3 5-6 1-3-6-11-1-6 1-3 2-3 7-4 7-3 3 1 3 6 0 3-1 6-7 11 1 3 8 5 6 2 20 0 4 2 3 6 1 3-1 6 3 0zM2075 2097l-6-3-3-3-3-6 0-6 1-6 3-2 3-2 6 0 7 2 5 5 2 6-1 6-3 4-6 4-5 1zM2033 2079l-3-6-1-6 0-6 2-3 6-4 13-4 3 0 3 2 3 6-1 3-3 6-7 6-8 4-4 2-3 3 0-3zM2312 2017l-4-3-2-3 1-3 2-3 3-3 4-2 3 1 2 7-2 6-3 3-4 0zM2234 2005l-8-3 0-3 2-3 5-2 3 0 7 2 4 3 2 3 0 3-3 1-12-1zM2422 1898l-3-3-1-2-1-3 1-3 4-3 3 0 3 1 3 2 2 3-1 5-4 5-3 0-3-2zM2401 1774l-3-3-2-6 0-3 3-2 3-1 6 1 7 2 2 3 0 3-2 3-3 2-7 2-4-1zM2204 1677l2-5 3-1 2 3-2 2-3 2-2-1zM2515 2135l59 0 14-11 3-1 3 1 2 2 1 3-1 6 15 0 0-20-7 0-1-1-5-9-15-5-5-1-4 1-2 2-1 10-1 2-2 3-3 0-10-2-17 5-17-3-6 1-4 1-3 4 0 3 5 9 2 0zM2611 2092l0-5 0 5zM2571 2073l7 2 6 0 7-1 7-4 2-3 2-6-3-12 0-6 5-6 4-2 3 0 0-88-5-1-5-3-3-3 0-3 5-9 1-3-2-9 0-3 3-3 6-3 0-24-7 2-10-1-11-3-12-6-6-1-10-5-14 0-4 3 8 3 16 0 4 2 3 5 1 5-1 14 1 6 2 3 10 6 2 3-1 6-3 12 0 3 3 12 6 14 2 9 0 9-2 4-13 5-3 3-6 15 1 6 7 13 12 10 1 3-3 3-3 2-7 1-3-2-6-10-14-7-6-7-7-1-17 2-5-1-3-3-3-6 1-6 10-15 4-9 3-2 7-1 16 2 4-1 1-4 0-15-1-2-2-3-15-11-13-7-10-7-4-1-3 1-4 4-1 6 2 9-1 3-3 3-10 4-5 4-4 6-2 12-2 4-6 5-5 3-15 6-6 3-7 6-5 12 1 3 10 5 3 3 7 21 3 5 4 2 7-4 6-9 10-9 2-3 1-5 1-6-3-12 0-3 2-3 3-1 3 1 4 3 4 9 7 9 3 8 4 6 19 12 16 5 7 3 13 10zM1957 2040l3 0 4-1 3-5 2-11 1-3 4-2 10-4 1-3-1-4-5-5-5-3-10-3-5-3-2-2 0-4 2-6-1-3-5-9-4-8-2-3 0 76 7 5 3 1zM2083 1985l7 2 6-2 6-4 2-3 0-3-1-6-7-17-10-13-3-4-3 0-4 2-1 3-1 18-7 8-1 3 0 3 1 3 3 3 13 7zM2020 1981l3-1 4-3 2-5 0-6-6-11-3-4-6-5 1-3 12-3 3-2 3-4 6-9 3-3 15-5 10-6 3-1 3 2 7 5 3 2 3 0 30-6 3-3 0-3-1-14 2-7 3-2 17-1 6-2 7-12 6-5 7 0 8 5 6 6 3 6 3 3 3 0 7-2 3-1 14 10 6 2 7 0 6-3 3-6 2-9-1-3-3-3-7-3-9 0-14 4-4-4-2-21 2-18 4-17-1-6-3-3-10-4-6 0-4 1-4 3-2 3 1 9 0 3-2 3-6 3-7 1-6 0-5-1 0-3 1-3 9-15 4-9 13-9 5-6 0-3-4-6-7-3-3 0-7 1-7 5-9 11-3 1-4 0-4-3-1-3 0-3 2-3 5-6 2-3 0-3-4-2-13 0-7-2-23-11-10-3-7 0-9 4-7 0-10-2-3-1-3-3-1-3 2-6 3-9 11-9-1-6 0-6 2-6 3-4 4-2 6-2 23 2 3-2 0-6-3-6-8-6-12-4-9-1-4 0-3 2-3 3-1 3-1 9-2 4-3 2-7 1-10-1-2-3 1-3 5-8 9-10 1-3-2-3-6-3-12-3-4 1-5 2-5 4-3 5-2 6 3 15-1 4-3 2-10 1-4 2-3 3-2 5 2 6 8 12 1 12 3 3 8 1 2-1 2-3-6-9-1-6 0-6 2-6 1-2 3-1 19 18 1 6 0 9 3 6 1 6-2 12-1 14-2 3-3 3-6 2-3 0-4-2-3-3-1-3 1-3-3-1-2 7-3 3-8 4-17 2-3 3 2 18-1 6-3 9 0 3 1 3 7 8 2 9-3 6-9 6-3 3-1 3 1 6 7 8 4 4 12 6 3 3 5 11 0 3-2 3-9 2-6 4-6 6-3 6-1 3 2 3 4 3 2 3 1 15 1 6 3 4 3 2 10-1 3 1 7 7 7 12 3 1zM2047 1872l-2-3-1-9-4-8-8-7-6-9-6-5-3-1-10-1-7-2-3-2-1-3-1-3 2-4 3-1 3 0 10 4 4 0 6-3 17-12 7-2 3 0 5 3 8 13 7 4 6 2 4 0 10-3 6-1 10 3 3 3 1 2-1 6-3 5-9 7 1 3 2 2 9 4 0 3-2 3-7 3-17 0-12 3-7 3-7 4-4 1-6-2zM2117 1851l3-2 3 1 1 1-4 1-3-1zM2213 1953l10-1 3-1 3-4 2-4 0-3-2-5-3-2-3 1-7 3-3 3-2 3-2 6 1 3 3 1zM2266 1947l3 1 7-1 10-5 5-5 1-6-2-12 1-6 8-7 15-5 1-3 1-5-2-6-2-2-3-2-7-1-10 1-10 5-35 13-6 3-3 3-3 6 1 4 3 0 10-1 7 0 6 1 4 2-1 6-4 9-1 6 2 4 4 3zM2169 1943l4 3 3 0 3-2 12-10 4-6-1-3-6-15-2-3-3-3-4 0-3 0-3 2-3 4-5 24 2 6 2 3zM2140 1938l3-1 7-2 1-1 2-3-2-6-5-4-3-1-3 0-3 2-2 3 1 10 4 3zM2482 1888l6-3 3-1 2-3-5-2-6 0-3 2-1 3 1 3 3 1zM2508 1876l3-3 4-10-3-9-4-3-3 1-1 2 0 3 3 12 0 6 1 1zM2259 1864l17-1 5-3 0-3-3-9 4-12 1-3-1-3-6-8 0-3 5-12 1-9-3-5-7-2-10 1-5 3-1 2-3 16-5 12 6 35 2 2 3 2zM2598 1860l3 0 3-3 1-6-1-3-3-4-3-2-4 0-3 2-3 4 0 6 3 4 7 2zM2468 1853l4 1 3-1 3-2 2-3 0-6-2-3-3-2-4-1-3 2-2 4-1 3 0 5 3 3zM1950 1783l5-3 2-3 0-3-8-12 1-5 4-9 0-3-7-10 0 49 3-1zM1980 1753l4-1 3-4 2-6-1-3-1-1-6 1-4 3-1 3 1 5 3 3zM2468 1740l4 1 6 0 5-2 4-3 2-3 0-3-3-6-4-3-7-2-7 0-2 2-3 6-1 6 2 3 4 4zM2070 1721l3 1 3-1 1-3-4-3-6-1-4 1 2 3 5 3zM2425 1705l3 0 7-1 7-4 2-3-1-3-1-3-4-2-6-1-7 0-3 1-2 2 0 6 2 6 3 2zM2339 1680l6 2 4-1 5-4 8-9 5-9 5-18 3-6 10-19 4 0 6 7 13 10 6 8 0 6-9 12 1 3 2 2 14 5 13-3 17 2 6-2 7-5 3-5 1-6 0-3-3-3-14-4-20-1-4-3-4-10-9-11-2-6 1-6 1-3 3-4 4-2 23-4 10 2 11 5 3 3 1 3-10 15 0 2 2 3 3 1 3 1 7-2 4-3 9-8 3-1 7-2 7 2 2 4-1 5-4 6-11 9-2 3 0 3 1 3 5 5 6 4 7 2 9-2 3-3-2 0-3-5-1-4 0-6 3-6 10-6 2-3 1-20-2-3-3-3-10-4-4-2-2-3-1-3 1-9-1-3-14-15-7-11-82 0 5 14-1 3-6 12-1 15 0 3-3 4-4 3-3 1-3-1-7-10-13-11-7 0-14 5 1 6 3 6 13 9 5 6 0 3-8 5-7 2-10 1-3 3-3 6-9 9-2 3-4 21-1 6 1 3 3 3 12 6zM2203 1636l3 1 3-1 8-10 9-3 5-3 1-2 0-3-5-9-4-5-4-1-6 0-9 3-3 3-4 9-1 11 2 6 5 4zM2598 1627l3-1 10-10 0-10-10 1-3 2-2 3-2 3 0 5 4 7zM2558 1603l12-3 6-3 5-10 13 3 17 6 0-52-2 0-2 3-1 5 3 6 0 3-2 3-3 2-3 1-3-1-4-8-3-2-3 0-4 1-5 4-2 3-1 9-2 5-19 13-4 4-1 2 1 3 4 2 3 1zM2339 1577l3 2 2-3-1-3-1-3-3-4-4 0-1 1 0 3 1 3 4 4zM2306 1565l6 1 6-2 4-3 8-17-24 0 2 8-1 3-3 6 0 3 2 1zM2365 1559l7 1 3-1 4-2 2-5 1-8-30 0-1 3 0 3 3 2 11 7zM2535 1554l16-1 3-3 2-6-33 0 5 6 7 4zM1977 1545l4-1-6 0 2 1z"/><path fill="#8fcb4e" d="M2100 2135l17 0-1-3-3 0-10 1-3 1-1 1 1 0zM2163 2135l14 0 2-3-1-3-7-3-5 0-4 3-1 6 2 0zM2189 2133l8 2 25 0-8-6-1-3 2-6 10-9 0-3-5-14-4-5-7 0-3 2-2 3-1 11-3 6-18 18 5 3 2 1zM2302 2135l31 0 8-15 1-3-2-6-5-5-6-4-7-1-6 3-7 5-7 11-2 6 0 9 2 0zM2365 2135l13 0-3-2-3-1-3 0-6 3 2 0zM2405 2135l26 0-2-9 0-6 4-6 8-9 1-3 0-2-9-18-5-4-6-1-4 0-3 2-2 6 1 12-2 3-7-2-6-1-7 3-4 5 0 9 3 6 8 8 5 7 1 0zM2521 2135l38 0-1-3-2-3-5-2-13 0-10-1-3 0-5 3 0 3 1 3zM2090 2130l3-1 6-21 3-6 6-8 1-9 1-3 3-3 7-3 3 0 3 3 3 6 3 3 8 3 6 2 7-1 3-4 2-3-1-6-5-9-1-3 6-15-1-6-5-6-5-2-13 0-3-2-2-4 0-3 3-9-1-3-4-3-3 0-10 7-7 2-13-2-7 0-3 2-4 3-8 8-4 6-1 3 0 6 3 9 4 4 13 4 5 7 5 9-1 6-5 8-7 6-10 6 2 6 5 9 6 5 4 2zM2101 2055l-5-3-1-3 1-5 7-5 3 0 4 1 5 6 1 3 0 3-3 2-3 1-9 0zM2040 2112l7 2 6-1 13-5 3-3-4-5-5-6-7-6-3-1-3 1-4 4-6 10-1 6 4 4zM1948 2085l1-3-2-3 0 7 1-1zM1977 2082l7 0 16-7 10-2 2 0 0-3-19-16-3 0-3 0-17 10-5 6 1 3 1 3 4 3 6 3zM2223 2068l6 0 4-2 3-5 0-3 0-6-5-9-1-6 2-5 10-9 1-3 0-3-1-3-6-3-17-1-10 1-7 3-4 3-1 3 0 6 7 8 2 6-2 15 0 3 5 4 14 6zM2581 2065l3 1 4-2 2-3-1-3-5-1-3 2-2 2 1 3 1 1zM2299 2064l5-3-1-3-4 1-2 2 2 3zM2355 2056l4 1 3-1 10-10 2-3-1-3-4-3-4 0-6 3-4-1-6-6-4-2-3-1-3 2-3 5 0 6 1 3 3 3 12 5 3 2zM2551 2049l4 0 0-3 0-1-4-2-2 0-1 3 3 3zM2027 2046l6 0 5-3-1-3-7-1-6 1-1 3 4 3zM2462 2039l3 1 7-3 3-3 2-2 1-3-4-9-1-12-1-2-4-1-6 0-7 2-4 4-2 6 1 6 7 9 5 7zM2588 2029l3 1 5-1 4-3 4-8 7-4 0-61-13-3-4 2-1 3 1 6 9 23 1 6-3 3-5 3-15 5-3 3-2 4-1 6 2 6 4 5 7 4zM2279 2026l14-3 3-3-4-4-15-11-2-3-1-3 3-15-1-8-4-7-3-2-3 0-14 8-11 3-4 3 0 3 3 3 12 6 15 12 3 6 3 12 3 2 3 1zM2332 2018l3 1 1-2-1-4-3 0-1 1 1 4zM1950 2012l5-4 1-3-2-3-7-6 0 17 3-1zM2498 2000l3 2 4 0 4-3 4-6 1-12 4-5 3-1 17 0 7-3 1-3 1-3-2-5-2-3-5-5-7-3-6-1-7 0-2 3-5 9-3 1-13 4-4 3-2 6 2 18 1 3 6 4zM2150 1980l3 1 3-2 4-4-1-3-3-3-3 0-3 2-2 4 2 5zM2086 1976l4 0 3-1 1-3-1-3-3-2-4 0-3 1-2 1 1 3 4 4zM2408 1973l7 2 20-1 3-2 4-6 0-7-6-13-2-12-3-3-12-9-10-21-2-8 1-6 7-6 10-6 10 0 3-3-2-3-4-2-10-10-4-2-6-2-23-3-14 6-8 7-3 6 1 12 1 6 3 6 6 2 16 3 4 3 2 3 3 12 2 5 5 7 4 15 4 9 0 6-2 3-9 5 0 3 4 4zM2342 1952l3 2 4 1 3-2 3-4 0-3-3-2-10 2-2 3 2 3zM2319 1946l3 2 7-1 5-1 0-3-4-6-5-2-3 1-3 4-1 3 1 3zM2269 1941l3 1 7-2 7-6 1-3-1-3-4-5-3-1-3 2-7 6-3 7 1 3 2 1zM1997 1937l3 0 7-2 6-4 5-6 5-9 0-6-2-3-4-1-10 7-17 3-3 3 0 3 4 9 2 4 4 2zM2179 1927l2-2 0-3-2-6-1 6 1 5zM2043 1910l4 1 3-2 2-2 2-9 6-5 7-3-5-3-12-3-8 0-2 3 0 11-1 6 0 3 4 3zM2086 1911l7 0 10-2 6-2 2-3 1-9-4-14-3-6-5-3-7-2-10 1-4 1-3 3-1 6 8 9-1 14 1 3 3 4zM2581 1905l10 1 4-2 9-5 4-1 3 1 0-6-7 2-15-5-8-1-4 4-1 5 2 5 3 2zM2216 1887l7 1 4-1 2-3 1-3 0-3-2-3-5-3-4 0-5 3-2 3 0 3 1 3 3 3zM1997 1875l6 1 10-2 13-5 4-3 2-3 0-3-2-3-13-13-9-5-11-3-4 1-1 2-5 15-7 6 0 3 10 9 7 3zM2183 1861l4-1 1-3-2-3-3 0-4 3 1 3 3 1zM2339 1840l3-2 1-2-1-3-6-8-1-9 1-3 9-7 3-2 1-3 0-3-2-3-5-3-3-1-5 1-5 3-5 6-1 6-3 3-9 6-2 3-1 3 4 6 7 6 20 6zM2422 1836l6-2 7-5 10-10 2-3 0-3-2-3-4-3-13-3-3-1-1-2 1-12-1-6-4-3-5 0-7 3-3 3 0 6 3 15-1 3-5 7-2 5 1 3 4 2 10 7 7 2zM2123 1826l6-7 9-9 0-3-1-3-3-3-11-6-3 0-7 4-7 0-13-4-10-1-3-2 3-1 6-5 4-10 3-2 7 1 7 0 6-4 2-3 0-3-2-3-5-3-13-5-8-3-4 0-3 3 0 3 4 8-1 3-10 3-3 0-3-3-6-9-4-2-3-2-7 0-3 2-4 3-5 17-5 6-6 4-17 7-3 1-10-4-4 1-1 3 1 4 4 0 6-1 4 1 6 6 4 2 3 0 7-2 13-10 7-2 6 0 6 2 4 3 7 12 3 2 7 0 10-3 6 1 18 6 3 3 3 5 3 2zM2601 1801l10 0 0-66-3-3-4-1-3 1-7 6-3 1-3 0-4-2-4-10-6-6-19-12-12-6-5-1-3 1-1 3 3 9-1 6 1 3 10 12 7 12 0 3-1 17-2 3-8 9-1 3 1 3 6 6 9 3 10 2 16 0 17 4zM2375 1780l4 2 6 1 4-1 3-2 1-3-4-9-4-5-3-3-3 1-4 8-1 8 1 3zM2163 1779l3-2-3-2-2 2 2 2zM2432 1768l3 3 3 0 4-2 2-4-1-3-5-2-3 1-3 3-1 1 1 3zM2501 1766l4 0 0-4-5 0 0 3 1 1zM2226 1763l3 0 10-6 7-3 3 1 10 4 3 1 7-2 3-2 4-5 5-9 0-3-3-3-19-7-23-15-7-3-13-3-3 2-2 5-2 6 0 6 3 6 10 12 2 6 0 8 2 4zM2382 1752l7-4 2-3 2-18-1-3-3-5-4-3-6-3-14 1-16-5-17-4-10 0-4 1-9 12-8 6-4 9 0 6 2 3 3 2 4 1 5 0 5-3 1-3-1-12 3-3 10-3 6 0 14 8 13 5 3 2 14 14 3 2zM2472 1734l3 1 3 0 3-2 1-3-2-3-5-1-3 1-2 3 2 4zM2126 1720l7 1 10-3 9-6 7-8 3-4 2-6-3-14 2-6 0-1-7-2-10-1-4 1-2 1-3 8-12 11-3 6-2 15 3 6 3 2zM2037 1709l3 0 3-2 3-4 1-3-1-3-3-2-6-1-4 1-4 2-1 3 1 3 2 3 6 3zM2080 1680l3 0 3-2 2-1-2-3-6-3-4 0-3 0-3 3 1 3 2 1 7 2zM2551 1680l10 1 12-1 11-4 3-2 1-3-4-5-6-3-10-2-13 0-10-8-4 0-3 1-2 2-1 3 3 10 3 5 3 3 7 3zM2020 1677l4 0 3-2 3-4 2-6 0-3-2-3-3-1-4 0-3 2-4 5-1 6 2 4 3 2zM2169 1671l4 0-4-1-3 1 3 0zM2342 1672l3 0 4-1 3-6 5-12-1-6-1-2-3-1-7 1-6 3-4 3-3 5-1 6 1 3 3 3 7 4zM2448 1659l4 0 6-3 2-3-1-3-6-3-5-1-6 1-4 3-1 3 2 3 6 3 3 0zM2256 1656l3 1 7-1 10-6 7-6 1-3 4-12 12-9 12-17 0-3-1-3-3-3-6-4-6-1-4 1-3 3-8 16-6 17-6 6-11 6-5 6-2 6 1 3 4 3zM2209 1617l6-2 2-3-1-2-3 0-3 2-1 3 0 2zM1984 1612l6 0 13-3 7 0 7 0 6-3 3-3 1-3-1-3-3-6-3-3-3-1-4 1-3 1-7 7-3 3-3 0-10-3-7 1-4 3-1 3 1 3 2 3 6 3zM2113 1609l10 1 8-1 19-6 9-8 20 0 7-2 3-2 2-6 3-15-4-9-8-9-1-2 0-6-33 0 0 6 2 1 13 5 3 3 3 5-1 3-2 3-10 7-6 0-17-5-5 7-2 6-2-3-6-3-8 0-3 3 0 9-4 9 1 3 2 3 7 3zM2067 1601l3 1 3 0 2-2 2-3-1-3-2-3-4-3-3-1-9 1-1 3 2 3 8 7zM1950 1587l5-5 5-15-1-3-2-1-3 2-7 6 0 17 3-1zM2604 1586l7 2 0-16-8 4-3 3 0 3 4 4zM2415 1580l3 0 4-1 10-9 10-6 0-3-8-17-21 0 2 3 8 8 0 3-1 3-7 9-1 3-1 3 2 4zM2488 1581l3-1 6-4 1-3 0-3-1-3-19-23-9 0-1 3-1 5 1 6 10 11 7 10 3 2zM2213 1550l3 1 7 1 3 0 4-2-2-3-4-3-16 0 5 6zM2369 1547l1 0 0-3-2 0-1 3 2 0zM2123 1544l3 0-5 0 2 0zM2252 1544l-1 0 1 0z"/><path fill="#fec338" d="M2306 2135l18 0 2-6 7-9 0-3 0-3-4-2-4-1-6 2-7 4-3 3-3 6-1 6 0 3 1 0zM2415 2135l7 0-4-11-3-1-2 3 0 3 1 6 1 0zM2047 2109l3-1 5-3 1-3-1-2-5-3-3 1-4 3-1 4 1 2 4 2zM2428 2105l4-1 1-2 0-2-1-3-4 0-1 5 1 3zM2143 2083l4-1-2-3-2-1-1 1 0 3 1 1zM1980 2076l7-1 5-5 1-3-3-4-3-1-3 0-5 2-4 3-1 3 1 3 2 2 3 1zM2100 2074l3 1 6-2 7-6 0-3-10-2-6 1-3 1-1 3 1 3 3 4zM2219 2061l7 0 3-3 0-6-5-9-3-6 2-5 10-12-2-3-5-1-10 2-6 2-2 3 0 3 6 11 0 3-4 12 1 3 2 3 6 3zM2140 2059l3 1 3-2 3-3 1-3 0-3-4-4-3 0-3 1-5 3-1 3 0 3 2 3 4 1zM2076 2053l4 2 3-3 0-4-3-4-4 3 0 2 0 4zM2086 2037l5-3 2-2-3-3-4 1-1 4 1 3zM2262 1989l4 0 3-4 0-4-3-3-4 0-3 2-2 4 2 3 3 2zM2501 1980l4-5-4-3-3 3 1 3 2 2zM2525 1967l6 2 4 0 3-3 0-3-3-5-4-1-3 0-3 1-3 3 0 2 1 3 2 1zM2375 1888l4 1 6-1 27-12 6-4 1-3 0-3-1-3-6-4-13-2-10 1-13 5-4 4-2 8 1 9 4 4zM2010 1866l3 0 4-2 1-1 1-3-2-3-4-2-6-2-2 1-1 3 1 6 2 3 3 0zM2598 1789l7-3 6-1 0-25-1-6-2-5-4-2-5 1-4 3 0 3 7 5 2 3 0 6-3 11-6 7 1 3 2 0zM2558 1787l7 1 3-2 1-3-1-15-3-2-11 14 1 4 3 3zM2050 1783l7 0 3-2 2-4 0-6-2-4-3-2-4-1-3 1-3 3-1 3-1 6 1 3 4 3zM2259 1752l3 1 4-1 3-2 3-5 0-3-2-3-8-3-10 0-3-1-11-8-9-6-6-1-4 1-1 3 1 5 14 15 3 2 13-3 10 9zM2568 1739l3-1 3-2 1-6-2-3-5-4-7-2-3 0-3 2-2 4 2 7 3 3 10 2zM2130 1713l3 1 3 1 7-3 7-5 6-7 2-3 0-6-2-3-3-5-3-2-4 0-10 6-6 7-3 6 0 6 0 3 3 4zM2143 1594l3-3-1-3-2-1-2 1-2 3 1 3 3 0zM2176 1588l4 0 3-3 0-3-4-5-3-1-7 2-2 4 1 3 1 1 4 2 3 0zM2163 1546l3 0 4-2-10 0 3 2z"/><path fill="#f9fb15" d="M2395 1872l4 1 6 0 4-1 2-3 0-3-3-3-3-1-8 1-3 3-1 3 2 3zM2136 1704l4 1 7-5 2-3 1-3-1-3-3-1-3 1-6 3-2 3 0 3 1 4z"/></g><text transform="translate(0.30,12.70) scale(1.04,1.12)" font-size="14" font-weight="bold">a</text><text transform="translate(232.20,12.60) scale(1.15,1.0)" font-size="14" font-weight="bold">b</text><text transform="translate(460.00,12.60) scale(1.08,1.12)" font-size="14" font-weight="bold">c</text><text transform="translate(-0.20,199.40) scale(1.1,1)" font-size="14" font-weight="bold">d</text><text transform="translate(230.80,199.40) scale(1.18,1.1)" font-size="14" font-weight="bold">e</text><text transform="translate(459.60,198.80) scale(1.1,1)" font-size="14" font-weight="bold">f</text><text transform="translate(0.20,384.20) scale(1.08,1.1)" font-size="14" font-weight="bold">g</text><text transform="translate(230.30,385.00) scale(1.1,1)" font-size="14" font-weight="bold">h</text><text transform="translate(459.80,385.00) scale(1.1,1)" font-size="14" font-weight="bold">i</text><path d="M30.0 38V113.8L106.0 148.6L205.0 122.4" fill="none" stroke="#262626" stroke-width="0.5"/><path d="M30.0 38.00l1.98 -0.52" stroke="#262626" stroke-width="0.5"/><text x="25.60" y="40.30" font-size="7.3" text-anchor="end">20</text><path d="M30.0 56.95l1.98 -0.52" stroke="#262626" stroke-width="0.5"/><text x="25.60" y="59.10" font-size="7.3" text-anchor="end">10</text><path d="M30.0 75.90l1.98 -0.52" stroke="#262626" stroke-width="0.5"/><text x="25.60" y="77.50" font-size="7.3" text-anchor="end">0</text><path d="M30.0 94.85l1.98 -0.52" stroke="#262626" stroke-width="0.5"/><text x="25.60" y="96.10" font-size="7.3" text-anchor="end">−10</text><path d="M30.0 113.80l1.98 -0.52" stroke="#262626" stroke-width="0.5"/><text x="25.60" y="113.90" font-size="7.3" text-anchor="end">−20</text><path d="M30.00 113.80l1.98 -0.52" stroke="#262626" stroke-width="0.5"/><text x="22.50" y="120.20" font-size="7.3" text-anchor="middle">20</text><path d="M49.00 122.50l1.98 -0.52" stroke="#262626" stroke-width="0.5"/><text x="42.50" y="129.10" font-size="7.3" text-anchor="middle">10</text><path d="M68.00 131.20l1.98 -0.52" stroke="#262626" stroke-width="0.5"/><text x="62.30" y="138.10" font-size="7.3" text-anchor="middle">0</text><path d="M87.00 139.90l1.98 -0.52" stroke="#262626" stroke-width="0.5"/><text x="77.00" y="147.10" font-size="7.3" text-anchor="middle">−10</text><path d="M106.00 148.60l1.98 -0.52" stroke="#262626" stroke-width="0.5"/><text x="95.50" y="155.60" font-size="7.3" text-anchor="middle">−20</text><path d="M106.00 148.60l-1.52 -0.70" stroke="#262626" stroke-width="0.5"/><text x="115.00" y="156.40" font-size="7.3" text-anchor="middle">−20</text><path d="M130.75 142.05l-1.52 -0.70" stroke="#262626" stroke-width="0.5"/><text x="139.60" y="150.00" font-size="7.3" text-anchor="middle">−10</text><path d="M155.50 135.50l-1.52 -0.70" stroke="#262626" stroke-width="0.5"/><text x="160.70" y="143.00" font-size="7.3" text-anchor="middle">0</text><path d="M180.25 128.95l-1.52 -0.70" stroke="#262626" stroke-width="0.5"/><text x="187.10" y="136.70" font-size="7.3" text-anchor="middle">10</text><path d="M205.00 122.40l-1.52 -0.70" stroke="#262626" stroke-width="0.5"/><text x="211.40" y="130.40" font-size="7.3" text-anchor="middle">20</text><text transform="translate(55.00,146.20) rotate(24.6) skewX(-14)" font-size="7.3" text-anchor="middle"><tspan font-style="italic">y</tspan> (μm)</text><text transform="translate(169.50,152.80) rotate(-14.8) skewX(-14)" font-size="7.3" text-anchor="middle"><tspan font-style="italic">x</tspan> (μm)</text><text transform="translate(8.20,74.90) rotate(-90)" font-size="7.3" text-anchor="middle"><tspan font-style="italic">z</tspan> (μm)</text><text x="105.80" y="29.90" font-size="7.3" font-style="italic">R</text><text x="110.50" y="31.80" font-size="5.4" font-style="italic">q</text><text x="117.50" y="29.90" font-size="7.3">=</text><text x="123.60" y="29.90" font-size="7.3">2.0</text><text x="136.10" y="29.90" font-size="7.3">μm</text><path d="M34.25 215.75V291.75L110.0 327.0L210.0 300.0" fill="none" stroke="#262626" stroke-width="0.5"/><path d="M34.25 215.75l2.00 -0.54" stroke="#262626" stroke-width="0.5"/><text x="29.50" y="218.35" font-size="7.3" text-anchor="end">20</text><path d="M34.25 234.75l2.00 -0.54" stroke="#262626" stroke-width="0.5"/><text x="29.50" y="237.10" font-size="7.3" text-anchor="end">10</text><path d="M34.25 253.75l2.00 -0.54" stroke="#262626" stroke-width="0.5"/><text x="29.50" y="256.35" font-size="7.3" text-anchor="end">0</text><path d="M34.25 272.75l2.00 -0.54" stroke="#262626" stroke-width="0.5"/><text x="29.50" y="275.10" font-size="7.3" text-anchor="end">−10</text><path d="M34.25 291.75l2.00 -0.54" stroke="#262626" stroke-width="0.5"/><text x="29.50" y="292.00" font-size="7.3" text-anchor="end">−20</text><path d="M34.25 291.75l2.00 -0.54" stroke="#262626" stroke-width="0.5"/><text x="29.30" y="301.20" font-size="7.3" text-anchor="middle">20</text><path d="M53.19 300.56l2.00 -0.54" stroke="#262626" stroke-width="0.5"/><text x="45.30" y="307.30" font-size="7.3" text-anchor="middle">10</text><path d="M72.12 309.38l2.00 -0.54" stroke="#262626" stroke-width="0.5"/><text x="64.20" y="315.70" font-size="7.3" text-anchor="middle">0</text><path d="M91.06 318.19l2.00 -0.54" stroke="#262626" stroke-width="0.5"/><text x="79.50" y="324.60" font-size="7.3" text-anchor="middle">−10</text><path d="M110.00 327.00l2.00 -0.54" stroke="#262626" stroke-width="0.5"/><text x="101.10" y="333.80" font-size="7.3" text-anchor="middle">−20</text><path d="M110.00 327.00l-1.52 -0.71" stroke="#262626" stroke-width="0.5"/><text x="118.00" y="336.70" font-size="7.3" text-anchor="middle">−20</text><path d="M135.00 320.25l-1.52 -0.71" stroke="#262626" stroke-width="0.5"/><text x="142.20" y="330.10" font-size="7.3" text-anchor="middle">−10</text><path d="M160.00 313.50l-1.52 -0.71" stroke="#262626" stroke-width="0.5"/><text x="164.50" y="321.60" font-size="7.3" text-anchor="middle">0</text><path d="M185.00 306.75l-1.52 -0.71" stroke="#262626" stroke-width="0.5"/><text x="192.00" y="314.00" font-size="7.3" text-anchor="middle">10</text><path d="M210.00 300.00l-1.52 -0.71" stroke="#262626" stroke-width="0.5"/><text x="216.30" y="306.90" font-size="7.3" text-anchor="middle">20</text><text transform="translate(56.50,324.50) rotate(25.0) skewX(-14)" font-size="7.3" text-anchor="middle"><tspan font-style="italic">y</tspan> (μm)</text><text transform="translate(172.60,330.20) rotate(-15.1) skewX(-14)" font-size="7.3" text-anchor="middle"><tspan font-style="italic">x</tspan> (μm)</text><text transform="translate(12.45,252.75) rotate(-90)" font-size="7.3" text-anchor="middle"><tspan font-style="italic">z</tspan> (μm)</text><text x="113.10" y="214.90" font-size="7.3" font-style="italic">R</text><text x="117.80" y="216.80" font-size="5.4" font-style="italic">q</text><text x="124.80" y="214.90" font-size="7.3">=</text><text x="130.90" y="214.90" font-size="7.3">3.0</text><text x="143.40" y="214.90" font-size="7.3">μm</text><path d="M33.75 408V484.0L110.0 519.0L208.75 492.0" fill="none" stroke="#262626" stroke-width="0.5"/><path d="M33.75 408.00l1.98 -0.54" stroke="#262626" stroke-width="0.5"/><text x="29.20" y="410.65" font-size="7.3" text-anchor="end">20</text><path d="M33.75 427.00l1.98 -0.54" stroke="#262626" stroke-width="0.5"/><text x="29.20" y="429.40" font-size="7.3" text-anchor="end">10</text><path d="M33.75 446.00l1.98 -0.54" stroke="#262626" stroke-width="0.5"/><text x="29.20" y="448.65" font-size="7.3" text-anchor="end">0</text><path d="M33.75 465.00l1.98 -0.54" stroke="#262626" stroke-width="0.5"/><text x="29.20" y="467.40" font-size="7.3" text-anchor="end">−10</text><path d="M33.75 484.00l1.98 -0.54" stroke="#262626" stroke-width="0.5"/><text x="29.20" y="482.10" font-size="7.3" text-anchor="end">−20</text><path d="M33.75 484.00l1.98 -0.54" stroke="#262626" stroke-width="0.5"/><text x="25.30" y="492.10" font-size="7.3" text-anchor="middle">20</text><path d="M52.81 492.75l1.98 -0.54" stroke="#262626" stroke-width="0.5"/><text x="45.00" y="499.60" font-size="7.3" text-anchor="middle">10</text><path d="M71.88 501.50l1.98 -0.54" stroke="#262626" stroke-width="0.5"/><text x="63.90" y="508.00" font-size="7.3" text-anchor="middle">0</text><path d="M90.94 510.25l1.98 -0.54" stroke="#262626" stroke-width="0.5"/><text x="79.20" y="516.90" font-size="7.3" text-anchor="middle">−10</text><path d="M110.00 519.00l1.98 -0.54" stroke="#262626" stroke-width="0.5"/><text x="100.80" y="526.10" font-size="7.3" text-anchor="middle">−20</text><path d="M110.00 519.00l-1.53 -0.70" stroke="#262626" stroke-width="0.5"/><text x="117.70" y="529.00" font-size="7.3" text-anchor="middle">−20</text><path d="M134.69 512.25l-1.53 -0.70" stroke="#262626" stroke-width="0.5"/><text x="141.90" y="522.40" font-size="7.3" text-anchor="middle">−10</text><path d="M159.38 505.50l-1.53 -0.70" stroke="#262626" stroke-width="0.5"/><text x="164.20" y="513.90" font-size="7.3" text-anchor="middle">0</text><path d="M184.06 498.75l-1.53 -0.70" stroke="#262626" stroke-width="0.5"/><text x="191.70" y="506.30" font-size="7.3" text-anchor="middle">10</text><path d="M208.75 492.00l-1.53 -0.70" stroke="#262626" stroke-width="0.5"/><text x="216.00" y="499.20" font-size="7.3" text-anchor="middle">20</text><text transform="translate(56.20,516.80) rotate(24.7) skewX(-14)" font-size="7.3" text-anchor="middle"><tspan font-style="italic">y</tspan> (μm)</text><text transform="translate(170.00,522.20) rotate(-15.3) skewX(-14)" font-size="7.3" text-anchor="middle"><tspan font-style="italic">x</tspan> (μm)</text><text transform="translate(11.95,445.00) rotate(-90)" font-size="7.3" text-anchor="middle"><tspan font-style="italic">z</tspan> (μm)</text><text x="108.80" y="405.60" font-size="7.3" font-style="italic">R</text><text x="113.50" y="407.50" font-size="5.4" font-style="italic">q</text><text x="120.50" y="405.60" font-size="7.3">=</text><text x="126.60" y="405.60" font-size="7.3">5.0</text><text x="139.10" y="405.60" font-size="7.3">μm</text><path d="M256.6 13.5V156.4H437.8" fill="none" stroke="#262626" stroke-width="0.5"/><path d="M256.6 156.40h2" stroke="#262626" stroke-width="0.5"/><text x="253.40" y="158.90" font-size="7.3" text-anchor="end">−20</text><path d="M256.6 138.54h2" stroke="#262626" stroke-width="0.5"/><text x="253.40" y="141.04" font-size="7.3" text-anchor="end">−15</text><path d="M256.6 120.68h2" stroke="#262626" stroke-width="0.5"/><text x="253.40" y="123.18" font-size="7.3" text-anchor="end">−10</text><path d="M256.6 102.81h2" stroke="#262626" stroke-width="0.5"/><text x="253.40" y="105.31" font-size="7.3" text-anchor="end">−5</text><path d="M256.6 84.95h2" stroke="#262626" stroke-width="0.5"/><text x="253.40" y="87.45" font-size="7.3" text-anchor="end">0</text><path d="M256.6 67.09h2" stroke="#262626" stroke-width="0.5"/><text x="253.40" y="69.59" font-size="7.3" text-anchor="end">5</text><path d="M256.6 49.22h2" stroke="#262626" stroke-width="0.5"/><text x="253.40" y="51.72" font-size="7.3" text-anchor="end">10</text><path d="M256.6 31.36h2" stroke="#262626" stroke-width="0.5"/><text x="253.40" y="33.86" font-size="7.3" text-anchor="end">15</text><path d="M256.6 13.50h2" stroke="#262626" stroke-width="0.5"/><text x="253.40" y="16.00" font-size="7.3" text-anchor="end">20</text><path d="M256.60 156.4v-2" stroke="#262626" stroke-width="0.5"/><text x="256.60" y="165.10" font-size="7.3" text-anchor="middle">−20</text><path d="M279.25 156.4v-2" stroke="#262626" stroke-width="0.5"/><text x="279.25" y="165.10" font-size="7.3" text-anchor="middle">−15</text><path d="M301.90 156.4v-2" stroke="#262626" stroke-width="0.5"/><text x="301.90" y="165.10" font-size="7.3" text-anchor="middle">−10</text><path d="M324.55 156.4v-2" stroke="#262626" stroke-width="0.5"/><text x="324.55" y="165.10" font-size="7.3" text-anchor="middle">−5</text><path d="M347.20 156.4v-2" stroke="#262626" stroke-width="0.5"/><text x="347.20" y="165.10" font-size="7.3" text-anchor="middle">0</text><path d="M369.85 156.4v-2" stroke="#262626" stroke-width="0.5"/><text x="369.85" y="165.10" font-size="7.3" text-anchor="middle">5</text><path d="M392.50 156.4v-2" stroke="#262626" stroke-width="0.5"/><text x="392.50" y="165.10" font-size="7.3" text-anchor="middle">10</text><path d="M415.15 156.4v-2" stroke="#262626" stroke-width="0.5"/><text x="415.15" y="165.10" font-size="7.3" text-anchor="middle">15</text><path d="M437.80 156.4v-2" stroke="#262626" stroke-width="0.5"/><text x="437.80" y="165.10" font-size="7.3" text-anchor="middle">20</text><text x="347.20" y="174.60" font-size="7.3" text-anchor="middle"><tspan font-style="italic">y</tspan> (μm)</text><text transform="translate(238.30,84.95) rotate(-90)" font-size="7.3" text-anchor="middle"><tspan font-style="italic">z</tspan> (μm)</text><text x="328.90" y="29.90" font-size="7.3" font-style="italic">R</text><text x="333.60" y="31.80" font-size="5.4" font-style="italic">q</text><text x="340.60" y="29.90" font-size="7.3">=</text><text x="346.70" y="29.90" font-size="7.3">2.0</text><text x="359.20" y="29.90" font-size="7.3">μm</text><path d="M256.75 201.75V345H438" fill="none" stroke="#262626" stroke-width="0.5"/><path d="M256.75 345.00h2" stroke="#262626" stroke-width="0.5"/><text x="253.55" y="347.50" font-size="7.3" text-anchor="end">−20</text><path d="M256.75 327.09h2" stroke="#262626" stroke-width="0.5"/><text x="253.55" y="329.59" font-size="7.3" text-anchor="end">−15</text><path d="M256.75 309.19h2" stroke="#262626" stroke-width="0.5"/><text x="253.55" y="311.69" font-size="7.3" text-anchor="end">−10</text><path d="M256.75 291.28h2" stroke="#262626" stroke-width="0.5"/><text x="253.55" y="293.78" font-size="7.3" text-anchor="end">−5</text><path d="M256.75 273.38h2" stroke="#262626" stroke-width="0.5"/><text x="253.55" y="275.88" font-size="7.3" text-anchor="end">0</text><path d="M256.75 255.47h2" stroke="#262626" stroke-width="0.5"/><text x="253.55" y="257.97" font-size="7.3" text-anchor="end">5</text><path d="M256.75 237.56h2" stroke="#262626" stroke-width="0.5"/><text x="253.55" y="240.06" font-size="7.3" text-anchor="end">10</text><path d="M256.75 219.66h2" stroke="#262626" stroke-width="0.5"/><text x="253.55" y="222.16" font-size="7.3" text-anchor="end">15</text><path d="M256.75 201.75h2" stroke="#262626" stroke-width="0.5"/><text x="253.55" y="204.25" font-size="7.3" text-anchor="end">20</text><path d="M256.75 345v-2" stroke="#262626" stroke-width="0.5"/><text x="256.75" y="353.70" font-size="7.3" text-anchor="middle">−20</text><path d="M279.41 345v-2" stroke="#262626" stroke-width="0.5"/><text x="279.41" y="353.70" font-size="7.3" text-anchor="middle">−15</text><path d="M302.06 345v-2" stroke="#262626" stroke-width="0.5"/><text x="302.06" y="353.70" font-size="7.3" text-anchor="middle">−10</text><path d="M324.72 345v-2" stroke="#262626" stroke-width="0.5"/><text x="324.72" y="353.70" font-size="7.3" text-anchor="middle">−5</text><path d="M347.38 345v-2" stroke="#262626" stroke-width="0.5"/><text x="347.38" y="353.70" font-size="7.3" text-anchor="middle">0</text><path d="M370.03 345v-2" stroke="#262626" stroke-width="0.5"/><text x="370.03" y="353.70" font-size="7.3" text-anchor="middle">5</text><path d="M392.69 345v-2" stroke="#262626" stroke-width="0.5"/><text x="392.69" y="353.70" font-size="7.3" text-anchor="middle">10</text><path d="M415.34 345v-2" stroke="#262626" stroke-width="0.5"/><text x="415.34" y="353.70" font-size="7.3" text-anchor="middle">15</text><path d="M438.00 345v-2" stroke="#262626" stroke-width="0.5"/><text x="438.00" y="353.70" font-size="7.3" text-anchor="middle">20</text><text x="347.38" y="363.20" font-size="7.3" text-anchor="middle"><tspan font-style="italic">y</tspan> (μm)</text><text transform="translate(238.45,273.38) rotate(-90)" font-size="7.3" text-anchor="middle"><tspan font-style="italic">z</tspan> (μm)</text><text x="324.50" y="214.90" font-size="7.3" font-style="italic">R</text><text x="329.20" y="216.80" font-size="5.4" font-style="italic">q</text><text x="336.20" y="214.90" font-size="7.3">=</text><text x="342.30" y="214.90" font-size="7.3">3.0</text><text x="354.80" y="214.90" font-size="7.3">μm</text><path d="M256.75 390.75V533.75H438" fill="none" stroke="#262626" stroke-width="0.5"/><path d="M256.75 533.75h2" stroke="#262626" stroke-width="0.5"/><text x="253.55" y="536.25" font-size="7.3" text-anchor="end">−20</text><path d="M256.75 515.88h2" stroke="#262626" stroke-width="0.5"/><text x="253.55" y="518.38" font-size="7.3" text-anchor="end">−15</text><path d="M256.75 498.00h2" stroke="#262626" stroke-width="0.5"/><text x="253.55" y="500.50" font-size="7.3" text-anchor="end">−10</text><path d="M256.75 480.12h2" stroke="#262626" stroke-width="0.5"/><text x="253.55" y="482.62" font-size="7.3" text-anchor="end">−5</text><path d="M256.75 462.25h2" stroke="#262626" stroke-width="0.5"/><text x="253.55" y="464.75" font-size="7.3" text-anchor="end">0</text><path d="M256.75 444.38h2" stroke="#262626" stroke-width="0.5"/><text x="253.55" y="446.88" font-size="7.3" text-anchor="end">5</text><path d="M256.75 426.50h2" stroke="#262626" stroke-width="0.5"/><text x="253.55" y="429.00" font-size="7.3" text-anchor="end">10</text><path d="M256.75 408.62h2" stroke="#262626" stroke-width="0.5"/><text x="253.55" y="411.12" font-size="7.3" text-anchor="end">15</text><path d="M256.75 390.75h2" stroke="#262626" stroke-width="0.5"/><text x="253.55" y="393.25" font-size="7.3" text-anchor="end">20</text><path d="M256.75 533.75v-2" stroke="#262626" stroke-width="0.5"/><text x="256.75" y="542.45" font-size="7.3" text-anchor="middle">−20</text><path d="M279.41 533.75v-2" stroke="#262626" stroke-width="0.5"/><text x="279.41" y="542.45" font-size="7.3" text-anchor="middle">−15</text><path d="M302.06 533.75v-2" stroke="#262626" stroke-width="0.5"/><text x="302.06" y="542.45" font-size="7.3" text-anchor="middle">−10</text><path d="M324.72 533.75v-2" stroke="#262626" stroke-width="0.5"/><text x="324.72" y="542.45" font-size="7.3" text-anchor="middle">−5</text><path d="M347.38 533.75v-2" stroke="#262626" stroke-width="0.5"/><text x="347.38" y="542.45" font-size="7.3" text-anchor="middle">0</text><path d="M370.03 533.75v-2" stroke="#262626" stroke-width="0.5"/><text x="370.03" y="542.45" font-size="7.3" text-anchor="middle">5</text><path d="M392.69 533.75v-2" stroke="#262626" stroke-width="0.5"/><text x="392.69" y="542.45" font-size="7.3" text-anchor="middle">10</text><path d="M415.34 533.75v-2" stroke="#262626" stroke-width="0.5"/><text x="415.34" y="542.45" font-size="7.3" text-anchor="middle">15</text><path d="M438.00 533.75v-2" stroke="#262626" stroke-width="0.5"/><text x="438.00" y="542.45" font-size="7.3" text-anchor="middle">20</text><text x="347.38" y="551.95" font-size="7.3" text-anchor="middle"><tspan font-style="italic">y</tspan> (μm)</text><text transform="translate(238.45,462.25) rotate(-90)" font-size="7.3" text-anchor="middle"><tspan font-style="italic">z</tspan> (μm)</text><text x="329.20" y="402.70" font-size="7.3" font-style="italic">R</text><text x="333.90" y="404.60" font-size="5.4" font-style="italic">q</text><text x="340.90" y="402.70" font-size="7.3">=</text><text x="347.00" y="402.70" font-size="7.3">5.0</text><text x="359.50" y="402.70" font-size="7.3">μm</text><rect x="486.6" y="14.4" width="168.14999999999998" height="150.2" fill="none" stroke="#777" stroke-width="0.5"/><text x="483.00" y="165.30" font-size="7.3" text-anchor="end">−50</text><text x="483.00" y="150.53" font-size="7.3" text-anchor="end">−40</text><text x="483.00" y="135.76" font-size="7.3" text-anchor="end">−30</text><text x="483.00" y="120.99" font-size="7.3" text-anchor="end">−20</text><text x="483.00" y="106.22" font-size="7.3" text-anchor="end">−10</text><text x="483.00" y="91.45" font-size="7.3" text-anchor="end">0</text><text x="483.00" y="76.68" font-size="7.3" text-anchor="end">10</text><text x="483.00" y="61.91" font-size="7.3" text-anchor="end">20</text><text x="483.00" y="47.14" font-size="7.3" text-anchor="end">30</text><text x="483.00" y="32.37" font-size="7.3" text-anchor="end">40</text><text x="483.00" y="17.60" font-size="7.3" text-anchor="end">50</text><text x="488.60" y="173.10" font-size="7.3" text-anchor="middle">−50</text><text x="570.67" y="173.10" font-size="7.3" text-anchor="middle">0</text><text x="654.75" y="173.10" font-size="7.3" text-anchor="middle">50</text><rect x="663.25" y="14.5" width="9.0" height="150.1" fill="url(#parv)" stroke="#262626" stroke-width="0.5"/><path d="M672.25 15.00h-1.5" stroke="#262626" stroke-width="0.5"/><text x="674.85" y="17.50" font-size="7.3" text-anchor="start">6</text><path d="M672.25 35.01h-1.5" stroke="#262626" stroke-width="0.5"/><text x="674.85" y="37.51" font-size="7.3" text-anchor="start">4</text><path d="M672.25 55.03h-1.5" stroke="#262626" stroke-width="0.5"/><text x="674.85" y="57.53" font-size="7.3" text-anchor="start">2</text><path d="M672.25 75.04h-1.5" stroke="#262626" stroke-width="0.5"/><text x="674.85" y="77.54" font-size="7.3" text-anchor="start">0</text><path d="M672.25 95.05h-1.5" stroke="#262626" stroke-width="0.5"/><text x="674.85" y="97.55" font-size="7.3" text-anchor="start">−2</text><path d="M672.25 115.07h-1.5" stroke="#262626" stroke-width="0.5"/><text x="674.85" y="117.57" font-size="7.3" text-anchor="start">−4</text><path d="M672.25 135.08h-1.5" stroke="#262626" stroke-width="0.5"/><text x="674.85" y="137.58" font-size="7.3" text-anchor="start">−6</text><path d="M672.25 155.09h-1.5" stroke="#262626" stroke-width="0.5"/><text x="674.85" y="157.59" font-size="7.3" text-anchor="start">−8</text><rect x="486.75" y="197" width="166.0" height="147.5" fill="none" stroke="#777" stroke-width="0.5"/><text x="483.15" y="347.00" font-size="7.3" text-anchor="end">−50</text><text x="483.15" y="332.25" font-size="7.3" text-anchor="end">−40</text><text x="483.15" y="317.50" font-size="7.3" text-anchor="end">−30</text><text x="483.15" y="302.75" font-size="7.3" text-anchor="end">−20</text><text x="483.15" y="288.00" font-size="7.3" text-anchor="end">−10</text><text x="483.15" y="273.25" font-size="7.3" text-anchor="end">0</text><text x="483.15" y="258.50" font-size="7.3" text-anchor="end">10</text><text x="483.15" y="243.75" font-size="7.3" text-anchor="end">20</text><text x="483.15" y="229.00" font-size="7.3" text-anchor="end">30</text><text x="483.15" y="214.25" font-size="7.3" text-anchor="end">40</text><text x="483.15" y="199.50" font-size="7.3" text-anchor="end">50</text><text x="488.75" y="353.00" font-size="7.3" text-anchor="middle">−50</text><text x="569.75" y="353.00" font-size="7.3" text-anchor="middle">0</text><text x="652.75" y="353.00" font-size="7.3" text-anchor="middle">50</text><rect x="660.25" y="197" width="9.25" height="147.5" fill="url(#parv)" stroke="#262626" stroke-width="0.5"/><path d="M669.5 197.00h-1.5" stroke="#262626" stroke-width="0.5"/><text x="672.10" y="199.50" font-size="7.3" text-anchor="start">10</text><path d="M669.5 210.29h-1.5" stroke="#262626" stroke-width="0.5"/><text x="672.10" y="212.79" font-size="7.3" text-anchor="start">8</text><path d="M669.5 223.58h-1.5" stroke="#262626" stroke-width="0.5"/><text x="672.10" y="226.08" font-size="7.3" text-anchor="start">6</text><path d="M669.5 236.86h-1.5" stroke="#262626" stroke-width="0.5"/><text x="672.10" y="239.36" font-size="7.3" text-anchor="start">4</text><path d="M669.5 250.15h-1.5" stroke="#262626" stroke-width="0.5"/><text x="672.10" y="252.65" font-size="7.3" text-anchor="start">2</text><path d="M669.5 263.44h-1.5" stroke="#262626" stroke-width="0.5"/><text x="672.10" y="265.94" font-size="7.3" text-anchor="start">0</text><path d="M669.5 276.73h-1.5" stroke="#262626" stroke-width="0.5"/><text x="672.10" y="279.23" font-size="7.3" text-anchor="start">−2</text><path d="M669.5 290.02h-1.5" stroke="#262626" stroke-width="0.5"/><text x="672.10" y="292.52" font-size="7.3" text-anchor="start">−4</text><path d="M669.5 303.31h-1.5" stroke="#262626" stroke-width="0.5"/><text x="672.10" y="305.81" font-size="7.3" text-anchor="start">−6</text><path d="M669.5 316.59h-1.5" stroke="#262626" stroke-width="0.5"/><text x="672.10" y="319.09" font-size="7.3" text-anchor="start">−8</text><path d="M669.5 329.88h-1.5" stroke="#262626" stroke-width="0.5"/><text x="672.10" y="332.38" font-size="7.3" text-anchor="start">−10</text><path d="M669.5 343.17h-1.5" stroke="#262626" stroke-width="0.5"/><text x="672.10" y="345.67" font-size="7.3" text-anchor="start">−12</text><rect x="486.75" y="385.9" width="166.0" height="147.85000000000002" fill="none" stroke="#777" stroke-width="0.5"/><text x="483.15" y="536.25" font-size="7.3" text-anchor="end">−50</text><text x="483.15" y="521.47" font-size="7.3" text-anchor="end">−40</text><text x="483.15" y="506.68" font-size="7.3" text-anchor="end">−30</text><text x="483.15" y="491.89" font-size="7.3" text-anchor="end">−20</text><text x="483.15" y="477.11" font-size="7.3" text-anchor="end">−10</text><text x="483.15" y="462.32" font-size="7.3" text-anchor="end">0</text><text x="483.15" y="447.54" font-size="7.3" text-anchor="end">10</text><text x="483.15" y="432.75" font-size="7.3" text-anchor="end">20</text><text x="483.15" y="417.97" font-size="7.3" text-anchor="end">30</text><text x="483.15" y="403.18" font-size="7.3" text-anchor="end">40</text><text x="483.15" y="388.40" font-size="7.3" text-anchor="end">50</text><text x="488.75" y="542.25" font-size="7.3" text-anchor="middle">−50</text><text x="569.75" y="542.25" font-size="7.3" text-anchor="middle">0</text><text x="652.75" y="542.25" font-size="7.3" text-anchor="middle">50</text><rect x="660.25" y="386.25" width="9.25" height="147.5" fill="url(#parv)" stroke="#262626" stroke-width="0.5"/><path d="M669.5 385.54h-1.5" stroke="#262626" stroke-width="0.5"/><text x="672.10" y="388.04" font-size="7.3" text-anchor="start">15</text><path d="M669.5 409.29h-1.5" stroke="#262626" stroke-width="0.5"/><text x="672.10" y="411.79" font-size="7.3" text-anchor="start">10</text><path d="M669.5 433.04h-1.5" stroke="#262626" stroke-width="0.5"/><text x="672.10" y="435.54" font-size="7.3" text-anchor="start">5</text><path d="M669.5 456.79h-1.5" stroke="#262626" stroke-width="0.5"/><text x="672.10" y="459.29" font-size="7.3" text-anchor="start">0</text><path d="M669.5 480.55h-1.5" stroke="#262626" stroke-width="0.5"/><text x="672.10" y="483.05" font-size="7.3" text-anchor="start">−5</text><path d="M669.5 504.30h-1.5" stroke="#262626" stroke-width="0.5"/><text x="672.10" y="506.80" font-size="7.3" text-anchor="start">−10</text><path d="M669.5 528.05h-1.5" stroke="#262626" stroke-width="0.5"/><text x="672.10" y="530.55" font-size="7.3" text-anchor="start">−15</text></svg></body></html>
